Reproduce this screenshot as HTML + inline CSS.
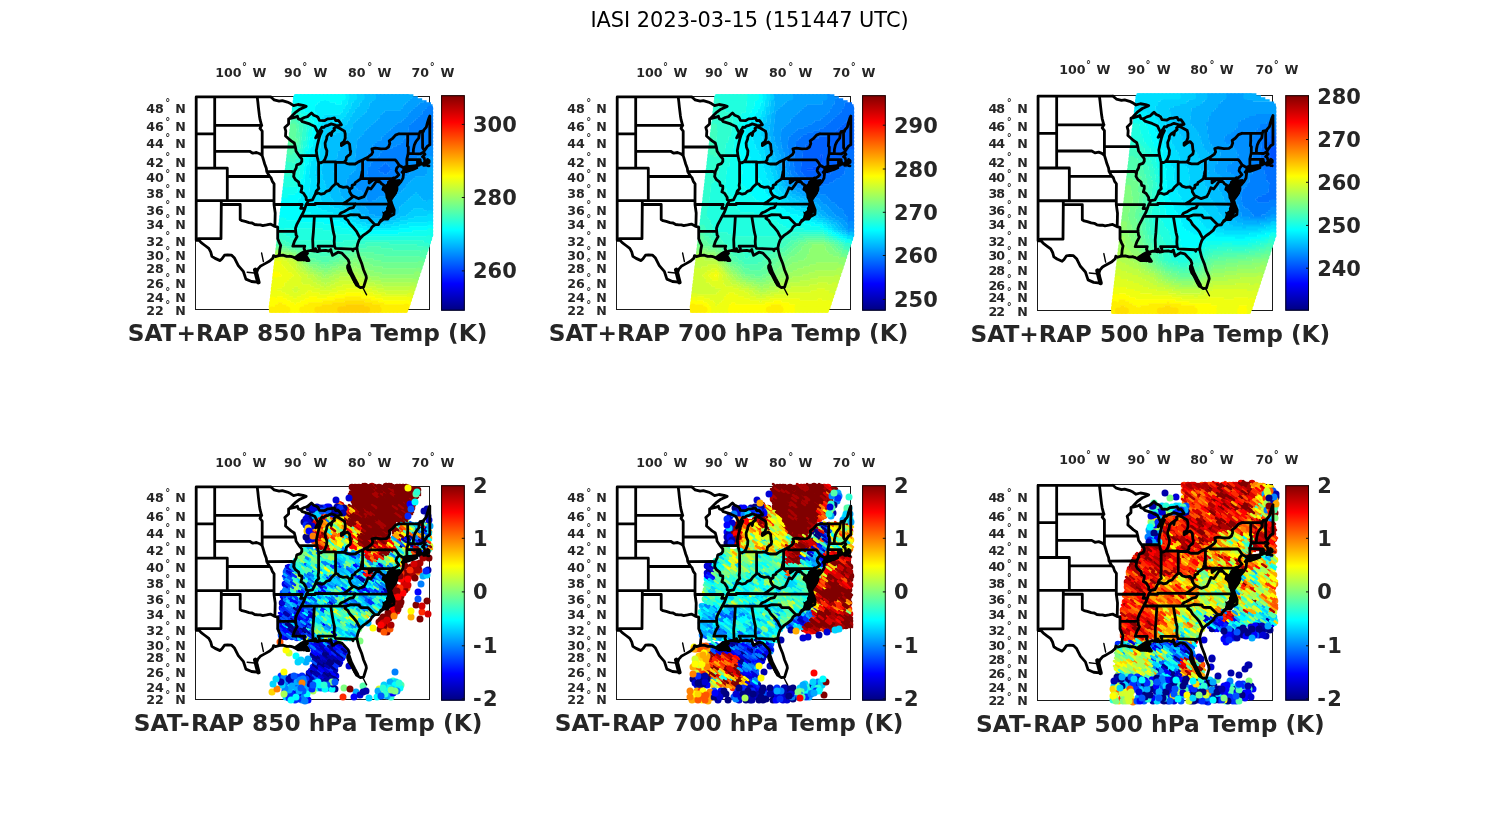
<!DOCTYPE html>
<html lang="en"><head><meta charset="utf-8"><title>IASI 2023-03-15 (151447 UTC)</title>
<style>html,body{margin:0;padding:0;background:#fff}svg{display:block}text{font-family:'DejaVu Sans','Liberation Sans',sans-serif;fill:#262626}.b{font-weight:bold}.t{font-size:12.6px;font-weight:bold}.c{font-size:20.95px;font-weight:bold}.x{font-size:23.27px;font-weight:bold}.d{font-size:10px;font-weight:bold}</style></head><body>
<svg width="1500" height="825" viewBox="0 0 1500 825">
<defs><linearGradient id="jet" x1="0" y1="1" x2="0" y2="0">
<stop offset="0" stop-color="#000080"/>
<stop offset="0.125" stop-color="#0000ff"/>
<stop offset="0.375" stop-color="#00ffff"/>
<stop offset="0.625" stop-color="#ffff00"/>
<stop offset="0.875" stop-color="#ff0000"/>
<stop offset="1" stop-color="#800000"/>
</linearGradient>
<g id="bd" fill="none" stroke="#000" stroke-linejoin="round" stroke-linecap="round"><path d="M196.2 96.9L270.7 96.9M196.2 96.9L196.2 240.3M196.2 133.8L214.7 133.8M214.7 96.9L214.7 168.2M214.7 125.4L261.8 125.4M214.7 151.3L249.6 151.3L252.8 153.2L256.5 152.5L259.7 153.7L262.2 155.6M196.2 168.2L227.3 168.2L227.3 200.6M227.3 176.5L269.7 176.5M196.2 200.6L274.0 200.6M221.3 200.6L221.3 204.5L221.0 238.7L198.7 238.7L199.0 240.3L196.2 240.3M221.3 204.5L240.2 204.5L240.2 219.5L242.1 220.7L245.2 221.4L249.0 222.6L252.1 223.0L254.7 224.5L257.8 224.9L260.3 224.9L262.8 225.6L266.6 224.9L270.4 224.1L274.9 226.4M274.9 226.4L277.7 227.1L277.7 238.7L279.2 242.4L280.7 245.4L279.8 249.7L279.5 253.4L278.9 255.6M274.0 200.6L274.0 204.5L275.2 213.0L274.9 226.4M274.0 200.6L274.1 183.8L272.3 181.4L271.0 177.7L269.7 176.5L266.8 171.7L266.3 168.2L264.7 164.0L263.5 159.8L262.2 155.6L262.2 151.3L262.2 147.0L262.2 131.1L260.0 128.4L261.6 125.4L260.0 119.4L259.4 115.7L258.4 107.3L257.8 101.7L257.2 96.9M262.2 147.0L295.4 147.0M266.8 171.7L292.2 171.5L294.1 173.3M274.0 204.5L302.1 204.5L300.7 208.4L304.9 208.4M277.7 231.1L295.7 231.3M199.0 240.3L201.2 242.6L205.0 245.5L208.8 248.4L210.7 251.9L211.9 256.3L215.1 258.4L220.1 260.6L222.0 258.8L224.5 255.2L227.6 254.8L231.4 255.1L234.5 258.1L238.3 265.6L243.3 271.3L245.9 279.1L251.5 281.5L258.1 282.2M258.1 282.2L257.2 277.7L256.5 272.7L257.8 269.2L260.3 266.3L262.8 264.9L266.0 263.1L269.7 261.0L272.9 258.1L273.5 255.6L275.4 256.6L278.9 255.6M278.9 255.6L282.9 255.2L286.7 256.3L290.5 256.3L293.0 257.0L295.5 258.4L298.0 259.9L301.8 259.9L303.7 258.4L306.8 260.6L309.0 260.6L306.8 257.0L305.6 254.8L307.5 253.4L304.3 252.3L305.6 251.9M305.6 251.9L307.5 251.2L310.6 250.5L313.1 250.8L315.0 251.2L315.6 248.7L316.3 250.5L317.2 251.6L318.8 251.3M318.8 251.2L321.9 250.6L325.7 250.3L328.8 251.2L330.8 249.5L331.5 252.5L332.6 255.4L335.0 254.0L338.0 252.2L342.0 253.2L348.0 259.6L349.2 262.8L347.6 268.0L349.2 272.4L352.4 276.0L354.8 282.0L358.0 286.0L360.4 287.6L363.6 287.2L365.2 282.0L366.4 278.0L366.0 275.6L363.6 270.0L361.6 263.2L358.8 256.4L357.2 250.0L357.1 248.3M356.8 248.3L357.7 243.9L359.0 240.2L360.3 238.3L362.8 235.7L366.5 233.1L370.3 230.1L372.2 226.8L375.0 224.7M375.0 224.7L378.5 224.5L379.7 222.2L383.5 219.2L387.6 219.2L389.2 216.9L393.9 214.2L394.2 209.9L391.9 204.1M389.2 216.9L386.7 216.1L387.9 213.0L391.7 211.5L391.1 208.8L387.3 208.4L391.7 206.8L391.9 204.1M391.9 204.1L391.1 201.3L389.2 200.6L389.2 196.6L389.2 193.0L388.5 190.2L387.9 185.4L388.5 182.2L391.1 180.1L389.8 184.6L389.2 188.6L391.1 191.0L392.0 193.0L391.4 196.6L391.1 199.4L393.6 195.8L395.5 192.6L396.7 190.2L397.0 189.0L396.7 186.2L394.8 183.8L393.9 180.5L394.8 178.1M393.9 180.5L396.1 182.6L398.0 185.0L401.1 181.4L403.0 178.1L403.6 173.2L402.1 172.3L403.6 170.7L404.3 168.2M403.6 171.5L406.8 171.5L413.1 169.4L416.8 167.8L413.7 167.4L409.9 168.6L405.5 169.4L403.6 170.7M405.8 168.2L409.9 166.5L414.3 165.9L417.1 165.5L419.3 165.1L420.0 162.3L421.2 164.0L422.5 164.0L424.7 162.1L425.0 163.8L428.8 162.6L429.1 162.5L429.1 160.6L427.5 159.4L428.5 160.6L428.8 161.7L425.6 161.7L424.7 160.2L424.1 157.7L422.5 156.8L423.1 156.2L425.0 154.3L423.7 152.6L424.4 150.6L427.5 146.1L429.8 144.8M429.8 144.8L429.8 116.2M423.7 165.3L425.9 165.0M427.5 165.7L429.0 165.9M424.1 150.4L422.6 147.8L422.5 131.1M419.3 133.8L420.0 131.6L422.5 131.1L423.4 131.6L423.7 130.2L426.3 127.1L427.2 123.5L428.8 118.4L429.8 116.2M398.9 133.8L419.3 133.8M413.3 153.6L413.4 149.5L414.3 145.2L415.9 141.7L418.7 138.2L419.3 133.8M408.2 153.4L420.6 153.8L423.4 152.3M406.8 159.4L417.5 159.6L420.1 159.6L420.1 160.6L421.2 164.0M417.5 159.6L417.5 165.4M407.7 133.8L407.7 140.9L407.4 146.1L408.3 147.0L408.2 153.4L406.8 159.4L406.9 166.5L405.8 168.2M399.2 165.3L404.3 168.2M367.4 157.5L367.4 159.8L395.1 159.8L396.7 161.5L399.2 165.3M399.2 165.3L396.7 168.2L396.1 170.7L396.7 171.9L398.9 174.8L396.7 176.9L394.8 178.1M398.9 133.8L395.5 135.1L392.3 138.7L389.2 140.9L389.8 143.5L388.5 147.0L386.0 148.7L381.0 148.9L375.3 148.1L371.9 148.9L372.8 152.1L371.6 154.3L367.4 157.5L365.3 158.5L362.6 160.0L358.4 161.9L355.2 164.0L353.3 164.0L348.9 164.0L347.1 163.6L344.2 162.1M362.6 160.0L362.6 178.7M362.6 178.7L392.4 178.7L393.6 177.8L394.8 178.1M392.4 178.7L392.9 189.0L397.0 189.0M369.2 178.7L369.2 183.0L373.5 179.7L377.2 179.3L380.2 182.0M380.2 182.0L381.6 183.8L384.1 185.4L382.9 189.4L385.4 190.6L389.2 193.0M380.2 182.0L376.3 181.4L373.0 186.2L370.9 189.0L368.1 187.8L365.9 193.0L364.0 196.6L358.4 198.6L353.5 196.3M349.6 189.3L349.6 191.8L351.5 195.0L353.5 196.3M353.5 196.3L348.9 199.8L346.4 201.7L342.8 203.7M362.6 171.2L362.1 171.5L361.5 175.2L360.6 178.9L357.1 181.4L355.2 182.6L354.9 184.2L352.1 185.4L352.1 187.8L349.6 189.3L347.1 186.8L343.3 187.4L339.5 186.2L337.6 183.8L335.6 183.8L332.0 187.0L329.5 190.4L326.3 191.4L324.4 193.4L321.3 194.2L318.1 193.0L315.3 194.2L312.5 199.8L308.4 200.6M335.6 183.8L335.6 162.3M323.2 161.8L335.6 161.8L335.6 162.3L344.2 162.1M318.6 162.3L318.6 182.2L318.1 185.4L318.8 188.6L316.3 191.0L315.3 194.2M299.0 155.5L316.9 155.6M306.2 204.5L315.3 204.5L315.3 203.3L342.8 203.7L355.4 203.8L391.9 204.1M355.4 203.8L353.3 207.6L349.6 208.4L347.1 209.9L343.9 211.7L340.8 213.0L338.9 216.1M301.2 216.1L346.4 216.1M314.4 216.1L313.4 232.0L312.7 239.5L313.1 250.8M330.7 216.1L333.4 232.2L334.5 236.5L334.2 241.7L334.5 246.1M318.8 251.2L319.4 248.7L318.1 246.1L334.5 246.1L335.4 248.3L352.1 249.2L353.0 250.7L353.3 249.0L356.8 248.3M292.8 246.1L304.8 246.1L304.0 248.7L305.6 251.9M346.4 216.1L344.9 218.4L347.7 220.3L349.9 224.1L354.0 228.3L356.5 231.3L358.4 235.0L360.3 238.3M346.4 216.1L350.8 214.6L359.3 214.9L359.3 215.7L360.9 217.5L367.8 217.6L375.0 224.7M290.5 118.4L288.6 118.8L288.6 123.9L284.8 127.5L285.8 131.1L285.5 136.0L288.6 138.7L291.1 140.9L294.3 143.0L295.4 147.0L296.1 151.3L299.0 155.5L301.8 158.9L301.8 161.5L300.5 163.6L296.8 164.8L296.1 168.2L294.3 171.5L294.1 173.3L293.6 176.5L295.5 179.7L298.7 182.2L299.3 185.4L301.8 186.2L301.8 188.6L300.9 191.8L303.7 193.4L306.2 197.4L306.2 199.8L308.4 200.6L306.8 203.7L306.2 204.5L304.9 208.4L303.4 212.2L301.2 216.1L299.3 219.9L296.8 224.5L295.5 228.3L295.7 231.3L296.1 235.0L297.1 236.5L294.3 241.7L292.8 246.1M270.7 96.9L272.9 98.8L274.1 99.8L279.2 101.2L282.3 100.7L287.3 102.1L290.5 103.6L293.6 105.7L298.0 104.5L303.1 105.4L306.2 106.4L299.9 109.2L294.9 112.9L289.9 118.0M290.5 118.4L295.5 117.1L297.4 116.2L298.3 118.9L300.5 119.6M300.5 119.6L304.3 117.5L307.5 116.6L310.0 114.3L311.5 112.9L313.7 115.2L316.3 116.2L318.1 117.5L319.4 120.3L324.4 120.7L327.6 118.9L331.3 118.6L334.5 118.0L335.7 120.6L338.3 120.3L340.1 122.6L341.4 124.8L338.9 125.3L336.4 125.7L334.5 124.8L331.3 123.9L328.2 125.3L325.1 126.2L323.8 127.5L321.9 127.1L321.3 128.4L318.1 132.9M318.1 132.9L316.9 130.7L315.0 126.6L310.6 124.6L308.7 123.6L302.4 121.7L300.5 119.6M318.1 132.9L317.5 134.2L315.6 137.8L317.2 136.9L321.9 131.1L320.0 135.1L318.8 139.1L317.5 144.3L316.3 150.4L316.9 155.6L318.1 160.6L318.6 162.3L320.7 162.9L323.2 161.8M323.2 161.8L325.1 158.9L326.6 154.7L326.9 150.8L325.4 147.0L325.1 143.0L326.6 139.1L326.9 136.5L328.2 134.7L330.7 132.9L331.3 135.6L332.0 132.0L334.5 130.2L333.9 128.4L336.1 126.8L339.5 128.2L344.5 131.1L345.2 133.8L345.2 138.2L343.9 141.7L341.4 143.5L341.4 145.7L344.5 143.5L347.4 142.0L349.6 144.3L350.2 150.4L350.7 151.3L350.2 154.3L348.3 155.6L346.4 157.3L346.1 159.8L344.2 162.1" stroke-width="2.8"/><path d="M261.6 253L263.4 261.5M247.2 272.2L254.4 273M363 288L366.6 294.8" stroke-width="1.4"/><path d="M348.5 266.0L350.5 272.0L354.0 279.0L357.0 284.5M255.2 269.8L256.8 276.2L258.4 282.2" stroke-width="4.4"/><path d="M385.5 197.6L386.7 199.7L386.7 199.8L386.8 199.9L387.6 202.7L387.6 202.8L387.6 202.9L387.6 203.0L387.6 203.1L387.6 203.2L386.8 206.4L386.0 210.0L385.9 210.1L385.9 210.2L385.9 210.3L385.8 210.4L385.7 210.5L385.7 210.5L385.6 210.6L384.0 211.8L383.9 211.9L383.8 211.9L383.7 211.9L383.6 212.0L383.5 212.0L383.4 212.0L383.4 212.0L383.3 212.0L383.2 212.0L383.1 211.9L383.0 211.9L382.9 211.9L382.8 211.8L382.0 211.2L382.8 213.9L382.8 214.0L382.8 214.1L382.8 214.2L382.8 214.3L382.8 214.4L382.0 217.6L381.9 217.7L381.9 217.8L381.9 217.9L381.8 218.0L381.8 218.0L381.7 218.1L381.6 218.2L381.6 218.2L379.5 219.6L379.2 222.7L379.2 222.8L379.2 222.9L379.1 223.0L379.1 223.1L379.0 223.2L379.0 223.2L378.9 223.3L378.8 223.4L378.8 223.4L378.7 223.5L378.6 223.5L378.5 223.6L378.4 223.6L378.3 223.6L377.8 223.7L378.5 224.1L380.2 222.4L381.8 220.0L381.8 220.0L381.9 219.9L382.0 219.8L382.1 219.8L382.2 219.7L385.4 218.1L385.4 218.1L385.5 218.0L385.6 218.0L385.7 218.0L385.8 218.0L385.9 218.0L388.6 218.3L389.8 216.8L392.1 212.9L392.2 212.8L392.3 212.7L392.3 212.7L392.4 212.6L392.5 212.5L392.6 212.5L392.7 212.5L392.8 212.4L392.9 212.4L393.0 212.4L393.1 212.4L393.2 212.4L393.3 212.4L393.4 212.5L395.2 213.2L394.5 211.4L394.4 211.3L392.9 205.7L391.3 201.8L391.2 201.7L391.2 201.6L391.2 201.5L391.2 201.4L391.2 201.3L391.2 201.2L391.3 201.1L392.1 198.7L392.1 198.6L392.1 198.5L392.2 198.4L392.2 198.4L392.3 198.3L392.4 198.2L394.8 196.3L396.9 193.6L398.4 185.8L398.4 185.7L398.5 185.6L398.5 185.5L398.6 185.4L398.6 185.4L398.7 185.3L402.1 181.9L399.8 179.1L390.0 180.1L390.0 180.4L390.0 180.5L390.0 180.6L390.0 180.7L389.9 180.8L389.9 180.9L389.8 181.0L389.8 181.0L389.7 181.1L389.6 181.2L383.0 186.6L382.1 189.1L385.0 193.4L385.1 193.5L385.1 193.6L385.2 193.7L385.2 193.8L385.2 193.9L385.6 197.1L385.6 197.2L385.6 197.3L385.6 197.4L385.6 197.5L385.5 197.6ZM402.1 174.3L403.1 172.4L403.2 172.3L403.2 172.2L403.3 172.1L403.4 172.0L403.4 172.0L403.5 171.9L403.6 171.9L407.6 170.3L407.8 170.2L415.6 168.3L419.4 165.6L419.5 165.5L419.6 165.5L419.7 165.4L419.8 165.4L426.8 163.9L428.9 162.7L428.7 159.8L425.9 159.8L424.9 162.4L424.9 162.4L424.9 162.5L424.8 162.6L424.7 162.7L424.7 162.7L424.6 162.8L424.5 162.8L424.4 162.9L420.4 164.9L420.4 164.9L420.3 165.0L420.2 165.0L420.1 165.0L420.0 165.0L406.5 165.0L403.3 166.0L402.5 170.1ZM300.1 252.3L294.6 256.2L294.5 256.3L294.4 256.3L294.3 256.4L294.2 256.4L294.1 256.4L294.0 256.4L293.9 256.4L293.8 256.4L293.7 256.4L293.6 256.3L289.4 254.5L289.4 254.8L294.4 257.7L300.0 260.1L303.7 261.6L307.4 260.8L307.5 260.8L307.6 260.8L307.7 260.8L307.8 260.8L307.9 260.8L307.9 260.9L308.0 260.9L308.1 260.9L309.6 261.8L309.1 260.7L306.8 257.6L306.7 257.5L306.7 257.4L306.7 257.3L306.6 257.3L306.6 257.2L306.6 257.1L306.6 257.0L306.6 256.9L307.3 251.2L304.4 250.1Z" fill="#000" stroke="none"/></g>
</defs>
<rect width="1500" height="825" fill="#fff"/>
<text x="749.5" y="26.8" text-anchor="middle" style="font-size:20.86px;fill:#000">IASI 2023-03-15 (151447 UTC)</text>
<g>
<rect x="195.5" y="96.5" width="234.0" height="213.0" fill="#fff" stroke="#1a1a1a" stroke-width="1" shape-rendering="crispEdges"/>
<path d="M429.1 123.4H432.6M426.8 125.4H432.6M428.6 127.4H432.6M384.4 163.4H386.7M382.2 165.4H388.5M380.0 167.4H390.3M377.7 169.4H392.0M379.5 171.4H389.8M383.3 173.4H387.6" stroke="#0070ff" stroke-width="2.50" fill="none"/><path d="M426.9 107.4H432.6M424.7 109.4H432.6M422.5 111.4H432.6M422.2 113.4H432.6M420.0 115.4H432.6M417.8 117.4H432.6M415.5 119.4H432.6M413.3 121.4H432.6M411.1 123.4H429.4M408.8 125.4H427.1M408.6 127.4H428.9M408.4 129.4H432.6M408.1 131.4H432.6M405.9 133.4H432.6M405.7 135.4H432.6M405.4 137.4H432.6M403.2 139.4H432.6M403.0 141.4H432.6M400.7 143.4H432.6M396.5 145.4H432.6M392.3 147.4H426.6M384.0 149.4H424.3M381.8 151.4H422.1M379.6 153.4H421.9M379.4 155.4H419.7M377.1 157.4H417.4M374.9 159.4H413.2M372.7 161.4H409.0M370.4 163.4H384.7M386.4 163.4H406.7M370.2 165.4H382.5M388.2 165.4H406.5M368.0 167.4H380.3M390.0 167.4H404.3M367.7 169.4H378.0M391.7 169.4H404.0M367.5 171.4H379.8M389.5 171.4H403.8M367.3 173.4H383.6M387.3 173.4H401.6M367.0 175.4H397.3M368.8 177.4H395.1M368.6 179.4H390.9M370.3 181.4H388.6M380.1 183.4H386.4" stroke="#0080ff" stroke-width="2.50" fill="none"/><path d="M423.6 101.4H426.6M419.4 103.4H431.0M417.2 105.4H432.6M414.9 107.4H427.2M412.7 109.4H425.0M410.5 111.4H422.8M408.2 113.4H422.5M408.0 115.4H420.3M405.8 117.4H418.1M403.5 119.4H415.8M401.3 121.4H413.6M397.1 123.4H411.4M394.8 125.4H409.1M392.6 127.4H408.9M390.4 129.4H408.7M388.1 131.4H408.4M385.9 133.4H406.2M383.7 135.4H406.0M381.4 137.4H405.7M381.2 139.4H403.5M377.0 141.4H403.3M374.7 143.4H401.0M372.5 145.4H396.8M372.3 147.4H392.6M426.3 147.4H432.6M370.0 149.4H384.3M424.0 149.4H432.6M369.8 151.4H382.1M421.8 151.4H432.6M367.6 153.4H379.9M421.6 153.4H432.6M367.4 155.4H379.7M419.4 155.4H432.6M365.1 157.4H377.4M417.1 157.4H432.6M364.9 159.4H375.2M412.9 159.4H427.2M364.7 161.4H373.0M408.7 161.4H425.0M362.4 163.4H370.7M406.4 163.4H422.7M362.2 165.4H370.5M406.2 165.4H418.5M362.0 167.4H368.3M404.0 167.4H414.3M361.7 169.4H368.0M403.7 169.4H412.0M361.5 171.4H367.8M403.5 171.4H411.8M361.3 173.4H367.6M401.3 173.4H409.6M359.0 175.4H367.3M397.0 175.4H407.3M358.8 177.4H369.1M394.8 177.4H405.1M358.6 179.4H368.9M390.6 179.4H402.9M356.3 181.4H370.6M388.3 181.4H400.6M354.1 183.4H380.4M386.1 183.4H398.4M353.9 185.4H394.2M355.6 187.4H393.9M357.4 189.4H391.7M361.2 191.4H389.5M362.9 193.4H387.2M364.7 195.4H385.0M366.5 197.4H378.8M366.2 199.4H376.5M368.0 201.4H372.3" stroke="#008fff" stroke-width="2.50" fill="none"/><path d="M412.1 97.4H417.8M409.9 99.4H422.2M407.6 101.4H423.9M405.4 103.4H419.7M403.2 105.4H417.5M402.9 107.4H415.2M400.7 109.4H413.0M384.5 111.4H410.8M382.2 113.4H408.5M380.0 115.4H408.3M379.8 117.4H406.1M377.5 119.4H403.8M375.3 121.4H401.6M373.1 123.4H397.4M370.8 125.4H395.1M368.6 127.4H392.9M366.4 129.4H390.7M364.1 131.4H388.4M363.9 133.4H386.2M361.7 135.4H384.0M359.4 137.4H381.7M357.2 139.4H381.5M357.0 141.4H377.3M356.7 143.4H375.0M356.5 145.4H372.8M356.3 147.4H372.6M356.0 149.4H370.3M355.8 151.4H370.1M355.6 153.4H367.9M355.4 155.4H367.7M355.1 157.4H365.4M354.9 159.4H365.2M426.9 159.4H432.6M354.7 161.4H365.0M424.7 161.4H432.6M356.4 163.4H362.7M422.4 163.4H432.6M356.2 165.4H362.5M418.2 165.4H432.6M356.0 167.4H362.3M414.0 167.4H432.6M355.7 169.4H362.0M411.7 169.4H430.0M353.5 171.4H361.8M411.5 171.4H427.8M351.3 173.4H361.6M409.3 173.4H427.6M349.0 175.4H359.3M407.0 175.4H425.3M348.8 177.4H359.1M404.8 177.4H415.1M346.6 179.4H358.9M402.6 179.4H412.9M346.3 181.4H356.6M400.3 181.4H410.6M346.1 183.4H354.4M398.1 183.4H408.4M345.9 185.4H354.2M393.9 185.4H406.2M345.6 187.4H355.9M393.6 187.4H405.9M347.4 189.4H357.7M391.4 189.4H403.7M349.2 191.4H361.5M389.2 191.4H401.5M350.9 193.4H363.2M386.9 193.4H399.2M350.7 195.4H365.0M384.7 195.4H397.0M352.5 197.4H366.8M378.5 197.4H394.8M354.2 199.4H366.5M376.2 199.4H392.5M358.0 201.4H368.3M372.0 201.4H392.3M359.8 203.4H392.1M361.5 205.4H391.8M365.3 207.4H391.6M367.1 209.4H391.4M368.8 211.4H391.1M368.6 213.4H390.9M374.4 215.4H388.7" stroke="#009fff" stroke-width="2.50" fill="none"/><path d="M378.3 95.4H413.4M376.1 97.4H412.4M373.9 99.4H410.2M371.6 101.4H407.9M369.4 103.4H405.7M369.2 105.4H403.5M368.9 107.4H403.2M366.7 109.4H401.0M366.5 111.4H384.8M364.2 113.4H382.5M362.0 115.4H380.3M359.8 117.4H380.1M357.5 119.4H377.8M355.3 121.4H375.6M353.1 123.4H373.4M352.8 125.4H371.1M352.6 127.4H368.9M350.4 129.4H366.7M350.1 131.4H364.4M347.9 133.4H364.2M347.7 135.4H362.0M345.4 137.4H359.7M345.2 139.4H357.5M343.0 141.4H357.3M342.7 143.4H357.0M342.5 145.4H356.8M340.3 147.4H356.6M340.0 149.4H356.3M337.8 151.4H356.1M337.6 153.4H355.9M337.4 155.4H355.7M337.1 157.4H355.4M334.9 159.4H355.2M334.7 161.4H355.0M334.4 163.4H356.7M334.2 165.4H356.5M334.0 167.4H356.3M333.7 169.4H356.0M429.7 169.4H432.6M333.5 171.4H353.8M427.5 171.4H432.6M335.3 173.4H351.6M427.3 173.4H432.6M335.0 175.4H349.3M425.0 175.4H432.6M334.8 177.4H349.1M414.8 177.4H432.6M336.6 179.4H346.9M412.6 179.4H432.6M336.3 181.4H346.6M410.3 181.4H432.6M336.1 183.4H346.4M408.1 183.4H432.6M335.9 185.4H346.2M405.9 185.4H432.6M337.6 187.4H345.9M405.6 187.4H432.6M339.4 189.4H347.7M403.4 189.4H432.6M339.2 191.4H349.5M401.2 191.4H432.6M340.9 193.4H351.2M398.9 193.4H415.2M416.9 193.4H432.6M340.7 195.4H351.0M396.7 195.4H413.0M418.7 195.4H432.6M342.5 197.4H352.8M394.5 197.4H410.8M420.5 197.4H432.6M344.2 199.4H354.5M392.2 199.4H408.5M422.2 199.4H432.6M346.0 201.4H358.3M392.0 201.4H406.3M426.0 201.4H432.6M349.8 203.4H360.1M391.8 203.4H404.1M353.5 205.4H361.8M391.5 205.4H401.8M355.3 207.4H365.6M391.3 207.4H399.6M357.1 209.4H367.4M391.1 209.4H399.4M358.8 211.4H369.1M390.8 211.4H399.1M360.6 213.4H368.9M390.6 213.4H398.9M364.4 215.4H374.7M388.4 215.4H396.7M368.1 217.4H392.4M381.9 219.4H386.2" stroke="#00afff" stroke-width="2.50" fill="none"/><path d="M364.3 95.4H378.6M364.1 97.4H376.4M361.9 99.4H374.2M361.6 101.4H371.9M359.4 103.4H369.7M359.2 105.4H369.5M356.9 107.4H369.2M354.7 109.4H367.0M354.5 111.4H366.8M352.2 113.4H364.5M352.0 115.4H362.3M349.8 117.4H360.1M349.5 119.4H357.8M347.3 121.4H355.6M347.1 123.4H353.4M344.8 125.4H353.1M342.6 127.4H352.9M342.4 129.4H350.7M340.1 131.4H350.4M335.9 133.4H348.2M331.7 135.4H348.0M327.4 137.4H345.7M325.2 139.4H345.5M325.0 141.4H343.3M324.7 143.4H343.0M324.5 145.4H342.8M324.3 147.4H340.6M324.0 149.4H340.3M325.8 151.4H338.1M325.6 153.4H337.9M325.4 155.4H337.7M325.1 157.4H337.4M322.9 159.4H335.2M322.7 161.4H335.0M322.4 163.4H334.7M322.2 165.4H334.5M322.0 167.4H334.3M321.7 169.4H334.0M321.5 171.4H333.8M321.3 173.4H335.6M323.0 175.4H335.3M322.8 177.4H335.1M322.6 179.4H336.9M324.3 181.4H336.6M324.1 183.4H336.4M325.9 185.4H336.2M325.6 187.4H337.9M327.4 189.4H339.7M327.2 191.4H339.5M328.9 193.4H341.2M414.9 193.4H417.2M330.7 195.4H341.0M412.7 195.4H419.0M330.5 197.4H342.8M410.5 197.4H420.8M332.2 199.4H344.5M408.2 199.4H422.5M334.0 201.4H346.3M406.0 201.4H426.3M339.8 203.4H350.1M403.8 203.4H432.6M343.5 205.4H353.8M401.5 205.4H432.6M345.3 207.4H355.6M399.3 207.4H432.6M349.1 209.4H357.4M399.1 209.4H413.4M423.1 209.4H432.6M350.8 211.4H359.1M398.8 211.4H411.1M352.6 213.4H360.9M398.6 213.4H408.9M356.4 215.4H364.7M396.4 215.4H406.7M360.1 217.4H368.4M392.1 217.4H400.4M363.9 219.4H382.2M385.9 219.4H396.2M369.7 221.4H390.0" stroke="#00bfff" stroke-width="2.50" fill="none"/><path d="M356.3 95.4H364.6M356.1 97.4H364.4M353.9 99.4H362.2M353.6 101.4H361.9M351.4 103.4H359.7M351.2 105.4H359.5M350.9 107.4H357.2M348.7 109.4H355.0M348.5 111.4H354.8M346.2 113.4H352.5M346.0 115.4H352.3M343.8 117.4H350.1M341.5 119.4H349.8M341.3 121.4H347.6M325.1 123.4H347.4M322.8 125.4H345.1M322.6 127.4H342.9M322.4 129.4H342.7M322.1 131.4H340.4M321.9 133.4H336.2M321.7 135.4H332.0M321.4 137.4H327.7M321.2 139.4H325.5M321.0 141.4H325.3M320.7 143.4H325.0M320.5 145.4H324.8M320.3 147.4H324.6M320.0 149.4H324.3M319.8 151.4H326.1M319.6 153.4H325.9M319.4 155.4H325.7M319.1 157.4H325.4M318.9 159.4H323.2M316.7 161.4H323.0M316.4 163.4H322.7M316.2 165.4H322.5M316.0 167.4H322.3M315.7 169.4H322.0M315.5 171.4H321.8M315.3 173.4H321.6M315.0 175.4H323.3M316.8 177.4H323.1M316.6 179.4H322.9M316.3 181.4H324.6M316.1 183.4H324.4M317.9 185.4H326.2M317.6 187.4H325.9M317.4 189.4H327.7M319.2 191.4H327.5M318.9 193.4H329.2M318.7 195.4H331.0M320.5 197.4H330.8M320.2 199.4H332.5M322.0 201.4H334.3M325.8 203.4H340.1M329.5 205.4H343.8M333.3 207.4H345.6M339.1 209.4H349.4M413.1 209.4H423.4M342.8 211.4H351.1M410.8 211.4H432.6M344.6 213.4H352.9M408.6 213.4H432.6M348.4 215.4H356.7M406.4 215.4H432.6M352.1 217.4H360.4M400.1 217.4H414.4M355.9 219.4H364.2M395.9 219.4H408.2M359.7 221.4H370.0M389.7 221.4H400.0M365.4 223.4H393.7M383.2 225.4H385.5" stroke="#00cfff" stroke-width="2.50" fill="none"/><path d="M350.3 95.4H356.6M350.1 97.4H356.4M347.9 99.4H354.2M347.6 101.4H353.9M347.4 103.4H351.7M345.2 105.4H351.5M344.9 107.4H351.2M342.7 109.4H349.0M342.5 111.4H348.8M340.2 113.4H346.5M324.0 115.4H346.3M321.8 117.4H344.1M321.5 119.4H341.8M321.3 121.4H341.6M321.1 123.4H325.4M320.8 125.4H323.1M320.6 127.4H322.9M320.4 129.4H322.7M318.1 131.4H322.4M317.9 133.4H322.2M317.7 135.4H322.0M317.4 137.4H321.7M317.2 139.4H321.5M317.0 141.4H321.3M316.7 143.4H321.0M316.5 145.4H320.8M316.3 147.4H320.6M314.0 149.4H320.3M313.8 151.4H320.1M313.6 153.4H319.9M313.4 155.4H319.7M313.1 157.4H319.4M312.9 159.4H319.2M310.7 161.4H317.0M310.4 163.4H316.7M310.2 165.4H316.5M310.0 167.4H316.3M309.7 169.4H316.0M309.5 171.4H315.8M309.3 173.4H315.6M309.0 175.4H315.3M308.8 177.4H317.1M310.6 179.4H316.9M310.3 181.4H316.6M310.1 183.4H316.4M309.9 185.4H318.2M309.6 187.4H317.9M309.4 189.4H317.7M309.2 191.4H319.5M308.9 193.4H319.2M308.7 195.4H319.0M308.5 197.4H320.8M308.2 199.4H320.5M310.0 201.4H322.3M311.8 203.4H326.1M315.5 205.4H329.8M317.3 207.4H333.6M321.1 209.4H339.4M326.8 211.4H343.1M332.6 213.4H344.9M338.4 215.4H348.7M342.1 217.4H352.4M414.1 217.4H432.6M345.9 219.4H356.2M407.9 219.4H432.6M351.7 221.4H360.0M399.7 221.4H432.6M355.4 223.4H365.7M393.4 223.4H407.7M361.2 225.4H383.5M385.2 225.4H399.5M367.0 227.4H391.3" stroke="#00dfff" stroke-width="2.50" fill="none"/><path d="M344.3 95.4H350.6M344.1 97.4H350.4M323.9 99.4H326.2M341.9 99.4H348.2M319.6 101.4H329.9M341.6 101.4H347.9M317.4 103.4H335.7M341.4 103.4H347.7M315.2 105.4H345.5M314.9 107.4H345.2M314.7 109.4H343.0M314.5 111.4H342.8M316.2 113.4H340.5M316.0 115.4H324.3M315.8 117.4H322.1M317.5 119.4H321.8M317.3 121.4H321.6M317.1 123.4H321.4M316.8 125.4H321.1M316.6 127.4H320.9M316.4 129.4H320.7M316.1 131.4H318.4M315.9 133.4H318.2M313.7 135.4H318.0M313.4 137.4H317.7M313.2 139.4H317.5M313.0 141.4H317.3M312.7 143.4H317.0M312.5 145.4H316.8M310.3 147.4H316.6M310.0 149.4H314.3M309.8 151.4H314.1M309.6 153.4H313.9M309.4 155.4H313.7M309.1 157.4H313.4M308.9 159.4H313.2M308.7 161.4H311.0M308.4 163.4H310.7M306.2 165.4H310.5M306.0 167.4H310.3M305.7 169.4H310.0M305.5 171.4H309.8M305.3 173.4H309.6M305.0 175.4H309.3M304.8 177.4H309.1M304.6 179.4H310.9M304.3 181.4H310.6M304.1 183.4H310.4M303.9 185.4H310.2M303.6 187.4H309.9M303.4 189.4H309.7M303.2 191.4H309.5M302.9 193.4H309.2M300.7 195.4H309.0M300.5 197.4H308.8M298.2 199.4H308.5M298.0 201.4H310.3M297.8 203.4H312.1M297.5 205.4H315.8M299.3 207.4H317.6M301.1 209.4H321.4M302.8 211.4H327.1M310.6 213.4H332.9M316.4 215.4H338.7M324.1 217.4H342.4M331.9 219.4H346.2M339.7 221.4H352.0M343.4 223.4H355.7M407.4 223.4H432.6M349.2 225.4H361.5M399.2 225.4H432.6M357.0 227.4H367.3M391.0 227.4H409.3M362.7 229.4H399.0" stroke="#00efff" stroke-width="2.50" fill="none"/><path d="M294.3 95.4H344.6M294.1 97.4H344.4M293.9 99.4H324.2M325.9 99.4H342.2M293.6 101.4H319.9M329.6 101.4H341.9M299.4 103.4H317.7M335.4 103.4H341.7M301.2 105.4H315.5M302.9 107.4H315.2M302.7 109.4H315.0M304.5 111.4H314.8M308.2 113.4H316.5M310.0 115.4H316.3M309.8 117.4H316.1M311.5 119.4H317.8M313.3 121.4H317.6M313.1 123.4H317.4M312.8 125.4H317.1M312.6 127.4H316.9M312.4 129.4H316.7M312.1 131.4H316.4M311.9 133.4H316.2M311.7 135.4H314.0M309.4 137.4H313.7M309.2 139.4H313.5M309.0 141.4H313.3M308.7 143.4H313.0M308.5 145.4H312.8M308.3 147.4H310.6M308.0 149.4H310.3M305.8 151.4H310.1M305.6 153.4H309.9M305.4 155.4H309.7M305.1 157.4H309.4M304.9 159.4H309.2M304.7 161.4H309.0M304.4 163.4H308.7M304.2 165.4H306.5M304.0 167.4H306.3M303.7 169.4H306.0M303.5 171.4H305.8M303.3 173.4H305.6M303.0 175.4H305.3M302.8 177.4H305.1M300.6 179.4H304.9M300.3 181.4H304.6M300.1 183.4H304.4M299.9 185.4H304.2M299.6 187.4H303.9M297.4 189.4H303.7M297.2 191.4H303.5M294.9 193.4H303.2M286.7 195.4H301.0M282.5 197.4H300.8M282.2 199.4H298.5M282.0 201.4H298.3M281.8 203.4H298.1M281.5 205.4H297.8M281.3 207.4H299.6M281.1 209.4H301.4M280.8 211.4H303.1M280.6 213.4H310.9M280.4 215.4H316.7M280.1 217.4H324.4M285.9 219.4H332.2M295.7 221.4H340.0M323.4 223.4H343.7M333.2 225.4H349.5M341.0 227.4H357.3M409.0 227.4H432.6M348.7 229.4H363.0M398.7 229.4H432.6M356.5 231.4H412.8M364.3 233.4H398.6" stroke="#0ff" stroke-width="2.50" fill="none"/><path d="M293.4 103.4H299.7M293.2 105.4H301.5M292.9 107.4H303.2M294.7 109.4H303.0M298.5 111.4H304.8M300.2 113.4H308.5M304.0 115.4H310.3M305.8 117.4H310.1M307.5 119.4H311.8M309.3 121.4H313.6M309.1 123.4H313.4M310.8 125.4H313.1M310.6 127.4H312.9M308.4 129.4H312.7M308.1 131.4H312.4M307.9 133.4H312.2M307.7 135.4H312.0M307.4 137.4H309.7M307.2 139.4H309.5M307.0 141.4H309.3M306.7 143.4H309.0M306.5 145.4H308.8M304.3 147.4H308.6M304.0 149.4H308.3M303.8 151.4H306.1M303.6 153.4H305.9M303.4 155.4H305.7M303.1 157.4H305.4M302.9 159.4H305.2M300.7 161.4H305.0M300.4 163.4H304.7M300.2 165.4H304.5M300.0 167.4H304.3M299.7 169.4H304.0M299.5 171.4H303.8M299.3 173.4H303.6M299.0 175.4H303.3M298.8 177.4H303.1M296.6 179.4H300.9M296.3 181.4H300.6M296.1 183.4H300.4M295.9 185.4H300.2M283.6 187.4H299.9M283.4 189.4H297.7M283.2 191.4H297.5M282.9 193.4H295.2M282.7 195.4H287.0M279.9 219.4H286.2M279.7 221.4H296.0M279.4 223.4H323.7M279.2 225.4H333.5M279.0 227.4H341.3M322.7 229.4H349.0M330.5 231.4H356.8M412.5 231.4H432.6M336.3 233.4H364.6M398.3 233.4H432.6M352.0 235.4H432.5" stroke="#10ffef" stroke-width="2.50" fill="none"/><path d="M292.7 109.4H295.0M292.5 111.4H298.8M292.2 113.4H300.5M298.0 115.4H304.3M299.8 117.4H306.1M301.5 119.4H307.8M303.3 121.4H309.6M305.1 123.4H309.4M306.8 125.4H311.1M306.6 127.4H310.9M306.4 129.4H308.7M306.1 131.4H308.4M305.9 133.4H308.2M305.7 135.4H308.0M305.4 137.4H307.7M305.2 139.4H307.5M303.0 141.4H307.3M302.7 143.4H307.0M302.5 145.4H306.8M302.3 147.4H304.6M302.0 149.4H304.3M301.8 151.4H304.1M299.6 153.4H303.9M299.4 155.4H303.7M299.1 157.4H303.4M298.9 159.4H303.2M298.7 161.4H301.0M298.4 163.4H300.7M298.2 165.4H300.5M298.0 167.4H300.3M295.7 169.4H300.0M295.5 171.4H299.8M295.3 173.4H299.6M285.0 175.4H299.3M284.8 177.4H299.1M284.6 179.4H296.9M284.3 181.4H296.6M284.1 183.4H296.4M283.9 185.4H296.2M278.7 229.4H323.0M278.5 231.4H330.8M278.3 233.4H336.6M286.0 235.4H352.3M289.8 237.4H431.8M293.6 239.4H431.2M331.3 241.4H343.6M423.3 241.4H430.5" stroke="#20ffdf" stroke-width="2.50" fill="none"/><path d="M292.0 115.4H298.3M291.8 117.4H300.1M297.5 119.4H301.8M299.3 121.4H303.6M301.1 123.4H305.4M302.8 125.4H307.1M302.6 127.4H306.9M302.4 129.4H306.7M302.1 131.4H306.4M301.9 133.4H306.2M301.7 135.4H306.0M301.4 137.4H305.7M301.2 139.4H305.5M301.0 141.4H303.3M300.7 143.4H303.0M300.5 145.4H302.8M300.3 147.4H302.6M298.0 149.4H302.3M297.8 151.4H302.1M297.6 153.4H299.9M297.4 155.4H299.7M297.1 157.4H299.4M294.9 159.4H299.2M294.7 161.4H299.0M286.4 163.4H298.7M286.2 165.4H298.5M286.0 167.4H298.3M285.7 169.4H296.0M285.5 171.4H295.8M285.3 173.4H295.6M278.0 235.4H286.3M277.8 237.4H290.1M281.6 239.4H293.9M285.3 241.4H331.6M343.3 241.4H423.6M289.1 243.4H365.4M389.1 243.4H429.8M292.9 245.4H353.2M416.9 245.4H429.2M308.6 247.4H342.9M426.6 247.4H428.5M322.4 249.4H326.7" stroke="#30ffcf" stroke-width="2.50" fill="none"/><path d="M291.5 119.4H297.8M295.3 121.4H299.6M297.1 123.4H301.4M298.8 125.4H303.1M298.6 127.4H302.9M298.4 129.4H302.7M298.1 131.4H302.4M299.9 133.4H302.2M299.7 135.4H302.0M299.4 137.4H301.7M299.2 139.4H301.5M299.0 141.4H301.3M298.7 143.4H301.0M296.5 145.4H300.8M296.3 147.4H300.6M296.0 149.4H298.3M295.8 151.4H298.1M287.6 153.4H297.9M287.4 155.4H297.7M287.1 157.4H297.4M286.9 159.4H295.2M286.7 161.4H295.0M277.6 239.4H281.9M277.3 241.4H285.6M277.1 243.4H289.4M365.1 243.4H389.4M284.9 245.4H293.2M352.9 245.4H417.2M292.6 247.4H308.9M342.6 247.4H366.9M380.6 247.4H426.9M304.4 249.4H322.7M326.4 249.4H350.7M392.4 249.4H427.9M308.2 251.4H344.5M420.2 251.4H427.2M313.9 253.4H336.2M319.7 255.4H330.0" stroke="#40ffbf" stroke-width="2.50" fill="none"/><path d="M291.3 121.4H295.6M291.1 123.4H297.4M290.8 125.4H299.1M294.6 127.4H298.9M296.4 129.4H298.7M296.1 131.4H298.4M295.9 133.4H300.2M295.7 135.4H300.0M295.4 137.4H299.7M297.2 139.4H299.5M297.0 141.4H299.3M294.7 143.4H299.0M288.5 145.4H296.8M288.3 147.4H296.6M288.0 149.4H296.3M287.8 151.4H296.1M276.9 245.4H285.2M286.6 247.4H292.9M366.6 247.4H380.9M294.4 249.4H304.7M350.4 249.4H392.7M302.2 251.4H308.5M344.2 251.4H420.5M305.9 253.4H314.2M335.9 253.4H350.2M373.9 253.4H426.5M307.7 255.4H320.0M329.7 255.4H344.0M383.7 255.4H425.9M309.5 257.4H339.8M315.2 259.4H335.5M321.0 261.4H329.3" stroke="#50ffaf" stroke-width="2.50" fill="none"/><path d="M290.6 127.4H294.9M290.4 129.4H296.7M290.1 131.4H296.4M289.9 133.4H296.2M289.7 135.4H296.0M289.4 137.4H295.7M289.2 139.4H297.5M289.0 141.4H297.3M288.7 143.4H295.0M276.6 247.4H286.9M288.4 249.4H294.7M296.2 251.4H302.5M301.9 253.4H306.2M349.9 253.4H374.2M305.7 255.4H308.0M343.7 255.4H354.0M357.7 255.4H384.0M307.5 257.4H309.8M339.5 257.4H349.8M365.5 257.4H425.2M309.2 259.4H315.5M335.2 259.4H345.5M373.2 259.4H424.6M311.0 261.4H321.3M329.0 261.4H339.3M381.0 261.4H423.9M318.8 263.4H333.1M324.5 265.4H326.8" stroke="#60ff9f" stroke-width="2.50" fill="none"/><path d="M280.4 249.4H288.7M290.2 251.4H296.5M295.9 253.4H302.2M301.7 255.4H306.0M353.7 255.4H358.0M303.5 257.4H307.8M349.5 257.4H365.8M305.2 259.4H309.5M345.2 259.4H353.5M359.2 259.4H373.5M307.0 261.4H311.3M339.0 261.4H349.3M363.0 261.4H381.3M308.8 263.4H319.1M332.8 263.4H343.1M368.8 263.4H423.2M316.5 265.4H324.8M326.5 265.4H336.8M372.5 265.4H422.6M320.3 267.4H330.6M382.3 267.4H421.9" stroke="#70ff8f" stroke-width="2.50" fill="none"/><path d="M276.4 249.4H280.7M282.2 251.4H290.5M291.9 253.4H296.2M297.7 255.4H302.0M301.5 257.4H303.8M303.2 259.4H305.5M353.2 259.4H359.5M305.0 261.4H307.3M349.0 261.4H363.3M306.8 263.4H309.1M342.8 263.4H353.1M356.8 263.4H369.1M308.5 265.4H316.8M336.5 265.4H346.8M360.5 265.4H372.8M312.3 267.4H320.6M330.3 267.4H338.6M364.3 267.4H382.6M318.1 269.4H332.4M368.1 269.4H421.3M323.8 271.4H328.1M373.8 271.4H420.6M381.6 273.4H419.9" stroke="#80ff80" stroke-width="2.50" fill="none"/><path d="M276.2 251.4H282.5M283.9 253.4H292.2M291.7 255.4H298.0M297.5 257.4H301.8M301.2 259.4H303.5M303.0 261.4H305.3M302.8 263.4H307.1M352.8 263.4H357.1M306.5 265.4H308.8M346.5 265.4H360.8M308.3 267.4H312.6M338.3 267.4H354.6M356.3 267.4H364.6M312.1 269.4H318.4M332.1 269.4H344.4M360.1 269.4H368.4M315.8 271.4H324.1M327.8 271.4H336.1M363.8 271.4H374.1M321.6 273.4H331.9M365.6 273.4H381.9M323.4 275.4H325.7M369.4 275.4H419.3M379.1 277.4H418.6" stroke="#8fff70" stroke-width="2.50" fill="none"/><path d="M275.9 253.4H284.2M285.7 255.4H292.0M293.5 257.4H297.8M297.2 259.4H301.5M299.0 261.4H303.3M300.8 263.4H303.1M302.5 265.4H306.8M304.3 267.4H308.6M354.3 267.4H356.6M306.1 269.4H312.4M344.1 269.4H360.4M309.8 271.4H316.1M335.8 271.4H364.1M313.6 273.4H321.9M331.6 273.4H339.9M357.6 273.4H365.9M317.4 275.4H323.7M325.4 275.4H333.7M361.4 275.4H369.7M321.1 277.4H329.4M365.1 277.4H379.4M370.9 279.4H418.0M380.7 281.4H417.3" stroke="#9fff60" stroke-width="2.50" fill="none"/><path d="M275.7 255.4H286.0M287.5 257.4H293.8M295.2 259.4H297.5M297.0 261.4H299.3M296.8 263.4H301.1M298.5 265.4H302.8M300.3 267.4H304.6M302.1 269.4H306.4M305.8 271.4H310.1M307.6 273.4H313.9M339.6 273.4H357.9M313.4 275.4H317.7M333.4 275.4H361.7M315.1 277.4H321.4M329.1 277.4H339.4M357.1 277.4H365.4M316.9 279.4H335.2M362.9 279.4H371.2M320.7 281.4H331.0M366.7 281.4H381.0M324.4 283.4H326.7M374.4 283.4H416.7M382.2 285.4H416.0" stroke="#afff50" stroke-width="2.50" fill="none"/><path d="M281.5 257.4H287.8M289.2 259.4H295.5M293.0 261.4H297.3M294.8 263.4H297.1M296.5 265.4H298.8M296.3 267.4H300.6M298.1 269.4H302.4M299.8 271.4H306.1M303.6 273.4H307.9M307.4 275.4H313.7M307.1 277.4H315.4M339.1 277.4H357.4M310.9 279.4H317.2M334.9 279.4H363.2M312.7 281.4H321.0M330.7 281.4H339.0M358.7 281.4H367.0M316.4 283.4H324.7M326.4 283.4H334.7M362.4 283.4H374.7M320.2 285.4H330.5M368.2 285.4H382.5M324.0 287.4H326.3M376.0 287.4H415.3M383.7 289.4H414.7" stroke="#bfff40" stroke-width="2.50" fill="none"/><path d="M275.5 257.4H281.8M283.2 259.4H289.5M287.0 261.4H293.3M288.8 263.4H295.1M290.5 265.4H296.8M292.3 267.4H296.6M294.1 269.4H298.4M295.8 271.4H300.1M297.6 273.4H303.9M299.4 275.4H307.7M301.1 277.4H307.4M300.9 279.4H311.2M300.7 281.4H313.0M338.7 281.4H359.0M302.4 283.4H316.7M334.4 283.4H362.7M310.2 285.4H320.5M330.2 285.4H342.5M358.2 285.4H368.5M294.0 287.4H298.3M314.0 287.4H324.3M326.0 287.4H336.3M364.0 287.4H376.3M291.7 289.4H300.0M319.7 289.4H332.0M371.7 289.4H384.0M293.5 291.4H297.8M377.5 291.4H414.0M385.3 293.4H413.4" stroke="#cfff30" stroke-width="2.50" fill="none"/><path d="M275.2 259.4H283.5M281.0 261.4H287.3M280.8 263.4H289.1M282.5 265.4H290.8M284.3 267.4H292.6M286.1 269.4H294.4M287.8 271.4H296.1M291.6 273.4H297.9M293.4 275.4H299.7M291.1 277.4H301.4M288.9 279.4H301.2M286.7 281.4H301.0M284.4 283.4H302.7M284.2 285.4H310.5M342.2 285.4H358.5M282.0 287.4H294.3M298.0 287.4H314.3M336.0 287.4H364.3M271.7 289.4H292.0M299.7 289.4H320.0M331.7 289.4H346.0M359.7 289.4H372.0M281.5 291.4H293.8M297.5 291.4H307.8M311.5 291.4H337.8M365.5 291.4H377.8M285.3 293.4H305.6M319.3 293.4H329.6M373.3 293.4H385.6M289.0 295.4H301.3M381.0 295.4H412.7M292.8 297.4H297.1M408.8 297.4H412.0" stroke="#dfff20" stroke-width="2.50" fill="none"/><path d="M275.0 261.4H281.3M274.8 263.4H281.1M274.5 265.4H282.8M274.3 267.4H284.6M274.1 269.4H286.4M273.8 271.4H288.1M279.6 273.4H291.9M281.4 275.4H293.7M273.1 277.4H291.4M272.9 279.4H289.2M272.7 281.4H287.0M272.4 283.4H284.7M272.2 285.4H284.5M272.0 287.4H282.3M345.7 289.4H360.0M271.5 291.4H281.8M307.5 291.4H311.8M337.5 291.4H365.8M271.3 293.4H285.6M305.3 293.4H319.6M329.3 293.4H345.6M361.3 293.4H373.6M271.0 295.4H289.3M301.0 295.4H335.3M369.0 295.4H381.3M270.8 297.4H277.1M282.8 297.4H293.1M296.8 297.4H309.1M316.8 297.4H327.1M374.8 297.4H409.1M286.6 299.4H304.9M382.6 299.4H411.4M290.4 301.4H300.7M294.1 303.4H296.4" stroke="#efff10" stroke-width="2.50" fill="none"/><path d="M273.6 273.4H279.9M273.4 275.4H281.7M345.3 293.4H361.6M335.0 295.4H369.3M276.8 297.4H283.1M308.8 297.4H317.1M326.8 297.4H345.1M360.8 297.4H375.1M270.6 299.4H286.9M304.6 299.4H334.9M370.6 299.4H382.9M270.4 301.4H290.7M300.4 301.4H322.7M378.4 301.4H410.7M270.1 303.4H278.4M282.1 303.4H294.4M296.1 303.4H308.4M384.1 303.4H410.1M269.9 305.4H274.2M285.9 305.4H304.2M269.7 307.4H274.0M287.7 307.4H304.0M269.4 309.4H271.7M289.4 309.4H301.7M291.2 311.4H299.5" stroke="#ff0" stroke-width="2.50" fill="none"/><path d="M344.8 297.4H361.1M334.6 299.4H370.9M322.4 301.4H344.7M364.4 301.4H378.7M278.1 303.4H282.4M308.1 303.4H332.4M372.1 303.4H384.4M273.9 305.4H286.2M303.9 305.4H322.2M379.9 305.4H409.4M273.7 307.4H288.0M303.7 307.4H320.0M379.7 307.4H408.7M271.4 309.4H289.7M301.4 309.4H315.7M381.4 309.4H408.1M269.2 311.4H291.5M299.2 311.4H313.5M383.2 311.4H407.4" stroke="#ffef00" stroke-width="2.50" fill="none"/><path d="M344.4 301.4H364.7M332.1 303.4H372.4M321.9 305.4H346.2M363.9 305.4H380.2M319.7 307.4H342.0M367.7 307.4H380.0M315.4 309.4H339.7M369.4 309.4H381.7M313.2 311.4H337.5M371.2 311.4H383.5" stroke="#ffdf00" stroke-width="2.50" fill="none"/><path d="M345.9 305.4H364.2M341.7 307.4H368.0M339.4 309.4H369.7M337.2 311.4H371.5" stroke="#ffcf00" stroke-width="2.50" fill="none"/><path d="M430.1 123.2h0M430.1 126.8h0" stroke="#0070ff" stroke-width="6.4" stroke-linecap="round" fill="none"/><path d="M430.1 108.8h0M430.1 112.4h0M430.1 116.0h0M430.1 119.6h0M430.1 130.4h0M430.1 134.0h0M430.1 137.6h0M430.1 141.2h0M430.1 144.8h0" stroke="#0080ff" stroke-width="6.4" stroke-linecap="round" fill="none"/><path d="M430.1 148.4h0M430.1 152.0h0M430.1 155.6h0" stroke="#008fff" stroke-width="6.4" stroke-linecap="round" fill="none"/><path d="M430.1 159.2h0M430.1 162.8h0M430.1 166.4h0" stroke="#009fff" stroke-width="6.4" stroke-linecap="round" fill="none"/><path d="M430.1 170.0h0M430.1 173.6h0M430.1 177.2h0M430.1 180.8h0M430.1 184.4h0M430.1 188.0h0M430.1 191.6h0M430.1 195.2h0M430.1 198.8h0M376.8 97.2h0M380.6 97.2h0M384.4 97.2h0M388.2 97.2h0M392.0 97.2h0M395.8 97.2h0M399.6 97.2h0M403.4 97.2h0M407.2 97.2h0" stroke="#00afff" stroke-width="6.4" stroke-linecap="round" fill="none"/><path d="M430.1 202.4h0M430.1 206.0h0M430.1 209.6h0M365.4 97.2h0M369.2 97.2h0M373.0 97.2h0" stroke="#00bfff" stroke-width="6.4" stroke-linecap="round" fill="none"/><path d="M430.1 213.2h0M357.8 97.2h0M361.6 97.2h0" stroke="#00cfff" stroke-width="6.4" stroke-linecap="round" fill="none"/><path d="M430.1 216.8h0M430.1 220.4h0M350.2 97.2h0M354.0 97.2h0" stroke="#00dfff" stroke-width="6.4" stroke-linecap="round" fill="none"/><path d="M430.1 224.0h0M346.4 97.2h0" stroke="#00efff" stroke-width="6.4" stroke-linecap="round" fill="none"/><path d="M296.2 98.0h0M295.8 101.6h0M284.5 198.8h0M284.1 202.4h0M283.7 206.0h0M283.2 209.6h0M282.8 213.2h0M282.4 216.8h0M430.1 227.6h0M297.0 97.2h0M300.8 97.2h0M304.6 97.2h0M308.4 97.2h0M312.2 97.2h0M316.0 97.2h0M319.8 97.2h0M323.6 97.2h0M327.4 97.2h0M331.2 97.2h0M335.0 97.2h0M338.8 97.2h0M342.6 97.2h0" stroke="#0ff" stroke-width="6.4" stroke-linecap="round" fill="none"/><path d="M295.4 105.2h0M295.0 108.8h0M285.8 188.0h0M285.3 191.6h0M284.9 195.2h0M282.0 220.4h0M281.6 224.0h0M281.1 227.6h0M430.1 231.2h0M430.1 234.8h0" stroke="#10ffef" stroke-width="6.4" stroke-linecap="round" fill="none"/><path d="M294.6 112.4h0M287.0 177.2h0M286.6 180.8h0M286.2 184.4h0M280.7 231.2h0M429.0 238.4h0M427.8 242.0h0" stroke="#20ffdf" stroke-width="6.4" stroke-linecap="round" fill="none"/><path d="M294.1 116.0h0M288.7 162.8h0M288.3 166.4h0M287.9 170.0h0M287.4 173.6h0M280.3 234.8h0M279.9 238.4h0M426.6 245.6h0" stroke="#30ffcf" stroke-width="6.4" stroke-linecap="round" fill="none"/><path d="M293.7 119.6h0M289.5 155.6h0M289.1 159.2h0M279.5 242.0h0M425.4 249.2h0" stroke="#40ffbf" stroke-width="6.4" stroke-linecap="round" fill="none"/><path d="M293.3 123.2h0M290.8 144.8h0M290.4 148.4h0M289.9 152.0h0M279.0 245.6h0M424.2 252.8h0M423.0 256.4h0" stroke="#50ffaf" stroke-width="6.4" stroke-linecap="round" fill="none"/><path d="M292.9 126.8h0M292.5 130.4h0M292.0 134.0h0M291.6 137.6h0M291.2 141.2h0M421.9 260.0h0" stroke="#60ff9f" stroke-width="6.4" stroke-linecap="round" fill="none"/><path d="M278.6 249.2h0M420.7 263.6h0M419.5 267.2h0" stroke="#70ff8f" stroke-width="6.4" stroke-linecap="round" fill="none"/><path d="M418.3 270.8h0" stroke="#80ff80" stroke-width="6.4" stroke-linecap="round" fill="none"/><path d="M417.1 274.4h0M415.9 278.0h0" stroke="#8fff70" stroke-width="6.4" stroke-linecap="round" fill="none"/><path d="M278.2 252.8h0M414.7 281.6h0" stroke="#9fff60" stroke-width="6.4" stroke-linecap="round" fill="none"/><path d="M413.6 285.2h0" stroke="#afff50" stroke-width="6.4" stroke-linecap="round" fill="none"/><path d="M277.8 256.4h0M412.4 288.8h0" stroke="#bfff40" stroke-width="6.4" stroke-linecap="round" fill="none"/><path d="M411.2 292.4h0" stroke="#cfff30" stroke-width="6.4" stroke-linecap="round" fill="none"/><path d="M277.4 260.0h0M410.0 296.0h0" stroke="#dfff20" stroke-width="6.4" stroke-linecap="round" fill="none"/><path d="M277.0 263.6h0M276.5 267.2h0M276.1 270.8h0M275.3 278.0h0M274.9 281.6h0M274.4 285.2h0M274.0 288.8h0M273.6 292.4h0M273.2 296.0h0M408.8 299.6h0" stroke="#efff10" stroke-width="6.4" stroke-linecap="round" fill="none"/><path d="M275.7 274.4h0M272.8 299.6h0M272.3 303.2h0M407.6 303.2h0M271.9 306.8h0M291.0 309.6h0M294.8 309.6h0M298.6 309.6h0" stroke="#ff0" stroke-width="6.4" stroke-linecap="round" fill="none"/><path d="M406.4 306.8h0M272.0 309.6h0M275.8 309.6h0M279.6 309.6h0M283.4 309.6h0M287.2 309.6h0M302.4 309.6h0M306.2 309.6h0M310.0 309.6h0M313.8 309.6h0M382.2 309.6h0M386.0 309.6h0M389.8 309.6h0M393.6 309.6h0M397.4 309.6h0M401.2 309.6h0M405.0 309.6h0" stroke="#ffef00" stroke-width="6.4" stroke-linecap="round" fill="none"/><path d="M317.6 309.6h0M321.4 309.6h0M325.2 309.6h0M329.0 309.6h0M332.8 309.6h0M336.6 309.6h0M370.8 309.6h0M374.6 309.6h0M378.4 309.6h0" stroke="#ffdf00" stroke-width="6.4" stroke-linecap="round" fill="none"/><path d="M340.4 309.6h0M344.2 309.6h0M348.0 309.6h0M351.8 309.6h0M355.6 309.6h0M359.4 309.6h0M363.2 309.6h0M367.0 309.6h0" stroke="#ffcf00" stroke-width="6.4" stroke-linecap="round" fill="none"/>
<use href="#bd" transform="translate(0.0,0.0)"/>
<text class="t" x="146.2" y="112.7">48<tspan class="d" x="165.3" y="105.5" letter-spacing="0">° </tspan><tspan x="175.3" y="112.7">N</tspan></text>
<text class="t" x="146.2" y="130.7">46<tspan class="d" x="165.3" y="124.6" letter-spacing="0">° </tspan><tspan x="175.3" y="130.7">N</tspan></text>
<text class="t" x="146.2" y="147.9">44<tspan class="d" x="165.3" y="141.3" letter-spacing="0">° </tspan><tspan x="175.3" y="147.9">N</tspan></text>
<text class="t" x="146.2" y="166.7">42<tspan class="d" x="165.3" y="159.5" letter-spacing="0">° </tspan><tspan x="175.3" y="166.7">N</tspan></text>
<text class="t" x="146.2" y="182.3">40<tspan class="d" x="165.3" y="176.6" letter-spacing="0">° </tspan><tspan x="175.3" y="182.3">N</tspan></text>
<text class="t" x="146.2" y="197.7">38<tspan class="d" x="165.3" y="191.6" letter-spacing="0">° </tspan><tspan x="175.3" y="197.7">N</tspan></text>
<text class="t" x="146.2" y="214.6">36<tspan class="d" x="165.3" y="207.5" letter-spacing="0">° </tspan><tspan x="175.3" y="214.6">N</tspan></text>
<text class="t" x="146.2" y="228.7">34<tspan class="d" x="165.3" y="222.4" letter-spacing="0">° </tspan><tspan x="175.3" y="228.7">N</tspan></text>
<text class="t" x="146.2" y="245.7">32<tspan class="d" x="165.3" y="239.1" letter-spacing="0">° </tspan><tspan x="175.3" y="245.7">N</tspan></text>
<text class="t" x="146.2" y="259.7">30<tspan class="d" x="165.3" y="253.5" letter-spacing="0">° </tspan><tspan x="175.3" y="259.7">N</tspan></text>
<text class="t" x="146.2" y="272.7">28<tspan class="d" x="165.3" y="266.1" letter-spacing="0">° </tspan><tspan x="175.3" y="272.7">N</tspan></text>
<text class="t" x="146.2" y="287.7">26<tspan class="d" x="165.3" y="280.5" letter-spacing="0">° </tspan><tspan x="175.3" y="287.7">N</tspan></text>
<text class="t" x="146.2" y="301.7">24<tspan class="d" x="165.3" y="295.3" letter-spacing="0">° </tspan><tspan x="175.3" y="301.7">N</tspan></text>
<text class="t" x="146.2" y="314.7">22<tspan class="d" x="165.3" y="307.5" letter-spacing="0">° </tspan><tspan x="175.3" y="314.7">N</tspan></text>
<text class="t" x="215.3" y="77.0">100<tspan class="d" x="242.1" y="69.6">° </tspan><tspan x="252.4" y="77.0">W</tspan></text>
<text class="t" x="284.1" y="77.0">90<tspan class="d" x="302.3" y="69.6">° </tspan><tspan x="313.5" y="77.0">W</tspan></text>
<text class="t" x="348.0" y="77.0">80<tspan class="d" x="367.2" y="69.6">° </tspan><tspan x="377.5" y="77.0">W</tspan></text>
<text class="t" x="411.5" y="77.0">70<tspan class="d" x="429.7" y="69.6">° </tspan><tspan x="440.5" y="77.0">W</tspan></text>
<rect x="441.1" y="95.2" width="23.7" height="215.5" fill="url(#jet)"/>
<rect x="441.6" y="95.7" width="22.7" height="214.5" fill="none" stroke="#000" stroke-opacity="0.85" stroke-width="1"/>
<text class="c" x="473.0" y="131.9">300</text>
<path d="M464.8 124.4h-3" stroke="#111" stroke-width="1"/>
<text class="c" x="473.0" y="205.0">280</text>
<path d="M464.8 197.5h-3" stroke="#111" stroke-width="1"/>
<text class="c" x="473.0" y="278.4">260</text>
<path d="M464.8 270.9h-3" stroke="#111" stroke-width="1"/>
<text class="x" x="307.5" y="340.9" text-anchor="middle">SAT+RAP 850 hPa Temp (K)</text>
</g>
<g>
<rect x="616.5" y="96.5" width="234.0" height="213.0" fill="#fff" stroke="#1a1a1a" stroke-width="1" shape-rendering="crispEdges"/>
<path d="M820.4 155.4H822.7M820.1 157.4H822.4M819.9 159.4H822.2M817.7 161.4H822.0M817.4 163.4H821.7M817.2 165.4H821.5M813.0 167.4H821.3M806.7 169.4H821.0" stroke="#0050ff" stroke-width="2.50" fill="none"/><path d="M851.0 115.4H853.6M848.8 117.4H853.6M848.5 119.4H853.6M846.3 121.4H853.6M844.1 123.4H853.6M841.8 125.4H853.6M839.6 127.4H853.6M837.4 129.4H853.6M835.1 131.4H853.6M832.9 133.4H853.6M826.7 135.4H853.6M818.4 137.4H853.6M812.2 139.4H853.6M810.0 141.4H853.6M807.7 143.4H853.6M805.5 145.4H853.6M805.3 147.4H853.6M805.0 149.4H853.6M802.8 151.4H849.1M802.6 153.4H846.9M802.4 155.4H820.7M822.4 155.4H844.7M802.1 157.4H820.4M822.1 157.4H842.4M801.9 159.4H820.2M821.9 159.4H840.2M801.7 161.4H818.0M821.7 161.4H838.0M801.4 163.4H817.7M821.4 163.4H837.7M801.2 165.4H817.5M821.2 165.4H835.5M801.0 167.4H813.3M821.0 167.4H835.3M800.7 169.4H807.0M820.7 169.4H833.0M800.5 171.4H832.8M802.3 173.4H830.6M804.0 175.4H826.3M805.8 177.4H822.1" stroke="#0060ff" stroke-width="2.50" fill="none"/><path d="M846.6 101.4H847.6M844.4 103.4H852.0M844.2 105.4H853.6M843.9 107.4H853.6M841.7 109.4H853.6M841.5 111.4H853.6M839.2 113.4H853.6M837.0 115.4H851.3M834.8 117.4H849.1M832.5 119.4H848.8M830.3 121.4H846.6M828.1 123.4H844.4M825.8 125.4H842.1M823.6 127.4H839.9M819.4 129.4H837.7M813.1 131.4H835.4M806.9 133.4H833.2M802.7 135.4H827.0M800.4 137.4H818.7M798.2 139.4H812.5M796.0 141.4H810.3M795.7 143.4H808.0M795.5 145.4H805.8M795.3 147.4H805.6M795.0 149.4H805.3M794.8 151.4H803.1M848.8 151.4H853.6M794.6 153.4H802.9M846.6 153.4H853.6M794.4 155.4H802.7M844.4 155.4H853.6M794.1 157.4H802.4M842.1 157.4H853.6M793.9 159.4H802.2M839.9 159.4H853.6M793.7 161.4H802.0M837.7 161.4H853.6M793.4 163.4H801.7M837.4 163.4H853.6M793.2 165.4H801.5M835.2 165.4H849.5M795.0 167.4H801.3M835.0 167.4H847.3M794.7 169.4H801.0M832.7 169.4H845.0M794.5 171.4H800.8M832.5 171.4H844.8M796.3 173.4H802.6M830.3 173.4H844.6M798.0 175.4H804.3M826.0 175.4H842.3M799.8 177.4H806.1M821.8 177.4H840.1M801.6 179.4H835.9M803.3 181.4H833.6M803.1 183.4H829.4M804.9 185.4H823.2" stroke="#0070ff" stroke-width="2.50" fill="none"/><path d="M837.1 97.4H838.8M834.9 99.4H843.2M834.6 101.4H846.9M834.4 103.4H844.7M832.2 105.4H844.5M831.9 107.4H844.2M829.7 109.4H842.0M829.5 111.4H841.8M827.2 113.4H839.5M825.0 115.4H837.3M822.8 117.4H835.1M820.5 119.4H832.8M814.3 121.4H830.6M812.1 123.4H828.4M807.8 125.4H826.1M803.6 127.4H823.9M797.4 129.4H819.7M795.1 131.4H813.4M792.9 133.4H807.2M790.7 135.4H803.0M788.4 137.4H800.7M788.2 139.4H798.5M788.0 141.4H796.3M787.7 143.4H796.0M787.5 145.4H795.8M787.3 147.4H795.6M789.0 149.4H795.3M788.8 151.4H795.1M788.6 153.4H794.9M788.4 155.4H794.7M788.1 157.4H794.4M789.9 159.4H794.2M789.7 161.4H794.0M789.4 163.4H793.7M789.2 165.4H793.5M849.2 165.4H853.6M789.0 167.4H795.3M847.0 167.4H853.6M788.7 169.4H795.0M844.7 169.4H853.6M790.5 171.4H794.8M844.5 171.4H853.6M790.3 173.4H796.6M844.3 173.4H853.6M792.0 175.4H798.3M842.0 175.4H853.6M793.8 177.4H800.1M839.8 177.4H853.6M795.6 179.4H801.9M835.6 179.4H853.6M797.3 181.4H803.6M833.3 181.4H853.6M799.1 183.4H803.4M829.1 183.4H853.6M800.9 185.4H805.2M822.9 185.4H853.6M802.6 187.4H853.6M806.4 189.4H853.6M814.2 191.4H853.6M819.9 193.4H853.6M825.7 195.4H853.6M827.5 197.4H853.6M829.2 199.4H853.6M831.0 201.4H853.6M834.8 203.4H853.6M836.5 205.4H853.6M838.3 207.4H853.6M842.1 209.4H853.6M843.8 211.4H853.6M843.6 213.4H853.6M845.4 215.4H853.6M849.1 217.4H853.6M850.9 219.4H853.6" stroke="#0080ff" stroke-width="2.50" fill="none"/><path d="M825.3 95.4H834.4M825.1 97.4H837.4M822.9 99.4H835.2M822.6 101.4H834.9M822.4 103.4H834.7M806.2 105.4H832.5M803.9 107.4H832.2M801.7 109.4H830.0M799.5 111.4H829.8M797.2 113.4H827.5M795.0 115.4H825.3M792.8 117.4H823.1M790.5 119.4H820.8M790.3 121.4H814.6M788.1 123.4H812.4M785.8 125.4H808.1M783.6 127.4H803.9M781.4 129.4H797.7M781.1 131.4H795.4M780.9 133.4H793.2M780.7 135.4H791.0M780.4 137.4H788.7M780.2 139.4H788.5M780.0 141.4H788.3M781.7 143.4H788.0M781.5 145.4H787.8M781.3 147.4H787.6M783.0 149.4H789.3M782.8 151.4H789.1M784.6 153.4H788.9M784.4 155.4H788.7M784.1 157.4H788.4M783.9 159.4H790.2M785.7 161.4H790.0M785.4 163.4H789.7M785.2 165.4H789.5M785.0 167.4H789.3M786.7 169.4H789.0M786.5 171.4H790.8M788.3 173.4H790.6M788.0 175.4H792.3M789.8 177.4H794.1M789.6 179.4H795.9M791.3 181.4H797.6M793.1 183.4H799.4M794.9 185.4H801.2M796.6 187.4H802.9M800.4 189.4H806.7M802.2 191.4H814.5M805.9 193.4H820.2M811.7 195.4H826.0M815.5 197.4H827.8M819.2 199.4H829.5M821.0 201.4H831.3M822.8 203.4H835.1M826.5 205.4H836.8M828.3 207.4H838.6M830.1 209.4H842.4M831.8 211.4H844.1M833.6 213.4H843.9M835.4 215.4H845.7M839.1 217.4H849.4M842.9 219.4H851.2M844.7 221.4H853.6M846.4 223.4H853.6M848.2 225.4H853.6M850.0 227.4H853.6M849.7 229.4H853.6" stroke="#008fff" stroke-width="2.50" fill="none"/><path d="M791.3 95.4H825.6M789.1 97.4H825.4M788.9 99.4H823.2M786.6 101.4H822.9M784.4 103.4H822.7M782.2 105.4H806.5M779.9 107.4H804.2M777.7 109.4H802.0M775.5 111.4H799.8M775.2 113.4H797.5M775.0 115.4H795.3M774.8 117.4H793.1M774.5 119.4H790.8M774.3 121.4H790.6M774.1 123.4H788.4M773.8 125.4H786.1M773.6 127.4H783.9M773.4 129.4H781.7M773.1 131.4H781.4M772.9 133.4H781.2M772.7 135.4H781.0M774.4 137.4H780.7M774.2 139.4H780.5M774.0 141.4H780.3M775.7 143.4H782.0M775.5 145.4H781.8M777.3 147.4H781.6M777.0 149.4H783.3M778.8 151.4H783.1M778.6 153.4H784.9M780.4 155.4H784.7M780.1 157.4H784.4M779.9 159.4H784.2M781.7 161.4H786.0M781.4 163.4H785.7M781.2 165.4H785.5M783.0 167.4H785.3M782.7 169.4H787.0M782.5 171.4H786.8M784.3 173.4H788.6M784.0 175.4H788.3M785.8 177.4H790.1M785.6 179.4H789.9M787.3 181.4H791.6M787.1 183.4H793.4M788.9 185.4H795.2M790.6 187.4H796.9M792.4 189.4H800.7M796.2 191.4H802.5M799.9 193.4H806.2M801.7 195.4H812.0M805.5 197.4H815.8M811.2 199.4H819.5M813.0 201.4H821.3M816.8 203.4H823.1M818.5 205.4H826.8M820.3 207.4H828.6M820.1 209.4H830.4M823.8 211.4H832.1M825.6 213.4H833.9M827.4 215.4H835.7M831.1 217.4H839.4M834.9 219.4H843.2M838.7 221.4H845.0M840.4 223.4H846.7M842.2 225.4H848.5M844.0 227.4H850.3M845.7 229.4H850.0M849.5 231.4H853.6" stroke="#009fff" stroke-width="2.50" fill="none"/><path d="M775.3 95.4H791.6M775.1 97.4H789.4M774.9 99.4H789.2M774.6 101.4H786.9M774.4 103.4H784.7M774.2 105.4H782.5M773.9 107.4H780.2M773.7 109.4H778.0M773.5 111.4H775.8M771.2 113.4H775.5M771.0 115.4H775.3M770.8 117.4H775.1M770.5 119.4H774.8M770.3 121.4H774.6M770.1 123.4H774.4M767.8 125.4H774.1M769.6 127.4H773.9M769.4 129.4H773.7M769.1 131.4H773.4M768.9 133.4H773.2M768.7 135.4H773.0M770.4 137.4H774.7M770.2 139.4H774.5M770.0 141.4H774.3M771.7 143.4H776.0M771.5 145.4H775.8M771.3 147.4H777.6M773.0 149.4H777.3M772.8 151.4H779.1M774.6 153.4H778.9M774.4 155.4H780.7M776.1 157.4H780.4M775.9 159.4H780.2M777.7 161.4H782.0M777.4 163.4H781.7M777.2 165.4H781.5M779.0 167.4H783.3M778.7 169.4H783.0M780.5 171.4H782.8M780.3 173.4H784.6M782.0 175.4H784.3M781.8 177.4H786.1M781.6 179.4H785.9M783.3 181.4H787.6M785.1 183.4H787.4M784.9 185.4H789.2M786.6 187.4H790.9M788.4 189.4H792.7M790.2 191.4H796.5M791.9 193.4H800.2M795.7 195.4H802.0M799.5 197.4H805.8M803.2 199.4H811.5M807.0 201.4H813.3M808.8 203.4H817.1M812.5 205.4H818.8M814.3 207.4H820.6M816.1 209.4H820.4M817.8 211.4H824.1M819.6 213.4H825.9M821.4 215.4H827.7M825.1 217.4H831.4M828.9 219.4H835.2M832.7 221.4H839.0M836.4 223.4H840.7M838.2 225.4H842.5M840.0 227.4H844.3M841.7 229.4H846.0M845.5 231.4H849.8M849.3 233.4H853.6" stroke="#00afff" stroke-width="2.50" fill="none"/><path d="M771.3 95.4H775.6M771.1 97.4H775.4M770.9 99.4H775.2M770.6 101.4H774.9M770.4 103.4H774.7M770.2 105.4H774.5M769.9 107.4H774.2M769.7 109.4H774.0M769.5 111.4H773.8M769.2 113.4H771.5M767.0 115.4H771.3M766.8 117.4H771.1M766.5 119.4H770.8M766.3 121.4H770.6M764.1 123.4H770.4M763.8 125.4H768.1M763.6 127.4H769.9M765.4 129.4H769.7M765.1 131.4H769.4M764.9 133.4H769.2M764.7 135.4H769.0M766.4 137.4H770.7M766.2 139.4H770.5M766.0 141.4H770.3M765.7 143.4H772.0M767.5 145.4H771.8M767.3 147.4H771.6M769.0 149.4H773.3M768.8 151.4H773.1M768.6 153.4H774.9M770.4 155.4H774.7M770.1 157.4H776.4M771.9 159.4H776.2M771.7 161.4H778.0M773.4 163.4H777.7M773.2 165.4H777.5M775.0 167.4H779.3M774.7 169.4H779.0M776.5 171.4H780.8M776.3 173.4H780.6M778.0 175.4H782.3M777.8 177.4H782.1M779.6 179.4H781.9M779.3 181.4H783.6M781.1 183.4H785.4M780.9 185.4H785.2M782.6 187.4H786.9M784.4 189.4H788.7M784.2 191.4H790.5M785.9 193.4H792.2M789.7 195.4H796.0M791.5 197.4H799.8M795.2 199.4H803.5M799.0 201.4H807.3M802.8 203.4H809.1M806.5 205.4H812.8M808.3 207.4H814.6M812.1 209.4H816.4M813.8 211.4H818.1M815.6 213.4H819.9M817.4 215.4H821.7M819.1 217.4H825.4M824.9 219.4H829.2M828.7 221.4H833.0M830.4 223.4H836.7M834.2 225.4H838.5M836.0 227.4H840.3M837.7 229.4H842.0M841.5 231.4H845.8M845.3 233.4H849.6M851.0 235.4H853.5" stroke="#00bfff" stroke-width="2.50" fill="none"/><path d="M769.3 95.4H771.6M769.1 97.4H771.4M768.9 99.4H771.2M768.6 101.4H770.9M768.4 103.4H770.7M768.2 105.4H770.5M765.9 107.4H770.2M765.7 109.4H770.0M765.5 111.4H769.8M765.2 113.4H769.5M765.0 115.4H767.3M762.8 117.4H767.1M762.5 119.4H766.8M762.3 121.4H766.6M760.1 123.4H764.4M759.8 125.4H764.1M759.6 127.4H763.9M759.4 129.4H765.7M761.1 131.4H765.4M760.9 133.4H765.2M760.7 135.4H765.0M762.4 137.4H766.7M762.2 139.4H766.5M762.0 141.4H766.3M761.7 143.4H766.0M763.5 145.4H767.8M763.3 147.4H767.6M763.0 149.4H769.3M764.8 151.4H769.1M764.6 153.4H768.9M764.4 155.4H770.7M766.1 157.4H770.4M765.9 159.4H772.2M767.7 161.4H772.0M767.4 163.4H773.7M769.2 165.4H773.5M769.0 167.4H775.3M770.7 169.4H775.0M770.5 171.4H776.8M772.3 173.4H776.6M772.0 175.4H778.3M773.8 177.4H778.1M773.6 179.4H779.9M775.3 181.4H779.6M777.1 183.4H781.4M776.9 185.4H781.2M778.6 187.4H782.9M778.4 189.4H784.7M780.2 191.4H784.5M781.9 193.4H786.2M783.7 195.4H790.0M785.5 197.4H791.8M787.2 199.4H795.5M789.0 201.4H799.3M792.8 203.4H803.1M796.5 205.4H806.8M800.3 207.4H808.6M806.1 209.4H812.4M807.8 211.4H814.1M811.6 213.4H815.9M813.4 215.4H817.7M815.1 217.4H819.4M818.9 219.4H825.2M822.7 221.4H829.0M826.4 223.4H830.7M830.2 225.4H834.5M832.0 227.4H836.3M833.7 229.4H838.0M837.5 231.4H841.8M841.3 233.4H845.6M847.0 235.4H851.3M850.8 237.4H852.8" stroke="#00cfff" stroke-width="2.50" fill="none"/><path d="M765.3 95.4H769.6M765.1 97.4H769.4M764.9 99.4H769.2M764.6 101.4H768.9M764.4 103.4H768.7M764.2 105.4H768.5M763.9 107.4H766.2M763.7 109.4H766.0M761.5 111.4H765.8M761.2 113.4H765.5M761.0 115.4H765.3M758.8 117.4H763.1M756.5 119.4H762.8M756.3 121.4H762.6M754.1 123.4H760.4M753.8 125.4H760.1M753.6 127.4H759.9M753.4 129.4H759.7M753.1 131.4H761.4M752.9 133.4H761.2M752.7 135.4H761.0M752.4 137.4H762.7M752.2 139.4H762.5M754.0 141.4H762.3M753.7 143.4H762.0M755.5 145.4H763.8M755.3 147.4H763.6M757.0 149.4H763.3M758.8 151.4H765.1M758.6 153.4H764.9M760.4 155.4H764.7M760.1 157.4H766.4M761.9 159.4H766.2M761.7 161.4H768.0M761.4 163.4H767.7M763.2 165.4H769.5M763.0 167.4H769.3M764.7 169.4H771.0M764.5 171.4H770.8M766.3 173.4H772.6M766.0 175.4H772.3M765.8 177.4H774.1M767.6 179.4H773.9M769.3 181.4H775.6M769.1 183.4H777.4M770.9 185.4H777.2M770.6 187.4H778.9M772.4 189.4H778.7M774.2 191.4H780.5M775.9 193.4H782.2M777.7 195.4H784.0M777.5 197.4H785.8M779.2 199.4H787.5M781.0 201.4H789.3M784.8 203.4H793.1M786.5 205.4H796.8M790.3 207.4H800.6M794.1 209.4H806.4M799.8 211.4H808.1M805.6 213.4H811.9M809.4 215.4H813.7M811.1 217.4H815.4M812.9 219.4H819.2M816.7 221.4H823.0M822.4 223.4H826.7M826.2 225.4H830.5M828.0 227.4H832.3M831.7 229.4H834.0M833.5 231.4H837.8M839.3 233.4H841.6M843.0 235.4H847.3M846.8 237.4H851.1M850.6 239.4H852.2" stroke="#00dfff" stroke-width="2.50" fill="none"/><path d="M763.3 95.4H765.6M763.1 97.4H765.4M762.9 99.4H765.2M762.6 101.4H764.9M760.4 103.4H764.7M760.2 105.4H764.5M759.9 107.4H764.2M757.7 109.4H764.0M757.5 111.4H761.8M755.2 113.4H761.5M755.0 115.4H761.3M752.8 117.4H759.1M750.5 119.4H756.8M750.3 121.4H756.6M748.1 123.4H754.4M747.8 125.4H754.1M745.6 127.4H753.9M745.4 129.4H753.7M745.1 131.4H753.4M744.9 133.4H753.2M744.7 135.4H753.0M744.4 137.4H752.7M744.2 139.4H752.5M744.0 141.4H754.3M743.7 143.4H754.0M745.5 145.4H755.8M745.3 147.4H755.6M745.0 149.4H757.3M746.8 151.4H759.1M746.6 153.4H758.9M748.4 155.4H760.7M750.1 157.4H760.4M749.9 159.4H762.2M751.7 161.4H762.0M751.4 163.4H761.7M753.2 165.4H763.5M755.0 167.4H763.3M754.7 169.4H765.0M756.5 171.4H764.8M756.3 173.4H766.6M758.0 175.4H766.3M757.8 177.4H766.1M759.6 179.4H767.9M761.3 181.4H769.6M761.1 183.4H769.4M762.9 185.4H771.2M762.6 187.4H770.9M764.4 189.4H772.7M764.2 191.4H774.5M765.9 193.4H776.2M767.7 195.4H778.0M769.5 197.4H777.8M769.2 199.4H779.5M773.0 201.4H781.3M774.8 203.4H785.1M778.5 205.4H786.8M780.3 207.4H790.6M784.1 209.4H794.4M785.8 211.4H800.1M789.6 213.4H805.9M797.4 215.4H809.7M805.1 217.4H811.4M806.9 219.4H813.2M810.7 221.4H817.0M814.4 223.4H822.7M822.2 225.4H826.5M824.0 227.4H828.3M827.7 229.4H832.0M831.5 231.4H833.8M835.3 233.4H839.6M839.0 235.4H843.3M842.8 237.4H847.1M846.6 239.4H850.9" stroke="#00efff" stroke-width="2.50" fill="none"/><path d="M759.3 95.4H763.6M757.1 97.4H763.4M756.9 99.4H763.2M754.6 101.4H762.9M754.4 103.4H760.7M754.2 105.4H760.5M753.9 107.4H760.2M751.7 109.4H758.0M751.5 111.4H757.8M749.2 113.4H755.5M749.0 115.4H755.3M746.8 117.4H753.1M744.5 119.4H750.8M744.3 121.4H750.6M742.1 123.4H748.4M741.8 125.4H748.1M741.6 127.4H745.9M741.4 129.4H745.7M741.1 131.4H745.4M740.9 133.4H745.2M740.7 135.4H745.0M740.4 137.4H744.7M740.2 139.4H744.5M740.0 141.4H744.3M739.7 143.4H744.0M739.5 145.4H745.8M739.3 147.4H745.6M739.0 149.4H745.3M738.8 151.4H747.1M738.6 153.4H746.9M740.4 155.4H748.7M740.1 157.4H750.4M739.9 159.4H750.2M739.7 161.4H752.0M739.4 163.4H751.7M741.2 165.4H753.5M741.0 167.4H755.3M740.7 169.4H755.0M742.5 171.4H756.8M742.3 173.4H756.6M742.0 175.4H758.3M741.8 177.4H758.1M741.6 179.4H759.9M741.3 181.4H761.6M741.1 183.4H761.4M742.9 185.4H763.2M744.6 187.4H762.9M746.4 189.4H764.7M748.2 191.4H764.5M749.9 193.4H766.2M751.7 195.4H768.0M753.5 197.4H769.8M755.2 199.4H769.5M759.0 201.4H773.3M762.8 203.4H775.1M764.5 205.4H778.8M768.3 207.4H780.6M772.1 209.4H784.4M775.8 211.4H786.1M779.6 213.4H789.9M781.4 215.4H797.7M785.1 217.4H805.4M786.9 219.4H807.2M790.7 221.4H811.0M804.4 223.4H814.7M810.2 225.4H822.5M820.0 227.4H824.3M823.7 229.4H828.0M827.5 231.4H831.8M831.3 233.4H835.6M835.0 235.4H839.3M838.8 237.4H843.1M844.6 239.4H846.9M848.3 241.4H851.5" stroke="#0ff" stroke-width="2.50" fill="none"/><path d="M747.3 95.4H759.6M747.1 97.4H757.4M746.9 99.4H757.2M746.6 101.4H754.9M746.4 103.4H754.7M746.2 105.4H754.5M745.9 107.4H754.2M745.7 109.4H752.0M745.5 111.4H751.8M741.2 113.4H749.5M741.0 115.4H749.3M738.8 117.4H747.1M738.5 119.4H744.8M738.3 121.4H744.6M738.1 123.4H742.4M737.8 125.4H742.1M737.6 127.4H741.9M737.4 129.4H741.7M737.1 131.4H741.4M734.9 133.4H741.2M734.7 135.4H741.0M734.4 137.4H740.7M734.2 139.4H740.5M734.0 141.4H740.3M733.7 143.4H740.0M733.5 145.4H739.8M733.3 147.4H739.6M733.0 149.4H739.3M732.8 151.4H739.1M732.6 153.4H738.9M732.4 155.4H740.7M730.1 157.4H740.4M729.9 159.4H740.2M729.7 161.4H740.0M729.4 163.4H739.7M729.2 165.4H741.5M727.0 167.4H741.3M726.7 169.4H741.0M726.5 171.4H742.8M726.3 173.4H742.6M726.0 175.4H742.3M725.8 177.4H742.1M725.6 179.4H741.9M725.3 181.4H741.6M725.1 183.4H741.4M724.9 185.4H743.2M724.6 187.4H744.9M726.4 189.4H746.7M726.2 191.4H748.5M727.9 193.4H750.2M729.7 195.4H752.0M731.5 197.4H753.8M733.2 199.4H755.5M733.0 201.4H759.3M734.8 203.4H763.1M734.5 205.4H764.8M736.3 207.4H768.6M738.1 209.4H772.4M739.8 211.4H776.1M753.6 213.4H779.9M763.4 215.4H781.7M767.1 217.4H785.4M770.9 219.4H787.2M776.7 221.4H791.0M778.4 223.4H804.7M782.2 225.4H810.5M786.0 227.4H820.3M803.7 229.4H824.0M823.5 231.4H827.8M827.3 233.4H831.6M831.0 235.4H835.3M836.8 237.4H839.1M840.6 239.4H844.9M844.3 241.4H848.6M848.1 243.4H850.8" stroke="#10ffef" stroke-width="2.50" fill="none"/><path d="M715.3 95.4H747.6M715.1 97.4H747.4M714.9 99.4H747.2M716.6 101.4H746.9M720.4 103.4H746.7M722.2 105.4H746.5M723.9 107.4H746.2M723.7 109.4H746.0M725.5 111.4H745.8M729.2 113.4H741.5M731.0 115.4H741.3M730.8 117.4H739.1M732.5 119.4H738.8M732.3 121.4H738.6M732.1 123.4H738.4M731.8 125.4H738.1M731.6 127.4H737.9M731.4 129.4H737.7M731.1 131.4H737.4M730.9 133.4H735.2M730.7 135.4H735.0M728.4 137.4H734.7M728.2 139.4H734.5M728.0 141.4H734.3M725.7 143.4H734.0M725.5 145.4H733.8M725.3 147.4H733.6M725.0 149.4H733.3M724.8 151.4H733.1M724.6 153.4H732.9M724.4 155.4H732.7M724.1 157.4H730.4M721.9 159.4H730.2M721.7 161.4H730.0M721.4 163.4H729.7M721.2 165.4H729.5M719.0 167.4H727.3M718.7 169.4H727.0M718.5 171.4H726.8M718.3 173.4H726.6M718.0 175.4H726.3M715.8 177.4H726.1M715.6 179.4H725.9M713.3 181.4H725.6M711.1 183.4H725.4M710.9 185.4H725.2M710.6 187.4H724.9M710.4 189.4H726.7M710.2 191.4H726.5M709.9 193.4H728.2M709.7 195.4H730.0M709.5 197.4H731.8M709.2 199.4H733.5M709.0 201.4H733.3M708.8 203.4H735.1M708.5 205.4H734.8M706.3 207.4H736.6M706.1 209.4H738.4M705.8 211.4H740.1M705.6 213.4H753.9M705.4 215.4H763.7M707.1 217.4H767.4M708.9 219.4H771.2M710.7 221.4H777.0M710.4 223.4H778.7M712.2 225.4H782.5M712.0 227.4H786.3M713.7 229.4H804.0M715.5 231.4H823.8M727.3 233.4H791.6M823.3 233.4H827.6M731.0 235.4H777.3M827.0 235.4H831.3M832.8 237.4H837.1M836.6 239.4H840.9M840.3 241.4H844.6M844.1 243.4H848.4M847.9 245.4H850.2" stroke="#20ffdf" stroke-width="2.50" fill="none"/><path d="M714.6 101.4H716.9M714.4 103.4H720.7M714.2 105.4H722.5M713.9 107.4H724.2M713.7 109.4H724.0M713.5 111.4H725.8M713.2 113.4H729.5M713.0 115.4H731.3M712.8 117.4H731.1M712.5 119.4H732.8M712.3 121.4H732.6M712.1 123.4H732.4M715.8 125.4H732.1M715.6 127.4H731.9M715.4 129.4H731.7M717.1 131.4H731.4M716.9 133.4H731.2M716.7 135.4H731.0M716.4 137.4H728.7M716.2 139.4H728.5M716.0 141.4H728.3M715.7 143.4H726.0M715.5 145.4H725.8M715.3 147.4H725.6M717.0 149.4H725.3M716.8 151.4H725.1M716.6 153.4H724.9M716.4 155.4H724.7M708.1 157.4H724.4M707.9 159.4H722.2M707.7 161.4H722.0M707.4 163.4H721.7M707.2 165.4H721.5M707.0 167.4H719.3M706.7 169.4H719.0M706.5 171.4H718.8M706.3 173.4H718.6M706.0 175.4H718.3M705.8 177.4H716.1M705.6 179.4H715.9M705.3 181.4H713.6M705.1 183.4H711.4M704.9 185.4H711.2M704.6 187.4H710.9M704.4 189.4H710.7M704.2 191.4H710.5M703.9 193.4H710.2M703.7 195.4H710.0M703.5 197.4H709.8M703.2 199.4H709.5M703.0 201.4H709.3M702.8 203.4H709.1M702.5 205.4H708.8M702.3 207.4H706.6M702.1 209.4H706.4M701.8 211.4H706.1M701.6 213.4H705.9M701.4 215.4H705.7M701.1 217.4H707.4M700.9 219.4H709.2M700.7 221.4H711.0M702.4 223.4H710.7M704.2 225.4H712.5M704.0 227.4H712.3M705.7 229.4H714.0M707.5 231.4H715.8M711.3 233.4H727.6M791.3 233.4H823.6M713.0 235.4H731.3M777.0 235.4H799.3M825.0 235.4H827.3M716.8 237.4H791.1M828.8 237.4H833.1M720.6 239.4H784.9M832.6 239.4H836.9M722.3 241.4H782.6M838.3 241.4H840.6M724.1 243.4H780.4M842.1 243.4H844.4M727.9 245.4H780.2M845.9 245.4H848.2M729.6 247.4H777.9M847.6 247.4H849.5M735.4 249.4H767.7M739.2 251.4H763.5M742.9 253.4H757.2M744.7 255.4H753.0M744.5 257.4H748.8" stroke="#30ffcf" stroke-width="2.50" fill="none"/><path d="M711.8 125.4H716.1M711.6 127.4H715.9M711.4 129.4H715.7M711.1 131.4H717.4M710.9 133.4H717.2M710.7 135.4H717.0M710.4 137.4H716.7M710.2 139.4H716.5M710.0 141.4H716.3M709.7 143.4H716.0M709.5 145.4H715.8M709.3 147.4H715.6M709.0 149.4H717.3M708.8 151.4H717.1M708.6 153.4H716.9M708.4 155.4H716.7M700.4 223.4H702.7M700.2 225.4H704.5M700.0 227.4H704.3M699.7 229.4H706.0M699.5 231.4H707.8M703.3 233.4H711.6M705.0 235.4H713.3M799.0 235.4H825.3M708.8 237.4H717.1M790.8 237.4H803.1M824.8 237.4H829.1M710.6 239.4H720.9M784.6 239.4H796.9M828.6 239.4H832.9M714.3 241.4H722.6M782.3 241.4H790.6M834.3 241.4H838.6M716.1 243.4H724.4M780.1 243.4H788.4M838.1 243.4H842.4M719.9 245.4H728.2M779.9 245.4H786.2M841.9 245.4H846.2M723.6 247.4H729.9M777.6 247.4H783.9M843.6 247.4H847.9M727.4 249.4H735.7M767.4 249.4H779.7M847.4 249.4H848.9M729.2 251.4H739.5M763.2 251.4H777.5M730.9 253.4H743.2M756.9 253.4H773.2M732.7 255.4H745.0M752.7 255.4H769.0M736.5 257.4H744.8M748.5 257.4H766.8M738.2 259.4H764.5M742.0 261.4H762.3M743.8 263.4H758.1" stroke="#40ffbf" stroke-width="2.50" fill="none"/><path d="M699.3 233.4H703.6M699.0 235.4H705.3M698.8 237.4H709.1M802.8 237.4H825.1M702.6 239.4H710.9M796.6 239.4H804.9M824.6 239.4H828.9M706.3 241.4H714.6M790.3 241.4H798.6M828.3 241.4H834.6M708.1 243.4H716.4M788.1 243.4H794.4M834.1 243.4H838.4M711.9 245.4H720.2M785.9 245.4H792.2M837.9 245.4H842.2M717.6 247.4H723.9M783.6 247.4H789.9M839.6 247.4H843.9M721.4 249.4H727.7M779.4 249.4H787.7M843.4 249.4H847.7M725.2 251.4H729.5M777.2 251.4H785.5M845.2 251.4H848.2M726.9 253.4H731.2M772.9 253.4H781.2M728.7 255.4H733.0M768.7 255.4H779.0M730.5 257.4H736.8M766.5 257.4H776.8M730.2 259.4H738.5M764.2 259.4H772.5M734.0 261.4H742.3M762.0 261.4H770.3M737.8 263.4H744.1M757.8 263.4H768.1M741.5 265.4H765.8M743.3 267.4H763.6M749.1 269.4H761.4" stroke="#50ffaf" stroke-width="2.50" fill="none"/><path d="M698.6 239.4H702.9M804.6 239.4H824.9M698.3 241.4H706.6M798.3 241.4H806.6M824.3 241.4H828.6M698.1 243.4H708.4M794.1 243.4H800.4M830.1 243.4H834.4M703.9 245.4H712.2M791.9 245.4H798.2M833.9 245.4H838.2M709.6 247.4H717.9M789.6 247.4H795.9M835.6 247.4H839.9M717.4 249.4H721.7M787.4 249.4H793.7M837.4 249.4H843.7M721.2 251.4H725.5M785.2 251.4H791.5M841.2 251.4H845.5M722.9 253.4H727.2M780.9 253.4H789.2M842.9 253.4H847.5M724.7 255.4H729.0M778.7 255.4H787.0M726.5 257.4H730.8M776.5 257.4H782.8M728.2 259.4H730.5M772.2 259.4H780.5M730.0 261.4H734.3M770.0 261.4H778.3M731.8 263.4H738.1M767.8 263.4H776.1M735.5 265.4H741.8M765.5 265.4H773.8M739.3 267.4H743.6M763.3 267.4H771.6M741.1 269.4H749.4M761.1 269.4H769.4M742.8 271.4H769.1M744.6 273.4H766.9M754.4 275.4H762.7" stroke="#60ff9f" stroke-width="2.50" fill="none"/><path d="M806.3 241.4H824.6M800.1 243.4H808.4M826.1 243.4H830.4M697.9 245.4H704.2M797.9 245.4H804.2M829.9 245.4H834.2M701.6 247.4H709.9M795.6 247.4H801.9M831.6 247.4H835.9M707.4 249.4H717.7M793.4 249.4H801.7M833.4 249.4H837.7M715.2 251.4H721.5M791.2 251.4H799.5M835.2 251.4H841.5M718.9 253.4H723.2M788.9 253.4H797.2M838.9 253.4H843.2M720.7 255.4H725.0M786.7 255.4H795.0M840.7 255.4H846.9M724.5 257.4H726.8M782.5 257.4H790.8M724.2 259.4H728.5M780.2 259.4H788.5M726.0 261.4H730.3M778.0 261.4H786.3M727.8 263.4H732.1M775.8 263.4H784.1M729.5 265.4H735.8M773.5 265.4H781.8M733.3 267.4H739.6M771.3 267.4H779.6M737.1 269.4H741.4M769.1 269.4H777.4M738.8 271.4H743.1M768.8 271.4H775.1M740.6 273.4H744.9M766.6 273.4H774.9M744.4 275.4H754.7M762.4 275.4H770.7M750.1 277.4H766.4M759.9 279.4H762.2" stroke="#70ff8f" stroke-width="2.50" fill="none"/><path d="M808.1 243.4H826.4M803.9 245.4H812.2M823.9 245.4H830.2M697.6 247.4H701.9M801.6 247.4H811.9M825.6 247.4H831.9M697.4 249.4H707.7M801.4 249.4H809.7M825.4 249.4H833.7M705.2 251.4H715.5M799.2 251.4H809.5M827.2 251.4H835.5M714.9 253.4H719.2M796.9 253.4H809.2M828.9 253.4H839.2M718.7 255.4H721.0M794.7 255.4H807.0M832.7 255.4H841.0M720.5 257.4H724.8M790.5 257.4H806.8M838.5 257.4H846.2M722.2 259.4H724.5M788.2 259.4H804.5M842.2 259.4H845.6M724.0 261.4H726.3M786.0 261.4H798.3M725.8 263.4H728.1M783.8 263.4H792.1M727.5 265.4H729.8M781.5 265.4H789.8M729.3 267.4H733.6M779.3 267.4H787.6M731.1 269.4H737.4M777.1 269.4H785.4M734.8 271.4H739.1M774.8 271.4H783.1M736.6 273.4H740.9M774.6 273.4H780.9M740.4 275.4H744.7M770.4 275.4H778.7M742.1 277.4H750.4M766.1 277.4H774.4M747.9 279.4H760.2M761.9 279.4H770.2M755.7 281.4H766.0" stroke="#80ff80" stroke-width="2.50" fill="none"/><path d="M811.9 245.4H824.2M811.6 247.4H825.9M809.4 249.4H825.7M697.2 251.4H705.5M809.2 251.4H827.5M702.9 253.4H715.2M808.9 253.4H829.2M712.7 255.4H719.0M806.7 255.4H833.0M718.5 257.4H720.8M806.5 257.4H838.8M720.2 259.4H722.5M804.2 259.4H842.5M722.0 261.4H724.3M798.0 261.4H844.9M723.8 263.4H726.1M791.8 263.4H816.1M839.8 263.4H844.2M725.5 265.4H727.8M789.5 265.4H809.8M727.3 267.4H729.6M787.3 267.4H803.6M729.1 269.4H731.4M785.1 269.4H797.4M730.8 271.4H735.1M782.8 271.4H793.1M732.6 273.4H736.9M780.6 273.4H788.9M736.4 275.4H740.7M778.4 275.4H786.7M738.1 277.4H742.4M774.1 277.4H784.4M741.9 279.4H748.2M769.9 279.4H780.2M745.7 281.4H756.0M765.7 281.4H776.0M753.4 283.4H769.7M759.2 285.4H763.5" stroke="#8fff70" stroke-width="2.50" fill="none"/><path d="M696.9 253.4H703.2M696.7 255.4H713.0M708.5 257.4H718.8M716.2 259.4H720.5M718.0 261.4H722.3M719.8 263.4H724.1M815.8 263.4H840.1M721.5 265.4H725.8M809.5 265.4H843.6M723.3 267.4H727.6M803.3 267.4H842.9M725.1 269.4H729.4M797.1 269.4H842.3M726.8 271.4H731.1M792.8 271.4H815.1M728.6 273.4H732.9M788.6 273.4H808.9M732.4 275.4H736.7M786.4 275.4H802.7M734.1 277.4H738.4M784.1 277.4H792.4M735.9 279.4H742.2M779.9 279.4H788.2M739.7 281.4H746.0M775.7 281.4H784.0M745.4 283.4H753.7M769.4 283.4H779.7M751.2 285.4H759.5M763.2 285.4H775.5M757.0 287.4H769.3M760.7 289.4H763.0" stroke="#9fff60" stroke-width="2.50" fill="none"/><path d="M696.5 257.4H708.8M704.2 259.4H716.5M716.0 261.4H718.3M717.8 263.4H720.1M719.5 265.4H721.8M721.3 267.4H723.6M723.1 269.4H725.4M724.8 271.4H727.1M814.8 271.4H841.6M726.6 273.4H728.9M808.6 273.4H840.9M728.4 275.4H732.7M802.4 275.4H840.3M730.1 277.4H734.4M792.1 277.4H818.4M731.9 279.4H736.2M787.9 279.4H810.2M735.7 281.4H740.0M783.7 281.4H800.0M739.4 283.4H745.7M779.4 283.4H789.7M743.2 285.4H751.5M775.2 285.4H785.5M749.0 287.4H757.3M769.0 287.4H779.3M754.7 289.4H761.0M762.7 289.4H775.0M758.5 291.4H766.8" stroke="#afff50" stroke-width="2.50" fill="none"/><path d="M696.2 259.4H704.5M696.0 261.4H716.3M695.8 263.4H718.1M695.5 265.4H707.8M717.5 265.4H719.8M695.3 267.4H701.6M719.3 267.4H721.6M721.1 269.4H723.4M722.8 271.4H725.1M724.6 273.4H726.9M726.4 275.4H728.7M726.1 277.4H730.4M818.1 277.4H839.6M727.9 279.4H732.2M809.9 279.4H839.0M729.7 281.4H736.0M799.7 281.4H838.3M731.4 283.4H739.7M789.4 283.4H817.7M827.4 283.4H837.7M737.2 285.4H743.5M785.2 285.4H809.5M741.0 287.4H749.3M779.0 287.4H791.3M748.7 289.4H755.0M774.7 289.4H785.0M752.5 291.4H758.8M766.5 291.4H778.8M754.3 293.4H770.6M760.0 295.4H762.3" stroke="#bfff40" stroke-width="2.50" fill="none"/><path d="M707.5 265.4H717.8M701.3 267.4H719.6M695.1 269.4H711.4M717.1 269.4H721.4M694.8 271.4H707.1M718.8 271.4H723.1M694.6 273.4H704.9M720.6 273.4H724.9M694.4 275.4H702.7M722.4 275.4H726.7M694.1 277.4H704.4M722.1 277.4H726.4M693.9 279.4H706.2M721.9 279.4H728.2M693.7 281.4H706.0M723.7 281.4H730.0M693.4 283.4H709.7M723.4 283.4H731.7M817.4 283.4H827.7M693.2 285.4H711.5M725.2 285.4H737.5M809.2 285.4H837.0M693.0 287.4H715.3M733.0 287.4H741.3M791.0 287.4H836.3M692.7 289.4H721.0M738.7 289.4H749.0M784.7 289.4H817.0M824.7 289.4H835.7M692.5 291.4H718.8M744.5 291.4H752.8M778.5 291.4H810.8M830.5 291.4H835.0M692.3 293.4H716.6M748.3 293.4H754.6M770.3 293.4H786.6M750.0 295.4H760.3M762.0 295.4H774.3M755.8 297.4H766.1" stroke="#cfff30" stroke-width="2.50" fill="none"/><path d="M711.1 269.4H717.4M706.8 271.4H715.1M716.8 271.4H719.1M704.6 273.4H710.9M718.6 273.4H720.9M702.4 275.4H708.7M718.4 275.4H722.7M704.1 277.4H710.4M718.1 277.4H722.4M705.9 279.4H712.2M717.9 279.4H722.2M705.7 281.4H724.0M709.4 283.4H723.7M711.2 285.4H725.5M715.0 287.4H733.3M720.7 289.4H739.0M816.7 289.4H825.0M718.5 291.4H744.8M810.5 291.4H830.8M716.3 293.4H728.6M734.3 293.4H748.6M786.3 293.4H834.4M692.0 295.4H726.3M738.0 295.4H750.3M774.0 295.4H833.7M703.8 297.4H724.1M743.8 297.4H756.1M765.8 297.4H833.0M709.6 299.4H723.9M749.6 299.4H769.9M799.6 299.4H817.9M821.6 299.4H832.4M713.4 301.4H721.7M759.4 301.4H761.7M827.4 301.4H831.7M715.1 303.4H719.4M714.9 305.4H717.2" stroke="#dfff20" stroke-width="2.50" fill="none"/><path d="M714.8 271.4H717.1M710.6 273.4H718.9M708.4 275.4H714.7M716.4 275.4H718.7M710.1 277.4H718.4M711.9 279.4H718.2M728.3 293.4H734.6M726.0 295.4H738.3M691.8 297.4H704.1M723.8 297.4H744.1M691.6 299.4H709.9M723.6 299.4H749.9M769.6 299.4H799.9M817.6 299.4H821.9M703.4 301.4H713.7M721.4 301.4H759.7M761.4 301.4H773.7M781.4 301.4H827.7M707.1 303.4H715.4M719.1 303.4H731.4M735.1 303.4H765.4M789.1 303.4H831.1M708.9 305.4H715.2M716.9 305.4H729.2M794.9 305.4H830.4M710.7 307.4H729.0M794.7 307.4H829.7M710.4 309.4H728.7M794.4 309.4H829.1M712.2 311.4H728.5M796.2 311.4H828.4" stroke="#efff10" stroke-width="2.50" fill="none"/><path d="M714.4 275.4H716.7M691.4 301.4H703.7M773.4 301.4H781.7M691.1 303.4H707.4M731.1 303.4H735.4M765.1 303.4H789.4M702.9 305.4H709.2M728.9 305.4H771.2M780.9 305.4H795.2M704.7 307.4H711.0M728.7 307.4H769.0M782.7 307.4H795.0M704.4 309.4H710.7M728.4 309.4H768.7M782.4 309.4H794.7M706.2 311.4H712.5M728.2 311.4H768.5M784.2 311.4H796.5" stroke="#ff0" stroke-width="2.50" fill="none"/><path d="M690.9 305.4H703.2M770.9 305.4H781.2M690.7 307.4H705.0M768.7 307.4H783.0M690.4 309.4H704.7M768.4 309.4H782.7M690.2 311.4H706.5M768.2 311.4H784.5" stroke="#ffef00" stroke-width="2.50" fill="none"/><path d="M851.1 116.0h0M851.1 119.6h0M851.1 123.2h0M851.1 126.8h0M851.1 130.4h0M851.1 134.0h0M851.1 137.6h0M851.1 141.2h0M851.1 144.8h0M851.1 148.4h0" stroke="#0060ff" stroke-width="6.4" stroke-linecap="round" fill="none"/><path d="M851.1 108.8h0M851.1 112.4h0M851.1 152.0h0M851.1 155.6h0M851.1 159.2h0M851.1 162.8h0" stroke="#0070ff" stroke-width="6.4" stroke-linecap="round" fill="none"/><path d="M851.1 166.4h0M851.1 170.0h0M851.1 173.6h0M851.1 177.2h0M851.1 180.8h0M851.1 184.4h0M851.1 188.0h0M851.1 191.6h0M851.1 195.2h0M851.1 198.8h0M851.1 202.4h0M851.1 206.0h0M851.1 209.6h0M851.1 213.2h0M851.1 216.8h0M851.1 220.4h0" stroke="#0080ff" stroke-width="6.4" stroke-linecap="round" fill="none"/><path d="M851.1 224.0h0M851.1 227.6h0M828.2 97.2h0" stroke="#008fff" stroke-width="6.4" stroke-linecap="round" fill="none"/><path d="M851.1 231.2h0M794.0 97.2h0M797.8 97.2h0M801.6 97.2h0M805.4 97.2h0M809.2 97.2h0M813.0 97.2h0M816.8 97.2h0M820.6 97.2h0M824.4 97.2h0" stroke="#009fff" stroke-width="6.4" stroke-linecap="round" fill="none"/><path d="M775.0 97.2h0M778.8 97.2h0M782.6 97.2h0M786.4 97.2h0M790.2 97.2h0" stroke="#00afff" stroke-width="6.4" stroke-linecap="round" fill="none"/><path d="M851.1 234.8h0" stroke="#00bfff" stroke-width="6.4" stroke-linecap="round" fill="none"/><path d="M771.2 97.2h0" stroke="#00cfff" stroke-width="6.4" stroke-linecap="round" fill="none"/><path d="M850.0 238.4h0M767.4 97.2h0" stroke="#00dfff" stroke-width="6.4" stroke-linecap="round" fill="none"/><path d="M763.6 97.2h0" stroke="#00efff" stroke-width="6.4" stroke-linecap="round" fill="none"/><path d="M759.8 97.2h0" stroke="#0ff" stroke-width="6.4" stroke-linecap="round" fill="none"/><path d="M848.8 242.0h0M748.4 97.2h0M752.2 97.2h0M756.0 97.2h0" stroke="#10ffef" stroke-width="6.4" stroke-linecap="round" fill="none"/><path d="M717.2 98.0h0M718.0 97.2h0M721.8 97.2h0M725.6 97.2h0M729.4 97.2h0M733.2 97.2h0M737.0 97.2h0M740.8 97.2h0M744.6 97.2h0" stroke="#20ffdf" stroke-width="6.4" stroke-linecap="round" fill="none"/><path d="M716.8 101.6h0M716.4 105.2h0M716.0 108.8h0M715.6 112.4h0M715.1 116.0h0M714.7 119.6h0M714.3 123.2h0M710.5 155.6h0M710.1 159.2h0M709.7 162.8h0M709.3 166.4h0M708.9 170.0h0M708.4 173.6h0M708.0 177.2h0M707.6 180.8h0M707.2 184.4h0M706.8 188.0h0M706.3 191.6h0M705.9 195.2h0M705.5 198.8h0M705.1 202.4h0M704.7 206.0h0M704.2 209.6h0M703.8 213.2h0M703.4 216.8h0M703.0 220.4h0M702.6 224.0h0M847.6 245.6h0" stroke="#30ffcf" stroke-width="6.4" stroke-linecap="round" fill="none"/><path d="M713.9 126.8h0M713.5 130.4h0M713.0 134.0h0M712.6 137.6h0M712.2 141.2h0M711.8 144.8h0M711.4 148.4h0M710.9 152.0h0M702.1 227.6h0M701.7 231.2h0M846.4 249.2h0" stroke="#40ffbf" stroke-width="6.4" stroke-linecap="round" fill="none"/><path d="M701.3 234.8h0" stroke="#50ffaf" stroke-width="6.4" stroke-linecap="round" fill="none"/><path d="M700.9 238.4h0M700.5 242.0h0M845.2 252.8h0" stroke="#60ff9f" stroke-width="6.4" stroke-linecap="round" fill="none"/><path d="M700.0 245.6h0M844.0 256.4h0" stroke="#70ff8f" stroke-width="6.4" stroke-linecap="round" fill="none"/><path d="M699.6 249.2h0" stroke="#80ff80" stroke-width="6.4" stroke-linecap="round" fill="none"/><path d="M699.2 252.8h0M842.9 260.0h0M841.7 263.6h0" stroke="#8fff70" stroke-width="6.4" stroke-linecap="round" fill="none"/><path d="M840.5 267.2h0" stroke="#9fff60" stroke-width="6.4" stroke-linecap="round" fill="none"/><path d="M698.8 256.4h0M839.3 270.8h0M838.1 274.4h0" stroke="#afff50" stroke-width="6.4" stroke-linecap="round" fill="none"/><path d="M698.4 260.0h0M698.0 263.6h0M697.5 267.2h0M836.9 278.0h0M835.7 281.6h0" stroke="#bfff40" stroke-width="6.4" stroke-linecap="round" fill="none"/><path d="M697.1 270.8h0M696.7 274.4h0M696.3 278.0h0M695.9 281.6h0M695.4 285.2h0M834.6 285.2h0M695.0 288.8h0M833.4 288.8h0M694.6 292.4h0M832.2 292.4h0" stroke="#cfff30" stroke-width="6.4" stroke-linecap="round" fill="none"/><path d="M694.2 296.0h0M831.0 296.0h0M829.8 299.6h0" stroke="#dfff20" stroke-width="6.4" stroke-linecap="round" fill="none"/><path d="M693.8 299.6h0M828.6 303.2h0M827.4 306.8h0M712.0 309.6h0M715.8 309.6h0M719.6 309.6h0M723.4 309.6h0M727.2 309.6h0M795.6 309.6h0M799.4 309.6h0M803.2 309.6h0M807.0 309.6h0M810.8 309.6h0M814.6 309.6h0M818.4 309.6h0M822.2 309.6h0M826.0 309.6h0" stroke="#efff10" stroke-width="6.4" stroke-linecap="round" fill="none"/><path d="M693.3 303.2h0M708.2 309.6h0M731.0 309.6h0M734.8 309.6h0M738.6 309.6h0M742.4 309.6h0M746.2 309.6h0M750.0 309.6h0M753.8 309.6h0M757.6 309.6h0M761.4 309.6h0M765.2 309.6h0M784.2 309.6h0M788.0 309.6h0M791.8 309.6h0" stroke="#ff0" stroke-width="6.4" stroke-linecap="round" fill="none"/><path d="M692.9 306.8h0M693.0 309.6h0M696.8 309.6h0M700.6 309.6h0M704.4 309.6h0M769.0 309.6h0M772.8 309.6h0M776.6 309.6h0M780.4 309.6h0" stroke="#ffef00" stroke-width="6.4" stroke-linecap="round" fill="none"/>
<use href="#bd" transform="translate(421.00,0.00) scale(1.0000,1.0000)"/>
<text class="t" x="567.2" y="112.7">48<tspan class="d" x="586.3" y="105.5" letter-spacing="0">° </tspan><tspan x="596.3" y="112.7">N</tspan></text>
<text class="t" x="567.2" y="130.7">46<tspan class="d" x="586.3" y="124.6" letter-spacing="0">° </tspan><tspan x="596.3" y="130.7">N</tspan></text>
<text class="t" x="567.2" y="147.9">44<tspan class="d" x="586.3" y="141.3" letter-spacing="0">° </tspan><tspan x="596.3" y="147.9">N</tspan></text>
<text class="t" x="567.2" y="166.7">42<tspan class="d" x="586.3" y="159.5" letter-spacing="0">° </tspan><tspan x="596.3" y="166.7">N</tspan></text>
<text class="t" x="567.2" y="182.3">40<tspan class="d" x="586.3" y="176.6" letter-spacing="0">° </tspan><tspan x="596.3" y="182.3">N</tspan></text>
<text class="t" x="567.2" y="197.7">38<tspan class="d" x="586.3" y="191.6" letter-spacing="0">° </tspan><tspan x="596.3" y="197.7">N</tspan></text>
<text class="t" x="567.2" y="214.6">36<tspan class="d" x="586.3" y="207.5" letter-spacing="0">° </tspan><tspan x="596.3" y="214.6">N</tspan></text>
<text class="t" x="567.2" y="228.7">34<tspan class="d" x="586.3" y="222.4" letter-spacing="0">° </tspan><tspan x="596.3" y="228.7">N</tspan></text>
<text class="t" x="567.2" y="245.7">32<tspan class="d" x="586.3" y="239.1" letter-spacing="0">° </tspan><tspan x="596.3" y="245.7">N</tspan></text>
<text class="t" x="567.2" y="259.7">30<tspan class="d" x="586.3" y="253.5" letter-spacing="0">° </tspan><tspan x="596.3" y="259.7">N</tspan></text>
<text class="t" x="567.2" y="272.7">28<tspan class="d" x="586.3" y="266.1" letter-spacing="0">° </tspan><tspan x="596.3" y="272.7">N</tspan></text>
<text class="t" x="567.2" y="287.7">26<tspan class="d" x="586.3" y="280.5" letter-spacing="0">° </tspan><tspan x="596.3" y="287.7">N</tspan></text>
<text class="t" x="567.2" y="301.7">24<tspan class="d" x="586.3" y="295.3" letter-spacing="0">° </tspan><tspan x="596.3" y="301.7">N</tspan></text>
<text class="t" x="567.2" y="314.7">22<tspan class="d" x="586.3" y="307.5" letter-spacing="0">° </tspan><tspan x="596.3" y="314.7">N</tspan></text>
<text class="t" x="636.3" y="77.0">100<tspan class="d" x="663.1" y="69.6">° </tspan><tspan x="673.4" y="77.0">W</tspan></text>
<text class="t" x="705.1" y="77.0">90<tspan class="d" x="723.3" y="69.6">° </tspan><tspan x="734.5" y="77.0">W</tspan></text>
<text class="t" x="769.0" y="77.0">80<tspan class="d" x="788.2" y="69.6">° </tspan><tspan x="798.5" y="77.0">W</tspan></text>
<text class="t" x="832.5" y="77.0">70<tspan class="d" x="850.7" y="69.6">° </tspan><tspan x="861.5" y="77.0">W</tspan></text>
<rect x="862.1" y="95.2" width="23.7" height="215.5" fill="url(#jet)"/>
<rect x="862.6" y="95.7" width="22.7" height="214.5" fill="none" stroke="#000" stroke-opacity="0.85" stroke-width="1"/>
<text class="c" x="894.0" y="132.7">290</text>
<path d="M885.8 125.2h-3" stroke="#111" stroke-width="1"/>
<text class="c" x="894.0" y="176.5">280</text>
<path d="M885.8 169.0h-3" stroke="#111" stroke-width="1"/>
<text class="c" x="894.0" y="219.8">270</text>
<path d="M885.8 212.3h-3" stroke="#111" stroke-width="1"/>
<text class="c" x="894.0" y="263.0">260</text>
<path d="M885.8 255.5h-3" stroke="#111" stroke-width="1"/>
<text class="c" x="894.0" y="306.9">250</text>
<path d="M885.8 299.4h-3" stroke="#111" stroke-width="1"/>
<text class="x" x="728.5" y="340.9" text-anchor="middle">SAT+RAP 700 hPa Temp (K)</text>
</g>
<g>
<rect x="1037.5" y="95.5" width="235.0" height="215.0" fill="#fff" stroke="#1a1a1a" stroke-width="1" shape-rendering="crispEdges"/>
<path d="M1273.4 147.1H1275.8M1271.2 149.1H1275.8M1271.0 151.1H1275.8M1270.7 153.1H1275.8M1270.5 155.1H1275.8M1270.3 157.1H1275.8M1272.0 159.2H1275.8" stroke="#0050ff" stroke-width="2.52" fill="none"/><path d="M1272.6 137.0H1275.8M1270.4 139.0H1275.8M1270.1 141.0H1275.8M1267.9 143.0H1275.8M1267.6 145.0H1275.8M1267.4 147.1H1273.7M1267.2 149.1H1271.5M1264.9 151.1H1271.3M1264.7 153.1H1271.0M1264.5 155.1H1270.8M1266.2 157.1H1270.6M1266.0 159.2H1272.3M1267.8 161.2H1275.8M1269.6 163.2H1275.8M1269.3 165.2H1275.8M1271.1 167.2H1275.8" stroke="#0060ff" stroke-width="2.52" fill="none"/><path d="M1271.5 128.9H1275.8M1269.3 130.9H1275.8M1267.0 132.9H1275.8M1264.8 134.9H1275.8M1262.5 137.0H1272.9M1262.3 139.0H1270.7M1262.1 141.0H1270.4M1261.8 143.0H1268.2M1261.6 145.0H1267.9M1261.4 147.1H1267.7M1261.1 149.1H1267.5M1260.9 151.1H1265.2M1260.7 153.1H1265.0M1260.4 155.1H1264.8M1260.2 157.1H1266.5M1260.0 159.2H1266.3M1261.7 161.2H1268.1M1261.5 163.2H1269.9M1261.3 165.2H1269.6M1263.0 167.2H1271.4M1262.8 169.2H1275.8M1264.6 171.3H1275.8M1264.4 173.3H1275.8M1266.1 175.3H1275.8M1265.9 177.3H1275.8M1265.7 179.3H1275.8M1267.4 181.4H1275.8M1269.2 183.4H1275.8M1269.0 185.4H1275.8M1268.8 187.4H1275.8M1268.5 189.4H1275.8M1268.3 191.4H1275.8M1266.0 193.5H1275.8M1261.8 195.5H1275.8M1257.5 197.5H1275.8M1255.3 199.5H1275.8M1257.1 201.5H1269.4" stroke="#0070ff" stroke-width="2.52" fill="none"/><path d="M1272.5 120.8H1275.8M1266.2 122.8H1275.8M1259.9 124.9H1275.8M1259.7 126.9H1275.8M1257.4 128.9H1271.8M1255.2 130.9H1269.6M1255.0 132.9H1267.3M1254.7 134.9H1265.1M1252.5 137.0H1262.8M1252.3 139.0H1262.6M1252.0 141.0H1262.4M1251.8 143.0H1262.1M1251.5 145.0H1261.9M1251.3 147.1H1261.7M1253.1 149.1H1261.4M1252.9 151.1H1261.2M1252.6 153.1H1261.0M1252.4 155.1H1260.7M1252.2 157.1H1260.5M1251.9 159.2H1260.3M1251.7 161.2H1262.0M1251.5 163.2H1261.8M1251.2 165.2H1261.6M1253.0 167.2H1263.3M1252.8 169.2H1263.1M1252.5 171.3H1264.9M1252.3 173.3H1264.7M1250.0 175.3H1266.4M1249.8 177.3H1266.2M1249.6 179.3H1266.0M1249.3 181.4H1267.7M1247.1 183.4H1269.5M1246.9 185.4H1269.3M1244.6 187.4H1269.1M1242.4 189.4H1268.8M1242.1 191.4H1268.6M1241.9 193.5H1266.3M1241.7 195.5H1262.1M1241.4 197.5H1257.8M1241.2 199.5H1255.6M1241.0 201.5H1257.4M1269.1 201.5H1275.8M1242.7 203.6H1275.8M1242.5 205.6H1275.8M1244.3 207.6H1275.8M1248.1 209.6H1272.5M1249.9 211.6H1268.3M1251.6 213.6H1266.0M1253.4 215.7H1261.8" stroke="#0080ff" stroke-width="2.52" fill="none"/><path d="M1271.4 112.7H1275.8M1255.1 114.8H1275.8M1248.8 116.8H1275.8M1244.5 118.8H1275.8M1240.3 120.8H1272.8M1238.0 122.8H1266.5M1237.8 124.9H1260.2M1237.6 126.9H1260.0M1235.3 128.9H1257.7M1233.1 130.9H1255.5M1230.8 132.9H1255.3M1226.6 134.9H1255.0M1224.3 137.0H1252.8M1224.1 139.0H1252.6M1223.9 141.0H1252.3M1225.6 143.0H1252.1M1229.4 145.0H1251.8M1233.2 147.1H1251.6M1235.0 149.1H1253.4M1236.8 151.1H1253.2M1236.5 153.1H1252.9M1238.3 155.1H1252.7M1236.1 157.1H1252.5M1235.8 159.2H1252.2M1233.6 161.2H1252.0M1231.3 163.2H1251.8M1227.1 165.2H1251.5M1226.8 167.2H1253.3M1226.6 169.2H1253.1M1226.4 171.3H1252.8M1230.2 173.3H1252.6M1234.0 175.3H1250.3M1233.7 177.3H1250.1M1235.5 179.3H1249.9M1235.3 181.4H1249.6M1235.0 183.4H1247.4M1236.8 185.4H1247.2M1236.6 187.4H1244.9M1236.3 189.4H1242.7M1236.1 191.4H1242.4M1235.9 193.5H1242.2M1235.6 195.5H1242.0M1235.4 197.5H1241.7M1235.2 199.5H1241.5M1236.9 201.5H1241.3M1236.7 203.6H1243.0M1238.5 205.6H1242.8M1238.3 207.6H1244.6M1240.0 209.6H1248.4M1272.2 209.6H1275.8M1239.8 211.6H1250.2M1268.0 211.6H1275.8M1241.6 213.6H1251.9M1265.7 213.6H1275.8M1241.3 215.7H1253.7M1261.5 215.7H1275.8M1249.2 217.7H1265.5" stroke="#008fff" stroke-width="2.52" fill="none"/><path d="M1227.0 96.6H1245.4M1224.8 98.6H1247.2M1222.5 100.6H1253.0M1220.3 102.7H1274.1M1218.0 104.7H1275.8M1217.8 106.7H1275.8M1215.5 108.7H1275.8M1213.3 110.7H1275.8M1211.0 112.7H1271.7M1210.8 114.8H1255.4M1208.6 116.8H1249.1M1208.3 118.8H1244.8M1208.1 120.8H1240.6M1205.9 122.8H1238.3M1205.6 124.9H1238.1M1207.4 126.9H1237.9M1207.2 128.9H1235.6M1206.9 130.9H1233.4M1206.7 132.9H1231.1M1208.5 134.9H1226.9M1208.2 137.0H1224.6M1208.0 139.0H1224.4M1209.8 141.0H1224.2M1209.5 143.0H1225.9M1211.3 145.0H1229.7M1213.1 147.1H1233.5M1216.9 149.1H1235.3M1218.7 151.1H1237.1M1220.4 153.1H1236.8M1220.2 155.1H1238.6M1220.0 157.1H1236.4M1219.7 159.2H1236.1M1217.5 161.2H1233.9M1217.3 163.2H1231.6M1215.0 165.2H1227.4M1214.8 167.2H1227.1M1214.5 169.2H1226.9M1214.3 171.3H1226.7M1216.1 173.3H1230.5M1219.9 175.3H1234.3M1221.7 177.3H1234.0M1223.4 179.3H1235.8M1225.2 181.4H1235.6M1227.0 183.4H1235.3M1228.8 185.4H1237.1M1228.5 187.4H1236.9M1230.3 189.4H1236.6M1230.1 191.4H1236.4M1229.8 193.5H1236.2M1229.6 195.5H1235.9M1231.4 197.5H1235.7M1231.1 199.5H1235.5M1230.9 201.5H1237.2M1232.7 203.6H1237.0M1232.5 205.6H1238.8M1232.2 207.6H1238.6M1234.0 209.6H1240.3M1233.8 211.6H1240.1M1235.5 213.6H1241.9M1235.3 215.7H1241.6M1239.1 217.7H1249.5M1265.2 217.7H1275.8M1242.9 219.7H1267.3M1256.7 221.7H1259.0" stroke="#009fff" stroke-width="2.52" fill="none"/><path d="M1209.1 94.6H1256.4M1206.9 96.6H1227.3M1245.1 96.6H1260.9M1206.7 98.6H1225.1M1246.9 98.6H1265.3M1204.4 100.6H1222.8M1252.7 100.6H1269.7M1202.2 102.7H1220.6M1199.9 104.7H1218.3M1195.7 106.7H1218.1M1191.4 108.7H1215.8M1191.2 110.7H1213.6M1190.9 112.7H1211.3M1190.7 114.8H1211.1M1190.5 116.8H1208.9M1190.2 118.8H1208.6M1190.0 120.8H1208.4M1189.8 122.8H1206.2M1191.5 124.9H1205.9M1193.3 126.9H1207.7M1195.1 128.9H1207.5M1196.9 130.9H1207.2M1198.7 132.9H1207.0M1198.4 134.9H1208.8M1200.2 137.0H1208.5M1200.0 139.0H1208.3M1201.7 141.0H1210.1M1201.5 143.0H1209.8M1203.3 145.0H1211.6M1203.0 147.1H1213.4M1204.8 149.1H1217.2M1206.6 151.1H1219.0M1208.4 153.1H1220.7M1210.2 155.1H1220.5M1207.9 157.1H1220.3M1207.7 159.2H1220.0M1207.4 161.2H1217.8M1207.2 163.2H1217.6M1207.0 165.2H1215.3M1206.7 167.2H1215.1M1206.5 169.2H1214.8M1208.3 171.3H1214.6M1208.0 173.3H1216.4M1209.8 175.3H1220.2M1209.6 177.3H1222.0M1211.4 179.3H1223.7M1213.1 181.4H1225.5M1214.9 183.4H1227.3M1216.7 185.4H1229.1M1218.5 187.4H1228.8M1218.2 189.4H1230.6M1220.0 191.4H1230.4M1221.8 193.5H1230.1M1221.6 195.5H1229.9M1223.3 197.5H1231.7M1223.1 199.5H1231.4M1224.9 201.5H1231.2M1226.7 203.6H1233.0M1226.4 205.6H1232.8M1228.2 207.6H1232.5M1228.0 209.6H1234.3M1229.7 211.6H1234.1M1229.5 213.6H1235.8M1229.3 215.7H1235.6M1231.1 217.7H1239.4M1234.8 219.7H1243.2M1267.0 219.7H1275.8M1236.6 221.7H1257.0M1258.7 221.7H1271.1M1242.4 223.7H1260.8" stroke="#00afff" stroke-width="2.52" fill="none"/><path d="M1197.1 94.6H1209.4M1194.8 96.6H1207.2M1192.6 98.6H1207.0M1188.3 100.6H1204.7M1186.1 102.7H1202.5M1179.8 104.7H1200.2M1173.5 106.7H1196.0M1169.3 108.7H1191.7M1169.0 110.7H1191.5M1170.8 112.7H1191.2M1170.6 114.8H1191.0M1172.4 116.8H1190.8M1172.1 118.8H1190.5M1173.9 120.8H1190.3M1173.7 122.8H1190.1M1175.5 124.9H1191.8M1175.2 126.9H1193.6M1177.0 128.9H1195.4M1178.8 130.9H1197.2M1178.5 132.9H1199.0M1180.3 134.9H1198.7M1182.1 137.0H1200.5M1181.9 139.0H1200.3M1183.6 141.0H1202.0M1185.4 143.0H1201.8M1187.2 145.0H1203.6M1189.0 147.1H1203.3M1190.7 149.1H1205.1M1194.5 151.1H1206.9M1196.3 153.1H1208.7M1198.1 155.1H1210.5M1197.9 157.1H1208.2M1199.6 159.2H1208.0M1199.4 161.2H1207.7M1201.2 163.2H1207.5M1200.9 165.2H1207.3M1200.7 167.2H1207.0M1200.5 169.2H1206.8M1202.2 171.3H1208.6M1202.0 173.3H1208.3M1201.8 175.3H1210.1M1203.6 177.3H1209.9M1203.3 179.3H1211.7M1203.1 181.4H1213.4M1204.9 183.4H1215.2M1204.6 185.4H1217.0M1206.4 187.4H1218.8M1206.2 189.4H1218.5M1207.9 191.4H1220.3M1207.7 193.5H1222.1M1209.5 195.5H1221.9M1209.3 197.5H1223.6M1211.0 199.5H1223.4M1212.8 201.5H1225.2M1214.6 203.6H1227.0M1214.4 205.6H1226.7M1216.1 207.6H1228.5M1217.9 209.6H1228.3M1217.7 211.6H1230.0M1219.5 213.6H1229.8M1221.2 215.7H1229.6M1223.0 217.7H1231.4M1224.8 219.7H1235.1M1226.6 221.7H1236.9M1270.8 221.7H1275.8M1228.3 223.7H1242.7M1260.5 223.7H1272.9M1232.1 225.7H1264.6M1241.9 227.8H1246.3" stroke="#00bfff" stroke-width="2.52" fill="none"/><path d="M1185.0 94.6H1197.4M1174.7 96.6H1195.1M1162.4 98.6H1192.9M1160.2 100.6H1188.6M1157.9 102.7H1186.4M1157.7 104.7H1180.1M1155.4 106.7H1173.8M1155.2 108.7H1169.6M1157.0 110.7H1169.3M1158.8 112.7H1171.1M1160.5 114.8H1170.9M1162.3 116.8H1172.7M1162.1 118.8H1172.4M1163.9 120.8H1174.2M1165.6 122.8H1174.0M1165.4 124.9H1175.8M1165.2 126.9H1175.5M1166.9 128.9H1177.3M1166.7 130.9H1179.1M1166.5 132.9H1178.8M1168.3 134.9H1180.6M1170.0 137.0H1182.4M1169.8 139.0H1182.2M1171.6 141.0H1183.9M1171.3 143.0H1185.7M1173.1 145.0H1187.5M1174.9 147.1H1189.3M1174.7 149.1H1191.0M1176.4 151.1H1194.8M1178.2 153.1H1196.6M1178.0 155.1H1198.4M1179.8 157.1H1198.2M1179.5 159.2H1199.9M1181.3 161.2H1199.7M1183.1 163.2H1201.5M1184.8 165.2H1201.2M1186.6 167.2H1201.0M1188.4 169.2H1200.8M1188.2 171.3H1202.5M1187.9 173.3H1202.3M1189.7 175.3H1202.1M1189.5 177.3H1203.9M1189.2 179.3H1203.6M1189.0 181.4H1203.4M1188.8 183.4H1205.2M1188.5 185.4H1204.9M1190.3 187.4H1206.7M1190.1 189.4H1206.5M1191.9 191.4H1208.2M1191.6 193.5H1208.0M1193.4 195.5H1209.8M1193.2 197.5H1209.6M1192.9 199.5H1211.3M1194.7 201.5H1213.1M1196.5 203.6H1214.9M1198.3 205.6H1214.7M1202.1 207.6H1216.4M1203.8 209.6H1218.2M1205.6 211.6H1218.0M1207.4 213.6H1219.8M1209.2 215.7H1221.5M1210.9 217.7H1223.3M1212.7 219.7H1225.1M1214.5 221.7H1226.9M1216.3 223.7H1228.6M1272.6 223.7H1275.8M1218.0 225.7H1232.4M1264.3 225.7H1275.8M1219.8 227.8H1242.2M1246.0 227.8H1266.4M1223.6 229.8H1258.1" stroke="#00cfff" stroke-width="2.52" fill="none"/><path d="M1136.7 94.6H1185.3M1136.5 96.6H1175.0M1136.3 98.6H1162.7M1136.0 100.6H1160.5M1135.8 102.7H1158.2M1135.6 104.7H1158.0M1135.3 106.7H1155.7M1135.1 108.7H1155.5M1140.9 110.7H1157.3M1146.7 112.7H1159.1M1152.5 114.8H1160.8M1154.3 116.8H1162.6M1156.0 118.8H1162.4M1157.8 120.8H1164.2M1157.6 122.8H1165.9M1159.4 124.9H1165.7M1159.1 126.9H1165.5M1160.9 128.9H1167.2M1160.7 130.9H1167.0M1162.5 132.9H1166.8M1162.2 134.9H1168.6M1162.0 137.0H1170.3M1163.8 139.0H1170.1M1163.5 141.0H1171.9M1163.3 143.0H1171.6M1165.1 145.0H1173.4M1164.8 147.1H1175.2M1166.6 149.1H1175.0M1166.4 151.1H1176.7M1166.1 153.1H1178.5M1167.9 155.1H1178.3M1167.7 157.1H1180.1M1169.5 159.2H1179.8M1169.2 161.2H1181.6M1171.0 163.2H1183.4M1170.8 165.2H1185.1M1172.5 167.2H1186.9M1174.3 169.2H1188.7M1174.1 171.3H1188.5M1173.9 173.3H1188.2M1173.6 175.3H1190.0M1173.4 177.3H1189.8M1173.2 179.3H1189.5M1174.9 181.4H1189.3M1174.7 183.4H1189.1M1174.5 185.4H1188.8M1174.2 187.4H1190.6M1176.0 189.4H1190.4M1177.8 191.4H1192.2M1177.5 193.5H1191.9M1179.3 195.5H1193.7M1181.1 197.5H1193.5M1180.9 199.5H1193.2M1182.6 201.5H1195.0M1182.4 203.6H1196.8M1184.2 205.6H1198.6M1186.0 207.6H1202.4M1187.7 209.6H1204.1M1189.5 211.6H1205.9M1193.3 213.6H1207.7M1195.1 215.7H1209.5M1196.9 217.7H1211.2M1198.6 219.7H1213.0M1200.4 221.7H1214.8M1202.2 223.7H1216.6M1204.0 225.7H1218.3M1205.7 227.8H1220.1M1266.1 227.8H1275.8M1209.5 229.8H1223.9M1257.8 229.8H1270.2M1215.3 231.8H1261.9M1223.1 233.8H1249.6" stroke="#00dfff" stroke-width="2.52" fill="none"/><path d="M1134.9 110.7H1141.2M1134.6 112.7H1147.0M1138.4 114.8H1152.8M1142.2 116.8H1154.6M1146.0 118.8H1156.3M1149.8 120.8H1158.1M1151.6 122.8H1157.9M1153.3 124.9H1159.7M1155.1 126.9H1159.4M1154.9 128.9H1161.2M1154.6 130.9H1161.0M1156.4 132.9H1162.8M1156.2 134.9H1162.5M1155.9 137.0H1162.3M1157.7 139.0H1164.1M1157.5 141.0H1163.8M1159.3 143.0H1163.6M1159.0 145.0H1165.4M1160.8 147.1H1165.1M1160.6 149.1H1166.9M1162.4 151.1H1166.7M1162.1 153.1H1166.4M1161.9 155.1H1168.2M1163.7 157.1H1168.0M1163.4 159.2H1169.8M1163.2 161.2H1169.5M1165.0 163.2H1171.3M1164.7 165.2H1171.1M1164.5 167.2H1172.8M1166.3 169.2H1174.6M1166.0 171.3H1174.4M1165.8 173.3H1174.2M1165.6 175.3H1173.9M1165.3 177.3H1173.7M1165.1 179.3H1173.5M1166.9 181.4H1175.2M1166.7 183.4H1175.0M1166.4 185.4H1174.8M1166.2 187.4H1174.5M1166.0 189.4H1176.3M1167.7 191.4H1178.1M1167.5 193.5H1177.8M1167.3 195.5H1179.6M1169.0 197.5H1181.4M1168.8 199.5H1181.2M1170.6 201.5H1182.9M1172.4 203.6H1182.7M1172.1 205.6H1184.5M1173.9 207.6H1186.3M1173.7 209.6H1188.0M1175.4 211.6H1189.8M1177.2 213.6H1193.6M1177.0 215.7H1195.4M1178.8 217.7H1197.2M1180.5 219.7H1198.9M1180.3 221.7H1200.7M1182.1 223.7H1202.5M1181.8 225.7H1204.3M1183.6 227.8H1206.0M1185.4 229.8H1209.8M1269.9 229.8H1275.8M1189.2 231.8H1215.6M1261.6 231.8H1274.0M1193.0 233.8H1223.4M1249.3 233.8H1265.7M1214.9 235.8H1257.4M1234.7 237.9H1245.1" stroke="#00efff" stroke-width="2.52" fill="none"/><path d="M1134.4 114.8H1138.7M1134.2 116.8H1142.5M1133.9 118.8H1146.3M1139.7 120.8H1150.1M1143.5 122.8H1151.9M1145.3 124.9H1153.6M1147.1 126.9H1155.4M1146.8 128.9H1155.2M1148.6 130.9H1154.9M1148.4 132.9H1156.7M1150.2 134.9H1156.5M1149.9 137.0H1156.2M1151.7 139.0H1158.0M1151.5 141.0H1157.8M1153.2 143.0H1159.6M1153.0 145.0H1159.3M1154.8 147.1H1161.1M1156.6 149.1H1160.9M1156.3 151.1H1162.7M1158.1 153.1H1162.4M1157.9 155.1H1162.2M1157.6 157.1H1164.0M1159.4 159.2H1163.7M1159.2 161.2H1163.5M1160.9 163.2H1165.3M1160.7 165.2H1165.0M1160.5 167.2H1164.8M1162.3 169.2H1166.6M1162.0 171.3H1166.3M1161.8 173.3H1166.1M1161.6 175.3H1165.9M1161.3 177.3H1165.6M1163.1 179.3H1165.4M1162.9 181.4H1167.2M1162.6 183.4H1167.0M1162.4 185.4H1166.7M1162.2 187.4H1166.5M1161.9 189.4H1166.3M1163.7 191.4H1168.0M1163.5 193.5H1167.8M1163.2 195.5H1167.6M1163.0 197.5H1169.3M1162.8 199.5H1169.1M1164.5 201.5H1170.9M1164.3 203.6H1172.7M1164.1 205.6H1172.4M1163.8 207.6H1174.2M1165.6 209.6H1174.0M1165.4 211.6H1175.7M1165.2 213.6H1177.5M1166.9 215.7H1177.3M1168.7 217.7H1179.1M1170.5 219.7H1180.8M1170.2 221.7H1180.6M1172.0 223.7H1182.4M1173.8 225.7H1182.1M1175.6 227.8H1183.9M1175.3 229.8H1185.7M1177.1 231.8H1189.5M1273.7 231.8H1275.8M1176.9 233.8H1193.3M1265.4 233.8H1275.8M1178.7 235.8H1215.2M1257.1 235.8H1269.5M1178.4 237.9H1235.0M1244.8 237.9H1261.2M1180.2 239.9H1250.9M1180.0 241.9H1206.4M1179.7 243.9H1202.2M1181.5 245.9H1199.9" stroke="#0ff" stroke-width="2.52" fill="none"/><path d="M1133.7 120.8H1140.0M1133.5 122.8H1143.8M1139.3 124.9H1145.6M1139.0 126.9H1147.4M1138.8 128.9H1147.1M1140.6 130.9H1148.9M1140.3 132.9H1148.7M1142.1 134.9H1150.5M1141.9 137.0H1150.2M1143.6 139.0H1152.0M1143.4 141.0H1151.8M1145.2 143.0H1153.5M1147.0 145.0H1153.3M1148.7 147.1H1155.1M1150.5 149.1H1156.9M1150.3 151.1H1156.6M1152.1 153.1H1158.4M1153.8 155.1H1158.2M1153.6 157.1H1157.9M1155.4 159.2H1159.7M1155.2 161.2H1159.5M1156.9 163.2H1161.2M1156.7 165.2H1161.0M1156.5 167.2H1160.8M1158.2 169.2H1162.6M1158.0 171.3H1162.3M1157.8 173.3H1162.1M1157.5 175.3H1161.9M1159.3 177.3H1161.6M1159.1 179.3H1163.4M1158.8 181.4H1163.2M1158.6 183.4H1162.9M1158.4 185.4H1162.7M1160.2 187.4H1162.5M1159.9 189.4H1162.2M1159.7 191.4H1164.0M1159.4 193.5H1163.8M1159.2 195.5H1163.5M1159.0 197.5H1163.3M1158.7 199.5H1163.1M1158.5 201.5H1164.8M1158.3 203.6H1164.6M1158.0 205.6H1164.4M1157.8 207.6H1164.1M1159.6 209.6H1165.9M1159.4 211.6H1165.7M1159.1 213.6H1165.5M1158.9 215.7H1167.2M1158.6 217.7H1169.0M1160.4 219.7H1170.8M1162.2 221.7H1170.5M1164.0 223.7H1172.3M1163.7 225.7H1174.1M1165.5 227.8H1175.9M1167.3 229.8H1175.6M1169.1 231.8H1177.4M1168.8 233.8H1177.2M1170.6 235.8H1179.0M1269.2 235.8H1275.6M1170.4 237.9H1178.7M1260.9 237.9H1273.3M1172.2 239.9H1180.5M1250.6 239.9H1265.0M1171.9 241.9H1180.3M1206.1 241.9H1256.7M1173.7 243.9H1180.0M1201.9 243.9H1222.3M1232.0 243.9H1248.4M1173.5 245.9H1181.8M1199.6 245.9H1210.0M1175.2 247.9H1205.7M1175.0 250.0H1201.5M1176.8 252.0H1199.2M1178.6 254.0H1192.9M1180.3 256.0H1188.7M1182.1 258.0H1184.4" stroke="#10ffef" stroke-width="2.52" fill="none"/><path d="M1133.2 124.9H1139.6M1133.0 126.9H1139.3M1132.8 128.9H1139.1M1132.5 130.9H1140.9M1132.3 132.9H1140.6M1132.1 134.9H1142.4M1131.8 137.0H1142.2M1131.6 139.0H1143.9M1131.3 141.0H1143.7M1139.2 143.0H1145.5M1140.9 145.0H1147.3M1142.7 147.1H1149.0M1144.5 149.1H1150.8M1144.3 151.1H1150.6M1146.0 153.1H1152.4M1147.8 155.1H1154.1M1147.6 157.1H1153.9M1149.4 159.2H1155.7M1151.1 161.2H1155.5M1150.9 163.2H1157.2M1152.7 165.2H1157.0M1152.4 167.2H1156.8M1154.2 169.2H1158.5M1154.0 171.3H1158.3M1153.7 173.3H1158.1M1155.5 175.3H1157.8M1155.3 177.3H1159.6M1155.1 179.3H1159.4M1154.8 181.4H1159.1M1156.6 183.4H1158.9M1156.4 185.4H1158.7M1156.1 187.4H1160.5M1155.9 189.4H1160.2M1155.7 191.4H1160.0M1155.4 193.5H1159.7M1155.2 195.5H1159.5M1155.0 197.5H1159.3M1154.7 199.5H1159.0M1154.5 201.5H1158.8M1154.3 203.6H1158.6M1154.0 205.6H1158.3M1153.8 207.6H1158.1M1151.5 209.6H1159.9M1151.3 211.6H1159.7M1151.1 213.6H1159.4M1150.8 215.7H1159.2M1152.6 217.7H1158.9M1152.4 219.7H1160.7M1152.1 221.7H1162.5M1153.9 223.7H1164.3M1153.7 225.7H1164.0M1155.5 227.8H1165.8M1157.2 229.8H1167.6M1159.0 231.8H1169.4M1158.8 233.8H1169.1M1160.6 235.8H1170.9M1162.3 237.9H1170.7M1273.0 237.9H1275.0M1162.1 239.9H1172.5M1264.7 239.9H1274.3M1163.9 241.9H1172.2M1256.4 241.9H1268.8M1165.7 243.9H1174.0M1222.0 243.9H1232.3M1248.1 243.9H1260.5M1165.4 245.9H1173.8M1209.7 245.9H1252.2M1167.2 247.9H1175.5M1205.4 247.9H1217.8M1167.0 250.0H1175.3M1201.2 250.0H1209.5M1166.7 252.0H1177.1M1198.9 252.0H1205.2M1168.5 254.0H1178.9M1192.6 254.0H1203.0M1170.3 256.0H1180.6M1188.4 256.0H1200.8M1170.1 258.0H1182.4M1184.1 258.0H1198.5M1171.8 260.1H1194.3M1177.6 262.1H1188.0" stroke="#20ffdf" stroke-width="2.52" fill="none"/><path d="M1131.1 143.0H1139.5M1130.9 145.0H1141.2M1130.6 147.1H1143.0M1130.4 149.1H1144.8M1138.2 151.1H1144.6M1140.0 153.1H1146.3M1141.8 155.1H1148.1M1141.5 157.1H1147.9M1143.3 159.2H1149.7M1145.1 161.2H1151.4M1144.9 163.2H1151.2M1146.6 165.2H1153.0M1148.4 167.2H1152.7M1148.2 169.2H1154.5M1150.0 171.3H1154.3M1149.7 173.3H1154.0M1149.5 175.3H1155.8M1151.3 177.3H1155.6M1151.0 179.3H1155.4M1152.8 181.4H1155.1M1152.6 183.4H1156.9M1152.3 185.4H1156.7M1152.1 187.4H1156.4M1151.9 189.4H1156.2M1151.6 191.4H1156.0M1151.4 193.5H1155.7M1151.2 195.5H1155.5M1150.9 197.5H1155.3M1150.7 199.5H1155.0M1150.5 201.5H1154.8M1150.2 203.6H1154.6M1150.0 205.6H1154.3M1149.8 207.6H1154.1M1147.5 209.6H1151.8M1147.3 211.6H1151.6M1147.1 213.6H1151.4M1146.8 215.7H1151.1M1148.6 217.7H1152.9M1148.4 219.7H1152.7M1148.1 221.7H1152.4M1149.9 223.7H1154.2M1149.7 225.7H1154.0M1149.4 227.8H1155.8M1149.2 229.8H1157.5M1151.0 231.8H1159.3M1150.7 233.8H1159.1M1152.5 235.8H1160.9M1152.3 237.9H1162.6M1154.1 239.9H1162.4M1155.8 241.9H1164.2M1268.5 241.9H1273.6M1157.6 243.9H1166.0M1260.2 243.9H1272.6M1157.4 245.9H1165.7M1251.9 245.9H1264.3M1159.2 247.9H1167.5M1217.5 247.9H1256.0M1160.9 250.0H1167.3M1209.2 250.0H1227.6M1231.3 250.0H1245.7M1160.7 252.0H1167.0M1204.9 252.0H1213.3M1162.5 254.0H1168.8M1202.7 254.0H1209.0M1162.2 256.0H1170.6M1200.5 256.0H1206.8M1164.0 258.0H1170.4M1198.2 258.0H1204.5M1163.8 260.1H1172.1M1194.0 260.1H1202.3M1167.6 262.1H1177.9M1187.7 262.1H1200.1M1173.4 264.1H1193.8M1179.2 266.1H1187.5" stroke="#30ffcf" stroke-width="2.52" fill="none"/><path d="M1130.2 151.1H1138.5M1129.9 153.1H1140.3M1129.7 155.1H1142.1M1129.5 157.1H1141.8M1137.3 159.2H1143.6M1139.1 161.2H1145.4M1138.8 163.2H1145.2M1140.6 165.2H1146.9M1142.4 167.2H1148.7M1142.1 169.2H1148.5M1143.9 171.3H1150.3M1143.7 173.3H1150.0M1145.5 175.3H1149.8M1145.2 177.3H1151.6M1147.0 179.3H1151.3M1146.8 181.4H1153.1M1146.5 183.4H1152.9M1148.3 185.4H1152.6M1148.1 187.4H1152.4M1147.8 189.4H1152.2M1147.6 191.4H1151.9M1147.4 193.5H1151.7M1147.1 195.5H1151.5M1146.9 197.5H1151.2M1146.7 199.5H1151.0M1146.4 201.5H1150.8M1146.2 203.6H1150.5M1146.0 205.6H1150.3M1145.7 207.6H1150.1M1145.5 209.6H1147.8M1143.3 211.6H1147.6M1143.0 213.6H1147.4M1142.8 215.7H1147.1M1144.6 217.7H1148.9M1144.3 219.7H1148.7M1144.1 221.7H1148.4M1145.9 223.7H1150.2M1145.6 225.7H1150.0M1145.4 227.8H1149.7M1145.2 229.8H1149.5M1147.0 231.8H1151.3M1146.7 233.8H1151.0M1148.5 235.8H1152.8M1148.3 237.9H1152.6M1150.0 239.9H1154.4M1149.8 241.9H1156.1M1151.6 243.9H1157.9M1272.3 243.9H1273.0M1151.3 245.9H1157.7M1264.0 245.9H1272.3M1153.1 247.9H1159.5M1255.7 247.9H1270.1M1154.9 250.0H1161.2M1227.3 250.0H1231.6M1245.4 250.0H1259.8M1154.7 252.0H1161.0M1213.0 252.0H1249.5M1156.4 254.0H1162.8M1208.7 254.0H1223.1M1158.2 256.0H1162.5M1206.5 256.0H1212.8M1158.0 258.0H1164.3M1204.2 258.0H1208.6M1159.8 260.1H1164.1M1202.0 260.1H1206.3M1161.5 262.1H1167.9M1199.8 262.1H1204.1M1165.3 264.1H1173.7M1193.5 264.1H1201.8M1169.1 266.1H1179.5M1187.2 266.1H1199.6M1176.9 268.1H1193.3M1182.7 270.1H1185.0" stroke="#40ffbf" stroke-width="2.52" fill="none"/><path d="M1129.2 159.2H1137.6M1129.0 161.2H1139.4M1128.8 163.2H1139.1M1128.5 165.2H1140.9M1128.3 167.2H1142.7M1128.1 169.2H1142.4M1137.9 171.3H1144.2M1139.7 173.3H1144.0M1139.4 175.3H1145.8M1141.2 177.3H1145.5M1141.0 179.3H1147.3M1142.8 181.4H1147.1M1142.5 183.4H1146.8M1142.3 185.4H1148.6M1142.1 187.4H1148.4M1143.8 189.4H1148.1M1143.6 191.4H1147.9M1143.4 193.5H1147.7M1143.1 195.5H1147.4M1142.9 197.5H1147.2M1142.7 199.5H1147.0M1142.4 201.5H1146.7M1142.2 203.6H1146.5M1142.0 205.6H1146.3M1141.7 207.6H1146.0M1141.5 209.6H1145.8M1141.3 211.6H1143.6M1139.0 213.6H1143.3M1138.8 215.7H1143.1M1140.5 217.7H1144.9M1140.3 219.7H1144.6M1140.1 221.7H1144.4M1141.9 223.7H1146.2M1141.6 225.7H1145.9M1141.4 227.8H1145.7M1141.2 229.8H1145.5M1142.9 231.8H1147.3M1142.7 233.8H1147.0M1144.5 235.8H1148.8M1144.2 237.9H1148.6M1146.0 239.9H1150.3M1145.8 241.9H1150.1M1147.6 243.9H1151.9M1147.3 245.9H1151.6M1149.1 247.9H1153.4M1269.8 247.9H1271.7M1148.9 250.0H1155.2M1259.5 250.0H1271.0M1150.6 252.0H1155.0M1249.2 252.0H1267.6M1152.4 254.0H1156.7M1222.8 254.0H1255.3M1152.2 256.0H1158.5M1212.5 256.0H1237.0M1154.0 258.0H1158.3M1208.3 258.0H1218.6M1155.7 260.1H1160.1M1206.0 260.1H1210.3M1157.5 262.1H1161.8M1203.8 262.1H1208.1M1161.3 264.1H1165.6M1201.5 264.1H1205.9M1163.1 266.1H1169.4M1199.3 266.1H1203.6M1166.9 268.1H1177.2M1193.0 268.1H1201.4M1172.7 270.1H1183.0M1184.7 270.1H1199.1M1178.5 272.2H1192.8" stroke="#50ffaf" stroke-width="2.52" fill="none"/><path d="M1127.8 171.3H1138.2M1127.6 173.3H1140.0M1127.4 175.3H1139.7M1127.1 177.3H1141.5M1132.9 179.3H1141.3M1136.7 181.4H1143.1M1138.5 183.4H1142.8M1138.3 185.4H1142.6M1138.0 187.4H1142.4M1137.8 189.4H1144.1M1137.6 191.4H1143.9M1139.3 193.5H1143.7M1139.1 195.5H1143.4M1138.9 197.5H1143.2M1138.6 199.5H1143.0M1138.4 201.5H1142.7M1138.2 203.6H1142.5M1137.9 205.6H1142.3M1137.7 207.6H1142.0M1135.5 209.6H1141.8M1135.2 211.6H1141.6M1135.0 213.6H1139.3M1134.8 215.7H1139.1M1134.5 217.7H1140.8M1136.3 219.7H1140.6M1136.1 221.7H1140.4M1137.8 223.7H1142.2M1137.6 225.7H1141.9M1137.4 227.8H1141.7M1139.1 229.8H1141.5M1138.9 231.8H1143.2M1138.7 233.8H1143.0M1140.5 235.8H1144.8M1140.2 237.9H1144.5M1142.0 239.9H1146.3M1141.8 241.9H1146.1M1143.5 243.9H1147.9M1143.3 245.9H1147.6M1145.1 247.9H1149.4M1144.8 250.0H1149.2M1146.6 252.0H1150.9M1267.3 252.0H1270.3M1148.4 254.0H1152.7M1255.0 254.0H1269.7M1148.2 256.0H1152.5M1236.7 256.0H1261.1M1149.9 258.0H1154.3M1218.3 258.0H1246.8M1149.7 260.1H1156.0M1210.0 260.1H1226.4M1153.5 262.1H1157.8M1207.8 262.1H1214.1M1155.3 264.1H1161.6M1205.6 264.1H1211.9M1159.1 266.1H1163.4M1203.3 266.1H1207.6M1162.9 268.1H1167.2M1201.1 268.1H1205.4M1164.6 270.1H1173.0M1198.8 270.1H1203.1M1170.4 272.2H1178.8M1192.5 272.2H1200.9M1176.2 274.2H1198.6M1180.0 276.2H1190.4" stroke="#60ff9f" stroke-width="2.52" fill="none"/><path d="M1126.9 179.3H1133.2M1126.7 181.4H1137.0M1126.4 183.4H1138.8M1128.2 185.4H1138.6M1130.0 187.4H1138.3M1129.7 189.4H1138.1M1131.5 191.4H1137.9M1131.3 193.5H1139.6M1131.1 195.5H1139.4M1132.8 197.5H1139.2M1132.6 199.5H1138.9M1132.4 201.5H1138.7M1132.1 203.6H1138.5M1129.9 205.6H1138.2M1129.7 207.6H1138.0M1129.4 209.6H1135.8M1129.2 211.6H1135.5M1126.9 213.6H1135.3M1126.7 215.7H1135.1M1128.5 217.7H1134.8M1128.2 219.7H1136.6M1130.0 221.7H1136.4M1129.8 223.7H1138.1M1131.6 225.7H1137.9M1131.3 227.8H1137.7M1133.1 229.8H1139.4M1132.9 231.8H1139.2M1134.7 233.8H1139.0M1134.4 235.8H1140.8M1136.2 237.9H1140.5M1138.0 239.9H1142.3M1137.7 241.9H1142.1M1139.5 243.9H1143.8M1139.3 245.9H1143.6M1141.1 247.9H1145.4M1140.8 250.0H1145.1M1142.6 252.0H1146.9M1144.4 254.0H1148.7M1144.1 256.0H1148.5M1260.8 256.0H1269.0M1145.9 258.0H1150.2M1246.5 258.0H1268.3M1145.7 260.1H1150.0M1226.1 260.1H1252.6M1149.5 262.1H1153.8M1213.8 262.1H1238.3M1151.3 264.1H1155.6M1211.6 264.1H1226.0M1155.0 266.1H1159.4M1207.3 266.1H1213.7M1156.8 268.1H1163.2M1205.1 268.1H1211.4M1160.6 270.1H1164.9M1202.8 270.1H1209.2M1164.4 272.2H1170.7M1200.6 272.2H1206.9M1168.2 274.2H1176.5M1198.3 274.2H1202.7M1172.0 276.2H1180.3M1190.1 276.2H1200.4M1177.8 278.2H1196.2" stroke="#70ff8f" stroke-width="2.52" fill="none"/><path d="M1126.2 185.4H1128.5M1126.0 187.4H1130.3M1125.7 189.4H1130.0M1125.5 191.4H1131.8M1125.3 193.5H1131.6M1125.0 195.5H1131.4M1126.8 197.5H1133.1M1126.6 199.5H1132.9M1126.3 201.5H1132.7M1126.1 203.6H1132.4M1123.9 205.6H1130.2M1123.6 207.6H1130.0M1123.4 209.6H1129.7M1123.2 211.6H1129.5M1122.9 213.6H1127.2M1122.7 215.7H1127.0M1122.4 217.7H1128.8M1122.2 219.7H1128.5M1122.0 221.7H1130.3M1123.8 223.7H1130.1M1125.5 225.7H1131.9M1125.3 227.8H1131.6M1127.1 229.8H1133.4M1126.8 231.8H1133.2M1128.6 233.8H1135.0M1128.4 235.8H1134.7M1130.2 237.9H1136.5M1129.9 239.9H1138.3M1131.7 241.9H1138.0M1133.5 243.9H1139.8M1133.2 245.9H1139.6M1135.0 247.9H1141.4M1136.8 250.0H1141.1M1138.6 252.0H1142.9M1140.4 254.0H1144.7M1140.1 256.0H1144.4M1141.9 258.0H1146.2M1143.7 260.1H1146.0M1252.3 260.1H1267.7M1143.4 262.1H1149.8M1238.0 262.1H1267.0M1147.2 264.1H1151.6M1225.7 264.1H1252.1M1149.0 266.1H1155.3M1213.4 266.1H1237.8M1152.8 268.1H1157.1M1211.1 268.1H1225.5M1156.6 270.1H1160.9M1208.9 270.1H1213.2M1160.4 272.2H1164.7M1206.6 272.2H1210.9M1162.1 274.2H1168.5M1202.4 274.2H1208.7M1165.9 276.2H1172.3M1200.1 276.2H1206.5M1169.7 278.2H1178.1M1195.9 278.2H1202.2M1175.5 280.2H1200.0" stroke="#80ff80" stroke-width="2.52" fill="none"/><path d="M1124.8 197.5H1127.1M1124.6 199.5H1126.9M1124.3 201.5H1126.6M1124.1 203.6H1126.4M1121.7 223.7H1124.1M1121.5 225.7H1125.8M1121.3 227.8H1125.6M1121.0 229.8H1127.4M1120.8 231.8H1127.1M1120.6 233.8H1128.9M1122.4 235.8H1128.7M1122.1 237.9H1130.5M1123.9 239.9H1130.2M1123.7 241.9H1132.0M1125.4 243.9H1133.8M1125.2 245.9H1133.5M1127.0 247.9H1135.3M1128.8 250.0H1137.1M1130.5 252.0H1138.9M1132.3 254.0H1140.7M1136.1 256.0H1140.4M1137.9 258.0H1142.2M1139.7 260.1H1144.0M1139.4 262.1H1143.7M1141.2 264.1H1147.5M1251.8 264.1H1266.4M1145.0 266.1H1149.3M1237.5 266.1H1265.7M1146.8 268.1H1153.1M1225.2 268.1H1255.7M1150.5 270.1H1156.9M1212.9 270.1H1237.3M1154.3 272.2H1160.7M1210.6 272.2H1225.0M1158.1 274.2H1162.4M1208.4 274.2H1212.7M1161.9 276.2H1166.2M1206.2 276.2H1210.5M1163.7 278.2H1170.0M1201.9 278.2H1208.2M1167.5 280.2H1175.8M1199.7 280.2H1204.0M1173.3 282.2H1201.7M1181.1 284.3H1193.5" stroke="#8fff70" stroke-width="2.52" fill="none"/><path d="M1120.3 235.8H1122.7M1120.1 237.9H1122.4M1119.9 239.9H1124.2M1119.6 241.9H1124.0M1119.4 243.9H1125.7M1119.2 245.9H1125.5M1118.9 247.9H1127.3M1118.7 250.0H1129.1M1118.5 252.0H1130.8M1124.3 254.0H1132.6M1126.0 256.0H1136.4M1127.8 258.0H1138.2M1129.6 260.1H1140.0M1133.4 262.1H1139.7M1137.2 264.1H1141.5M1139.0 266.1H1145.3M1140.7 268.1H1147.1M1255.4 268.1H1265.0M1144.5 270.1H1150.8M1237.0 270.1H1264.4M1148.3 272.2H1154.6M1224.7 272.2H1263.7M1154.1 274.2H1158.4M1212.4 274.2H1236.9M1155.9 276.2H1162.2M1210.2 276.2H1224.6M1157.7 278.2H1164.0M1207.9 278.2H1212.3M1161.4 280.2H1167.8M1203.7 280.2H1210.0M1165.2 282.2H1173.6M1201.4 282.2H1207.8M1171.0 284.3H1181.4M1193.2 284.3H1203.5M1178.8 286.3H1199.3" stroke="#9fff60" stroke-width="2.52" fill="none"/><path d="M1118.2 254.0H1124.6M1118.0 256.0H1126.3M1117.8 258.0H1128.1M1117.5 260.1H1129.9M1117.3 262.1H1133.7M1125.1 264.1H1137.5M1128.9 266.1H1139.3M1132.7 268.1H1141.0M1138.5 270.1H1144.8M1140.3 272.2H1148.6M1144.0 274.2H1154.4M1236.6 274.2H1263.0M1149.8 276.2H1156.2M1224.3 276.2H1262.4M1153.6 278.2H1158.0M1212.0 278.2H1240.4M1155.4 280.2H1161.7M1209.7 280.2H1228.1M1157.2 282.2H1165.5M1207.5 282.2H1211.8M1163.0 284.3H1171.3M1203.2 284.3H1209.5M1168.8 286.3H1179.1M1199.0 286.3H1205.3M1174.6 288.3H1201.0" stroke="#afff50" stroke-width="2.52" fill="none"/><path d="M1117.1 264.1H1125.4M1116.8 266.1H1129.2M1116.6 268.1H1133.0M1116.4 270.1H1138.8M1126.2 272.2H1140.6M1132.0 274.2H1144.3M1137.8 276.2H1150.1M1141.6 278.2H1153.9M1240.1 278.2H1261.7M1145.4 280.2H1155.7M1227.8 280.2H1261.1M1149.1 282.2H1157.5M1211.5 282.2H1260.4M1152.9 284.3H1163.3M1209.2 284.3H1235.7M1249.5 284.3H1259.7M1156.7 286.3H1169.1M1205.0 286.3H1213.3M1164.5 288.3H1174.9M1200.7 288.3H1209.1M1172.3 290.3H1204.8M1180.2 292.3H1200.6" stroke="#bfff40" stroke-width="2.52" fill="none"/><path d="M1116.1 272.2H1126.5M1115.9 274.2H1132.3M1115.7 276.2H1138.1M1115.4 278.2H1141.9M1127.3 280.2H1145.7M1133.1 282.2H1149.4M1138.9 284.3H1153.2M1235.4 284.3H1249.8M1142.6 286.3H1157.0M1213.0 286.3H1259.1M1148.4 288.3H1164.8M1208.8 288.3H1258.4M1156.3 290.3H1172.6M1204.5 290.3H1212.9M1246.8 290.3H1257.7M1168.1 292.3H1180.5M1200.3 292.3H1208.6M1252.6 292.3H1257.1M1175.9 294.4H1204.4M1193.8 296.4H1198.1" stroke="#cfff30" stroke-width="2.52" fill="none"/><path d="M1115.2 280.2H1127.6M1115.0 282.2H1133.4M1114.7 284.3H1139.2M1114.5 286.3H1142.9M1126.3 288.3H1148.7M1134.1 290.3H1156.6M1212.6 290.3H1247.1M1139.9 292.3H1168.4M1208.3 292.3H1252.9M1151.8 294.4H1176.2M1204.1 294.4H1256.4M1171.6 296.4H1194.1M1197.8 296.4H1255.8M1181.5 298.4H1207.9M1223.7 298.4H1234.1M1247.8 298.4H1255.1M1253.6 300.4H1254.4" stroke="#dfff20" stroke-width="2.52" fill="none"/><path d="M1114.3 288.3H1126.6M1114.0 290.3H1134.4M1113.8 292.3H1140.2M1113.6 294.4H1115.9M1125.6 294.4H1152.1M1129.4 296.4H1171.9M1135.2 298.4H1181.8M1207.6 298.4H1224.0M1233.8 298.4H1248.1M1175.2 300.4H1253.9M1189.0 302.4H1253.8M1210.9 304.4H1253.1M1216.7 306.5H1239.1M1246.9 306.5H1252.4M1216.5 308.5H1238.9M1246.7 308.5H1251.8M1216.3 310.5H1238.7M1246.4 310.5H1251.1M1218.0 312.5H1238.4M1248.2 312.5H1250.5" stroke="#efff10" stroke-width="2.52" fill="none"/><path d="M1115.6 294.4H1125.9M1113.3 296.4H1129.7M1113.1 298.4H1135.5M1112.8 300.4H1119.2M1124.9 300.4H1175.5M1112.6 302.4H1114.9M1128.7 302.4H1167.2M1168.9 302.4H1189.3M1132.5 304.4H1148.9M1180.8 304.4H1211.2M1136.3 306.5H1140.6M1194.6 306.5H1217.0M1238.8 306.5H1247.2M1194.4 308.5H1216.8M1238.6 308.5H1247.0M1194.1 310.5H1216.6M1238.4 310.5H1246.7M1195.9 312.5H1218.3M1238.1 312.5H1248.5" stroke="#ff0" stroke-width="2.52" fill="none"/><path d="M1118.9 300.4H1125.2M1114.6 302.4H1129.0M1166.9 302.4H1169.2M1112.4 304.4H1132.8M1148.6 304.4H1181.1M1112.1 306.5H1120.5M1124.2 306.5H1136.6M1140.3 306.5H1164.7M1170.5 306.5H1194.9M1111.9 308.5H1120.3M1126.0 308.5H1162.5M1174.3 308.5H1194.7M1111.7 310.5H1118.0M1127.8 310.5H1158.2M1176.0 310.5H1194.4M1111.4 312.5H1115.8M1127.5 312.5H1156.0M1179.8 312.5H1196.2" stroke="#ffef00" stroke-width="2.52" fill="none"/><path d="M1120.2 306.5H1124.5M1164.4 306.5H1170.8M1120.0 308.5H1126.3M1162.2 308.5H1174.6M1117.7 310.5H1128.1M1157.9 310.5H1176.3M1115.5 312.5H1127.8M1155.7 312.5H1180.1" stroke="#ffdf00" stroke-width="2.52" fill="none"/><path d="M1273.3 148.1h0M1273.3 151.7h0M1273.3 155.3h0M1273.3 159.0h0" stroke="#0050ff" stroke-width="6.4" stroke-linecap="round" fill="none"/><path d="M1273.3 137.2h0M1273.3 140.8h0M1273.3 144.4h0M1273.3 162.6h0M1273.3 166.2h0" stroke="#0060ff" stroke-width="6.4" stroke-linecap="round" fill="none"/><path d="M1273.3 129.9h0M1273.3 133.5h0M1273.3 169.9h0M1273.3 173.5h0M1273.3 177.1h0M1273.3 180.8h0M1273.3 184.4h0M1273.3 188.0h0M1273.3 191.6h0M1273.3 195.3h0M1273.3 198.9h0" stroke="#0070ff" stroke-width="6.4" stroke-linecap="round" fill="none"/><path d="M1273.3 122.6h0M1273.3 126.3h0M1273.3 202.5h0M1273.3 206.2h0" stroke="#0080ff" stroke-width="6.4" stroke-linecap="round" fill="none"/><path d="M1273.3 115.4h0M1273.3 119.0h0M1273.3 209.8h0M1273.3 213.4h0" stroke="#008fff" stroke-width="6.4" stroke-linecap="round" fill="none"/><path d="M1273.3 108.1h0M1273.3 111.7h0M1273.3 217.1h0M1227.3 96.4h0M1231.1 96.4h0M1234.9 96.4h0M1238.8 96.4h0M1242.6 96.4h0" stroke="#009fff" stroke-width="6.4" stroke-linecap="round" fill="none"/><path d="M1273.3 220.7h0M1208.2 96.4h0M1212.0 96.4h0M1215.8 96.4h0M1219.7 96.4h0M1223.5 96.4h0M1246.4 96.4h0M1250.2 96.4h0" stroke="#00afff" stroke-width="6.4" stroke-linecap="round" fill="none"/><path d="M1196.7 96.4h0M1200.6 96.4h0M1204.4 96.4h0" stroke="#00bfff" stroke-width="6.4" stroke-linecap="round" fill="none"/><path d="M1273.3 224.3h0M1181.4 96.4h0M1185.3 96.4h0M1189.1 96.4h0M1192.9 96.4h0" stroke="#00cfff" stroke-width="6.4" stroke-linecap="round" fill="none"/><path d="M1138.6 97.2h0M1138.2 100.8h0M1137.8 104.5h0M1137.4 108.1h0M1273.3 228.0h0M1139.4 96.4h0M1143.2 96.4h0M1147.1 96.4h0M1150.9 96.4h0M1154.7 96.4h0M1158.5 96.4h0M1162.3 96.4h0M1166.2 96.4h0M1170.0 96.4h0M1173.8 96.4h0M1177.6 96.4h0" stroke="#00dfff" stroke-width="6.4" stroke-linecap="round" fill="none"/><path d="M1137.0 111.7h0M1273.3 231.6h0" stroke="#00efff" stroke-width="6.4" stroke-linecap="round" fill="none"/><path d="M1136.5 115.4h0M1136.1 119.0h0" stroke="#0ff" stroke-width="6.4" stroke-linecap="round" fill="none"/><path d="M1135.7 122.6h0M1273.3 235.2h0" stroke="#10ffef" stroke-width="6.4" stroke-linecap="round" fill="none"/><path d="M1135.3 126.3h0M1134.8 129.9h0M1134.4 133.5h0M1134.0 137.2h0M1133.6 140.8h0M1272.1 238.9h0" stroke="#20ffdf" stroke-width="6.4" stroke-linecap="round" fill="none"/><path d="M1133.2 144.4h0M1132.7 148.1h0M1270.9 242.5h0" stroke="#30ffcf" stroke-width="6.4" stroke-linecap="round" fill="none"/><path d="M1132.3 151.7h0M1131.9 155.3h0M1269.7 246.1h0" stroke="#40ffbf" stroke-width="6.4" stroke-linecap="round" fill="none"/><path d="M1131.5 159.0h0M1131.1 162.6h0M1130.6 166.2h0M1130.2 169.9h0M1268.5 249.8h0" stroke="#50ffaf" stroke-width="6.4" stroke-linecap="round" fill="none"/><path d="M1129.8 173.5h0M1129.4 177.1h0M1267.4 253.4h0" stroke="#60ff9f" stroke-width="6.4" stroke-linecap="round" fill="none"/><path d="M1128.9 180.8h0M1128.5 184.4h0M1266.2 257.0h0" stroke="#70ff8f" stroke-width="6.4" stroke-linecap="round" fill="none"/><path d="M1128.1 188.0h0M1127.7 191.6h0M1127.3 195.3h0M1126.8 198.9h0M1126.4 202.5h0M1126.0 206.2h0M1125.6 209.8h0M1125.2 213.4h0M1124.7 217.1h0M1124.3 220.7h0M1265.0 260.7h0" stroke="#80ff80" stroke-width="6.4" stroke-linecap="round" fill="none"/><path d="M1123.9 224.3h0M1123.5 228.0h0M1123.0 231.6h0M1122.6 235.2h0M1263.8 264.3h0" stroke="#8fff70" stroke-width="6.4" stroke-linecap="round" fill="none"/><path d="M1122.2 238.9h0M1121.8 242.5h0M1121.4 246.1h0M1120.9 249.8h0M1262.6 267.9h0M1261.4 271.6h0" stroke="#9fff60" stroke-width="6.4" stroke-linecap="round" fill="none"/><path d="M1120.5 253.4h0M1120.1 257.0h0M1119.7 260.7h0M1260.2 275.2h0" stroke="#afff50" stroke-width="6.4" stroke-linecap="round" fill="none"/><path d="M1119.3 264.3h0M1118.8 267.9h0M1259.0 278.8h0M1257.8 282.5h0" stroke="#bfff40" stroke-width="6.4" stroke-linecap="round" fill="none"/><path d="M1118.4 271.6h0M1118.0 275.2h0M1256.6 286.1h0M1255.4 289.7h0" stroke="#cfff30" stroke-width="6.4" stroke-linecap="round" fill="none"/><path d="M1117.6 278.8h0M1117.1 282.5h0M1116.7 286.1h0M1254.2 293.3h0M1253.0 297.0h0" stroke="#dfff20" stroke-width="6.4" stroke-linecap="round" fill="none"/><path d="M1116.3 289.7h0M1115.9 293.3h0M1251.8 300.6h0M1250.7 304.2h0M1249.5 307.9h0M1217.4 310.7h0M1221.3 310.7h0M1225.1 310.7h0M1228.9 310.7h0M1232.7 310.7h0M1236.5 310.7h0M1248.0 310.7h0" stroke="#efff10" stroke-width="6.4" stroke-linecap="round" fill="none"/><path d="M1115.5 297.0h0M1115.0 300.6h0M1198.3 310.7h0M1202.2 310.7h0M1206.0 310.7h0M1209.8 310.7h0M1213.6 310.7h0M1240.4 310.7h0M1244.2 310.7h0" stroke="#ff0" stroke-width="6.4" stroke-linecap="round" fill="none"/><path d="M1114.6 304.2h0M1114.2 307.9h0M1114.3 310.7h0M1129.6 310.7h0M1133.4 310.7h0M1137.2 310.7h0M1141.0 310.7h0M1144.8 310.7h0M1148.7 310.7h0M1152.5 310.7h0M1156.3 310.7h0M1179.2 310.7h0M1183.1 310.7h0M1186.9 310.7h0M1190.7 310.7h0M1194.5 310.7h0" stroke="#ffef00" stroke-width="6.4" stroke-linecap="round" fill="none"/><path d="M1118.1 310.7h0M1121.9 310.7h0M1125.7 310.7h0M1160.1 310.7h0M1163.9 310.7h0M1167.8 310.7h0M1171.6 310.7h0M1175.4 310.7h0" stroke="#ffdf00" stroke-width="6.4" stroke-linecap="round" fill="none"/>
<use href="#bd" transform="translate(840.76,-1.67) scale(1.0056,1.0089)"/>
<text class="t" x="988.4" y="112.7" letter-spacing="-0.9">48<tspan class="d" x="1006.8" y="105.5" letter-spacing="0">° </tspan><tspan x="1017.3" y="112.7">N</tspan></text>
<text class="t" x="988.4" y="130.7" letter-spacing="-0.9">46<tspan class="d" x="1006.8" y="124.6" letter-spacing="0">° </tspan><tspan x="1017.3" y="130.7">N</tspan></text>
<text class="t" x="988.4" y="147.9" letter-spacing="-0.9">44<tspan class="d" x="1006.8" y="141.3" letter-spacing="0">° </tspan><tspan x="1017.3" y="147.9">N</tspan></text>
<text class="t" x="988.4" y="166.7" letter-spacing="-0.9">42<tspan class="d" x="1006.8" y="159.5" letter-spacing="0">° </tspan><tspan x="1017.3" y="166.7">N</tspan></text>
<text class="t" x="988.4" y="182.3" letter-spacing="-0.9">40<tspan class="d" x="1006.8" y="176.6" letter-spacing="0">° </tspan><tspan x="1017.3" y="182.3">N</tspan></text>
<text class="t" x="988.4" y="197.7" letter-spacing="-0.9">38<tspan class="d" x="1006.8" y="191.1" letter-spacing="0">° </tspan><tspan x="1017.3" y="197.7">N</tspan></text>
<text class="t" x="988.4" y="214.6" letter-spacing="-0.9">36<tspan class="d" x="1006.8" y="207.5" letter-spacing="0">° </tspan><tspan x="1017.3" y="214.6">N</tspan></text>
<text class="t" x="988.4" y="228.7" letter-spacing="-0.9">34<tspan class="d" x="1006.8" y="222.4" letter-spacing="0">° </tspan><tspan x="1017.3" y="228.7">N</tspan></text>
<text class="t" x="988.4" y="245.7" letter-spacing="-0.9">32<tspan class="d" x="1006.8" y="239.1" letter-spacing="0">° </tspan><tspan x="1017.3" y="245.7">N</tspan></text>
<text class="t" x="988.4" y="259.7" letter-spacing="-0.9">30<tspan class="d" x="1006.8" y="253.5" letter-spacing="0">° </tspan><tspan x="1017.3" y="259.7">N</tspan></text>
<text class="t" x="988.4" y="275.0" letter-spacing="-0.9">28<tspan class="d" x="1006.8" y="268.1" letter-spacing="0">° </tspan><tspan x="1017.3" y="275.0">N</tspan></text>
<text class="t" x="988.4" y="289.9" letter-spacing="-0.9">26<tspan class="d" x="1006.8" y="282.4" letter-spacing="0">° </tspan><tspan x="1017.3" y="289.9">N</tspan></text>
<text class="t" x="988.4" y="301.7" letter-spacing="-0.9">24<tspan class="d" x="1006.8" y="295.1" letter-spacing="0">° </tspan><tspan x="1017.3" y="301.7">N</tspan></text>
<text class="t" x="988.4" y="316.3" letter-spacing="-0.9">22<tspan class="d" x="1006.8" y="309.7" letter-spacing="0">° </tspan><tspan x="1017.3" y="316.3">N</tspan></text>
<text class="t" x="1059.3" y="74.4">100<tspan class="d" x="1086.1" y="67.8">° </tspan><tspan x="1096.4" y="74.4">W</tspan></text>
<text class="t" x="1127.4" y="74.4">90<tspan class="d" x="1145.6" y="67.8">° </tspan><tspan x="1156.8" y="74.4">W</tspan></text>
<text class="t" x="1190.2" y="74.4">80<tspan class="d" x="1209.4" y="67.8">° </tspan><tspan x="1219.7" y="74.4">W</tspan></text>
<text class="t" x="1255.5" y="74.4">70<tspan class="d" x="1273.7" y="67.8">° </tspan><tspan x="1284.5" y="74.4">W</tspan></text>
<rect x="1285.3" y="95.2" width="23.7" height="215.5" fill="url(#jet)"/>
<rect x="1285.8" y="95.7" width="22.7" height="214.5" fill="none" stroke="#000" stroke-opacity="0.85" stroke-width="1"/>
<text class="c" x="1317.2" y="103.9">280</text>
<text class="c" x="1317.2" y="147.0">270</text>
<path d="M1309.0 139.5h-3" stroke="#111" stroke-width="1"/>
<text class="c" x="1317.2" y="189.8">260</text>
<path d="M1309.0 182.3h-3" stroke="#111" stroke-width="1"/>
<text class="c" x="1317.2" y="232.9">250</text>
<path d="M1309.0 225.4h-3" stroke="#111" stroke-width="1"/>
<text class="c" x="1317.2" y="275.7">240</text>
<path d="M1309.0 268.2h-3" stroke="#111" stroke-width="1"/>
<text class="x" x="1150.4" y="341.5" text-anchor="middle">SAT+RAP 500 hPa Temp (K)</text>
</g>
<g>
<rect x="195.5" y="486.5" width="234.0" height="213.0" fill="#fff" stroke="#1a1a1a" stroke-width="1" shape-rendering="crispEdges"/>
<g fill="none" stroke-linecap="round"><path d="M324 526h0M413 552h0M377 552h0M325 523h0M320 538h0M322 547h0M339 504h0M396 539h0M389 546h0M390 540h0" stroke="#ff2a00" stroke-width="6.6"/><path d="M327 537h0M403 552h0M328 635h0M397 563h0M339 523h0M329 532h0M329 529h0M359 547h0" stroke="#ff0" stroke-width="6.6"/><path d="M323 632h0M355 635h0M426 543h0M350 614h0M345 611h0M328 540h0M313 567h0M303 555h0M352 612h0M347 619h0M315 569h0M330 554h0M357 608h0M320 626h0M321 629h0M327 637h0M327 573h0M398 567h0M429 526h0M323 572h0M395 549h0M406 540h0M355 611h0M358 614h0M345 564h0M318 570h0M423 546h0M359 599h0" stroke="#80ff80" stroke-width="6.6"/><path d="M301 624h0M367 578h0M289 626h0M294 635h0M293 614h0M354 556h0M282 620h0M304 612h0M357 555h0M323 590h0M287 604h0M292 637h0M303 626h0M345 652h0M315 599h0M324 649h0M292 632h0M303 608h0M324 646h0M284 611h0M376 593h0M321 670h0M298 617h0M294 617h0M286 602h0M310 620h0M312 624h0M284 634h0M316 643h0M308 622h0M326 644h0M426 538h0M297 638h0M286 609h0M297 603h0" stroke="#002aff" stroke-width="6.6"/><path d="M358 534h0M316 538h0M331 517h0M320 544h0M346 510h0M355 535h0M350 537h0" stroke="#ff8000" stroke-width="6.6"/><path d="M328 516h0M352 617h0M345 523h0M344 537h0M405 531h0M325 635h0M318 629h0M346 534h0M342 540h0M332 546h0M336 516h0M354 620h0M399 561h0" stroke="#d5ff2a" stroke-width="6.6"/><path d="M348 522h0M354 537h0M351 543h0M401 531h0M367 555h0M370 556h0M408 550h0M337 520h0M353 543h0M322 540h0M318 535h0M349 534h0M365 575h0" stroke="#f50" stroke-width="6.6"/><path d="M390 517h0M380 534h0M372 486h0M375 496h0M324 549h0M387 540h0M350 513h0M374 490h0M401 502h0M401 520h0M382 541h0M364 513h0M378 554h0M401 513h0M377 543h0M316 520h0M357 537h0M313 519h0M321 535h0M352 516h0M391 549h0M380 496h0" stroke="#a00" stroke-width="6.6"/><path d="M286 578h0M320 560h0M293 579h0M291 605h0M379 570h0M360 590h0M327 614h0M335 581h0M362 552h0M420 540h0M381 572h0M336 570h0M290 579h0M292 596h0M305 635h0M399 546h0M345 605h0M304 593h0M377 590h0M287 582h0M351 578h0M347 602h0M301 605h0M301 582h0M379 587h0M340 567h0M317 638h0M389 569h0M341 573h0M364 555h0M415 531h0M388 591h0M350 585h0M325 588h0" stroke="#0080ff" stroke-width="6.6"/><path d="M360 608h0M381 584h0M297 575h0M318 557h0M323 567h0M414 547h0M311 552h0M322 605h0M312 570h0M339 546h0M356 563h0M410 546h0M354 597h0M368 560h0M335 612h0M338 588h0M351 608h0M352 587h0M299 572h0M363 611h0M311 588h0M426 552h0M298 570h0M375 584h0M348 596h0M374 567h0M303 578h0M368 569h0M376 563h0M316 556h0M330 614h0M385 561h0M331 570h0M333 603h0M393 569h0M326 552h0M338 553h0M299 578h0M313 573h0M340 579h0M358 569h0M343 546h0M335 605h0M362 599h0M366 599h0M340 591h0M304 576h0M361 597h0M347 579h0M390 582h0M318 576h0M360 572h0M332 575h0M362 564h0M349 634h0M318 617h0M337 596h0M296 561h0M340 584h0M309 573h0M357 596h0M422 525h0M315 635h0M311 582h0M332 563h0M320 608h0M318 552h0M334 632h0M352 570h0" stroke="#0ff" stroke-width="6.6"/><path d="M377 560h0M289 597h0M309 602h0M282 625h0M385 584h0M299 637h0M307 632h0M285 622h0M307 626h0M341 560h0M296 620h0M309 608h0M300 619h0M318 599h0M280 629h0M339 563h0M297 635h0M320 590h0M303 637h0M309 632h0M308 600h0M298 623h0M289 602h0M311 646h0M333 579h0M319 646h0M300 584h0M289 585h0M383 575h0M287 570h0M281 635h0M352 575h0M289 590h0M315 646h0M303 632h0M379 575h0" stroke="#05f" stroke-width="6.6"/><path d="M386 511h0M367 537h0M370 519h0M383 529h0M383 534h0M388 495h0M358 508h0M408 490h0M362 487h0M323 532h0M396 528h0M406 504h0M371 513h0M383 511h0M367 520h0M362 529h0M362 534h0M387 522h0M375 525h0M371 501h0M383 523h0M389 486h0M379 511h0M359 487h0M357 490h0M416 551h0M362 517h0M378 507h0M389 499h0M380 529h0M383 498h0M367 513h0M387 505h0M392 487h0M380 552h0M365 499h0M359 540h0M372 534h0M411 489h0M359 505h0M365 534h0M371 507h0M367 548h0M365 486h0M399 507h0M398 519h0M415 496h0M419 549h0M406 498h0M378 513h0M407 493h0M370 499h0M404 508h0M368 542h0M384 543h0M372 529h0M384 555h0M367 508h0M364 520h0M359 510h0M381 543h0M366 522h0M356 499h0M396 511h0M397 532h0M367 531h0M399 534h0M401 538h0M403 499h0M386 529h0M359 499h0M399 504h0M366 505h0M370 522h0M353 522h0M380 555h0M373 516h0M396 517h0M388 519h0M354 490h0M363 523h0M386 534h0M366 492h0M398 514h0M364 501h0M377 490h0M381 550h0M386 486h0M393 498h0M408 507h0M404 496h0M370 489h0M413 493h0M376 517h0M352 493h0M399 490h0M383 505h0M361 496h0M394 490h0M373 546h0M391 502h0M365 517h0M387 517h0M375 502h0M369 492h0M389 523h0M403 522h0M393 510h0M403 510h0M372 510h0M377 502h0M364 525h0M407 517h0M379 505h0M368 495h0M378 525h0M376 505h0M385 508h0M388 525h0M378 537h0M393 517h0M360 537h0M391 520h0M393 505h0M394 519h0M372 492h0M370 487h0M395 496h0M373 540h0M405 513h0M395 513h0M351 496h0M369 546h0M404 537h0M361 502h0M371 525h0M391 507h0M363 505h0M354 525h0M355 487h0M355 505h0M408 496h0M374 519h0M366 547h0M390 510h0M352 487h0M369 540h0M362 540h0M384 513h0M400 511h0M369 511h0" stroke="#800000" stroke-width="6.6"/><path d="M347 573h0M420 534h0M348 581h0M370 614h0M307 549h0M363 558h0M328 581h0M382 570h0M337 555h0M332 605h0M360 554h0M348 585h0M326 566h0M373 582h0M387 570h0M319 621h0M298 582h0M340 625h0M387 594h0M345 552h0M306 573h0M323 608h0M330 596h0M415 538h0M301 563h0M321 611h0M375 590h0M330 567h0M384 596h0M325 624h0M320 555h0M405 543h0M314 581h0M344 585h0M352 599h0M307 564h0M343 637h0M347 591h0M344 596h0M367 585h0M334 588h0M389 576h0M344 561h0M403 545h0M408 537h0M305 563h0M332 523h0M364 602h0M335 594h0M363 570h0M346 587h0M367 614h0M338 558h0M346 576h0M329 563h0M321 623h0M295 593h0M352 582h0M369 564h0M353 605h0M344 579h0M340 603h0M364 567h0M372 605h0M335 576h0M368 596h0M342 587h0M328 594h0M342 629h0M348 599h0M377 603h0" stroke="#00d4ff" stroke-width="6.6"/><path d="M335 658h0M295 611h0M315 665h0M335 670h0M325 670h0M327 679h0M321 588h0M342 652h0M297 629h0M324 659h0M285 615h0M334 656h0M287 634h0M291 629h0" stroke="#00a" stroke-width="6.6"/><path d="M334 644h0M423 534h0M337 655h0M323 679h0M333 661h0M340 655h0M302 629h0M420 528h0M325 665h0M284 617h0M329 661h0M332 665h0M329 664h0M330 667h0M318 658h0M296 632h0" stroke="#000080" stroke-width="6.6"/><path d="M330 549h0M355 551h0M339 540h0M358 529h0M341 519h0M333 549h0M327 532h0" stroke="#ffd500" stroke-width="6.6"/><path d="M337 549h0M355 540h0M348 541h0M403 528h0M393 541h0M427 546h0M326 543h0M335 528h0M333 538h0M402 561h0" stroke="#fa0" stroke-width="6.6"/><path d="M322 523h0M391 543h0M337 532h0M339 534h0M374 549h0M320 532h0M319 516h0M364 573h0M388 543h0M340 531h0M379 558h0M369 575h0M373 557h0M322 517h0" stroke="#f00" stroke-width="6.6"/><path d="M307 567h0M340 549h0M332 635h0M354 602h0M394 572h0M388 561h0M334 621h0M324 621h0M308 587h0M338 617h0M296 573h0M333 573h0M342 599h0M311 641h0M395 555h0M349 611h0M319 614h0M367 567h0M342 516h0M353 608h0M342 606h0M377 566h0M295 587h0M332 623h0M344 615h0M353 638h0M309 551h0M398 554h0M317 566h0M359 622h0M345 581h0M294 576h0M329 575h0M318 612h0M376 606h0M320 573h0M385 564h0M340 638h0M380 605h0M342 581h0M342 594h0M416 546h0" stroke="#5fa" stroke-width="6.6"/><path d="M306 591h0M328 552h0M379 564h0M367 591h0M310 596h0M328 600h0M382 587h0M345 635h0M377 572h0M319 563h0M371 567h0M342 552h0M364 609h0M350 555h0M339 628h0M288 575h0M347 555h0M314 596h0M321 600h0M368 602h0M344 555h0M320 578h0M328 605h0M347 631h0M356 558h0M354 584h0M321 593h0M355 570h0M359 558h0M314 606h0M349 576h0M300 596h0M315 576h0M357 573h0M374 596h0M319 581h0M366 611h0M341 564h0M342 575h0M369 611h0M323 615h0M318 605h0M369 593h0M307 581h0M344 631h0M351 572h0M317 594h0M371 585h0M329 591h0" stroke="#0af" stroke-width="6.6"/><path d="M365 552h0M325 529h0M386 545h0M341 505h0M315 528h0M325 517h0M323 520h0M375 555h0M359 522h0" stroke="#d50000" stroke-width="6.6"/><path d="M326 632h0M354 550h0M346 528h0M415 549h0M342 523h0M332 557h0M387 555h0M396 546h0M402 549h0M401 555h0M351 560h0" stroke="#af5" stroke-width="6.6"/><path d="M325 641h0M282 608h0M313 679h0M312 611h0M294 599h0M312 635h0M358 552h0M358 578h0M336 676h0M348 606h0M290 573h0M314 643h0M291 594h0M330 656h0M343 649h0M301 617h0M285 584h0M287 624h0M332 646h0M305 629h0M292 625h0M300 635h0M307 603h0M282 637h0M343 656h0M360 579h0M283 596h0M311 604h0M314 676h0" stroke="#00f" stroke-width="6.6"/><path d="M348 587h0M354 561h0M315 564h0M316 561h0M393 552h0M329 558h0M397 558h0M323 602h0M330 579h0M336 626h0M327 579h0M330 525h0M301 570h0M321 570h0M392 561h0M340 614h0M337 637h0M348 561h0M327 620h0M308 641h0M382 582h0M342 635h0M359 564h0M373 612h0M342 623h0M346 566h0M344 566h0M318 635h0M342 611h0M331 610h0M357 631h0M316 615h0M393 558h0M310 567h0M337 573h0M302 560h0M358 602h0M293 591h0M308 570h0M376 582h0M356 605h0M397 549h0M352 634h0M350 590h0M409 543h0M328 624h0M338 622h0M326 561h0M345 558h0M325 570h0M322 564h0M336 602h0" stroke="#2bffd4" stroke-width="6.6"/><path d="M286 626h0M339 646h0M362 587h0M289 631h0M303 620h0M313 655h0M289 620h0M318 665h0M327 656h0M323 584h0M418 537h0M326 674h0M313 609h0M295 628h0M310 626h0M330 644h0M337 650h0M286 637h0M419 525h0M330 650h0M309 617h0M340 650h0M318 671h0M306 621h0M338 659h0M334 680h0M302 614h0M328 652h0M334 674h0M332 640h0M311 671h0M325 653h0M330 680h0M320 655h0" stroke="#0000d5" stroke-width="6.6"/><path d="M362 623h0M342 617h0M317 572h0M309 638h0M339 605h0M395 566h0M378 609h0M313 555h0M340 608h0M390 558h0M296 585h0M356 594h0M340 596h0M323 638h0M305 558h0M381 602h0M352 622h0M352 558h0M313 591h0M331 573h0M337 620h0M349 569h0M393 575h0M312 593h0M310 555h0M365 617h0M302 567h0M322 551h0M429 549h0M323 555h0M330 626h0M359 605h0M314 617h0M338 634h0M315 587h0M361 625h0M337 591h0M353 564h0M325 617h0M328 523h0M363 560h0M313 585h0M332 552h0M325 611h0M359 593h0M316 620h0M344 544h0M323 560h0M336 600h0M315 552h0M325 605h0M345 593h0M380 600h0M389 564h0M294 564h0" stroke="#2bffd4" stroke-width="6.6"/><path d="M376 558h0M314 534h0M336 534h0M324 537h0M327 519h0M352 540h0M340 538h0M317 532h0M368 573h0M399 537h0M318 546h0" stroke="#ff2a00" stroke-width="6.6"/><path d="M311 682h0M320 649h0M320 584h0M327 649h0M322 647h0M364 579h0M323 644h0M291 624h0M321 682h0M313 626h0M300 614h0M320 644h0M293 573h0M304 606h0M286 620h0M411 537h0M319 676h0M287 628h0M330 673h0M308 612h0M289 567h0M358 588h0M307 614h0M328 641h0M301 611h0M314 650h0M314 653h0M342 658h0M424 528h0M315 671h0M283 614h0M340 662h0" stroke="#00f" stroke-width="6.6"/><path d="M298 558h0M359 629h0M325 594h0M397 570h0M323 578h0M361 620h0M347 614h0M331 631h0M317 632h0M301 558h0M362 617h0M399 528h0M305 570h0M330 637h0M335 558h0M333 554h0M296 578h0M332 540h0M321 576h0M313 561h0M337 608h0M326 558h0M344 620h0M343 608h0M400 552h0" stroke="#80ff80" stroke-width="6.6"/><path d="M357 543h0M429 532h0M332 534h0M407 545h0M429 538h0M395 542h0M347 531h0M410 529h0M347 508h0" stroke="#fa0" stroke-width="6.6"/><path d="M393 522h0M379 487h0M396 534h0M374 513h0M408 502h0M381 519h0M390 528h0M360 520h0M388 514h0M385 537h0M377 519h0M371 543h0M354 496h0M403 487h0M363 490h0M399 498h0M357 501h0M354 508h0M402 490h0M350 520h0M356 493h0M388 531h0M355 511h0M405 519h0M388 502h0M408 513h0M354 501h0M376 511h0M372 504h0M377 532h0M406 487h0M387 493h0M384 526h0M383 493h0M358 496h0M398 501h0M358 516h0M394 508h0M386 498h0M353 499h0M413 498h0M385 490h0M405 502h0M402 495h0M385 496h0M364 508h0M369 535h0M385 502h0M380 492h0M400 493h0M412 495h0M387 553h0M376 523h0M382 551h0M359 492h0M376 499h0M371 548h0M379 498h0M371 496h0M360 514h0M347 513h0M400 487h0M369 528h0M368 525h0M410 505h0M395 532h0M396 499h0M418 490h0M369 517h0M413 504h0M396 504h0M362 499h0M366 540h0M382 488h0M366 510h0M358 525h0M377 534h0M379 517h0M390 505h0M357 519h0M376 528h0M365 537h0M357 514h0M361 543h0M383 516h0M375 531h0M371 537h0M397 493h0M372 499h0M407 528h0M397 496h0M409 511h0M374 543h0M354 519h0M411 502h0M391 489h0M410 493h0M362 510h0M381 507h0M363 496h0M381 531h0M392 525h0M381 490h0M401 508h0M369 505h0M387 490h0M415 490h0M368 502h0M361 508h0M362 492h0M395 501h0M391 513h0M376 488h0M410 498h0M406 510h0M389 493h0M360 490h0M385 519h0M381 501h0M403 493h0M397 487h0M371 532h0M404 505h0M364 543h0M417 492h0M355 516h0M405 490h0M387 549h0M361 525h0M388 508h0M381 513h0M368 489h0M372 522h0M354 514h0" stroke="#800000" stroke-width="6.6"/><path d="M357 590h0M373 576h0M313 667h0M298 605h0M294 605h0M312 631h0M296 597h0M296 626h0M300 602h0M381 590h0M320 673h0M298 612h0M313 620h0M295 614h0M317 680h0M305 618h0M362 581h0M307 606h0M425 555h0M362 593h0M291 612h0M299 625h0M365 588h0M281 623h0M419 543h0M365 585h0M290 599h0" stroke="#002aff" stroke-width="6.6"/><path d="M352 534h0M317 543h0M342 534h0M404 535h0" stroke="#ff8000" stroke-width="6.6"/><path d="M339 529h0M403 558h0M428 543h0M329 535h0M330 537h0M356 546h0" stroke="#ffd500" stroke-width="6.6"/><path d="M311 617h0M328 647h0M309 673h0M320 679h0M323 673h0M310 614h0M286 632h0M336 644h0M320 668h0M329 676h0M332 653h0M287 617h0M309 679h0M322 641h0M337 661h0M300 608h0M410 540h0M322 676h0M296 609h0M318 653h0M297 600h0M313 614h0M316 655h0M316 667h0M321 659h0M312 676h0M317 673h0M333 649h0M332 670h0M427 534h0M413 540h0M331 676h0M336 647h0" stroke="#0000d5" stroke-width="6.6"/><path d="M424 552h0M355 582h0M379 594h0M332 599h0M291 587h0M425 525h0M318 588h0M366 594h0M370 609h0M312 600h0M333 584h0M328 588h0M373 593h0M292 608h0M313 603h0M287 593h0M356 576h0M377 585h0M388 572h0M291 617h0M350 626h0M415 526h0M380 567h0M291 582h0M316 585h0M384 573h0M331 593h0M315 640h0M354 590h0M386 588h0M353 578h0M294 623h0M383 594h0M293 584h0M335 563h0M340 555h0M364 597h0M317 602h0" stroke="#0080ff" stroke-width="6.6"/><path d="M375 573h0M340 632h0M330 542h0M342 558h0M334 596h0M336 585h0M317 579h0M325 581h0M357 567h0M352 593h0M333 567h0M357 585h0M381 597h0M348 629h0M307 608h0M388 584h0M391 567h0M411 548h0M330 584h0M316 597h0M354 626h0M310 549h0M301 599h0M371 596h0M386 582h0M321 617h0M369 581h0M313 638h0M337 632h0M306 596h0M373 564h0M359 575h0M332 582h0M343 626h0M300 587h0M375 576h0M304 599h0M350 597h0M427 528h0M308 634h0M369 605h0M288 600h0M362 575h0M303 585h0M332 588h0M370 578h0M366 605h0M416 534h0M308 593h0M303 602h0" stroke="#0af" stroke-width="6.6"/><path d="M380 546h0M420 546h0M315 522h0M325 535h0M371 561h0M408 531h0M322 529h0M375 546h0M400 541h0M372 570h0M378 549h0M316 525h0M319 549h0M318 523h0" stroke="#d50000" stroke-width="6.6"/><path d="M318 623h0M345 629h0M329 616h0M412 525h0M354 572h0M310 585h0M326 599h0M401 525h0M308 575h0M370 600h0M381 579h0M375 599h0M387 558h0M306 585h0M297 591h0M385 567h0M342 570h0M333 608h0M326 608h0M372 599h0M365 563h0M307 557h0M384 578h0M316 591h0M335 629h0M329 611h0M320 603h0M338 576h0M339 570h0M330 608h0M375 602h0M310 591h0M312 575h0M425 532h0M353 567h0M347 638h0M330 602h0M362 605h0M369 588h0M417 540h0M348 558h0M365 558h0M313 578h0M327 625h0M321 581h0M336 560h0M351 602h0M315 594h0M361 561h0M300 560h0M306 560h0M344 603h0M290 609h0M338 581h0M377 578h0M357 560h0M320 637h0M378 596h0M293 566h0M375 579h0M426 541h0M304 581h0" stroke="#00d4ff" stroke-width="6.6"/><path d="M339 516h0M405 555h0M336 523h0M344 531h0M334 560h0M345 517h0M354 531h0M342 528h0M343 520h0M344 525h0M406 552h0M357 620h0M430 546h0M405 525h0M335 540h0M353 615h0M359 617h0M333 520h0M399 558h0M358 531h0M346 525h0M306 638h0M391 579h0" stroke="#d5ff2a" stroke-width="6.6"/><path d="M381 526h0M374 538h0M403 516h0M364 532h0M383 546h0M366 529h0M356 523h0M360 531h0M374 508h0M400 517h0M385 531h0M392 496h0M380 522h0M313 531h0M393 546h0M393 492h0M376 492h0M384 548h0M412 508h0M377 495h0M351 526h0" stroke="#a00" stroke-width="6.6"/><path d="M302 576h0M294 582h0M376 612h0M326 596h0M393 564h0M305 588h0M394 561h0M343 573h0M334 525h0M321 557h0M340 620h0M299 591h0M306 578h0M297 593h0M365 570h0M376 570h0M331 617h0M339 593h0M361 603h0M337 614h0M352 629h0M344 591h0M335 635h0M347 626h0M425 549h0M381 560h0M302 590h0M350 567h0M334 614h0M327 603h0M347 609h0M307 555h0M361 566h0M357 626h0M325 628h0M371 602h0M320 567h0M314 611h0M351 632h0M383 564h0M349 593h0M334 638h0M311 564h0M415 543h0M326 591h0M295 570h0M388 579h0M345 599h0M335 617h0M340 544h0M296 567h0M356 599h0M323 625h0M310 578h0M303 596h0M336 551h0M345 570h0M311 558h0M315 623h0M339 599h0M316 608h0M397 575h0M317 626h0M334 591h0M391 573h0M372 588h0M358 582h0M413 529h0" stroke="#0ff" stroke-width="6.6"/><path d="M326 549h0M374 560h0M320 520h0M319 526h0M318 528h0M369 557h0M334 531h0M370 552h0M352 546h0M314 516h0M351 531h0M337 537h0M349 511h0" stroke="#f00" stroke-width="6.6"/><path d="M302 573h0M325 564h0M397 572h0M409 534h0M397 552h0M328 629h0M334 626h0M364 620h0M413 534h0M323 596h0M297 588h0M321 634h0M310 561h0M298 563h0M345 618h0M397 578h0M421 552h0M380 582h0M325 576h0M337 543h0M388 567h0M337 526h0M391 555h0M330 561h0M376 587h0M350 638h0M330 519h0M354 631h0M331 629h0M355 623h0M383 557h0M330 621h0M339 611h0M349 623h0M304 552h0M300 566h0M320 631h0M333 544h0M328 546h0M346 540h0M335 622h0M349 617h0M328 569h0M345 623h0M356 629h0M364 615h0M374 608h0M314 558h0" stroke="#5fa" stroke-width="6.6"/><path d="M335 547h0M421 549h0M399 570h0M382 599h0M349 564h0M412 532h0M389 553h0M327 555h0M359 611h0M300 556h0M350 620h0M404 540h0M360 614h0M315 629h0M406 522h0M347 537h0" stroke="#af5" stroke-width="6.6"/><path d="M280 618h0M335 664h0M334 668h0M326 676h0M321 653h0M332 658h0M422 537h0M339 664h0M338 652h0M335 653h0M323 661h0M335 640h0M313 674h0M291 570h0M282 603h0M326 667h0M328 670h0M308 682h0M284 600h0M324 655h0M290 635h0" stroke="#00a" stroke-width="6.6"/><path d="M412 544h0M290 614h0M361 584h0M293 621h0M282 632h0M290 576h0M386 576h0M371 591h0M305 624h0M286 572h0M293 603h0M336 578h0M285 591h0M337 567h0M308 629h0M320 596h0M312 629h0M301 594h0M283 593h0M288 611h0M327 584h0M284 629h0M288 587h0M316 650h0M356 587h0M364 591h0M385 591h0M368 608h0M286 597h0M366 582h0" stroke="#05f" stroke-width="6.6"/><path d="M422 543h0M329 659h0M285 605h0M327 662h0M299 632h0M316 661h0M421 531h0M321 664h0M318 641h0M320 662h0M323 667h0M417 528h0M315 659h0M424 539h0M422 555h0M418 531h0M308 677h0" stroke="#000080" stroke-width="6.6"/><path d="M371 572h0M352 510h0M325 546h0M347 520h0M324 540h0M348 517h0M323 543h0M352 528h0M314 537h0M410 553h0M372 551h0M395 537h0M349 529h0M319 540h0M314 541h0" stroke="#f50" stroke-width="6.6"/><path d="M408 525h0M356 617h0M407 535h0M331 529h0M327 526h0M397 542h0M401 543h0M405 549h0M341 526h0M356 529h0M357 548h0" stroke="#ff0" stroke-width="6.6"/><path d="M343 512l4 3M386 538l4 3M424 549l4 3M375 547l4 3M400 528l4 3M323 531l4 3M332 549l4 3M344 510l4 3M320 526l4 3M403 545l4 3M343 526l4 3M369 560l4 3" stroke="#ff2a00" stroke-width="2.4"/><path d="M369 592l4 3M304 595l4 3M327 581l4 3M427 531l4 3M330 543l4 3M384 579l4 3M324 629l4 3M290 613l4 3M326 594l4 3M364 591l4 3M415 552l4 3M313 576l4 3M335 629l4 3M339 555l4 3M314 588l4 3M340 576l4 3M334 622l4 3M344 594l4 3M368 585l4 3M339 586l4 3M355 627l4 3M372 588l4 3M361 582l4 3M338 548l4 3M326 620l4 3M303 565l4 3M331 560l4 3M394 550l4 3M345 625l4 3M347 622l4 3M353 605l4 3M373 581l4 3M327 618l4 3M327 586l4 3M374 562l4 3M322 573l4 3M302 587l4 3M331 618l4 3M347 574l4 3" stroke="#0ff" stroke-width="2.4"/><path d="M352 576l4 3M313 590l4 3M340 601l4 3M344 573l4 3M357 586l4 3M362 602l4 3M373 609l4 3M373 602l4 3M310 625l4 3M350 626l4 3M374 592l4 3M376 588l4 3M357 623l4 3M381 563l4 3M325 575l4 3M365 568l4 3M344 605l4 3M328 563l4 3M292 563l4 3M335 600l4 3M302 582l4 3M356 556l4 3M322 626l4 3M297 590l4 3M336 584l4 3M319 606l4 3M367 604l4 3" stroke="#0af" stroke-width="2.4"/><path d="M358 529l4 3M375 553l4 3M369 548l4 3M323 537l4 3M326 548l4 3M331 534l4 3M399 531l4 3M396 563l4 3M324 515l4 3" stroke="#f50" stroke-width="2.4"/><path d="M413 527l4 3M367 610l4 3M336 638l4 3M296 583l4 3M366 566l4 3M359 561l4 3M393 552l4 3M328 572l4 3M300 577l4 3M325 572l4 3M355 596l4 3M384 559l4 3M322 565l4 3M319 626l4 3M318 560l4 3M328 624l4 3M411 528l4 3M343 621l4 3M330 516l4 3" stroke="#80ff80" stroke-width="2.4"/><path d="M400 557l4 3M314 536l4 3M341 524l4 3M320 529l4 3M311 537l4 3M313 530l4 3" stroke="#ff8000" stroke-width="2.4"/><path d="M322 525l4 3M344 524l4 3M315 543l4 3M350 532l4 3M333 539l4 3M428 546l4 3M406 527l4 3" stroke="#fa0" stroke-width="2.4"/><path d="M418 536l4 3M386 547l4 3M349 512l4 3M383 544l4 3M350 542l4 3M367 555l4 3M388 549l4 3M313 521l4 3" stroke="#d50000" stroke-width="2.4"/><path d="M419 526l4 3M417 541l4 3M307 674l4 3M302 627l4 3M296 629l4 3M321 662l4 3M338 655l4 3M399 545l4 3M303 625l4 3M313 665l4 3M329 645l4 3M330 675l4 3M422 528l4 3M320 664l4 3M331 666l4 3M332 650l4 3" stroke="#000080" stroke-width="2.4"/><path d="M296 559l4 3M312 606l4 3M396 554l4 3M331 603l4 3M396 571l4 3M320 550l4 3M350 526l4 3M337 633l4 3M320 552l4 3M338 597l4 3M346 614l4 3M404 531l4 3M315 632l4 3M388 568l4 3M343 612l4 3M360 559l4 3M342 566l4 3M296 577l4 3M298 587l4 3M320 618l4 3M324 569l4 3M340 616l4 3M410 531l4 3M340 624l4 3M377 568l4 3M297 566l4 3M339 578l4 3M319 574l4 3M352 562l4 3M339 609l4 3M351 608l4 3M355 572l4 3M304 571l4 3M369 595l4 3M317 563l4 3M318 608l4 3" stroke="#5fa" stroke-width="2.4"/><path d="M380 545l4 3M376 551l4 3M317 540l4 3M317 517l4 3M339 532l4 3M369 540l4 3M347 508l4 3M398 539l4 3" stroke="#f00" stroke-width="2.4"/><path d="M321 588l4 3M281 603l4 3M341 651l4 3M383 590l4 3M293 610l4 3M362 586l4 3M306 622l4 3M324 659l4 3M321 582l4 3M311 668l4 3M278 621l4 3M332 641l4 3" stroke="#0000d5" stroke-width="2.4"/><path d="M363 515l4 3M320 534l4 3M378 549l4 3M318 536l4 3M367 524l4 3M352 507l4 3M369 546l4 3M363 509l4 3M356 510l4 3M358 515l4 3M374 486l4 3M317 546l4 3M372 487l4 3M378 535l4 3M355 533l4 3" stroke="#a00" stroke-width="2.4"/><path d="M376 574l4 3M308 574l4 3M307 597l4 3M329 598l4 3M281 611l4 3M289 583l4 3M287 616l4 3M284 620l4 3M315 677l4 3M308 610l4 3M400 543l4 3M287 587l4 3M312 571l4 3M370 589l4 3M302 613l4 3M290 575l4 3M295 600l4 3M334 585l4 3M327 604l4 3M392 569l4 3M425 533l4 3" stroke="#05f" stroke-width="2.4"/><path d="M296 591l4 3M363 576l4 3M326 520l4 3M324 561l4 3M330 592l4 3M356 601l4 3M413 533l4 3M322 562l4 3M349 582l4 3M306 576l4 3M351 624l4 3M379 588l4 3M387 585l4 3M338 574l4 3M424 535l4 3M332 625l4 3M369 614l4 3M375 578l4 3M301 598l4 3M297 603l4 3M332 597l4 3" stroke="#0080ff" stroke-width="2.4"/><path d="M353 612l4 3M364 614l4 3M420 532l4 3M413 535l4 3" stroke="#ffd500" stroke-width="2.4"/><path d="M407 543l4 3M384 525l4 3M348 521l4 3M378 487l4 3M389 520l4 3M391 486l4 3M370 514l4 3M380 554l4 3M354 505l4 3M373 525l4 3M365 499l4 3M357 485l4 3M395 511l4 3M394 504l4 3M368 487l4 3M349 505l4 3M392 517l4 3M394 492l4 3M382 489l4 3M382 521l4 3M412 488l4 3M364 507l4 3M398 513l4 3M383 541l4 3M414 494l4 3M384 511l4 3M367 542l4 3M363 530l4 3M361 540l4 3M359 498l4 3M344 518l4 3M373 519l4 3M399 497l4 3M362 496l4 3M367 510l4 3M403 507l4 3M389 497l4 3M387 507l4 3M367 504l4 3M371 530l4 3M379 527l4 3M383 529l4 3M396 486l4 3M368 507l4 3M427 544l4 3M402 496l4 3M381 500l4 3M356 542l4 3M363 518l4 3M354 488l4 3M384 527l4 3M366 527l4 3M352 522l4 3M390 504l4 3M357 499l4 3M397 503l4 3M394 529l4 3M370 521l4 3M379 501l4 3M378 532l4 3M375 508l4 3M398 507l4 3M386 493l4 3M373 502l4 3M360 542l4 3M377 505l4 3M359 491l4 3M376 490l4 3M386 523l4 3M361 494l4 3M381 486l4 3M378 509l4 3M355 497l4 3M357 540l4 3M376 531l4 3M385 485l4 3M366 497l4 3M401 489l4 3" stroke="#800000" stroke-width="2.4"/><path d="M297 572l4 3M313 567l4 3M370 552l4 3M334 530l4 3M355 621l4 3M345 617l4 3M334 556l4 3M385 564l4 3M324 529l4 3" stroke="#d5ff2a" stroke-width="2.4"/><path d="M288 632l4 3M300 623l4 3M310 647l4 3M321 610l4 3M287 573l4 3M287 611l4 3M281 609l4 3M302 590l4 3M348 553l4 3M361 594l4 3M335 646l4 3M297 610l4 3M337 564l4 3M359 576l4 3M338 649l4 3M361 566l4 3M315 680l4 3M327 578l4 3M334 663l4 3M293 617l4 3M325 642l4 3M289 615l4 3M303 620l4 3M283 576l4 3M279 627l4 3" stroke="#002aff" stroke-width="2.4"/><path d="M402 533l4 3M399 562l4 3M339 515l4 3" stroke="#ff0" stroke-width="2.4"/><path d="M279 613l4 3M348 590l4 3M325 668l4 3M322 608l4 3M320 649l4 3M295 622l4 3M318 677l4 3M425 524l4 3M340 647l4 3M288 592l4 3M322 671l4 3M329 671l4 3M294 624l4 3M317 593l4 3M332 564l4 3M305 615l4 3M319 591l4 3M298 616l4 3M283 631l4 3M315 651l4 3M365 589l4 3M284 629l4 3M333 654l4 3" stroke="#00f" stroke-width="2.4"/><path d="M322 600l4 3M393 560l4 3M335 529l4 3M313 630l4 3M346 608l4 3M391 557l4 3M341 522l4 3M323 591l4 3M314 613l4 3M326 636l4 3M318 599l4 3M293 586l4 3M330 539l4 3" stroke="#af5" stroke-width="2.4"/><path d="M284 613l4 3M296 606l4 3M333 671l4 3M327 641l4 3M321 679l4 3M291 625l4 3M321 639l4 3M286 627l4 3M424 527l4 3M325 657l4 3M418 551l4 3M330 677l4 3M325 651l4 3M306 677l4 3" stroke="#00a" stroke-width="2.4"/><path d="M313 621l4 3M357 594l4 3M307 628l4 3M349 612l4 3M342 537l4 3M320 557l4 3M341 553l4 3M323 594l4 3M328 630l4 3M374 563l4 3M334 632l4 3M376 559l4 3M348 596l4 3M425 541l4 3M371 604l4 3M332 635l4 3M358 567l4 3M342 634l4 3M348 627l4 3M318 578l4 3M327 609l4 3M306 599l4 3M340 584l4 3M354 598l4 3M387 553l4 3M342 628l4 3M392 539l4 3M317 556l4 3M388 551l4 3M325 613l4 3M354 614l4 3M318 622l4 3M325 587l4 3M304 586l4 3M324 615l4 3M316 624l4 3M348 598l4 3M354 629l4 3" stroke="#2bffd4" stroke-width="2.4"/><path d="M304 603l4 3M290 622l4 3M297 580l4 3M331 575l4 3M349 564l4 3M307 560l4 3M336 581l4 3M330 614l4 3M379 601l4 3M285 606l4 3M343 560l4 3M311 600l4 3M379 578l4 3M298 579l4 3M336 593l4 3M345 580l4 3M368 608l4 3M315 609l4 3M362 563l4 3M296 637l4 3M346 555l4 3M408 549l4 3M316 638l4 3M343 586l4 3M355 558l4 3M323 583l4 3M338 557l4 3M291 605l4 3M352 552l4 3M319 614l4 3M341 573l4 3M320 604l4 3" stroke="#00d4ff" stroke-width="2.4"/><path d="M419 549l4 3M336 612l4 3M386 556l4 3M339 541l4 3M318 570l4 3M404 528l4 3M328 546l4 3M403 548l4 3M353 539l4 3" stroke="#d5ff2a" stroke-width="2.4"/><path d="M376 576l4 3M338 628l4 3M374 595l4 3M324 589l4 3M344 558l4 3M294 593l4 3M405 521l4 3M427 529l4 3M335 578l4 3M334 562l4 3M300 562l4 3M384 586l4 3M304 555l4 3M346 624l4 3M350 557l4 3M323 577l4 3M343 606l4 3M352 567l4 3M369 583l4 3M334 554l4 3M338 571l4 3M372 611l4 3M352 631l4 3M382 566l4 3M370 567l4 3M283 624l4 3M371 596l4 3M294 570l4 3M317 637l4 3M331 580l4 3M332 587l4 3M369 606l4 3M336 552l4 3M341 631l4 3M416 523l4 3M361 602l4 3M308 558l4 3M321 633l4 3M340 562l4 3M348 630l4 3M362 555l4 3M328 615l4 3" stroke="#00d4ff" stroke-width="2.4"/><path d="M322 585l4 3M315 649l4 3M279 630l4 3M408 540l4 3M320 673l4 3M318 651l4 3M331 566l4 3M283 607l4 3M289 569l4 3M375 590l4 3M305 602l4 3M420 530l4 3M317 671l4 3M344 602l4 3M422 551l4 3M351 555l4 3M301 636l4 3M301 607l4 3M383 576l4 3M414 539l4 3M333 665l4 3M370 575l4 3M356 564l4 3M309 642l4 3M328 668l4 3M296 611l4 3M324 646l4 3M331 652l4 3" stroke="#002aff" stroke-width="2.4"/><path d="M340 518l4 3M400 537l4 3M332 526l4 3M336 538l4 3M333 611l4 3M389 560l4 3M390 558l4 3M326 525l4 3M398 559l4 3" stroke="#ff0" stroke-width="2.4"/><path d="M383 582l4 3M325 581l4 3M348 614l4 3M351 564l4 3M316 572l4 3M304 577l4 3M346 606l4 3M336 607l4 3M331 612l4 3M395 559l4 3M327 531l4 3M349 634l4 3M378 596l4 3M330 628l4 3M330 569l4 3M303 597l4 3M311 554l4 3M359 614l4 3M313 596l4 3M325 607l4 3M427 537l4 3M365 606l4 3M298 565l4 3M346 584l4 3M318 597l4 3M341 637l4 3M376 605l4 3M346 586l4 3M405 552l4 3M331 606l4 3" stroke="#0ff" stroke-width="2.4"/><path d="M317 654l4 3M360 587l4 3M335 644l4 3M323 624l4 3M281 626l4 3M321 589l4 3M354 565l4 3M280 634l4 3M321 642l4 3M293 600l4 3M322 677l4 3M416 543l4 3M330 654l4 3M342 588l4 3M361 571l4 3M289 600l4 3M292 635l4 3M312 643l4 3" stroke="#00f" stroke-width="2.4"/><path d="M351 610l4 3M312 560l4 3M309 563l4 3M292 579l4 3M351 622l4 3M322 617l4 3M294 584l4 3M374 586l4 3M394 544l4 3M310 550l4 3M311 637l4 3M335 590l4 3M341 539l4 3M374 607l4 3M385 570l4 3M302 567l4 3M336 636l4 3M311 585l4 3M392 563l4 3M344 565l4 3M352 616l4 3M401 549l4 3M336 598l4 3M291 588l4 3" stroke="#80ff80" stroke-width="2.4"/><path d="M334 548l4 3M397 532l4 3M408 534l4 3" stroke="#ffd500" stroke-width="2.4"/><path d="M355 529l4 3M377 543l4 3M373 548l4 3M376 539l4 3M372 551l4 3M395 533l4 3M337 519l4 3M403 556l4 3M404 523l4 3M394 535l4 3M350 511l4 3" stroke="#fa0" stroke-width="2.4"/><path d="M332 632l4 3M287 571l4 3M320 658l4 3M308 673l4 3M320 675l4 3M320 643l4 3M297 618l4 3M281 601l4 3M334 640l4 3M316 647l4 3M304 624l4 3" stroke="#0000d5" stroke-width="2.4"/><path d="M347 538l4 3M319 520l4 3M387 545l4 3" stroke="#ff8000" stroke-width="2.4"/><path d="M330 582l4 3M378 604l4 3M285 597l4 3M300 594l4 3M287 634l4 3M366 596l4 3M305 610l4 3M342 568l4 3M311 603l4 3M291 565l4 3M339 563l4 3M313 605l4 3M341 607l4 3M290 596l4 3M371 573l4 3M286 579l4 3M409 539l4 3M311 577l4 3M324 643l4 3M292 603l4 3M325 627l4 3M412 543l4 3M308 551l4 3M284 574l4 3M313 636l4 3M356 562l4 3M338 579l4 3M358 606l4 3M297 597l4 3" stroke="#0af" stroke-width="2.4"/><path d="M403 501l4 3M408 502l4 3M381 491l4 3M376 523l4 3M381 523l4 3M354 512l4 3M367 512l4 3M371 512l4 3M312 523l4 3M384 540l4 3M376 537l4 3M359 543l4 3M368 570l4 3M381 494l4 3M399 505l4 3M389 489l4 3" stroke="#a00" stroke-width="2.4"/><path d="M346 514l4 3M373 542l4 3M410 490l4 3M357 516l4 3M378 489l4 3M362 511l4 3M403 500l4 3M413 495l4 3M364 528l4 3M376 498l4 3M376 513l4 3M371 498l4 3M366 534l4 3M370 489l4 3M352 502l4 3M386 509l4 3M351 515l4 3M382 552l4 3M371 544l4 3M351 523l4 3M386 484l4 3M350 517l4 3M389 491l4 3M361 488l4 3M404 506l4 3M378 497l4 3M416 492l4 3M377 503l4 3M394 498l4 3M399 485l4 3M389 506l4 3M356 518l4 3M415 546l4 3M366 505l4 3M392 499l4 3M376 516l4 3M365 488l4 3M384 519l4 3M362 531l4 3M350 488l4 3M366 543l4 3M406 504l4 3M394 527l4 3M406 496l4 3M364 539l4 3M370 537l4 3M368 501l4 3M354 519l4 3M384 502l4 3M374 509l4 3M347 523l4 3M396 517l4 3M384 496l4 3M403 516l4 3M356 487l4 3M348 536l4 3M389 518l4 3M349 494l4 3M373 528l4 3M352 499l4 3M405 513l4 3M365 536l4 3M369 491l4 3M365 490l4 3M409 509l4 3M373 540l4 3M400 535l4 3M363 500l4 3M353 490l4 3M360 513l4 3M367 518l4 3M376 528l4 3M408 511l4 3M399 490l4 3M402 487l4 3M385 549l4 3M397 509l4 3M369 523l4 3" stroke="#800000" stroke-width="2.4"/><path d="M331 590l4 3M349 594l4 3M297 559l4 3M378 558l4 3M375 599l4 3M422 522l4 3M359 552l4 3M330 522l4 3M316 626l4 3M407 551l4 3M320 566l4 3M347 560l4 3M305 569l4 3M389 572l4 3M302 550l4 3M396 549l4 3M338 602l4 3M358 616l4 3M377 597l4 3M303 579l4 3M293 573l4 3M402 541l4 3M314 628l4 3M298 596l4 3M326 551l4 3M311 562l4 3" stroke="#5fa" stroke-width="2.4"/><path d="M282 622l4 3M356 604l4 3M296 620l4 3M376 582l4 3M292 611l4 3M379 585l4 3M290 607l4 3M368 588l4 3M300 575l4 3M286 635l4 3M300 599l4 3M289 585l4 3M288 577l4 3M352 599l4 3M410 522l4 3M305 633l4 3M378 572l4 3M364 597l4 3M332 601l4 3" stroke="#05f" stroke-width="2.4"/><path d="M347 567l4 3M359 604l4 3M363 609l4 3M304 574l4 3M335 575l4 3M421 536l4 3M283 590l4 3M316 595l4 3M379 593l4 3M284 588l4 3M318 620l4 3M385 578l4 3M356 554l4 3M388 566l4 3M350 603l4 3M358 592l4 3M284 600l4 3M384 571l4 3M377 566l4 3M326 597l4 3M291 636l4 3M362 593l4 3M283 592l4 3M300 586l4 3M353 590l4 3M315 603l4 3M416 537l4 3M340 546l4 3M308 621l4 3" stroke="#0080ff" stroke-width="2.4"/><path d="M389 541l4 3M390 547l4 3M317 539l4 3M425 547l4 3M343 505l4 3M374 554l4 3M375 545l4 3M322 547l4 3M316 531l4 3" stroke="#f00" stroke-width="2.4"/><path d="M411 545l4 3M423 543l4 3M318 582l4 3M295 630l4 3M291 627l4 3M330 643l4 3M311 615l4 3M335 659l4 3M328 661l4 3M286 624l4 3M335 661l4 3M361 578l4 3M294 632l4 3M342 649l4 3M334 677l4 3M297 633l4 3M316 663l4 3M291 619l4 3M410 536l4 3M315 657l4 3M290 630l4 3M311 671l4 3M421 553l4 3M324 652l4 3M316 661l4 3" stroke="#000080" stroke-width="2.4"/><path d="M318 562l4 3M312 568l4 3M300 569l4 3M323 621l4 3M304 548l4 3M372 565l4 3M397 570l4 3M313 581l4 3M336 604l4 3M352 593l4 3M318 576l4 3M377 581l4 3M349 620l4 3M399 523l4 3M342 580l4 3M308 591l4 3M317 601l4 3M338 550l4 3M343 618l4 3M389 575l4 3M311 622l4 3M387 582l4 3M362 618l4 3M356 610l4 3M321 601l4 3M314 573l4 3M340 599l4 3M344 555l4 3M417 527l4 3M328 569l4 3M365 560l4 3M291 590l4 3M327 566l4 3" stroke="#2bffd4" stroke-width="2.4"/><path d="M412 552l4 3M357 522l4 3M339 534l4 3M408 532l4 3M319 542l4 3" stroke="#f50" stroke-width="2.4"/><path d="M313 659l4 3M328 678l4 3M309 680l4 3M298 635l4 3M402 539l4 3M285 612l4 3M336 642l4 3M280 619l4 3M315 671l4 3M384 589l4 3M315 641l4 3M323 660l4 3M319 645l4 3M311 678l4 3" stroke="#00a" stroke-width="2.4"/><path d="M353 536l4 3M379 556l4 3M324 535l4 3M392 546l4 3" stroke="#ff2a00" stroke-width="2.4"/><path d="M370 569l4 3M364 554l4 3M315 533l4 3M325 546l4 3M366 549l4 3M373 556l4 3M316 523l4 3" stroke="#d50000" stroke-width="2.4"/><path d="M315 551l4 3M362 615l4 3M327 557l4 3M301 560l4 3M327 554l4 3M331 557l4 3M335 523l4 3M366 564l4 3M344 541l4 3M332 572l4 3M363 561l4 3M328 518l4 3M342 597l4 3" stroke="#af5" stroke-width="2.4"/><path d="M415 532l4 3M329 544l4 3M331 551l4 3M323 637l4 3M355 616l4 3M332 521l4 3M395 542l4 3M345 530l4 3M334 609l4 3" stroke="#d5ff2a" stroke-width="2.4"/><path d="M329 660l4 3M360 579l4 3M332 659l4 3M323 654l4 3M419 540l4 3M324 673l4 3M311 654l4 3M315 655l4 3M327 663l4 3M294 608l4 3M326 671l4 3M288 623l4 3M422 539l4 3M328 646l4 3M406 537l4 3M325 679l4 3M335 652l4 3M301 629l4 3" stroke="#000080" stroke-width="2.4"/><path d="M317 530l4 3M351 541l4 3M426 540l4 3M330 536l4 3" stroke="#ff2a00" stroke-width="2.4"/><path d="M307 615l4 3M297 628l4 3M310 596l4 3M286 566l4 3M338 657l4 3M328 601l4 3M379 564l4 3M314 642l4 3M310 608l4 3M295 616l4 3M324 669l4 3M283 584l4 3M320 656l4 3M309 612l4 3M300 632l4 3M319 666l4 3M312 667l4 3" stroke="#0000d5" stroke-width="2.4"/><path d="M366 557l4 3M414 547l4 3M378 541l4 3M355 526l4 3M321 518l4 3" stroke="#d50000" stroke-width="2.4"/><path d="M351 586l4 3M310 587l4 3M347 636l4 3M364 584l4 3M328 541l4 3M347 592l4 3M329 607l4 3M318 616l4 3M394 575l4 3M349 574l4 3M315 580l4 3M331 621l4 3M324 598l4 3M322 570l4 3M311 594l4 3M396 557l4 3M343 632l4 3M371 582l4 3M395 565l4 3M303 612l4 3M355 590l4 3M329 621l4 3M383 596l4 3M335 621l4 3M296 568l4 3M306 561l4 3M382 599l4 3M338 594l4 3M360 550l4 3M334 616l4 3M312 593l4 3" stroke="#0ff" stroke-width="2.4"/><path d="M344 609l4 3M327 542l4 3M310 556l4 3M355 619l4 3M366 612l4 3M317 630l4 3M307 636l4 3M345 576l4 3M296 575l4 3M352 530l4 3M313 553l4 3M328 524l4 3M387 562l4 3M305 553l4 3" stroke="#af5" stroke-width="2.4"/><path d="M326 625l4 3M304 556l4 3M351 569l4 3M351 600l4 3M356 588l4 3M286 604l4 3M391 554l4 3M328 584l4 3M356 625l4 3M375 570l4 3M286 581l4 3M309 573l4 3M309 639l4 3M381 583l4 3M370 598l4 3M307 605l4 3M416 529l4 3M351 633l4 3M350 571l4 3M396 540l4 3M368 561l4 3M317 553l4 3M311 646l4 3M409 547l4 3" stroke="#0080ff" stroke-width="2.4"/><path d="M338 542l4 3M427 523l4 3M325 568l4 3M337 521l4 3M337 536l4 3M333 515l4 3M337 544l4 3M388 543l4 3M408 526l4 3M350 617l4 3M354 534l4 3M405 544l4 3M346 540l4 3" stroke="#ff0" stroke-width="2.4"/><path d="M344 533l4 3M350 508l4 3M402 525l4 3M322 539l4 3M338 525l4 3M332 541l4 3M314 528l4 3M357 531l4 3M329 530l4 3M348 527l4 3" stroke="#ffd500" stroke-width="2.4"/><path d="M299 591l4 3M309 633l4 3M312 652l4 3M303 617l4 3M331 672l4 3M295 613l4 3M289 598l4 3M319 668l4 3M326 649l4 3M405 538l4 3M334 648l4 3M382 592l4 3M299 608l4 3" stroke="#00f" stroke-width="2.4"/><path d="M308 635l4 3M293 595l4 3M353 574l4 3M285 583l4 3M337 651l4 3M383 574l4 3M287 594l4 3M369 600l4 3M367 601l4 3M281 594l4 3M287 618l4 3M291 582l4 3M302 634l4 3M292 574l4 3M369 578l4 3M358 590l4 3" stroke="#002aff" stroke-width="2.4"/><path d="M393 506l4 3M410 499l4 3M379 547l4 3M315 525l4 3M365 514l4 3M379 525l4 3M324 543l4 3M331 528l4 3M391 493l4 3M373 494l4 3M402 511l4 3M358 537l4 3M361 528l4 3M376 520l4 3M372 505l4 3M343 514l4 3M375 493l4 3M318 545l4 3M410 501l4 3M398 515l4 3M395 513l4 3" stroke="#a00" stroke-width="2.4"/><path d="M333 570l4 3M303 559l4 3M332 594l4 3M293 578l4 3M397 547l4 3M330 636l4 3M295 562l4 3M361 574l4 3M373 600l4 3M309 589l4 3M299 571l4 3M301 584l4 3M379 570l4 3M368 580l4 3M325 559l4 3M319 629l4 3M329 561l4 3M343 595l4 3M326 528l4 3M357 599l4 3M357 583l4 3M322 579l4 3M338 625l4 3M339 618l4 3M347 559l4 3M341 613l4 3" stroke="#2bffd4" stroke-width="2.4"/><path d="M287 608l4 3M347 569l4 3M333 593l4 3M298 624l4 3M363 598l4 3M335 561l4 3M341 654l4 3M329 639l4 3M313 675l4 3M308 583l4 3M306 607l4 3M305 564l4 3M330 576l4 3M309 579l4 3M308 626l4 3M312 598l4 3M285 594l4 3M283 616l4 3M305 584l4 3M342 551l4 3M308 603l4 3M301 615l4 3M310 631l4 3M316 549l4 3M302 605l4 3M281 618l4 3M299 602l4 3M281 632l4 3M312 661l4 3M380 577l4 3" stroke="#05f" stroke-width="2.4"/><path d="M350 534l4 3M367 573l4 3M420 524l4 3M311 531l4 3M357 525l4 3M347 529l4 3M342 520l4 3M352 546l4 3M364 551l4 3M352 544l4 3M364 574l4 3" stroke="#f00" stroke-width="2.4"/><path d="M325 665l4 3M328 656l4 3M305 630l4 3M313 673l4 3M332 656l4 3M318 660l4 3M317 584l4 3M321 648l4 3M358 577l4 3M323 675l4 3M311 616l4 3" stroke="#00a" stroke-width="2.4"/><path d="M346 632l4 3M380 600l4 3M357 580l4 3M349 580l4 3M353 551l4 3M341 593l4 3M366 581l4 3M390 570l4 3M357 609l4 3M310 619l4 3M339 569l4 3M338 620l4 3M354 580l4 3M325 604l4 3M354 583l4 3M290 567l4 3M335 569l4 3M363 607l4 3M317 567l4 3M328 592l4 3M345 599l4 3M301 621l4 3M336 567l4 3M342 583l4 3M387 576l4 3M422 544l4 3M337 559l4 3M342 592l4 3M374 584l4 3M390 564l4 3M332 627l4 3M392 537l4 3M373 571l4 3M309 581l4 3M382 570l4 3M360 596l4 3" stroke="#0af" stroke-width="2.4"/><path d="M302 552l4 3M349 587l4 3M337 528l4 3M335 546l4 3M361 557l4 3M314 558l4 3M399 553l4 3M300 554l4 3M324 552l4 3M330 553l4 3M341 622l4 3M321 555l4 3M314 611l4 3M385 557l4 3M337 587l4 3M299 556l4 3M322 631l4 3M329 633l4 3M346 562l4 3" stroke="#80ff80" stroke-width="2.4"/><path d="M331 518l4 3M314 519l4 3M369 554l4 3M311 540l4 3M401 526l4 3M363 569l4 3" stroke="#f50" stroke-width="2.4"/><path d="M354 543l4 3M324 521l4 3M342 528l4 3M418 534l4 3M326 533l4 3M345 516l4 3" stroke="#fa0" stroke-width="2.4"/><path d="M353 559l4 3M346 637l4 3M349 605l4 3M343 534l4 3M287 601l4 3M357 571l4 3M316 587l4 3M359 598l4 3M316 565l4 3M396 574l4 3M359 619l4 3M315 635l4 3M339 632l4 3M420 546l4 3M351 578l4 3M306 593l4 3M384 566l4 3M384 594l4 3M315 620l4 3M413 524l4 3M365 582l4 3M399 550l4 3M320 595l4 3M333 579l4 3M358 568l4 3M307 565l4 3M320 612l4 3M353 585l4 3M319 635l4 3M316 618l4 3M359 621l4 3M345 570l4 3" stroke="#00d4ff" stroke-width="2.4"/><path d="M373 517l4 3M374 500l4 3M366 520l4 3M391 508l4 3M391 502l4 3M385 517l4 3M361 503l4 3M359 504l4 3M416 490l4 3M395 490l4 3M380 540l4 3M373 497l4 3M369 499l4 3M413 550l4 3M359 536l4 3M387 521l4 3M395 519l4 3M403 494l4 3M361 534l4 3M355 495l4 3M380 508l4 3M372 533l4 3M381 515l4 3M389 495l4 3M358 494l4 3M363 484l4 3M389 512l4 3M397 500l4 3M400 503l4 3M389 526l4 3M385 488l4 3M360 522l4 3M359 507l4 3M370 485l4 3M411 497l4 3M404 514l4 3M375 532l4 3M355 501l4 3M405 492l4 3M367 533l4 3M387 513l4 3M364 544l4 3M398 499l4 3M356 503l4 3M395 496l4 3M387 498l4 3M362 485l4 3M399 493l4 3M386 516l4 3M364 493l4 3M383 513l4 3M349 519l4 3M397 495l4 3M396 488l4 3M371 536l4 3M378 512l4 3M384 505l4 3M352 493l4 3M375 485l4 3M381 505l4 3M403 485l4 3M410 493l4 3M406 490l4 3M380 531l4 3M366 495l4 3M400 519l4 3M391 484l4 3M372 511l4 3M358 509l4 3M403 518l4 3M390 509l4 3M384 494l4 3M353 514l4 3M351 486l4 3M383 536l4 3M408 494l4 3M360 490l4 3M363 524l4 3M362 526l4 3M368 516l4 3M406 487l4 3M360 519l4 3M368 531l4 3M409 486l4 3M385 501l4 3M406 498l4 3M394 515l4 3M384 551l4 3M379 495l4 3M322 533l4 3M368 493l4 3M401 512l4 3M380 516l4 3M370 506l4 3M375 524l4 3M379 518l4 3M364 521l4 3M382 498l4 3" stroke="#800000" stroke-width="2.4"/><path d="M404 555l4 3M361 611l4 3M315 556l4 3M323 554l4 3M341 530l4 3M335 614l4 3M334 525l4 3M394 566l4 3M338 612l4 3M325 611l4 3M307 568l4 3M409 524l4 3M343 627l4 3M313 584l4 3M327 635l4 3M412 541l4 3M381 561l4 3" stroke="#5fa" stroke-width="2.4"/><path d="M321 542l4 3M339 503l4 3M371 558l4 3M334 533l4 3M318 522l4 3M322 522l4 3" stroke="#ff8000" stroke-width="2.4"/><path d="M383 695h0M391 697h0M393 681h0" stroke="#2bffd4" stroke-width="7"/><path d="M397 611h0M401 591h0M394 597h0M387 624h0" stroke="#f00" stroke-width="7"/><path d="M404 576h0M419 572h0" stroke="#ff8000" stroke-width="7"/><path d="M302 700h0M284 682h0M302 697h0M292 692h0M287 682h0" stroke="#0080ff" stroke-width="7"/><path d="M330 685h0" stroke="#05f" stroke-width="7"/><path d="M413 569h0" stroke="#f50" stroke-width="7"/><path d="M394 602h0" stroke="#ff2a00" stroke-width="7"/><path d="M387 690h0M316 685h0" stroke="#80ff80" stroke-width="7"/><path d="M419 570h0M412 573h0M404 582h0" stroke="#d50000" stroke-width="7"/><path d="M383 617h0M405 566h0M398 603h0M386 617h0M387 632h0M401 602h0M406 576h0M418 567h0M404 572h0M408 573h0M379 622h0M380 629h0M384 620h0" stroke="#800000" stroke-width="7"/><path d="M296 685h0M327 507h0M294 694h0M308 516h0M308 700h0M285 691h0" stroke="#00f" stroke-width="7"/><path d="M417 564h0M404 579h0M416 566h0M420 563h0" stroke="#a00" stroke-width="7"/><path d="M315 683h0M396 682h0M386 688h0M286 697h0" stroke="#00d4ff" stroke-width="7"/><path d="M389 694h0M391 685h0M306 686h0M390 682h0M297 688h0M306 691h0M305 688h0M387 696h0" stroke="#0af" stroke-width="7"/><path d="M302 676h0M291 694h0M328 688h0M281 676h0M296 679h0M298 699h0M306 679h0M316 513h0M289 698h0M295 683h0M397 685h0M297 677h0M295 700h0" stroke="#002aff" stroke-width="7"/><path d="M312 535h0M312 539h0M308 528h0M308 540h0M312 526h0" stroke="#0000d5" stroke-width="7"/><path d="M401 685h0M396 688h0" stroke="#5fa" stroke-width="7"/><path d="M310 519h0M339 511h0" stroke="#000080" stroke-width="7"/><path d="M400 688h0M318 688h0M389 688h0M318 682h0M291 687h0M314 688h0" stroke="#0ff" stroke-width="7"/><path d="M313 691h0" stroke="#af5" stroke-width="7"/><path d="M328 683h0M310 684h0M337 507h0M291 677h0M325 682h0" stroke="#00a" stroke-width="7"/><path d="M407 588h0M390 629h0" stroke="#f50" stroke-width="7"/><path d="M391 625h0M413 576h0M396 606h0M396 587h0M393 605h0M417 570h0M406 581h0" stroke="#a00" stroke-width="7"/><path d="M333 514h0M393 693h0M308 534h0M329 507h0" stroke="#00f" stroke-width="7"/><path d="M332 510h0M335 689h0M309 508h0M304 522h0M312 510h0M344 508h0M306 537h0" stroke="#000080" stroke-width="7"/><path d="M395 608h0M405 590h0M389 618h0M415 578h0M394 614h0M401 596h0M384 626h0M400 605h0M381 620h0M411 567h0M395 591h0" stroke="#800000" stroke-width="7"/><path d="M410 570h0M401 573h0" stroke="#ff2a00" stroke-width="7"/><path d="M298 693h0M306 519h0M313 508h0M308 522h0M318 510h0M342 511h0M291 681h0" stroke="#0000d5" stroke-width="7"/><path d="M383 623h0M404 585h0M387 620h0M408 585h0M414 564h0" stroke="#d50000" stroke-width="7"/><path d="M291 700h0M307 694h0M395 685h0M377 697h0M332 689h0M296 697h0" stroke="#0ff" stroke-width="7"/><path d="M379 689h0" stroke="#d5ff2a" stroke-width="7"/><path d="M378 691h0M286 679h0M289 690h0M297 682h0" stroke="#0af" stroke-width="7"/><path d="M284 677h0M303 679h0M397 691h0M285 688h0M304 682h0M300 680h0M305 701h0" stroke="#0080ff" stroke-width="7"/><path d="M384 685h0M392 689h0M282 685h0" stroke="#00d4ff" stroke-width="7"/><path d="M393 610h0M403 593h0M408 579h0M401 579h0" stroke="#f00" stroke-width="7"/><path d="M323 508h0M340 508h0M312 689h0M306 525h0" stroke="#002aff" stroke-width="7"/><path d="M281 682h0M309 526h0M320 508h0M289 679h0M333 684h0M336 511h0" stroke="#00a" stroke-width="7"/><path d="M383 688h0M399 683h0" stroke="#2bffd4" stroke-width="7"/><path d="M332 682h0M395 691h0M391 690h0" stroke="#80ff80" stroke-width="7"/><path d="M327 685h0M335 682h0M328 511h0M313 685h0M321 688h0M303 691h0" stroke="#05f" stroke-width="7"/><path d="M400 588h0M422 612h0M343 697h0" stroke="#ff2a00" stroke-width="7"/><path d="M416 494h0M363 686h0" stroke="#5fa" stroke-width="7"/><path d="M292 686h0M299 691h0M315 516h0M430 526h0M368 623h0M423 576h0M306 662h0M308 659h0M356 692h0" stroke="#0af" stroke-width="7"/><path d="M308 528h0M307 531h0M272 692h0" stroke="#ffd500" stroke-width="7"/><path d="M421 584h0M395 672h0" stroke="#0080ff" stroke-width="7"/><path d="M309 531h0M410 504h0M418 592h0M354 697h0" stroke="#00f" stroke-width="7"/><path d="M289 653h0" stroke="#d5ff2a" stroke-width="7"/><path d="M325 689h0M320 685h0M415 502h0M296 656h0" stroke="#0ff" stroke-width="7"/><path d="M284 694h0" stroke="#af5" stroke-width="7"/><path d="M360 641h0M344 688h0" stroke="#80ff80" stroke-width="7"/><path d="M411 617h0" stroke="#fa0" stroke-width="7"/><path d="M324 685h0M385 694h0M417 492h0" stroke="#2bffd4" stroke-width="7"/><path d="M398 609h0M400 576h0M397 591h0M388 613h0M426 554h0M429 558h0M427 601h0M416 605h0M420 619h0M350 689h0" stroke="#800000" stroke-width="7"/><path d="M313 536h0M394 616h0M277 689h0M302 683h0" stroke="#ff8000" stroke-width="7"/><path d="M317 507h0M336 500h0M349 498h0M428 516h0M429 520h0M349 666h0M360 695h0" stroke="#0000d5" stroke-width="7"/><path d="M318 514h0M427 575h0M301 660h0M298 662h0M276 679h0M273 684h0M369 698h0" stroke="#00d4ff" stroke-width="7"/><path d="M381 625h0M398 597h0" stroke="#f00" stroke-width="7"/><path d="M423 558h0" stroke="#a00" stroke-width="7"/><path d="M343 513h0M424 511h0M427 509h0M428 570h0M363 692h0M366 691h0" stroke="#00a" stroke-width="7"/><path d="M408 488h0M373 628h0M411 611h0M286 650h0M284 672h0" stroke="#ff0" stroke-width="7"/><path d="M422 606h0M428 614h0" stroke="#d50000" stroke-width="7"/><path d="M384 632h0M280 642h0" stroke="#f50" stroke-width="7"/><path d="M408 516h0M426 571h0" stroke="#002aff" stroke-width="7"/><path d="M381 696h0M301 688h0M322 511h0M294 676h0M411 509h0M418 599h0" stroke="#05f" stroke-width="7"/></g>
<use href="#bd" transform="translate(0.00,390.00) scale(1.0000,1.0000)"/>
<text class="t" x="146.2" y="501.7">48<tspan class="d" x="165.3" y="495.5" letter-spacing="0">° </tspan><tspan x="175.3" y="501.7">N</tspan></text>
<text class="t" x="146.2" y="520.7">46<tspan class="d" x="165.3" y="514.6" letter-spacing="0">° </tspan><tspan x="175.3" y="520.7">N</tspan></text>
<text class="t" x="146.2" y="537.7">44<tspan class="d" x="165.3" y="531.3" letter-spacing="0">° </tspan><tspan x="175.3" y="537.7">N</tspan></text>
<text class="t" x="146.2" y="555.4">42<tspan class="d" x="165.3" y="549.5" letter-spacing="0">° </tspan><tspan x="175.3" y="555.4">N</tspan></text>
<text class="t" x="146.2" y="572.3">40<tspan class="d" x="165.3" y="566.6" letter-spacing="0">° </tspan><tspan x="175.3" y="572.3">N</tspan></text>
<text class="t" x="146.2" y="587.7">38<tspan class="d" x="165.3" y="581.6" letter-spacing="0">° </tspan><tspan x="175.3" y="587.7">N</tspan></text>
<text class="t" x="146.2" y="603.7">36<tspan class="d" x="165.3" y="597.5" letter-spacing="0">° </tspan><tspan x="175.3" y="603.7">N</tspan></text>
<text class="t" x="146.2" y="618.7">34<tspan class="d" x="165.3" y="612.4" letter-spacing="0">° </tspan><tspan x="175.3" y="618.7">N</tspan></text>
<text class="t" x="146.2" y="634.7">32<tspan class="d" x="165.3" y="629.1" letter-spacing="0">° </tspan><tspan x="175.3" y="634.7">N</tspan></text>
<text class="t" x="146.2" y="649.7">30<tspan class="d" x="165.3" y="643.5" letter-spacing="0">° </tspan><tspan x="175.3" y="649.7">N</tspan></text>
<text class="t" x="146.2" y="662.3">28<tspan class="d" x="165.3" y="656.1" letter-spacing="0">° </tspan><tspan x="175.3" y="662.3">N</tspan></text>
<text class="t" x="146.2" y="676.6">26<tspan class="d" x="165.3" y="670.5" letter-spacing="0">° </tspan><tspan x="175.3" y="676.6">N</tspan></text>
<text class="t" x="146.2" y="691.7">24<tspan class="d" x="165.3" y="685.3" letter-spacing="0">° </tspan><tspan x="175.3" y="691.7">N</tspan></text>
<text class="t" x="146.2" y="703.7">22<tspan class="d" x="165.3" y="697.5" letter-spacing="0">° </tspan><tspan x="175.3" y="703.7">N</tspan></text>
<text class="t" x="215.3" y="467.0">100<tspan class="d" x="242.1" y="459.6">° </tspan><tspan x="252.4" y="467.0">W</tspan></text>
<text class="t" x="284.1" y="467.0">90<tspan class="d" x="302.3" y="459.6">° </tspan><tspan x="313.5" y="467.0">W</tspan></text>
<text class="t" x="348.0" y="467.0">80<tspan class="d" x="367.2" y="459.6">° </tspan><tspan x="377.5" y="467.0">W</tspan></text>
<text class="t" x="411.5" y="467.0">70<tspan class="d" x="429.7" y="459.6">° </tspan><tspan x="440.5" y="467.0">W</tspan></text>
<rect x="441.1" y="485.2" width="23.7" height="215.5" fill="url(#jet)"/>
<rect x="441.6" y="485.7" width="22.7" height="214.5" fill="none" stroke="#000" stroke-opacity="0.85" stroke-width="1"/>
<text class="c" x="473.0" y="492.7">2</text>
<text class="c" x="473.0" y="545.8">1</text>
<path d="M464.8 538.3h-3" stroke="#111" stroke-width="1"/>
<text class="c" x="473.0" y="599.4">0</text>
<path d="M464.8 591.9h-3" stroke="#111" stroke-width="1"/>
<text class="c" x="473.1" y="653.3">-<tspan dx="1.3">1</tspan></text>
<path d="M464.8 645.8h-3" stroke="#111" stroke-width="1"/>
<text class="c" x="473.1" y="706.4">-<tspan dx="1.3">2</tspan></text>
<path d="M464.8 698.9h-3" stroke="#111" stroke-width="1"/>
<text class="x" x="308.1" y="730.9" text-anchor="middle">SAT<tspan dx="0.8">-</tspan><tspan dx="1.4">RAP 850 hPa Temp (K)</tspan></text>
</g>
<g>
<rect x="616.5" y="486.5" width="234.0" height="213.0" fill="#fff" stroke="#1a1a1a" stroke-width="1" shape-rendering="crispEdges"/>
<g fill="none" stroke-linecap="round"><path d="M720 591h0M778 561h0M773 587h0M723 556h0M773 570h0M787 605h0M768 620h0M797 588h0M765 561h0M767 600h0M795 567h0M751 591h0M715 594h0M762 573h0M741 590h0M720 602h0M745 614h0M765 602h0M794 599h0M800 582h0M731 591h0M763 575h0M799 597h0M753 570h0M758 555h0M737 590h0M835 541h0M767 588h0M812 573h0M727 591h0M701 612h0M760 570h0M784 599h0M759 594h0M751 585h0M729 599h0M768 591h0M770 576h0M723 562h0M786 611h0M780 558h0M715 575h0M781 585h0M762 564h0M752 552h0M792 579h0M794 570h0M764 637h0M735 602h0M722 564h0M712 635h0M736 634h0M763 617h0M788 578h0M812 567h0M765 596h0M753 581h0M749 569h0M793 587h0M712 594h0M780 570h0M775 632h0M764 620h0M710 585h0M780 564h0M729 564h0M754 620h0M727 549h0M764 623h0M784 551h0M741 555h0M772 623h0M744 573h0M765 572h0M795 579h0M746 582h0M709 581h0M742 564h0M819 567h0M770 629h0M753 611h0M800 593h0M709 635h0M746 587h0M759 575h0M790 593h0M747 590h0M735 629h0M797 575h0M719 564h0M808 563h0M717 567h0M799 608h0M717 579h0M739 564h0M719 576h0M721 561h0M744 602h0M766 564h0M812 585h0M790 617h0M715 605h0M702 617h0M824 546h0M716 561h0M764 634h0M792 585h0M729 605h0M773 629h0M737 631h0M767 557h0M722 588h0M765 566h0M789 587h0M785 555h0M759 587h0" stroke="#2bffd4" stroke-width="6.6"/><path d="M744 579h0M806 567h0M787 617h0M773 611h0M786 541h0M715 600h0M719 558h0M792 608h0M707 597h0M777 558h0M788 608h0M775 596h0M819 543h0M783 576h0M770 623h0M771 554h0M803 581h0M746 558h0M719 676h0M742 588h0M770 600h0M806 584h0M725 576h0M773 552h0M714 602h0M750 599h0M844 547h0M786 620h0M761 608h0M744 567h0M800 576h0M729 576h0M756 558h0M727 573h0M778 555h0M774 540h0M725 570h0M716 569h0M711 683h0M801 600h0M760 605h0M775 555h0M763 629h0M767 570h0M780 594h0M776 552h0M807 570h0" stroke="#80ff80" stroke-width="6.6"/><path d="M821 611h0M831 582h0M851 576h0M802 525h0M828 563h0M787 505h0M789 519h0M778 495h0M790 493h0M826 626h0M846 626h0M846 591h0M796 561h0M798 507h0M775 507h0M740 679h0M809 513h0M843 567h0M793 564h0M800 552h0M806 529h0M807 511h0M801 507h0M828 581h0M783 493h0M729 659h0M798 513h0M786 523h0M807 487h0M848 575h0M800 498h0M822 615h0M780 517h0M827 593h0M850 579h0M829 590h0M841 569h0M844 558h0M736 682h0M798 510h0M829 614h0M790 504h0M785 508h0M803 549h0M806 513h0M828 492h0M780 493h0M781 508h0M849 596h0M783 505h0M788 508h0M835 599h0M793 535h0M766 522h0M797 517h0M794 552h0M839 591h0M835 490h0M786 525h0M801 546h0M738 685h0M814 486h0M842 555h0M831 564h0M795 520h0M836 602h0M848 599h0M798 537h0M809 490h0M726 670h0M830 588h0M758 526h0M801 517h0M837 593h0M787 528h0M793 505h0M847 555h0M822 496h0M815 513h0M798 531h0M802 490h0M783 487h0M838 557h0M763 522h0M797 505h0M818 611h0M810 516h0M779 505h0M801 493h0M799 549h0M809 526h0M845 623h0M826 514h0M736 676h0M846 566h0M738 667h0M797 498h0M778 508h0M728 671h0M799 525h0M804 546h0M799 490h0M799 519h0M794 516h0M834 605h0M815 520h0M846 572h0M843 596h0M795 514h0M801 505h0M804 487h0M839 555h0M809 502h0M806 517h0M764 520h0M827 629h0M836 585h0M844 599h0M776 498h0M818 594h0M824 499h0M832 602h0M824 622h0M831 594h0M836 590h0M846 597h0M778 514h0M787 493h0M825 597h0M789 525h0M825 620h0M787 563h0M790 523h0M778 502h0M795 501h0M801 496h0M820 626h0M775 502h0M799 543h0M812 519h0M805 548h0M806 507h0M818 502h0M794 498h0M786 502h0M781 501h0M848 569h0M822 591h0M835 581h0M762 505h0M790 517h0M797 552h0M822 597h0M811 522h0M830 499h0M832 596h0M833 590h0M765 526h0M805 626h0M793 510h0M759 522h0M825 502h0M795 525h0M790 564h0M819 490h0M805 526h0M736 670h0M781 496h0M792 549h0" stroke="#800000" stroke-width="6.6"/><path d="M740 517h0M816 579h0M843 608h0M819 578h0M824 600h0M822 507h0M814 570h0M824 605h0M737 661h0M820 505h0M743 535h0" stroke="#f50" stroke-width="6.6"/><path d="M724 626h0M702 629h0M744 638h0M728 632h0M712 611h0M816 549h0M707 608h0M756 671h0M709 605h0M701 623h0M824 563h0M812 560h0M824 552h0M750 670h0M817 558h0M751 626h0M706 629h0M702 635h0M804 558h0M717 680h0M717 632h0" stroke="#0080ff" stroke-width="6.6"/><path d="M765 655h0M727 643h0" stroke="#000080" stroke-width="6.6"/><path d="M712 653h0M839 603h0M830 555h0M850 585h0M743 676h0M827 576h0M817 617h0M813 615h0M766 510h0M837 613h0M830 490h0M824 505h0M842 561h0M848 582h0M850 614h0M826 602h0M826 608h0M824 487h0M808 540h0M730 655h0M836 572h0M832 558h0M831 618h0M718 668h0M831 612h0M812 620h0M829 495h0M834 612h0M794 546h0M735 685h0M786 558h0M811 629h0M725 658h0M721 668h0M821 511h0M836 561h0M841 563h0M834 576h0M807 628h0M821 587h0M734 668h0M814 617h0M848 558h0" stroke="#d50000" stroke-width="6.6"/><path d="M787 546h0M769 517h0M782 537h0M847 522h0M780 546h0M736 558h0M844 539h0M778 531h0M844 534h0M839 549h0M727 679h0M758 531h0M762 538h0M751 525h0M816 602h0M748 531h0M760 528h0M749 535h0M774 548h0M759 546h0M778 549h0" stroke="#ffd500" stroke-width="6.6"/><path d="M753 664h0M771 644h0M802 626h0M714 649h0M705 606h0M719 629h0M749 641h0M797 618h0M757 650h0M808 616h0M742 671h0M825 531h0M770 646h0M753 658h0M734 608h0" stroke="#05f" stroke-width="6.6"/><path d="M788 544h0M782 525h0M839 543h0M755 526h0M763 540h0M820 606h0M785 531h0M778 544h0M734 556h0M746 546h0M780 523h0M846 526h0M786 535h0M732 552h0M772 513h0M736 570h0M755 537h0M756 541h0M776 535h0M763 546h0M732 564h0M779 525h0M783 540h0M836 538h0M836 543h0" stroke="#d5ff2a" stroke-width="6.6"/><path d="M749 629h0M779 618h0M751 668h0M808 608h0M752 605h0M734 619h0M731 620h0M744 632h0M811 611h0M741 632h0M817 541h0M718 623h0M812 549h0M704 609h0M808 615h0M771 632h0M715 611h0M739 634h0M815 561h0M711 614h0M717 620h0M725 634h0M753 629h0M742 635h0M729 641h0M778 609h0M742 612h0M808 621h0" stroke="#0af" stroke-width="6.6"/><path d="M704 621h0M731 626h0M707 626h0M768 631h0M804 611h0M779 573h0M723 614h0M715 635h0M756 634h0M720 614h0M733 634h0M735 612h0M764 590h0M751 603h0M706 631h0M760 635h0M715 623h0M746 611h0M712 623h0M769 640h0M711 629h0M739 606h0M749 623h0M716 683h0M741 638h0M753 624h0M797 623h0M779 623h0M761 632h0M705 617h0M717 591h0M792 626h0M717 626h0M712 617h0M757 637h0M711 587h0M749 617h0M710 649h0M776 588h0M824 540h0M736 617h0M710 620h0M748 626h0M740 611h0M817 570h0" stroke="#00d4ff" stroke-width="6.6"/><path d="M849 609h0M817 599h0M736 659h0M828 611h0M722 658h0M843 585h0M743 517h0M820 585h0M827 505h0M827 557h0M735 664h0M712 670h0M825 590h0M716 665h0M816 609h0M718 664h0M822 578h0M732 664h0M819 519h0M733 688h0M829 609h0M750 522h0" stroke="#ff2a00" stroke-width="6.6"/><path d="M819 590h0M850 531h0M821 516h0M710 673h0M841 605h0M744 685h0M828 487h0M816 596h0M770 511h0M721 655h0M713 655h0M824 576h0M728 664h0M815 543h0M796 557h0M742 529h0M837 575h0M841 587h0M711 676h0" stroke="#f00" stroke-width="6.6"/><path d="M724 608h0M775 566h0M783 617h0M767 622h0M773 576h0M751 572h0M756 587h0M799 579h0M783 558h0M748 573h0M762 570h0M777 593h0M725 563h0M724 602h0M728 566h0M793 593h0M731 579h0M769 564h0M770 582h0M738 561h0M724 596h0M765 579h0M743 593h0M808 567h0M811 576h0M770 611h0M782 621h0M775 602h0M741 573h0M778 602h0M778 579h0M774 579h0M782 573h0M810 570h0M725 606h0M773 582h0M772 625h0M740 602h0M780 576h0M742 558h0M771 579h0M768 573h0M827 540h0M705 599h0M773 617h0M763 557h0M761 561h0M765 585h0M775 561h0M755 567h0M783 594h0M785 602h0M726 582h0M768 555h0M720 567h0M745 564h0M803 602h0M789 541h0M743 576h0M785 596h0M780 605h0M784 587h0M804 563h0M805 572h0M718 596h0M739 599h0M718 569h0M721 597h0M768 602h0M749 593h0M732 605h0M749 552h0M791 614h0M740 558h0M745 585h0M772 584h0M807 582h0M811 581h0M778 567h0M782 596h0M801 605h0M717 602h0M795 602h0M791 602h0M770 594h0M771 573h0M721 578h0M778 596h0M706 670h0M789 567h0M758 560h0M738 638h0M724 620h0M777 582h0" stroke="#5fa" stroke-width="6.6"/><path d="M797 594h0M748 614h0M756 628h0M773 640h0M738 602h0M797 628h0M774 572h0M711 646h0M727 602h0M761 626h0M778 585h0M719 599h0M817 551h0M760 629h0M777 629h0M752 587h0M781 555h0M730 597h0M758 607h0M759 623h0M766 635h0M746 576h0M718 588h0M712 605h0M716 564h0M760 564h0M756 617h0M748 578h0M710 632h0M778 625h0M726 587h0M732 582h0M762 620h0M761 637h0M759 599h0M786 591h0M729 587h0M716 584h0M738 584h0M751 638h0M782 626h0M731 584h0M763 599h0M757 594h0M806 561h0M707 579h0M713 620h0M783 611h0M746 617h0M729 623h0M753 576h0M717 609h0M786 599h0M708 623h0M750 588h0M738 566h0M768 638h0M703 614h0M737 572h0M736 622h0M796 585h0M783 581h0M738 579h0M776 611h0M745 608h0M711 625h0M742 605h0M792 567h0M713 572h0M753 600h0M717 638h0" stroke="#0ff" stroke-width="6.6"/><path d="M848 610h0M821 582h0M719 659h0M722 664h0M718 670h0M772 519h0M726 682h0M724 662h0M720 673h0M715 659h0M731 685h0M800 540h0M711 661h0M746 523h0M742 522h0M817 587h0M742 540h0" stroke="#ff8000" stroke-width="6.6"/><path d="M829 525h0M748 649h0M743 664h0M724 644h0M738 650h0M712 570h0M801 617h0M753 653h0M745 661h0M810 617h0M749 676h0M740 653h0M742 653h0M744 649h0" stroke="#00a" stroke-width="6.6"/><path d="M767 546h0M718 685h0M778 519h0M788 537h0M715 677h0M770 617h0M771 537h0M850 525h0M788 615h0M766 516h0M747 561h0M782 579h0M804 570h0M765 544h0M819 573h0M792 544h0M706 593h0M807 576h0M747 543h0M761 543h0M776 540h0M747 526h0M785 567h0M846 549h0M744 555h0M772 614h0M769 531h0M768 538h0M755 560h0M751 555h0M821 540h0M849 543h0M758 543h0M769 540h0M753 539h0M766 534h0" stroke="#af5" stroke-width="6.6"/><path d="M758 656h0M817 528h0M820 563h0M741 644h0M803 620h0M756 665h0M750 661h0M762 661h0M710 566h0M805 620h0M722 653h0M818 564h0M725 646h0M748 674h0M755 655h0M746 652h0M754 649h0" stroke="#0000d5" stroke-width="6.6"/><path d="M815 626h0M839 579h0M824 617h0M845 593h0M827 618h0M759 517h0M842 573h0M763 517h0M801 557h0M828 622h0M841 623h0M848 564h0M848 623h0M845 588h0M833 626h0M731 679h0M801 487h0M848 617h0M821 628h0M791 507h0M839 620h0M846 620h0M812 496h0M802 502h0M814 523h0M778 490h0M762 520h0M747 679h0M821 623h0M819 620h0M807 493h0M832 620h0M795 544h0M809 531h0M832 614h0M848 552h0M842 603h0M791 553h0M811 541h0M785 513h0M729 682h0M790 510h0M841 558h0M831 622h0M841 582h0M838 569h0M819 508h0M796 555h0M757 519h0M745 682h0M828 587h0M842 578h0M816 620h0" stroke="#a00" stroke-width="6.6"/><path d="M769 528h0M732 570h0M838 545h0M760 540h0M845 522h0M747 550h0M747 534h0M832 525h0M836 567h0M749 564h0M771 526h0M758 537h0M785 543h0M831 540h0M842 537h0M747 540h0M767 543h0M753 523h0M758 550h0M773 534h0M747 555h0M819 603h0M770 545h0M776 528h0M840 525h0M838 539h0M838 529h0M834 546h0M780 528h0M839 531h0M836 531h0M830 534h0M771 532h0M845 528h0M846 532h0M780 540h0M775 526h0" stroke="#ff0" stroke-width="6.6"/><path d="M847 537h0M779 535h0M818 606h0M822 608h0M741 549h0M756 528h0M832 531h0M761 550h0M802 537h0M707 661h0M725 676h0M829 548h0M741 525h0M755 549h0M792 573h0M833 567h0" stroke="#fa0" stroke-width="6.6"/><path d="M813 528h0M725 652h0M753 646h0M721 631h0M769 652h0M708 576h0M751 680h0M734 650h0M754 680h0M744 655h0M736 641h0M751 656h0M711 576h0M740 661h0M746 659h0" stroke="#00f" stroke-width="6.6"/><path d="M768 649h0M747 661h0M735 647h0M732 647h0M754 661h0M723 647h0M724 650h0M754 673h0M798 621h0M730 638h0M729 653h0M720 649h0M749 664h0M760 646h0M819 549h0M756 682h0M812 608h0M804 624h0M755 685h0" stroke="#002aff" stroke-width="6.6"/><path d="M817 575h0M708 664h0M727 685h0M744 525h0M774 532h0M723 684h0M744 531h0M836 549h0M763 534h0M819 608h0M753 528h0M768 514h0M749 529h0M834 535h0M822 543h0" stroke="#fa0" stroke-width="6.6"/><path d="M819 531h0M764 644h0M755 668h0M756 658h0M814 611h0M739 658h0M750 644h0M743 641h0M767 653h0M748 656h0M751 673h0M753 677h0M730 650h0M818 560h0M718 653h0M736 653h0M756 647h0M727 649h0M742 659h0M740 656h0" stroke="#00f" stroke-width="6.6"/><path d="M851 540h0M841 540h0M837 611h0M730 567h0M843 550h0M831 546h0M739 534h0M731 560h0M768 519h0M765 538h0M815 585h0M843 531h0M767 528h0M722 682h0M781 531h0M831 529h0M713 685h0M840 608h0M833 549h0M771 549h0M743 546h0M773 529h0M776 517h0M768 525h0M756 547h0M741 542h0M751 532h0" stroke="#ffd500" stroke-width="6.6"/><path d="M781 602h0M776 600h0M810 552h0M744 597h0M782 561h0M786 587h0M722 558h0M790 582h0M762 584h0M726 611h0M766 629h0M770 587h0M783 624h0M781 614h0M768 596h0M798 602h0M749 582h0M746 605h0M735 587h0M802 585h0M759 559h0M784 615h0M757 614h0M762 605h0M801 570h0M804 599h0M790 600h0M756 569h0M736 593h0M784 579h0M781 608h0M716 582h0M785 608h0M720 679h0M721 584h0M734 579h0M731 603h0M796 626h0M795 596h0M793 605h0M722 623h0M757 576h0M807 594h0M766 611h0M752 614h0M727 597h0M756 599h0M788 596h0M771 603h0M791 569h0M742 600h0M738 555h0M766 640h0M762 614h0M768 614h0M761 555h0M710 638h0M779 552h0M794 575h0M741 579h0M714 585h0M748 567h0M757 582h0M773 600h0M735 572h0M792 596h0M787 593h0M766 606h0M795 590h0M746 594h0M728 552h0M763 587h0M759 582h0M816 567h0M796 582h0M708 588h0M714 579h0M765 626h0M765 632h0M769 557h0M739 623h0M762 591h0M727 579h0M802 596h0M799 567h0M779 590h0M763 611h0M807 552h0M744 590h0M776 605h0M724 579h0M734 638h0M714 597h0M802 555h0M765 609h0M762 602h0M801 572h0M769 579h0M785 561h0M797 605h0M758 591h0M784 585h0M775 590h0M766 593h0M742 617h0M803 594h0M739 552h0M754 590h0M728 593h0M732 593h0" stroke="#2bffd4" stroke-width="6.6"/><path d="M747 665h0M749 605h0M758 597h0M729 629h0M778 620h0M743 552h0M755 637h0M710 591h0M751 632h0M711 581h0M708 617h0M807 611h0M754 632h0M704 635h0M754 625h0M702 606h0M809 561h0M813 551h0M776 617h0M811 564h0M761 597h0M713 591h0M739 593h0M721 626h0M756 623h0M740 596h0M758 632h0M792 590h0M741 620h0M715 617h0M753 635h0M705 623h0M747 609h0M720 608h0M775 621h0M737 607h0M737 619h0M729 611h0M732 641h0M732 623h0M740 608h0M741 614h0M737 614h0M707 620h0M737 626h0M788 585h0M753 617h0M780 629h0M707 615h0M714 637h0M777 623h0M799 626h0M746 623h0M762 593h0M757 620h0" stroke="#00d4ff" stroke-width="6.6"/><path d="M724 548h0M731 572h0M723 569h0M710 602h0M766 581h0M726 593h0M722 582h0M739 582h0M736 575h0M809 537h0M746 552h0M770 605h0M763 582h0M722 575h0M750 545h0M770 570h0M779 599h0M727 560h0M725 552h0M706 590h0M721 573h0M771 566h0M790 605h0M728 570h0M755 584h0M809 578h0M766 552h0M802 561h0M758 603h0M805 590h0" stroke="#80ff80" stroke-width="6.6"/><path d="M801 623h0M734 615h0M751 685h0M742 647h0M821 558h0M768 644h0M737 644h0M728 646h0M734 644h0M711 578h0M822 555h0M744 674h0M765 649h0M756 652h0M744 643h0M741 667h0M771 650h0M739 647h0M752 682h0M715 653h0M740 665h0M826 526h0M751 649h0M806 554h0M766 647h0M759 653h0M746 647h0" stroke="#002aff" stroke-width="6.6"/><path d="M820 535h0M823 534h0M822 532h0M763 653h0M730 643h0M749 652h0M817 546h0M822 537h0M815 532h0M820 537h0" stroke="#000080" stroke-width="6.6"/><path d="M729 635h0M728 625h0M823 549h0M722 635h0M713 631h0M744 668h0M806 614h0M704 626h0M815 555h0M726 628h0M732 628h0M807 558h0M794 623h0M714 608h0M732 617h0M722 617h0M750 608h0M716 614h0M739 670h0M727 608h0M730 609h0M746 635h0M748 643h0M809 555h0M719 634h0M752 670h0M734 626h0M751 620h0M781 611h0M730 632h0M770 634h0M814 564h0M709 611h0M713 614h0M821 547h0M708 629h0" stroke="#0af" stroke-width="6.6"/><path d="M718 673h0M824 516h0M731 674h0M825 511h0M797 540h0M846 608h0M713 661h0M717 662h0M712 659h0M790 576h0M814 582h0M740 537h0M826 507h0M707 673h0M818 581h0M744 519h0M821 576h0" stroke="#f50" stroke-width="6.6"/><path d="M787 576h0M809 632h0M713 673h0M739 528h0M821 599h0M721 661h0M708 659h0M734 661h0M726 664h0M744 680h0M709 671h0M715 671h0M848 534h0M819 514h0M723 655h0M717 656h0M710 656h0M822 513h0" stroke="#ff2a00" stroke-width="6.6"/><path d="M822 561h0M761 649h0M803 617h0M822 525h0M762 655h0M759 664h0M718 647h0M732 652h0M747 677h0M707 566h0M756 676h0M763 658h0M757 662h0M707 573h0" stroke="#0000d5" stroke-width="6.6"/><path d="M733 611h0M730 614h0M729 617h0M713 626h0M710 608h0M821 529h0M763 646h0M714 679h0M755 608h0M789 626h0M704 631h0M720 619h0M814 540h0M728 614h0M748 668h0M724 631h0M814 558h0M747 631h0M819 554h0M718 617h0M722 629h0M820 552h0M796 620h0M708 652h0M810 558h0" stroke="#0080ff" stroke-width="6.6"/><path d="M827 528h0M741 650h0M759 658h0M758 685h0M709 570h0M710 572h0M824 558h0" stroke="#00a" stroke-width="6.6"/><path d="M749 658h0M802 614h0M745 671h0M715 646h0M749 682h0M716 650h0M824 528h0M749 647h0M728 638h0M826 537h0M715 629h0" stroke="#05f" stroke-width="6.6"/><path d="M825 489h0M839 573h0M723 667h0M833 572h0M808 549h0M838 629h0M836 620h0M842 616h0M786 570h0M844 605h0M813 631h0M812 543h0M789 561h0M827 499h0M731 661h0M727 667h0M841 575h0M728 661h0M832 578h0M813 546h0M834 617h0M808 546h0M846 579h0M839 626h0M833 608h0M727 674h0M817 629h0M835 578h0M819 596h0M730 667h0M848 605h0M830 566h0M825 579h0M734 655h0M825 560h0" stroke="#d50000" stroke-width="6.6"/><path d="M751 537h0M841 535h0M709 600h0M848 540h0M744 561h0M755 554h0M823 572h0M766 540h0M839 537h0M786 537h0M747 537h0M775 542h0M793 612h0M777 523h0M769 566h0M792 537h0M804 575h0M724 679h0" stroke="#af5" stroke-width="6.6"/><path d="M790 498h0M792 514h0M849 590h0M784 511h0M775 490h0M814 628h0M817 517h0M813 502h0M803 544h0M789 531h0M806 544h0M797 522h0M801 564h0M803 517h0M837 596h0M840 596h0M738 679h0M800 534h0M799 561h0M812 489h0M798 555h0M784 499h0M787 510h0M848 588h0M831 629h0M804 510h0M790 529h0M821 498h0M792 560h0M781 490h0M830 600h0M795 537h0M803 535h0M812 507h0M830 501h0M797 493h0M792 519h0M737 674h0M794 522h0M804 629h0M810 510h0M805 531h0M798 487h0M842 600h0M814 505h0M818 492h0M805 502h0M819 614h0M850 621h0M813 498h0M803 522h0M817 499h0M803 499h0M792 531h0M742 682h0M789 495h0M816 591h0M810 623h0M755 520h0M776 505h0M793 559h0M841 593h0M785 496h0M845 616h0M830 578h0M799 495h0M839 566h0M773 493h0M817 511h0M838 600h0M844 552h0M780 499h0M796 490h0M781 519h0M810 493h0M850 573h0M793 493h0M824 593h0M791 501h0M747 685h0M790 534h0M801 510h0M739 676h0M796 532h0M794 528h0M845 569h0M837 588h0M809 495h0M845 576h0M740 674h0M838 582h0M816 490h0M739 683h0M783 523h0M823 490h0M821 493h0M795 495h0M788 513h0M788 501h0M805 520h0M817 623h0M796 534h0M761 525h0M848 594h0M849 603h0M792 495h0M804 505h0M787 488h0M821 594h0M810 487h0M830 626h0M797 528h0M792 489h0M832 585h0M808 520h0M780 511h0M805 489h0M818 487h0M732 682h0M846 561h0M807 522h0M809 626h0M843 620h0M815 507h0M829 584h0M829 620h0M819 496h0M807 505h0M776 493h0M801 532h0M740 685h0M800 528h0M802 519h0M815 614h0M811 505h0M847 602h0M811 499h0M821 618h0M780 487h0M838 564h0M834 623h0M792 526h0M814 511h0M829 596h0M795 549h0M821 487h0M809 508h0M814 493h0M788 490h0M829 561h0M790 487h0M789 549h0M850 567h0M834 594h0M787 499h0M787 551h0M812 514h0M834 587h0M814 623h0M708 675h0M843 626h0M822 620h0M816 501h0M794 488h0M802 513h0M775 496h0M785 490h0M733 680h0M823 625h0M829 573h0M831 570h0M798 501h0M840 614h0M803 529h0M777 488h0M785 519h0M814 517h0M800 522h0M825 493h0" stroke="#800000" stroke-width="6.6"/><path d="M786 516h0M810 546h0M817 504h0M847 615h0M842 590h0M714 667h0M804 540h0M831 576h0M727 656h0M804 493h0M807 498h0M832 490h0M826 496h0M826 614h0M838 616h0M733 671h0M781 513h0M834 629h0M836 627h0M784 517h0M828 599h0M807 623h0M756 517h0M811 529h0M734 673h0M831 493h0M795 507h0M812 626h0M850 625h0M847 584h0M824 612h0M724 673h0M797 564h0M831 605h0M823 502h0M832 561h0M805 496h0M825 629h0M773 499h0M796 546h0M837 623h0M834 563h0M768 508h0M808 544h0M788 556h0M827 511h0M815 496h0M830 602h0M790 558h0M844 564h0M840 585h0M813 525h0" stroke="#a00" stroke-width="6.6"/><path d="M770 523h0M838 605h0M741 532h0M849 537h0M745 537h0M740 540h0M737 655h0M838 534h0M746 528h0M777 547h0M741 519h0M822 584h0M836 609h0M814 605h0M711 665h0M824 581h0M739 522h0M843 526h0M729 676h0M759 534h0M850 549h0M815 573h0M774 537h0" stroke="#ff8000" stroke-width="6.6"/><path d="M752 548h0M844 612h0M779 537h0M754 532h0M745 543h0M832 542h0M753 558h0M757 534h0M841 612h0M847 528h0M744 549h0M814 575h0M773 547h0M773 517h0M764 550h0M773 522h0M783 528h0M848 546h0M822 602h0M720 685h0M768 550h0M775 519h0M834 569h0M769 534h0M763 528h0M784 534h0M751 560h0" stroke="#ff0" stroke-width="6.6"/><path d="M749 612h0M754 572h0M745 626h0M747 602h0M718 611h0M795 573h0M796 609h0M734 590h0M732 587h0M735 605h0M728 620h0M829 543h0M799 573h0M716 587h0M708 646h0M722 600h0M736 581h0M758 572h0M737 596h0M787 582h0M744 620h0M756 564h0M754 597h0M724 638h0M743 628h0M741 567h0M705 611h0M774 626h0M805 596h0M765 555h0M718 606h0M758 626h0M726 617h0M755 614h0M741 627h0M796 569h0M742 623h0M714 567h0M723 590h0M740 569h0M718 582h0M804 552h0M746 600h0M747 620h0M771 638h0M756 612h0M773 635h0M738 617h0M780 588h0M765 614h0M757 567h0M745 628h0M768 561h0M749 635h0M732 599h0M719 682h0M722 611h0M748 638h0M769 608h0M828 547h0M783 563h0M777 570h0M754 579h0M793 582h0M759 616h0M726 599h0M707 603h0M762 567h0M829 538h0M755 603h0M739 587h0M726 624h0M747 584h0M828 535h0M720 638h0M756 605h0M733 632h0M797 600h0" stroke="#0ff" stroke-width="6.6"/><path d="M740 560h0M773 564h0M741 585h0M758 585h0M771 561h0M790 611h0M722 605h0M727 584h0M723 585h0M746 569h0M736 600h0M780 581h0M817 535h0M771 609h0M775 615h0M784 570h0M752 579h0M749 575h0M788 602h0M760 553h0M758 578h0M760 612h0M774 638h0M809 590h0M767 618h0M775 608h0M712 599h0M842 543h0M782 590h0M803 590h0M734 585h0M724 567h0M801 579h0M742 569h0M729 581h0M770 552h0M762 579h0M743 581h0M763 552h0M809 585h0M799 591h0M772 596h0M799 585h0M767 585h0M707 584h0M747 596h0M812 556h0M751 596h0M801 567h0M773 594h0M723 572h0M776 564h0M788 590h0M810 587h0M774 605h0M801 587h0M776 635h0M772 620h0M723 593h0M777 575h0M734 597h0M710 596h0M809 573h0M766 575h0M771 591h0M807 588h0M783 605h0M781 567h0M739 576h0M768 625h0M732 576h0M816 537h0M778 614h0M803 588h0M751 566h0M708 594h0M753 564h0M774 584h0M846 543h0M726 558h0M729 557h0M739 629h0M797 611h0M841 545h0M728 555h0M755 552h0M812 578h0M773 559h0M717 573h0M753 594h0M719 594h0M826 543h0" stroke="#5fa" stroke-width="6.6"/><path d="M788 573h0M792 555h0M827 570h0M836 555h0M733 659h0M825 573h0M721 671h0M825 585h0M833 554h0M785 572h0M824 588h0M840 560h0M843 614h0M826 555h0M834 559h0M844 581h0M711 668h0M827 606h0" stroke="#f00" stroke-width="6.6"/><path d="M834 528h0M836 526h0M732 558h0M749 540h0M755 522h0M805 537h0M753 546h0M734 561h0M736 552h0M723 677h0M829 531h0M841 528h0M749 558h0M736 563h0M805 579h0M772 543h0M765 531h0M762 531h0M732 676h0M734 567h0M751 544h0M832 537h0M782 543h0M731 554h0M754 543h0M774 513h0M794 540h0M753 535h0" stroke="#d5ff2a" stroke-width="6.6"/><path d="M719 648l4 3M710 566l4 3" stroke="#00a" stroke-width="2.4"/><path d="M744 554l4 3M764 512l4 3M772 546l4 3M746 558l4 3M752 537l4 3M830 530l4 3M745 538l4 3M817 603l4 3M749 546l4 3M782 594l4 3M769 512l4 3M778 554l4 3M743 570l4 3M712 683l4 3M782 534l4 3M762 568l4 3M777 539l4 3M719 562l4 3M767 529l4 3M763 583l4 3M739 561l4 3M771 555l4 3M774 554l4 3" stroke="#af5" stroke-width="2.4"/><path d="M808 630l4 3M825 506l4 3M828 488l4 3M711 661l4 3M803 630l4 3M729 652l4 3M725 672l4 3M715 656l4 3M827 605l4 3M835 616l4 3M814 583l4 3M801 540l4 3M834 556l4 3M732 654l4 3M824 614l4 3" stroke="#f00" stroke-width="2.4"/><path d="M770 550l4 3M756 531l4 3M822 587l4 3M749 523l4 3M840 525l4 3M775 514l4 3M771 615l4 3M742 541l4 3M777 518l4 3M753 543l4 3M712 680l4 3M783 532l4 3" stroke="#ff0" stroke-width="2.4"/><path d="M708 588l4 3M774 597l4 3M790 537l4 3M714 593l4 3M733 600l4 3M796 575l4 3M777 565l4 3M712 671l4 3M840 540l4 3M734 592l4 3M720 580l4 3M803 575l4 3M712 596l4 3M750 544l4 3M818 541l4 3M773 575l4 3M769 561l4 3M730 573l4 3M754 579l4 3M796 599l4 3M723 576l4 3M723 552l4 3M846 610l4 3M800 573l4 3M748 580l4 3M766 579l4 3M807 584l4 3M710 584l4 3M724 602l4 3M775 529l4 3M751 588l4 3M779 592l4 3M754 558l4 3" stroke="#80ff80" stroke-width="2.4"/><path d="M847 608l4 3M821 575l4 3M741 681l4 3M763 545l4 3M841 609l4 3M760 502l4 3M748 526l4 3M771 512l4 3M743 547l4 3M706 664l4 3M845 601l4 3" stroke="#fa0" stroke-width="2.4"/><path d="M726 679l4 3M823 602l4 3M845 581l4 3M819 599l4 3M835 522l4 3M837 583l4 3M760 523l4 3M725 663l4 3M712 659l4 3M812 579l4 3M844 560l4 3M817 517l4 3M842 562l4 3M720 679l4 3" stroke="#ff2a00" stroke-width="2.4"/><path d="M836 539l4 3M706 635l4 3M771 594l4 3M747 611l4 3M766 623l4 3M749 601l4 3M747 587l4 3M808 570l4 3M771 632l4 3M770 626l4 3M753 619l4 3M729 581l4 3M796 608l4 3M706 626l4 3M721 577l4 3M803 584l4 3M756 569l4 3M788 611l4 3M742 590l4 3M769 637l4 3M761 563l4 3M739 597l4 3M776 550l4 3M793 605l4 3M714 600l4 3M769 558l4 3M759 626l4 3M778 614l4 3M767 592l4 3M757 561l4 3M769 590l4 3M733 598l4 3M805 594l4 3M778 600l4 3M727 601l4 3M784 608l4 3M741 574l4 3M783 555l4 3M751 635l4 3M767 569l4 3M755 571l4 3M720 602l4 3M738 607l4 3M810 583l4 3M790 563l4 3M726 592l4 3M747 620l4 3M788 541l4 3M739 576l4 3M725 586l4 3M756 614l4 3M829 531l4 3" stroke="#2bffd4" stroke-width="2.4"/><path d="M767 555l4 3M745 583l4 3M767 586l4 3M772 603l4 3M744 609l4 3M745 615l4 3M755 616l4 3M781 550l4 3M746 576l4 3M743 579l4 3M758 582l4 3M769 633l4 3M778 617l4 3M803 607l4 3M766 631l4 3M721 591l4 3M735 588l4 3M781 573l4 3M707 581l4 3M782 571l4 3M758 597l4 3M725 618l4 3M716 620l4 3M739 593l4 3M759 609l4 3M721 623l4 3M787 537l4 3M742 595l4 3M794 585l4 3M800 587l4 3M789 591l4 3M724 588l4 3M816 567l4 3M726 633l4 3M714 678l4 3M746 581l4 3M733 586l4 3M739 591l4 3M756 593l4 3M788 578l4 3M749 578l4 3M710 620l4 3M816 565l4 3M788 594l4 3M808 560l4 3M761 562l4 3M801 600l4 3M773 622l4 3M740 621l4 3M756 583l4 3M762 585l4 3M758 622l4 3M711 582l4 3M726 584l4 3M723 582l4 3M763 553l4 3M754 562l4 3M781 559l4 3M706 629l4 3M700 613l4 3M773 570l4 3M732 594l4 3M766 625l4 3" stroke="#0ff" stroke-width="2.4"/><path d="M834 627l4 3M802 514l4 3M736 678l4 3M826 590l4 3M791 521l4 3M843 550l4 3M803 504l4 3M806 526l4 3M811 497l4 3M836 598l4 3M814 506l4 3M789 499l4 3M818 610l4 3M822 495l4 3M828 574l4 3M791 514l4 3M835 554l4 3M736 680l4 3M792 529l4 3M784 492l4 3M810 625l4 3M834 581l4 3M843 614l4 3M707 673l4 3M763 519l4 3M803 506l4 3M847 617l4 3M773 487l4 3M707 671l4 3M826 581l4 3M840 594l4 3M830 601l4 3M798 497l4 3M823 596l4 3M812 539l4 3M847 587l4 3M796 487l4 3M830 598l4 3M848 577l4 3M806 503l4 3M806 500l4 3M809 514l4 3M794 509l4 3M793 519l4 3M823 610l4 3M776 512l4 3M827 611l4 3M785 485l4 3M784 487l4 3M846 624l4 3M800 525l4 3M832 559l4 3M729 658l4 3M831 585l4 3M738 677l4 3M816 611l4 3M759 519l4 3M800 518l4 3M775 497l4 3M830 492l4 3M822 589l4 3M799 527l4 3M813 509l4 3M780 500l4 3M773 492l4 3M776 504l4 3M800 504l4 3M828 556l4 3M773 484l4 3M793 488l4 3M774 505l4 3M810 512l4 3M815 621l4 3M826 613l4 3M806 509l4 3M782 502l4 3M812 487l4 3M844 566l4 3M783 508l4 3M818 624l4 3M841 570l4 3M837 589l4 3M841 616l4 3M804 519l4 3M782 488l4 3M788 519l4 3M799 533l4 3M774 499l4 3M791 553l4 3M816 513l4 3M808 499l4 3M779 491l4 3M829 494l4 3M777 485l4 3M761 518l4 3M784 518l4 3M804 512l4 3M847 562l4 3M797 536l4 3M844 589l4 3M830 625l4 3M771 489l4 3M836 560l4 3M708 654l4 3M802 546l4 3" stroke="#800000" stroke-width="2.4"/><path d="M748 677l4 3M751 657l4 3M748 669l4 3M755 684l4 3M707 575l4 3M768 644l4 3M718 629l4 3M729 613l4 3M759 640l4 3M819 556l4 3" stroke="#002aff" stroke-width="2.4"/><path d="M719 656l4 3M823 556l4 3M786 575l4 3M767 507l4 3M831 605l4 3M785 530l4 3M716 676l4 3M820 529l4 3M815 581l4 3M829 523l4 3M731 662l4 3M719 654l4 3M740 520l4 3M842 523l4 3" stroke="#f50" stroke-width="2.4"/><path d="M746 667l4 3M729 637l4 3M775 612l4 3M714 632l4 3M733 644l4 3M719 616l4 3M702 620l4 3M730 619l4 3M715 644l4 3M714 610l4 3M740 614l4 3M817 548l4 3M707 604l4 3M753 665l4 3M811 564l4 3M711 612l4 3M745 652l4 3M714 647l4 3M730 625l4 3" stroke="#0080ff" stroke-width="2.4"/><path d="M807 518l4 3M805 485l4 3M839 597l4 3M797 554l4 3M824 500l4 3M730 656l4 3M786 491l4 3M845 572l4 3M791 560l4 3M797 484l4 3M727 654l4 3M789 501l4 3M840 623l4 3M824 562l4 3M805 490l4 3M801 502l4 3M848 621l4 3M835 625l4 3M796 559l4 3M823 627l4 3M803 538l4 3M804 533l4 3M707 656l4 3" stroke="#a00" stroke-width="2.4"/><path d="M713 649l4 3M803 613l4 3M740 649l4 3M716 643l4 3M750 663l4 3M727 648l4 3M806 618l4 3M734 607l4 3M750 651l4 3M754 671l4 3M764 643l4 3M722 630l4 3M752 649l4 3" stroke="#05f" stroke-width="2.4"/><path d="M745 552l4 3M739 559l4 3M838 535l4 3M770 579l4 3M748 595l4 3M840 542l4 3M766 524l4 3M711 636l4 3M772 526l4 3M774 521l4 3M727 676l4 3M848 529l4 3M796 538l4 3M703 592l4 3M848 540l4 3" stroke="#d5ff2a" stroke-width="2.4"/><path d="M754 647l4 3M733 583l4 3M789 577l4 3M736 605l4 3M812 557l4 3M820 536l4 3M746 630l4 3M703 610l4 3M741 664l4 3M791 621l4 3M703 618l4 3M724 634l4 3M814 561l4 3M764 603l4 3M716 637l4 3M745 612l4 3M753 603l4 3M768 650l4 3M738 632l4 3M805 609l4 3M766 608l4 3M807 556l4 3M716 561l4 3M710 630l4 3M813 554l4 3M751 605l4 3" stroke="#0af" stroke-width="2.4"/><path d="M738 532l4 3M739 547l4 3M711 675l4 3M768 515l4 3M826 492l4 3M821 514l4 3M835 608l4 3M819 507l4 3M742 535l4 3M733 675l4 3M731 685l4 3M776 532l4 3M832 568l4 3M737 523l4 3" stroke="#ff8000" stroke-width="2.4"/><path d="M749 531l4 3M833 567l4 3M747 527l4 3M740 683l4 3M719 673l4 3M765 549l4 3M759 548l4 3M814 606l4 3M794 540l4 3M733 560l4 3M847 525l4 3M767 546l4 3" stroke="#ffd500" stroke-width="2.4"/><path d="M802 621l4 3M745 673l4 3M708 573l4 3M765 648l4 3M797 623l4 3M751 660l4 3M763 651l4 3M756 661l4 3M716 651l4 3M815 527l4 3" stroke="#00f" stroke-width="2.4"/><path d="M709 570l4 3M816 533l4 3M814 529l4 3M740 658l4 3M748 647l4 3M815 544l4 3M737 661l4 3M817 531l4 3" stroke="#000080" stroke-width="2.4"/><path d="M702 611l4 3M748 572l4 3M788 581l4 3M808 605l4 3M795 570l4 3M712 620l4 3M754 593l4 3M789 585l4 3M768 607l4 3M742 593l4 3M779 624l4 3M801 562l4 3M726 625l4 3M726 595l4 3M748 632l4 3M722 612l4 3M750 582l4 3M792 598l4 3M705 612l4 3M762 539l4 3M731 679l4 3M746 590l4 3M752 666l4 3M710 615l4 3M798 589l4 3M723 605l4 3M760 572l4 3M817 557l4 3M763 551l4 3M728 620l4 3M785 582l4 3M759 612l4 3M748 635l4 3M721 600l4 3M708 619l4 3M800 550l4 3M760 594l4 3M770 605l4 3M722 627l4 3M710 590l4 3" stroke="#00d4ff" stroke-width="2.4"/><path d="M835 576l4 3M786 552l4 3M839 611l4 3M827 495l4 3M824 606l4 3M718 658l4 3M833 557l4 3M815 598l4 3M717 675l4 3M833 621l4 3M738 670l4 3M817 580l4 3M837 615l4 3M756 514l4 3M785 562l4 3M839 557l4 3M834 571l4 3M785 554l4 3M835 619l4 3M837 575l4 3M828 571l4 3" stroke="#d50000" stroke-width="2.4"/><path d="M801 617l4 3M798 620l4 3M752 675l4 3M730 651l4 3M740 666l4 3M801 623l4 3" stroke="#0000d5" stroke-width="2.4"/><path d="M781 591l4 3M780 576l4 3M725 555l4 3M804 611l4 3M771 563l4 3M776 595l4 3M704 585l4 3M726 547l4 3M775 603l4 3M728 589l4 3M779 621l4 3M775 552l4 3M806 587l4 3M799 579l4 3M746 567l4 3M711 598l4 3M738 570l4 3M754 624l4 3M803 590l4 3M713 594l4 3M806 577l4 3M718 573l4 3M718 589l4 3M720 571l4 3M754 550l4 3M770 556l4 3M808 568l4 3M805 551l4 3M724 556l4 3M807 576l4 3M795 564l4 3M777 573l4 3M797 574l4 3M736 572l4 3M741 564l4 3M793 597l4 3M714 572l4 3M740 581l4 3M723 567l4 3M763 566l4 3M703 599l4 3M802 585l4 3M766 570l4 3M750 576l4 3M793 602l4 3M769 576l4 3M728 591l4 3M735 603l4 3M776 610l4 3M805 571l4 3M761 630l4 3M782 565l4 3M802 569l4 3M728 582l4 3M785 613l4 3M773 536l4 3" stroke="#5fa" stroke-width="2.4"/><path d="M709 568l4 3M728 645l4 3M764 650l4 3M741 673l4 3M722 644l4 3M819 553l4 3M745 675l4 3M756 652l4 3M752 672l4 3M819 562l4 3M749 676l4 3M718 649l4 3M720 645l4 3" stroke="#0000d5" stroke-width="2.4"/><path d="M704 630l4 3M717 605l4 3M710 624l4 3M703 624l4 3M748 623l4 3M751 622l4 3M732 622l4 3M700 622l4 3M812 562l4 3M738 564l4 3M819 545l4 3M767 638l4 3M800 611l4 3M807 616l4 3M749 608l4 3M713 617l4 3M742 633l4 3M748 603l4 3M799 625l4 3M745 636l4 3M821 551l4 3M702 632l4 3M737 615l4 3M704 614l4 3M823 541l4 3M732 609l4 3M705 623l4 3M700 605l4 3M747 628l4 3M755 646l4 3M758 619l4 3" stroke="#0af" stroke-width="2.4"/><path d="M793 620l4 3M742 647l4 3M747 657l4 3M819 559l4 3M708 648l4 3M755 663l4 3M823 533l4 3M750 645l4 3M804 619l4 3M805 557l4 3" stroke="#002aff" stroke-width="2.4"/><path d="M760 624l4 3M716 608l4 3M723 599l4 3M757 599l4 3M767 600l4 3M795 624l4 3M730 633l4 3M761 608l4 3M748 565l4 3M705 596l4 3M750 599l4 3M759 617l4 3M743 616l4 3M804 597l4 3M781 611l4 3M712 628l4 3M720 608l4 3M719 587l4 3M769 611l4 3M774 628l4 3M761 599l4 3M761 578l4 3M792 590l4 3M726 639l4 3M774 568l4 3M750 636l4 3M749 586l4 3M722 635l4 3M746 598l4 3M737 624l4 3M713 565l4 3M714 624l4 3M764 618l4 3M801 595l4 3M732 577l4 3M760 603l4 3M737 618l4 3M716 599l4 3M766 602l4 3M718 583l4 3M715 586l4 3M759 580l4 3M763 634l4 3M735 636l4 3M713 563l4 3M728 623l4 3M755 585l4 3M721 553l4 3M724 597l4 3M758 565l4 3" stroke="#0ff" stroke-width="2.4"/><path d="M734 621l4 3M785 599l4 3M744 600l4 3M760 632l4 3M770 588l4 3M722 607l4 3M804 552l4 3M775 566l4 3M798 584l4 3M787 606l4 3M786 568l4 3M777 555l4 3M800 570l4 3M765 558l4 3M752 574l4 3M798 597l4 3M740 606l4 3M837 538l4 3M751 534l4 3M764 612l4 3M800 602l4 3M752 565l4 3M737 586l4 3M722 570l4 3M822 543l4 3M770 566l4 3M844 528l4 3M769 614l4 3M759 574l4 3M805 588l4 3M769 553l4 3M756 552l4 3M787 595l4 3M787 612l4 3M767 583l4 3M719 596l4 3M760 555l4 3M736 580l4 3" stroke="#5fa" stroke-width="2.4"/><path d="M737 653l4 3M758 642l4 3M738 655l4 3M826 529l4 3M799 619l4 3M822 549l4 3" stroke="#00a" stroke-width="2.4"/><path d="M796 578l4 3M763 542l4 3M773 636l4 3M769 541l4 3M777 579l4 3M719 558l4 3M832 542l4 3M749 541l4 3M841 538l4 3M791 607l4 3M759 588l4 3M764 575l4 3M707 595l4 3M805 565l4 3M757 590l4 3M773 561l4 3M797 605l4 3M716 577l4 3M771 624l4 3M776 581l4 3M786 592l4 3M767 539l4 3M735 567l4 3M723 572l4 3M714 580l4 3M781 567l4 3M843 537l4 3M729 603l4 3M735 550l4 3M755 539l4 3M732 632l4 3M723 550l4 3M747 550l4 3M767 577l4 3" stroke="#80ff80" stroke-width="2.4"/><path d="M825 508l4 3M799 540l4 3M807 522l4 3M823 487l4 3M782 525l4 3M787 503l4 3M803 498l4 3M805 488l4 3M800 487l4 3M811 627l4 3M795 518l4 3M726 670l4 3M825 586l4 3M794 495l4 3M780 489l4 3M848 583l4 3M722 682l4 3M840 601l4 3M803 500l4 3M818 601l4 3M827 628l4 3M723 653l4 3M832 603l4 3M838 619l4 3M827 602l4 3M842 593l4 3M793 490l4 3M762 522l4 3M812 584l4 3M760 525l4 3M790 546l4 3M813 575l4 3M835 623l4 3M830 616l4 3M775 488l4 3M841 607l4 3M789 531l4 3M843 597l4 3M772 495l4 3M840 580l4 3" stroke="#a00" stroke-width="2.4"/><path d="M782 602l4 3M750 553l4 3M753 587l4 3M784 592l4 3M835 531l4 3M772 515l4 3M773 524l4 3M764 529l4 3M817 526l4 3M772 518l4 3M785 539l4 3M749 555l4 3M741 566l4 3M778 603l4 3M732 562l4 3M774 545l4 3M834 564l4 3M763 627l4 3M773 539l4 3M765 542l4 3M767 537l4 3M738 599l4 3M842 530l4 3M843 543l4 3M841 546l4 3M763 614l4 3" stroke="#af5" stroke-width="2.4"/><path d="M739 531l4 3M824 554l4 3M824 577l4 3M755 516l4 3M744 517l4 3M818 578l4 3M844 557l4 3M815 518l4 3M823 571l4 3M727 659l4 3M825 569l4 3M740 537l4 3M846 585l4 3" stroke="#f00" stroke-width="2.4"/><path d="M819 484l4 3M783 569l4 3M788 512l4 3M785 498l4 3M819 590l4 3M798 551l4 3M834 578l4 3M829 586l4 3M765 526l4 3M789 495l4 3M722 667l4 3M816 588l4 3M795 502l4 3M843 569l4 3M802 523l4 3M780 515l4 3M784 506l4 3M809 505l4 3M813 515l4 3M806 624l4 3M832 582l4 3M731 671l4 3M794 511l4 3M830 575l4 3M795 507l4 3M797 516l4 3M794 534l4 3M723 665l4 3M828 589l4 3M827 490l4 3M818 492l4 3M807 515l4 3M816 505l4 3M802 491l4 3M823 593l4 3M734 668l4 3M777 496l4 3M841 598l4 3M782 519l4 3M821 489l4 3M806 523l4 3M808 507l4 3M733 681l4 3M798 520l4 3M710 667l4 3M802 532l4 3M828 626l4 3M845 619l4 3M789 525l4 3M729 673l4 3M801 548l4 3M792 528l4 3M803 520l4 3M772 501l4 3M812 502l4 3M807 484l4 3M815 490l4 3M807 492l4 3M810 520l4 3M755 522l4 3M797 522l4 3M804 526l4 3M847 554l4 3M813 499l4 3M758 505l4 3M790 487l4 3M789 533l4 3M827 559l4 3M835 593l4 3M786 497l4 3M833 489l4 3M811 509l4 3M792 507l4 3M804 510l4 3M796 499l4 3M818 486l4 3M814 630l4 3M826 561l4 3M826 599l4 3M842 590l4 3M827 596l4 3M800 496l4 3M820 597l4 3M781 495l4 3M788 520l4 3M798 489l4 3M797 490l4 3M792 559l4 3M808 623l4 3M844 620l4 3M844 604l4 3M824 608l4 3M837 613l4 3M713 666l4 3M819 498l4 3M813 491l4 3M833 589l4 3M822 624l4 3M746 680l4 3M799 512l4 3M793 556l4 3M779 506l4 3M785 524l4 3M811 573l4 3M848 592l4 3M796 492l4 3M777 502l4 3M840 563l4 3M784 494l4 3M777 510l4 3M827 579l4 3M798 514l4 3M820 491l4 3" stroke="#800000" stroke-width="2.4"/><path d="M829 541l4 3M721 684l4 3M807 546l4 3M847 600l4 3M781 544l4 3M714 669l4 3M722 661l4 3" stroke="#ff8000" stroke-width="2.4"/><path d="M747 672l4 3M817 543l4 3M806 549l4 3M705 576l4 3M826 538l4 3M711 575l4 3M821 558l4 3M737 663l4 3M809 550l4 3M741 643l4 3M746 645l4 3" stroke="#00f" stroke-width="2.4"/><path d="M778 585l4 3M712 642l4 3M761 616l4 3M781 597l4 3M764 560l4 3M797 590l4 3M736 578l4 3M757 612l4 3M757 604l4 3M750 585l4 3M810 581l4 3M719 566l4 3M770 619l4 3M759 556l4 3M755 608l4 3M752 612l4 3M795 601l4 3M772 609l4 3M722 583l4 3M773 599l4 3M723 590l4 3M767 615l4 3M710 601l4 3M716 597l4 3M799 604l4 3M733 629l4 3M716 585l4 3M751 614l4 3M723 558l4 3M734 596l4 3M765 593l4 3M742 604l4 3M773 579l4 3M805 580l4 3M718 580l4 3M761 593l4 3M729 574l4 3M708 584l4 3M761 622l4 3M733 612l4 3M716 622l4 3M770 571l4 3M741 627l4 3M764 587l4 3M772 600l4 3M726 599l4 3M704 601l4 3M767 562l4 3M773 639l4 3M775 560l4 3M748 597l4 3" stroke="#2bffd4" stroke-width="2.4"/><path d="M750 530l4 3M836 600l4 3M841 532l4 3M769 544l4 3M727 685l4 3M835 542l4 3M743 534l4 3M716 660l4 3M742 527l4 3M757 529l4 3" stroke="#fa0" stroke-width="2.4"/><path d="M766 519l4 3M764 505l4 3M811 616l4 3M757 527l4 3M708 663l4 3M769 522l4 3M828 565l4 3M821 583l4 3M814 601l4 3M792 544l4 3M824 502l4 3M733 658l4 3M822 603l4 3" stroke="#ff2a00" stroke-width="2.4"/><path d="M757 644l4 3M759 657l4 3M761 653l4 3M825 531l4 3M741 652l4 3M739 660l4 3" stroke="#000080" stroke-width="2.4"/><path d="M728 682l4 3M738 516l4 3M826 552l4 3M787 572l4 3M729 681l4 3M729 663l4 3M818 584l4 3M724 656l4 3M760 546l4 3M739 522l4 3M818 509l4 3M819 538l4 3M740 675l4 3M819 516l4 3M760 534l4 3" stroke="#f50" stroke-width="2.4"/><path d="M811 549l4 3M808 608l4 3M705 605l4 3M803 558l4 3M712 606l4 3M776 587l4 3M790 623l4 3M709 617l4 3M746 605l4 3M709 631l4 3M714 616l4 3M720 631l4 3M708 625l4 3M755 678l4 3M759 654l4 3M719 627l4 3M706 649l4 3M753 679l4 3" stroke="#0080ff" stroke-width="2.4"/><path d="M732 616l4 3M759 649l4 3M730 610l4 3M737 647l4 3M753 656l4 3M810 613l4 3M738 631l4 3M756 629l4 3M749 655l4 3M751 668l4 3M755 631l4 3M710 644l4 3" stroke="#05f" stroke-width="2.4"/><path d="M809 545l4 3M810 543l4 3M832 551l4 3M829 578l4 3M727 668l4 3M846 565l4 3M812 542l4 3M796 555l4 3M838 567l4 3M846 557l4 3M788 558l4 3M844 574l4 3M843 585l4 3M819 530l4 3M825 629l4 3M833 574l4 3M833 572l4 3" stroke="#d50000" stroke-width="2.4"/><path d="M829 534l4 3M763 536l4 3M766 516l4 3M812 609l4 3M790 600l4 3M777 524l4 3M788 604l4 3M724 565l4 3M803 535l4 3M780 535l4 3M765 535l4 3M838 526l4 3M759 536l4 3M774 519l4 3M745 530l4 3" stroke="#d5ff2a" stroke-width="2.4"/><path d="M831 536l4 3M782 542l4 3M835 527l4 3M816 571l4 3M767 506l4 3M771 519l4 3M730 555l4 3M731 550l4 3M777 516l4 3M781 530l4 3M829 526l4 3M770 534l4 3M744 677l4 3M751 562l4 3M771 540l4 3M824 522l4 3M776 541l4 3M733 554l4 3M757 543l4 3M816 604l4 3" stroke="#ff0" stroke-width="2.4"/><path d="M814 569l4 3M729 566l4 3M766 533l4 3M731 677l4 3M849 524l4 3M767 522l4 3M844 549l4 3M753 521l4 3M742 679l4 3M728 675l4 3M835 525l4 3M743 539l4 3M710 669l4 3M740 528l4 3M755 548l4 3" stroke="#ffd500" stroke-width="2.4"/><path d="M756 577l4 3M719 556l4 3M713 626l4 3M708 610l4 3M743 587l4 3M727 631l4 3M744 592l4 3M791 584l4 3M764 595l4 3M753 572l4 3M736 565l4 3M719 625l4 3M753 596l4 3M711 607l4 3M735 634l4 3M735 610l4 3M782 557l4 3M712 587l4 3M769 628l4 3M734 582l4 3M733 638l4 3M708 634l4 3M766 616l4 3M760 601l4 3M723 621l4 3M762 637l4 3M714 634l4 3M703 615l4 3M766 639l4 3M700 627l4 3M756 554l4 3M798 626l4 3M749 609l4 3" stroke="#00d4ff" stroke-width="2.4"/><path d="M708 593l4 3M790 540l4 3M737 557l4 3M779 584l4 3M776 558l4 3M716 578l4 3M705 591l4 3M746 543l4 3M760 569l4 3M783 616l4 3M780 552l4 3M781 599l4 3M777 594l4 3M741 572l4 3M744 577l4 3M799 596l4 3M726 563l4 3M750 538l4 3M760 541l4 3M778 577l4 3M735 591l4 3M750 593l4 3M734 575l4 3M804 573l4 3M790 614l4 3M752 560l4 3M755 599l4 3M773 585l4 3M727 553l4 3M782 617l4 3M737 549l4 3M718 604l4 3M772 593l4 3M755 602l4 3M775 583l4 3M716 590l4 3M783 609l4 3M743 562l4 3M757 558l4 3M720 677l4 3M762 591l4 3M726 570l4 3M782 580l4 3M803 581l4 3M721 560l4 3M842 545l4 3M798 566l4 3M828 543l4 3M769 567l4 3M815 550l4 3" stroke="#5fa" stroke-width="2.4"/><path d="M733 652l4 3M758 660l4 3M723 650l4 3M757 650l4 3M742 671l4 3M725 649l4 3M746 682l4 3M745 661l4 3" stroke="#00f" stroke-width="2.4"/><path d="M742 518l4 3M843 582l4 3M831 570l4 3M718 666l4 3M837 620l4 3M745 523l4 3M834 610l4 3M790 569l4 3M734 673l4 3M817 511l4 3M789 547l4 3M830 555l4 3M735 656l4 3M746 521l4 3M823 504l4 3M813 614l4 3M820 606l4 3M839 605l4 3M722 659l4 3" stroke="#f00" stroke-width="2.4"/><path d="M820 577l4 3M835 602l4 3M733 661l4 3M840 534l4 3M713 658l4 3M839 559l4 3M819 608l4 3M839 603l4 3M837 606l4 3M720 663l4 3M737 526l4 3" stroke="#ff2a00" stroke-width="2.4"/><path d="M796 544l4 3M801 493l4 3M791 523l4 3M817 618l4 3M776 486l4 3M798 529l4 3M819 622l4 3M786 514l4 3M848 624l4 3M810 488l4 3M791 491l4 3M793 525l4 3M817 502l4 3M787 506l4 3M796 561l4 3M825 592l4 3M790 486l4 3M845 595l4 3M787 526l4 3M840 572l4 3M763 514l4 3M795 524l4 3M784 501l4 3M831 591l4 3M732 683l4 3M818 500l4 3M823 616l4 3M787 489l4 3M821 614l4 3M736 672l4 3M782 510l4 3M827 576l4 3M793 536l4 3M795 532l4 3M837 592l4 3M809 491l4 3M839 586l4 3M811 503l4 3M798 557l4 3M710 652l4 3M846 594l4 3M842 622l4 3M790 508l4 3M805 625l4 3M814 613l4 3M783 515l4 3M833 595l4 3M777 508l4 3M779 497l4 3M774 491l4 3M812 622l4 3M839 588l4 3M793 551l4 3M817 494l4 3M814 589l4 3M832 597l4 3M811 518l4 3M787 529l4 3M843 605l4 3M795 549l4 3M823 619l4 3M811 619l4 3M838 552l4 3M821 621l4 3M816 625l4 3M801 508l4 3M800 510l4 3M825 623l4 3M843 521l4 3M842 553l4 3M848 615l4 3M724 680l4 3M830 593l4 3M816 496l4 3M815 498l4 3M797 505l4 3M812 517l4 3M834 587l4 3M845 578l4 3M789 557l4 3M817 488l4 3M795 501l4 3M803 529l4 3M715 667l4 3M835 585l4 3M802 517l4 3M814 486l4 3M829 595l4 3M735 665l4 3M807 495l4 3M757 520l4 3M704 674l4 3M781 512l4 3M834 562l4 3M810 620l4 3M830 621l4 3M786 522l4 3M804 544l4 3M796 530l4 3M711 673l4 3M833 612l4 3M821 612l4 3M761 516l4 3M778 493l4 3M811 495l4 3M799 543l4 3M831 562l4 3M781 503l4 3M840 551l4 3M791 494l4 3M812 493l4 3M818 593l4 3" stroke="#800000" stroke-width="2.4"/><path d="M845 526l4 3M778 563l4 3M802 577l4 3M765 581l4 3M777 527l4 3M745 569l4 3M768 622l4 3M769 581l4 3M788 601l4 3M728 577l4 3M771 618l4 3M748 548l4 3M746 542l4 3M762 530l4 3" stroke="#af5" stroke-width="2.4"/><path d="M784 585l4 3M752 629l4 3M717 635l4 3M738 668l4 3M775 618l4 3M775 588l4 3M747 640l4 3M727 607l4 3M748 617l4 3M731 647l4 3M758 636l4 3M747 666l4 3M757 628l4 3M705 619l4 3M744 663l4 3M816 559l4 3" stroke="#0af" stroke-width="2.4"/><path d="M822 513l4 3M842 578l4 3M814 546l4 3M821 581l4 3M760 532l4 3M842 577l4 3M713 663l4 3M743 526l4 3M821 629l4 3M717 683l4 3M719 665l4 3" stroke="#f50" stroke-width="2.4"/><path d="M756 537l4 3M779 537l4 3M776 535l4 3M779 521l4 3M747 536l4 3M780 523l4 3M801 553l4 3M752 551l4 3M848 538l4 3M824 510l4 3M838 544l4 3M748 535l4 3M776 544l4 3M755 524l4 3M750 521l4 3M729 561l4 3M744 532l4 3M728 568l4 3M758 542l4 3M846 548l4 3M723 673l4 3M833 529l4 3M771 531l4 3M812 576l4 3M735 559l4 3M754 533l4 3" stroke="#ff0" stroke-width="2.4"/><path d="M776 624l4 3M807 613l4 3M715 629l4 3M747 625l4 3M810 558l4 3M720 610l4 3M727 605l4 3M824 548l4 3M756 654l4 3M727 613l4 3M744 637l4 3M827 544l4 3M734 646l4 3M719 633l4 3M713 611l4 3M751 654l4 3M743 668l4 3M774 620l4 3M740 635l4 3M719 618l4 3M749 664l4 3M740 612l4 3" stroke="#0080ff" stroke-width="2.4"/><path d="M716 654l4 3M844 612l4 3M792 513l4 3M799 535l4 3M789 510l4 3M839 625l4 3M847 570l4 3M804 543l4 3M821 496l4 3M790 554l4 3M836 569l4 3M796 546l4 3M805 497l4 3M827 498l4 3M808 528l4 3M792 498l4 3M815 596l4 3M848 568l4 3M830 610l4 3M792 542l4 3M840 555l4 3M803 627l4 3M802 485l4 3M786 559l4 3M789 516l4 3M814 627l4 3M786 545l4 3M832 614l4 3M792 504l4 3M793 495l4 3M813 525l4 3M826 584l4 3" stroke="#a00" stroke-width="2.4"/><path d="M838 530l4 3M738 539l4 3M756 546l4 3M737 517l4 3M820 505l4 3M740 545l4 3M725 661l4 3M845 533l4 3M751 528l4 3M819 569l4 3M789 570l4 3" stroke="#ff8000" stroke-width="2.4"/><path d="M706 666l4 3M738 541l4 3M829 564l4 3M848 531l4 3M780 527l4 3M704 670l4 3M720 669l4 3M745 684l4 3M831 538l4 3M844 535l4 3M766 548l4 3M814 592l4 3M779 532l4 3" stroke="#ffd500" stroke-width="2.4"/><path d="M731 564l4 3M741 543l4 3M769 535l4 3M822 573l4 3M814 539l4 3M847 545l4 3M730 558l4 3M748 556l4 3M827 567l4 3M835 547l4 3M717 680l4 3M834 532l4 3M831 547l4 3M840 549l4 3M774 530l4 3M739 554l4 3M728 551l4 3M765 509l4 3M732 568l4 3M732 602l4 3M752 526l4 3" stroke="#d5ff2a" stroke-width="2.4"/><path d="M750 685l4 3M735 651l4 3M751 683l4 3M709 576l4 3M826 536l4 3M818 563l4 3M818 546l4 3M744 647l4 3M709 645l4 3M736 650l4 3M761 647l4 3M803 616l4 3M788 624l4 3M800 556l4 3M747 651l4 3" stroke="#002aff" stroke-width="2.4"/><path d="M764 641l4 3M812 547l4 3M724 643l4 3M768 647l4 3M731 640l4 3M706 566l4 3M741 656l4 3" stroke="#0000d5" stroke-width="2.4"/><path d="M748 649l4 3M821 534l4 3M823 524l4 3M734 642l4 3M823 539l4 3M808 553l4 3M728 643l4 3M752 644l4 3M746 659l4 3" stroke="#00a" stroke-width="2.4"/><path d="M725 655l4 3M839 565l4 3M839 617l4 3M729 667l4 3M817 586l4 3M731 669l4 3M824 599l4 3M787 549l4 3M706 658l4 3M754 518l4 3M806 540l4 3M838 581l4 3M812 630l4 3M828 618l4 3M824 493l4 3M807 537l4 3M809 629l4 3M825 485l4 3M839 574l4 3M827 620l4 3M812 611l4 3M831 608l4 3M815 619l4 3M817 594l4 3M819 616l4 3M826 621l4 3" stroke="#d50000" stroke-width="2.4"/><path d="M715 662l4 3M823 578l4 3M849 544l4 3M753 541l4 3M745 546l4 3M733 552l4 3M771 549l4 3M812 570l4 3M768 531l4 3M783 540l4 3" stroke="#fa0" stroke-width="2.4"/><path d="M704 608l4 3M724 620l4 3M744 602l4 3M784 579l4 3M741 618l4 3M742 624l4 3M837 546l4 3M738 584l4 3M832 535l4 3M756 574l4 3M792 573l4 3M805 563l4 3M740 550l4 3M744 586l4 3M734 627l4 3M737 639l4 3M719 564l4 3M798 568l4 3M795 609l4 3M810 566l4 3M714 603l4 3M778 571l4 3M743 631l4 3M726 561l4 3M754 611l4 3M761 639l4 3M760 587l4 3M740 582l4 3M752 598l4 3M804 567l4 3M722 676l4 3M753 681l4 3M773 631l4 3M731 588l4 3M729 629l4 3M737 594l4 3M794 571l4 3M764 564l4 3M751 620l4 3M793 579l4 3M741 549l4 3M775 591l4 3M783 586l4 3M716 567l4 3" stroke="#0ff" stroke-width="2.4"/><path d="M789 564l4 3M751 591l4 3M705 583l4 3M791 575l4 3M738 601l4 3M716 614l4 3M725 626l4 3M771 586l4 3M707 589l4 3M787 566l4 3M798 581l4 3M735 620l4 3M756 607l4 3M787 597l4 3M801 560l4 3M769 573l4 3M738 622l4 3M766 557l4 3M788 588l4 3M746 622l4 3M726 578l4 3M781 613l4 3M740 628l4 3M793 588l4 3M780 581l4 3M802 592l4 3M718 560l4 3M779 606l4 3M782 588l4 3M774 605l4 3M756 566l4 3M770 597l4 3M796 585l4 3M779 569l4 3M708 602l4 3M755 623l4 3M779 560l4 3M750 570l4 3M746 573l4 3M735 573l4 3M803 598l4 3M717 574l4 3M720 585l4 3M795 595l4 3M794 565l4 3M831 544l4 3M776 575l4 3M783 563l4 3M764 598l4 3M765 610l4 3M793 611l4 3M753 564l4 3M730 578l4 3M792 567l4 3M737 626l4 3M748 564l4 3M786 589l4 3" stroke="#2bffd4" stroke-width="2.4"/><path d="M792 581l4 3M742 609l4 3M776 627l4 3M709 591l4 3M750 631l4 3M749 615l4 3M799 612l4 3M725 609l4 3M729 595l4 3M794 626l4 3M701 625l4 3M765 573l4 3M709 579l4 3M744 624l4 3M845 540l4 3M807 561l4 3M785 576l4 3M737 609l4 3M815 553l4 3M728 635l4 3M754 634l4 3M759 635l4 3M795 592l4 3M740 637l4 3M753 627l4 3M745 607l4 3M769 630l4 3M764 589l4 3M710 609l4 3M724 611l4 3M728 596l4 3M774 608l4 3M764 633l4 3M778 608l4 3M762 620l4 3M764 606l4 3M730 626l4 3" stroke="#00d4ff" stroke-width="2.4"/><path d="M755 640l4 3M730 642l4 3M822 527l4 3M815 535l4 3" stroke="#000080" stroke-width="2.4"/><path d="M731 570l4 3M784 602l4 3M780 604l4 3M800 565l4 3M816 574l4 3M754 581l4 3M725 571l4 3M781 620l4 3M719 671l4 3M712 573l4 3M725 580l4 3M762 576l4 3M738 555l4 3M770 528l4 3M741 557l4 3M743 556l4 3M714 570l4 3M788 535l4 3M762 628l4 3M790 609l4 3M768 598l4 3M773 614l4 3M809 574l4 3M720 593l4 3M725 548l4 3M751 568l4 3M754 557l4 3M746 561l4 3M758 550l4 3M739 568l4 3" stroke="#80ff80" stroke-width="2.4"/><path d="M718 612l4 3M721 614l4 3M763 645l4 3M726 615l4 3M747 643l4 3M827 528l4 3M711 650l4 3M702 635l4 3M732 614l4 3M744 655l4 3M739 645l4 3" stroke="#05f" stroke-width="2.4"/><path d="M708 694h0M696 661h0M694 647h0M700 668h0" stroke="#ff0" stroke-width="7"/><path d="M756 688h0M763 511h0M812 690h0" stroke="#002aff" stroke-width="7"/><path d="M704 697h0" stroke="#ffd500" stroke-width="7"/><path d="M807 689h0M805 684h0M803 694h0" stroke="#00d4ff" stroke-width="7"/><path d="M837 501h0M783 694h0M736 510h0M798 697h0M818 682h0M788 692h0M758 697h0" stroke="#0080ff" stroke-width="7"/><path d="M847 511h0" stroke="#80ff80" stroke-width="7"/><path d="M703 674h0" stroke="#ff2a00" stroke-width="7"/><path d="M738 537h0M737 525h0" stroke="#800000" stroke-width="7"/><path d="M737 543h0M704 662h0" stroke="#f00" stroke-width="7"/><path d="M702 646h0" stroke="#ff8000" stroke-width="7"/><path d="M835 495h0" stroke="#af5" stroke-width="7"/><path d="M695 676h0M707 685h0M764 691h0M745 694h0M758 691h0M727 532h0M753 688h0M774 690h0M764 513h0M721 691h0" stroke="#00f" stroke-width="7"/><path d="M810 687h0M820 688h0" stroke="#2bffd4" stroke-width="7"/><path d="M707 649h0M710 698h0M702 693h0M706 664h0M707 656h0M708 701h0M697 667h0" stroke="#fa0" stroke-width="7"/><path d="M700 649h0M698 670h0" stroke="#f50" stroke-width="7"/><path d="M693 696h0" stroke="#a00" stroke-width="7"/><path d="M787 700h0M730 516h0M729 540h0M773 694h0M732 528h0M786 691h0M754 691h0M703 679h0M746 689h0M754 697h0M742 510h0M731 525h0M739 700h0M697 685h0M730 532h0" stroke="#0000d5" stroke-width="7"/><path d="M714 691h0M766 695h0M746 510h0" stroke="#05f" stroke-width="7"/><path d="M735 537h0" stroke="#d50000" stroke-width="7"/><path d="M748 697h0M775 696h0M727 543h0M759 700h0M770 688h0M766 699h0M693 679h0M834 505h0M737 697h0" stroke="#000080" stroke-width="7"/><path d="M846 520h0" stroke="#5fa" stroke-width="7"/><path d="M807 693h0M848 517h0M850 514h0M809 697h0M838 493h0" stroke="#0af" stroke-width="7"/><path d="M845 517h0M751 514h0M850 519h0" stroke="#0ff" stroke-width="7"/><path d="M729 534h0M759 694h0M770 694h0M786 694h0M784 698h0M749 695h0M813 685h0M779 694h0M727 537h0" stroke="#00a" stroke-width="7"/><path d="M805 691h0" stroke="#0ff" stroke-width="7"/><path d="M696 649h0" stroke="#f50" stroke-width="7"/><path d="M734 531h0M736 528h0M737 532h0" stroke="#800000" stroke-width="7"/><path d="M734 697h0M816 685h0M819 685h0" stroke="#05f" stroke-width="7"/><path d="M700 685h0M761 507h0M833 513h0M718 700h0M700 679h0M786 688h0M722 694h0M778 691h0M751 508h0" stroke="#00a" stroke-width="7"/><path d="M699 656h0M702 658h0M695 699h0" stroke="#ffd500" stroke-width="7"/><path d="M702 677h0M739 511h0M790 689h0M762 691h0M755 507h0M714 697h0M707 679h0M793 699h0M703 684h0M716 697h0M792 691h0M750 700h0M745 696h0M763 700h0M793 688h0M761 514h0M773 700h0M761 697h0M735 508h0" stroke="#000080" stroke-width="7"/><path d="M697 691h0M707 697h0M692 700h0M696 697h0M692 694h0M693 667h0" stroke="#fa0" stroke-width="7"/><path d="M736 534h0" stroke="#f00" stroke-width="7"/><path d="M744 691h0M730 537h0M740 513h0M778 697h0M776 700h0" stroke="#00f" stroke-width="7"/><path d="M752 698h0M729 522h0M720 697h0M737 513h0M741 691h0M705 682h0M781 696h0M783 700h0M777 694h0" stroke="#0000d5" stroke-width="7"/><path d="M849 508h0M822 685h0M800 688h0M813 682h0M814 688h0M821 682h0" stroke="#00d4ff" stroke-width="7"/><path d="M704 653h0M694 694h0" stroke="#ff0" stroke-width="7"/><path d="M830 511h0" stroke="#af5" stroke-width="7"/><path d="M792 697h0M839 496h0M734 514h0M832 496h0M744 514h0" stroke="#0080ff" stroke-width="7"/><path d="M696 673h0M695 659h0M699 665h0" stroke="#d5ff2a" stroke-width="7"/><path d="M701 691h0" stroke="#ff2a00" stroke-width="7"/><path d="M804 688h0M831 516h0M749 510h0M756 510h0" stroke="#0af" stroke-width="7"/><path d="M734 543h0" stroke="#d50000" stroke-width="7"/><path d="M730 528h0M780 699h0M698 676h0M806 697h0" stroke="#002aff" stroke-width="7"/><path d="M818 688h0" stroke="#2bffd4" stroke-width="7"/><path d="M690 697h0M693 674h0M710 692h0" stroke="#ff8000" stroke-width="7"/><path d="M801 691h0M847 508h0M832 508h0" stroke="#5fa" stroke-width="7"/><path d="M736 539h0M826 682h0M824 695h0" stroke="#800000" stroke-width="7"/><path d="M800 695h0" stroke="#05f" stroke-width="7"/><path d="M798 692h0" stroke="#80ff80" stroke-width="7"/><path d="M732 540h0M750 688h0M705 676h0M784 688h0M752 700h0M791 630h0M819 635h0M781 640h0M770 666h0M764 672h0" stroke="#00a" stroke-width="7"/><path d="M707 667h0M690 691h0" stroke="#ff8000" stroke-width="7"/><path d="M777 688h0M838 498h0M759 511h0M738 691h0M731 543h0M752 511h0M752 691h0M727 519h0M743 688h0M816 691h0" stroke="#002aff" stroke-width="7"/><path d="M736 699h0M781 691h0M811 694h0" stroke="#0080ff" stroke-width="7"/><path d="M831 504h0M829 514h0M849 497h0" stroke="#2bffd4" stroke-width="7"/><path d="M732 523h0M830 507h0M695 683h0M736 694h0M741 697h0M718 694h0M791 694h0M757 500h0M769 494h0M803 638h0M808 637h0M827 632h0" stroke="#0000d5" stroke-width="7"/><path d="M802 697h0M834 493h0" stroke="#5fa" stroke-width="7"/><path d="M819 691h0M823 679h0" stroke="#0ff" stroke-width="7"/><path d="M814 693h0M803 685h0M843 520h0M851 522h0M777 691h0" stroke="#0af" stroke-width="7"/><path d="M702 700h0M703 691h0M695 664h0M702 664h0M759 666h0M761 678h0" stroke="#ff0" stroke-width="7"/><path d="M706 659h0M694 649h0M703 655h0M760 503h0M796 631h0" stroke="#fa0" stroke-width="7"/><path d="M846 514h0M748 514h0M729 528h0M835 630h0M839 629h0" stroke="#00d4ff" stroke-width="7"/><path d="M743 694h0M746 700h0M728 700h0M698 683h0M724 691h0M748 691h0M726 694h0M753 694h0M789 696h0M739 688h0M763 688h0" stroke="#000080" stroke-width="7"/><path d="M706 695h0M705 700h0M698 700h0M701 696h0M706 646h0" stroke="#f50" stroke-width="7"/><path d="M745 698h0" stroke="#af5" stroke-width="7"/><path d="M814 673h0M800 698h0" stroke="#f00" stroke-width="7"/><path d="M698 694h0" stroke="#ffd500" stroke-width="7"/><path d="M744 508h0M715 693h0M727 525h0M741 508h0" stroke="#00f" stroke-width="7"/></g>
<use href="#bd" transform="translate(421.00,390.00) scale(1.0000,1.0000)"/>
<text class="t" x="567.2" y="501.7">48<tspan class="d" x="586.3" y="495.5" letter-spacing="0">° </tspan><tspan x="596.3" y="501.7">N</tspan></text>
<text class="t" x="567.2" y="520.7">46<tspan class="d" x="586.3" y="514.6" letter-spacing="0">° </tspan><tspan x="596.3" y="520.7">N</tspan></text>
<text class="t" x="567.2" y="537.7">44<tspan class="d" x="586.3" y="531.3" letter-spacing="0">° </tspan><tspan x="596.3" y="537.7">N</tspan></text>
<text class="t" x="567.2" y="555.4">42<tspan class="d" x="586.3" y="549.5" letter-spacing="0">° </tspan><tspan x="596.3" y="555.4">N</tspan></text>
<text class="t" x="567.2" y="572.3">40<tspan class="d" x="586.3" y="566.6" letter-spacing="0">° </tspan><tspan x="596.3" y="572.3">N</tspan></text>
<text class="t" x="567.2" y="587.7">38<tspan class="d" x="586.3" y="581.6" letter-spacing="0">° </tspan><tspan x="596.3" y="587.7">N</tspan></text>
<text class="t" x="567.2" y="603.7">36<tspan class="d" x="586.3" y="597.5" letter-spacing="0">° </tspan><tspan x="596.3" y="603.7">N</tspan></text>
<text class="t" x="567.2" y="618.7">34<tspan class="d" x="586.3" y="612.4" letter-spacing="0">° </tspan><tspan x="596.3" y="618.7">N</tspan></text>
<text class="t" x="567.2" y="634.7">32<tspan class="d" x="586.3" y="629.1" letter-spacing="0">° </tspan><tspan x="596.3" y="634.7">N</tspan></text>
<text class="t" x="567.2" y="649.7">30<tspan class="d" x="586.3" y="643.5" letter-spacing="0">° </tspan><tspan x="596.3" y="649.7">N</tspan></text>
<text class="t" x="567.2" y="662.3">28<tspan class="d" x="586.3" y="656.1" letter-spacing="0">° </tspan><tspan x="596.3" y="662.3">N</tspan></text>
<text class="t" x="567.2" y="676.6">26<tspan class="d" x="586.3" y="670.5" letter-spacing="0">° </tspan><tspan x="596.3" y="676.6">N</tspan></text>
<text class="t" x="567.2" y="691.7">24<tspan class="d" x="586.3" y="685.3" letter-spacing="0">° </tspan><tspan x="596.3" y="691.7">N</tspan></text>
<text class="t" x="567.2" y="703.7">22<tspan class="d" x="586.3" y="697.5" letter-spacing="0">° </tspan><tspan x="596.3" y="703.7">N</tspan></text>
<text class="t" x="636.3" y="467.0">100<tspan class="d" x="663.1" y="459.6">° </tspan><tspan x="673.4" y="467.0">W</tspan></text>
<text class="t" x="705.1" y="467.0">90<tspan class="d" x="723.3" y="459.6">° </tspan><tspan x="734.5" y="467.0">W</tspan></text>
<text class="t" x="769.0" y="467.0">80<tspan class="d" x="788.2" y="459.6">° </tspan><tspan x="798.5" y="467.0">W</tspan></text>
<text class="t" x="832.5" y="467.0">70<tspan class="d" x="850.7" y="459.6">° </tspan><tspan x="861.5" y="467.0">W</tspan></text>
<rect x="862.1" y="485.2" width="23.7" height="215.5" fill="url(#jet)"/>
<rect x="862.6" y="485.7" width="22.7" height="214.5" fill="none" stroke="#000" stroke-opacity="0.85" stroke-width="1"/>
<text class="c" x="894.0" y="492.7">2</text>
<text class="c" x="894.0" y="545.8">1</text>
<path d="M885.8 538.3h-3" stroke="#111" stroke-width="1"/>
<text class="c" x="894.0" y="599.4">0</text>
<path d="M885.8 591.9h-3" stroke="#111" stroke-width="1"/>
<text class="c" x="894.1" y="653.3">-<tspan dx="1.3">1</tspan></text>
<path d="M885.8 645.8h-3" stroke="#111" stroke-width="1"/>
<text class="c" x="894.1" y="706.4">-<tspan dx="1.3">2</tspan></text>
<path d="M885.8 698.9h-3" stroke="#111" stroke-width="1"/>
<text class="x" x="729.1" y="730.9" text-anchor="middle">SAT<tspan dx="0.8">-</tspan><tspan dx="1.4">RAP 700 hPa Temp (K)</tspan></text>
</g>
<g>
<rect x="1037.5" y="484.5" width="235.0" height="216.0" fill="#fff" stroke="#1a1a1a" stroke-width="1" shape-rendering="crispEdges"/>
<g fill="none" stroke-linecap="round"><path d="M1247 623h0M1260 606h0M1254 576h0M1191 634h0M1218 594h0M1184 630h0M1206 599h0M1188 617h0M1231 584h0M1256 588h0M1204 620h0M1264 509h0M1250 539h0M1118 656h0M1246 600h0M1239 575h0M1205 618h0M1119 653h0M1256 599h0M1217 596h0M1136 664h0M1259 593h0M1235 542h0M1149 656h0M1163 655h0M1268 561h0M1229 539h0M1202 581h0M1218 599h0M1138 668h0M1122 648h0M1218 581h0M1237 578h0M1195 616h0M1248 577h0M1201 610h0M1260 610h0M1202 576h0M1238 590h0M1236 605h0M1183 620h0M1223 601h0M1139 656h0M1187 609h0" stroke="#80ff80" stroke-width="6.6"/><path d="M1207 621h0M1262 614h0M1243 617h0M1253 623h0M1266 618h0M1161 664h0M1177 671h0M1170 647h0M1163 675h0M1166 674h0M1215 617h0M1190 650h0M1157 665h0M1179 668h0M1268 555h0M1124 645h0M1239 622h0M1157 647h0M1153 662h0" stroke="#0af" stroke-width="6.6"/><path d="M1178 516h0M1202 545h0M1186 494h0M1256 539h0M1182 551h0M1224 525h0M1179 554h0M1252 527h0M1243 516h0M1175 554h0M1185 569h0M1218 486h0M1188 551h0M1237 488h0M1186 536h0M1156 560h0M1139 617h0M1145 561h0M1229 510h0M1135 591h0M1253 533h0M1143 629h0M1168 540h0M1272 531h0M1124 626h0M1171 552h0M1122 618h0M1151 604h0M1204 506h0M1222 515h0M1227 518h0M1147 563h0M1149 579h0M1125 638h0M1165 564h0M1215 527h0M1173 524h0M1137 617h0M1160 557h0M1183 525h0M1153 623h0M1178 569h0M1181 533h0M1180 521h0M1195 515h0M1155 578h0M1219 498h0M1171 521h0M1197 518h0M1272 603h0M1164 594h0M1214 488h0M1235 512h0M1188 498h0M1243 498h0M1260 491h0M1200 506h0M1211 512h0M1191 575h0M1153 605h0M1181 527h0M1169 531h0M1236 503h0M1184 540h0M1233 509h0M1133 581h0M1235 522h0M1171 562h0M1223 542h0M1151 587h0M1142 590h0M1174 516h0M1212 509h0M1154 580h0M1174 521h0M1146 620h0M1188 521h0M1198 491h0M1156 590h0M1221 531h0M1221 541h0M1189 543h0M1195 498h0M1265 548h0M1134 599h0M1195 641h0M1241 483h0M1201 489h0M1143 587h0M1191 503h0M1263 545h0M1184 515h0M1174 551h0M1253 539h0M1127 596h0M1212 521h0M1222 509h0M1136 584h0M1251 518h0M1212 534h0M1163 537h0M1149 632h0M1156 620h0M1142 585h0M1202 558h0M1150 624h0M1169 554h0M1147 634h0M1156 566h0M1224 519h0M1212 527h0M1240 503h0M1134 625h0M1271 534h0M1154 558h0M1187 567h0M1159 621h0M1230 617h0" stroke="#f00" stroke-width="6.6"/><path d="M1213 621h0M1163 669h0M1193 656h0M1172 668h0M1221 627h0M1179 662h0M1192 653h0M1188 647h0M1267 556h0M1165 665h0M1167 647h0M1222 611h0" stroke="#0080ff" stroke-width="6.6"/><path d="M1221 488h0M1230 524h0M1265 524h0M1200 512h0M1272 524h0M1230 507h0M1162 548h0M1166 531h0M1148 554h0M1140 569h0M1135 566h0M1158 551h0M1176 560h0M1220 495h0M1224 494h0M1202 522h0M1191 527h0M1231 501h0M1139 596h0M1244 513h0M1215 491h0M1247 500h0M1189 524h0M1272 542h0M1246 504h0M1235 506h0M1202 539h0M1259 542h0M1247 506h0M1217 494h0M1133 563h0" stroke="#800000" stroke-width="6.6"/><path d="M1221 602h0M1200 608h0M1166 656h0M1125 674h0M1182 632h0M1248 596h0M1262 608h0M1130 671h0M1222 599h0M1190 620h0M1272 566h0M1233 587h0M1198 612h0M1254 617h0M1235 596h0M1121 673h0M1142 673h0M1250 623h0M1202 593h0M1261 512h0M1248 615h0M1165 650h0M1245 602h0M1247 606h0M1143 671h0M1192 623h0M1158 653h0M1126 671h0M1230 542h0M1239 604h0M1123 660h0M1252 578h0M1203 614h0M1151 664h0" stroke="#5fa" stroke-width="6.6"/><path d="M1185 653h0M1215 629h0M1173 673h0M1217 626h0M1157 641h0M1186 656h0M1176 673h0M1210 626h0M1179 673h0" stroke="#00f" stroke-width="6.6"/><path d="M1198 593h0M1172 627h0M1246 534h0M1175 548h0M1188 659h0M1258 507h0M1267 599h0M1225 582h0M1219 575h0M1260 575h0M1226 540h0M1241 596h0M1270 582h0M1252 531h0M1219 551h0M1167 630h0M1165 632h0M1171 593h0M1197 627h0M1157 593h0M1187 572h0M1157 623h0M1247 530h0M1218 579h0M1231 548h0M1181 660h0M1163 638h0M1242 584h0M1136 671h0M1212 605h0M1259 509h0M1130 659h0M1251 524h0M1215 546h0M1227 549h0M1228 551h0M1245 542h0M1265 506h0M1207 608h0M1217 548h0M1233 557h0M1253 594h0M1184 563h0M1252 572h0M1214 566h0M1271 488h0M1243 533h0M1171 606h0M1170 608h0M1248 572h0M1222 569h0M1210 602h0M1242 599h0M1266 512h0M1188 605h0M1195 552h0M1216 555h0M1229 558h0M1157 635h0M1220 608h0M1270 612h0M1210 573h0M1199 599h0M1187 596h0M1157 599h0M1164 635h0M1144 647h0M1216 611h0M1252 542h0" stroke="#ffd500" stroke-width="6.6"/><path d="M1177 599h0M1175 594h0M1169 621h0M1174 582h0M1162 632h0M1229 485h0M1176 585h0M1227 555h0M1192 539h0M1163 614h0M1143 623h0M1173 614h0M1163 617h0M1209 551h0M1166 638h0M1190 560h0M1196 603h0M1211 614h0M1246 563h0M1144 599h0M1161 605h0M1182 588h0M1135 573h0M1202 676h0M1273 594h0M1210 566h0M1272 596h0M1249 581h0M1275 584h0M1189 554h0M1157 618h0M1174 618h0M1159 613h0M1186 662h0M1195 582h0M1131 572h0M1133 575h0M1162 609h0M1206 491h0M1258 519h0M1148 593h0M1174 545h0M1239 570h0M1183 662h0M1202 569h0M1239 527h0M1242 587h0M1136 633h0M1234 561h0M1192 588h0M1211 497h0M1138 577h0M1162 602h0M1176 595h0M1195 587h0M1197 662h0M1195 563h0M1226 569h0M1191 677h0M1255 518h0M1194 668h0M1196 536h0M1265 489h0M1147 599h0" stroke="#ff8000" stroke-width="6.6"/><path d="M1228 569h0M1238 596h0M1125 661h0M1240 548h0M1182 612h0M1178 617h0M1136 647h0M1182 608h0M1211 575h0M1142 662h0M1217 573h0M1222 576h0M1253 606h0M1123 665h0M1165 640h0M1242 557h0M1246 587h0M1126 647h0M1126 665h0M1150 653h0M1187 631h0M1204 602h0M1253 588h0M1144 664h0M1184 641h0M1262 518h0M1213 596h0M1270 599h0M1265 590h0M1269 564h0M1216 585h0M1235 572h0M1187 601h0M1243 563h0M1216 570h0M1132 662h0M1188 628h0M1209 605h0M1188 587h0M1239 551h0M1136 658h0M1138 674h0M1241 590h0M1244 589h0M1212 558h0M1262 596h0M1241 573h0M1229 575h0M1275 560h0M1236 557h0M1180 608h0M1135 650h0M1267 605h0M1181 581h0" stroke="#ff0" stroke-width="6.6"/><path d="M1191 510h0M1160 570h0M1179 530h0M1182 540h0M1253 485h0M1130 581h0M1263 521h0M1226 521h0M1242 503h0M1206 507h0M1145 633h0M1219 492h0M1161 516h0M1178 563h0M1125 632h0M1190 668h0M1152 554h0M1264 542h0M1131 620h0M1213 513h0M1189 488h0M1228 620h0M1223 507h0M1179 566h0M1203 524h0M1167 533h0M1229 491h0M1201 536h0M1137 569h0M1148 638h0M1142 567h0M1233 503h0M1136 587h0M1175 563h0M1245 497h0M1188 516h0M1203 554h0M1252 546h0M1198 521h0M1189 518h0M1127 582h0M1271 540h0M1152 548h0M1225 504h0M1168 569h0M1221 524h0M1202 551h0M1242 485h0M1138 584h0M1190 513h0M1198 515h0M1131 584h0M1204 527h0M1222 491h0M1259 537h0M1246 510h0M1216 503h0M1230 504h0M1156 555h0" stroke="#a00" stroke-width="6.6"/><path d="M1260 563h0M1184 658h0M1212 581h0M1198 677h0M1190 597h0M1195 605h0M1266 581h0M1267 515h0M1168 635h0M1196 668h0M1224 548h0M1257 564h0M1210 560h0M1259 500h0M1190 591h0M1233 569h0M1161 630h0M1197 591h0M1262 506h0M1145 661h0M1211 599h0M1207 560h0M1171 612h0M1258 566h0M1240 598h0M1214 543h0M1209 503h0M1274 582h0M1194 599h0M1182 668h0M1177 633h0M1173 596h0M1232 563h0M1162 578h0M1191 557h0M1231 537h0M1172 608h0M1184 560h0M1236 533h0M1188 576h0M1183 572h0M1192 552h0M1255 567h0M1169 637h0M1228 566h0M1198 606h0M1173 637h0M1230 545h0M1244 554h0M1186 590h0M1244 524h0M1179 578h0M1196 584h0M1212 552h0M1231 578h0M1179 614h0M1222 539h0M1247 590h0M1214 548h0M1223 580h0M1211 608h0M1254 609h0M1256 557h0M1165 614h0M1226 563h0M1192 563h0M1272 590h0M1158 627h0M1208 564h0" stroke="#fa0" stroke-width="6.6"/><path d="M1184 644h0M1170 674h0M1166 661h0M1173 643h0M1171 666h0M1164 671h0M1118 644h0M1169 662h0M1180 656h0" stroke="#002aff" stroke-width="6.6"/><path d="M1241 609h0M1203 596h0M1179 638h0M1217 566h0M1236 587h0M1177 629h0M1180 632h0M1262 585h0M1257 614h0M1250 618h0M1255 584h0M1123 671h0M1252 602h0M1154 672h0M1266 623h0M1241 603h0M1260 587h0M1263 558h0M1275 621h0M1200 626h0M1134 644h0M1182 638h0M1150 647h0M1129 641h0M1270 623h0M1272 620h0M1220 596h0M1173 656h0" stroke="#2bffd4" stroke-width="6.6"/><path d="M1128 656h0M1190 608h0M1156 656h0M1241 537h0M1164 654h0M1263 498h0M1141 656h0M1258 590h0M1205 605h0M1205 611h0M1262 602h0M1219 570h0M1194 623h0M1270 575h0M1265 578h0M1263 587h0M1195 677h0M1178 611h0M1207 615h0M1264 566h0M1206 573h0M1239 587h0M1202 588h0M1194 609h0M1248 548h0M1234 584h0M1232 581h0M1252 536h0M1145 650h0M1126 658h0M1268 584h0M1122 650h0M1246 576h0M1184 581h0M1196 638h0M1183 614h0M1134 665h0M1133 659h0M1197 633h0M1212 570h0M1251 595h0M1185 617h0M1194 635h0M1121 655h0M1171 630h0M1227 591h0M1143 654h0M1255 578h0M1266 587h0" stroke="#af5" stroke-width="6.6"/><path d="M1263 594h0M1240 533h0M1183 536h0M1179 596h0M1275 608h0M1202 485h0M1189 640h0M1172 518h0M1160 581h0M1202 563h0M1169 590h0M1187 554h0M1148 590h0M1136 612h0M1144 616h0M1264 596h0M1197 554h0M1209 533h0M1249 587h0M1194 602h0M1210 501h0M1204 566h0M1166 627h0M1169 536h0M1132 608h0M1130 623h0M1172 585h0M1255 537h0M1138 602h0M1128 608h0M1228 533h0M1149 572h0M1157 581h0M1236 569h0M1255 495h0M1147 605h0M1231 488h0M1204 494h0M1172 542h0M1173 590h0M1274 599h0M1181 665h0M1256 497h0M1152 638h0M1192 582h0M1145 590h0M1244 566h0M1223 617h0M1184 491h0M1177 614h0M1198 569h0M1129 572h0M1195 533h0M1142 620h0M1123 635h0M1187 557h0M1143 606h0M1147 587h0M1189 567h0M1178 593h0M1209 485h0M1271 605h0M1222 557h0M1178 545h0M1266 593h0M1256 569h0M1164 606h0M1195 539h0M1181 557h0M1171 600h0M1181 570h0M1272 608h0M1198 551h0M1198 587h0M1167 516h0M1218 557h0" stroke="#f50" stroke-width="6.6"/><path d="M1238 620h0M1146 677h0M1174 671h0M1174 653h0M1164 677h0M1154 665h0M1149 644h0M1186 644h0M1170 668h0M1183 650h0M1160 647h0M1168 665h0" stroke="#05f" stroke-width="6.6"/><path d="M1212 629h0M1144 677h0" stroke="#000080" stroke-width="6.6"/><path d="M1232 623h0M1270 617h0M1176 662h0M1237 608h0M1205 622h0M1268 615h0M1234 590h0M1159 661h0M1152 668h0M1142 645h0M1159 645h0M1239 617h0M1234 620h0M1173 650h0M1209 617h0M1154 676h0" stroke="#00d4ff" stroke-width="6.6"/><path d="M1179 626h0M1260 599h0M1234 626h0M1247 617h0M1268 620h0M1156 674h0M1138 643h0M1152 674h0M1185 623h0M1254 619h0M1236 593h0M1151 677h0M1156 662h0M1265 560h0M1203 625h0M1270 558h0" stroke="#0ff" stroke-width="6.6"/><path d="M1264 599h0M1147 647h0M1145 655h0M1172 548h0M1208 587h0M1219 588h0M1140 647h0M1187 626h0M1215 599h0M1229 593h0M1188 599h0M1264 584h0M1178 623h0M1211 548h0M1274 612h0M1213 563h0M1231 591h0M1186 585h0M1207 603h0M1189 584h0M1225 575h0M1267 564h0M1220 579h0M1254 572h0M1203 573h0M1235 551h0M1223 572h0M1138 650h0M1159 639h0M1128 675h0M1208 581h0M1227 596h0M1125 667h0M1268 489h0M1234 578h0M1260 503h0M1213 602h0M1214 591h0M1174 640h0M1257 593h0M1222 587h0M1265 572h0M1216 592h0M1255 590h0M1262 500h0M1191 618h0M1250 575h0M1214 607h0M1210 554h0M1236 540h0M1121 662h0M1244 578h0M1213 578h0M1136 654h0M1254 582h0M1220 567h0M1205 575h0M1129 665h0M1217 608h0M1245 548h0M1273 563h0M1168 654h0M1246 539h0M1272 561h0M1240 581h0M1209 575h0M1187 614h0M1224 536h0M1216 605h0" stroke="#d5ff2a" stroke-width="6.6"/><path d="M1233 516h0M1204 537h0M1195 521h0M1174 612h0M1255 543h0M1163 530h0M1273 546h0M1253 510h0M1174 539h0M1236 485h0M1168 563h0M1237 507h0M1154 629h0M1243 521h0M1133 629h0M1152 578h0M1169 573h0M1177 566h0M1266 545h0M1252 483h0M1249 503h0M1130 569h0M1200 531h0M1143 582h0M1154 564h0M1210 488h0M1140 582h0M1234 524h0M1196 488h0M1145 572h0M1210 494h0M1219 522h0M1218 503h0M1262 536h0M1237 495h0M1147 623h0M1193 512h0M1222 527h0M1163 543h0M1199 668h0M1252 512h0M1139 566h0M1151 557h0M1224 513h0M1224 615h0M1153 587h0M1249 491h0M1249 515h0M1256 527h0M1164 527h0M1220 513h0M1144 557h0M1171 516h0M1132 615h0M1136 629h0M1136 599h0M1152 566h0M1157 557h0M1194 485h0M1159 554h0M1205 545h0M1152 608h0M1149 560h0M1143 569h0M1215 532h0M1202 509h0M1138 572h0M1230 521h0M1203 518h0M1139 560h0M1262 548h0M1252 521h0M1230 519h0M1239 509h0M1195 575h0M1219 527h0M1165 566h0M1209 522h0M1140 563h0M1249 569h0M1166 549h0M1130 630h0M1205 485h0M1167 527h0M1241 506h0M1129 584h0M1149 626h0M1151 560h0M1192 491h0M1142 554h0M1242 489h0" stroke="#d50000" stroke-width="6.6"/><path d="M1170 582h0M1171 533h0M1176 530h0M1261 489h0M1125 614h0M1147 612h0M1147 580h0M1205 557h0M1257 530h0M1268 531h0M1131 639h0M1209 498h0M1202 497h0M1165 590h0M1183 518h0M1271 584h0M1138 608h0M1123 610h0M1188 563h0M1153 632h0M1135 620h0M1210 524h0M1203 560h0M1217 531h0M1273 587h0M1172 530h0M1139 621h0M1186 518h0M1162 590h0M1183 596h0M1144 611h0M1135 602h0M1230 512h0M1169 602h0M1273 605h0M1161 611h0M1200 500h0M1257 491h0M1157 604h0M1157 630h0M1243 509h0M1125 620h0M1193 674h0M1139 626h0M1173 578h0M1184 665h0M1222 534h0M1149 615h0M1132 590h0M1128 590h0M1176 590h0M1247 516h0M1266 534h0M1164 539h0M1193 543h0M1225 557h0M1169 577h0M1254 488h0M1165 584h0M1139 636h0M1184 551h0M1140 623h0M1142 579h0M1193 578h0M1147 570h0M1162 518h0M1211 519h0M1140 611h0M1152 596h0M1193 572h0M1214 537h0M1140 604h0M1195 527h0M1223 530h0M1219 534h0M1147 617h0M1204 513h0M1171 557h0M1155 572h0M1134 593h0M1138 632h0M1232 617h0M1179 518h0M1248 560h0M1172 536h0M1215 515h0M1206 500h0M1234 488h0M1135 608h0M1167 581h0M1207 494h0M1128 614h0M1154 599h0M1243 492h0M1232 491h0M1127 599h0M1130 593h0M1194 536h0M1129 639h0M1176 573h0M1187 534h0M1197 525h0M1139 614h0M1127 587h0" stroke="#ff2a00" stroke-width="6.6"/><path d="M1219 623h0M1156 643h0M1187 653h0" stroke="#00f" stroke-width="6.6"/><path d="M1153 659h0M1181 634h0M1141 641h0M1263 617h0M1174 665h0M1245 620h0M1164 647h0M1193 644h0M1146 641h0M1162 650h0M1238 626h0M1274 617h0M1179 650h0M1132 644h0M1212 618h0M1260 623h0M1238 614h0M1181 653h0M1240 615h0M1263 623h0M1145 644h0M1152 650h0" stroke="#00d4ff" stroke-width="6.6"/><path d="M1261 621h0M1146 674h0M1230 623h0M1244 615h0M1243 604h0M1129 651h0M1186 621h0M1160 659h0M1130 653h0M1161 677h0M1181 648h0M1169 656h0M1201 622h0M1183 626h0" stroke="#2bffd4" stroke-width="6.6"/><path d="M1269 542h0M1161 551h0M1132 566h0M1237 512h0M1256 546h0M1202 527h0M1247 485h0M1221 506h0M1164 551h0M1247 513h0M1217 489h0M1188 677h0M1200 519h0M1225 498h0M1201 516h0M1161 575h0M1201 671h0M1244 506h0M1138 591h0M1211 543h0M1227 500h0M1238 518h0M1249 485h0M1207 542h0M1252 492h0M1206 521h0M1150 551h0M1154 551h0M1263 539h0M1178 539h0M1189 674h0M1255 548h0M1162 554h0M1241 525h0M1156 548h0M1193 524h0M1159 549h0M1147 551h0M1149 548h0M1227 494h0M1141 587h0M1187 510h0M1191 671h0M1214 501h0M1145 554h0M1229 497h0M1230 494h0M1191 665h0" stroke="#800000" stroke-width="6.6"/><path d="M1257 575h0M1126 653h0M1206 584h0M1236 576h0M1140 665h0M1204 590h0M1231 627h0M1264 612h0M1255 614h0M1236 581h0M1188 624h0M1260 617h0M1120 658h0M1119 672h0M1132 667h0M1258 584h0M1200 620h0M1202 599h0M1198 635h0M1240 611h0M1181 623h0M1141 669h0M1153 656h0M1153 653h0M1248 621h0M1155 651h0M1265 620h0" stroke="#5fa" stroke-width="6.6"/><path d="M1165 542h0M1161 588h0M1230 515h0M1179 573h0M1227 560h0M1204 548h0M1132 632h0M1136 614h0M1240 501h0M1271 545h0M1233 485h0M1187 570h0M1208 510h0M1236 564h0M1178 557h0M1174 557h0M1129 578h0M1205 510h0M1208 545h0M1190 548h0M1153 575h0M1152 590h0M1205 515h0M1126 634h0M1184 545h0M1166 572h0M1152 585h0M1142 639h0M1168 552h0M1131 596h0M1157 563h0M1268 524h0M1214 524h0M1195 545h0M1149 584h0M1201 504h0M1133 623h0M1179 560h0M1236 491h0M1188 491h0M1274 539h0M1263 528h0M1265 531h0M1164 516h0M1199 533h0M1130 599h0M1255 530h0M1179 548h0M1190 500h0M1184 534h0M1227 530h0M1178 551h0M1166 597h0M1135 596h0M1136 593h0M1126 605h0M1159 608h0M1186 674h0M1169 524h0M1194 531h0M1242 513h0M1151 563h0M1197 542h0M1255 524h0M1210 530h0M1198 509h0M1152 620h0M1186 542h0M1197 530h0M1248 494h0M1191 545h0M1202 665h0M1150 576h0M1171 540h0M1163 557h0M1207 512h0M1200 542h0M1142 613h0M1137 623h0M1145 638h0M1173 560h0M1269 536h0M1132 626h0M1220 501h0M1265 536h0M1260 527h0M1214 507h0M1169 585h0M1246 492h0M1251 506h0M1161 617h0M1243 569h0M1210 536h0M1155 585h0M1228 488h0M1239 516h0M1203 488h0M1249 510h0M1253 503h0M1174 569h0M1212 491h0M1139 576h0M1173 572h0M1194 569h0M1193 567h0M1217 512h0M1251 566h0M1128 626h0M1244 489h0M1259 524h0M1167 599h0M1158 566h0M1223 498h0M1273 528h0M1178 587h0" stroke="#f00" stroke-width="6.6"/><path d="M1225 551h0M1218 563h0M1190 603h0M1256 605h0M1140 671h0M1238 554h0M1227 537h0M1264 575h0M1226 533h0M1233 545h0M1179 620h0M1195 630h0M1261 566h0M1159 656h0M1193 615h0M1243 545h0M1247 569h0M1260 570h0M1202 605h0M1268 578h0M1257 612h0M1200 573h0M1256 504h0M1171 546h0M1213 560h0M1157 658h0M1226 593h0M1263 570h0M1236 599h0M1244 530h0M1230 573h0M1209 557h0M1147 665h0M1235 536h0M1191 600h0M1248 536h0M1239 539h0M1225 586h0M1261 572h0M1134 648h0M1170 632h0M1238 584h0M1243 612h0M1149 662h0M1259 581h0M1243 552h0M1216 587h0M1254 506h0M1198 575h0M1251 548h0M1260 516h0M1133 671h0M1204 608h0M1150 660h0M1172 618h0M1228 583h0M1188 634h0M1197 578h0M1207 589h0M1129 663h0M1180 584h0M1185 588h0M1244 561h0M1229 582h0" stroke="#ff0" stroke-width="6.6"/><path d="M1251 488h0M1195 510h0M1136 563h0M1236 509h0M1207 518h0M1267 539h0M1232 522h0M1193 548h0M1262 543h0M1171 575h0M1222 503h0M1165 569h0M1141 593h0M1234 518h0M1174 527h0M1176 542h0M1173 566h0M1147 557h0M1141 573h0M1248 488h0M1250 521h0M1212 539h0M1223 488h0M1232 527h0M1123 629h0M1230 614h0M1155 609h0M1198 672h0M1176 536h0M1163 566h0M1227 614h0M1258 548h0M1221 614h0M1268 548h0M1198 486h0M1178 521h0M1200 524h0M1228 525h0M1188 671h0M1260 539h0M1145 566h0M1192 522h0M1211 503h0M1206 524h0M1207 488h0M1158 569h0M1191 516h0M1216 510h0M1179 536h0M1164 575h0M1209 539h0M1234 495h0M1224 501h0M1158 572h0M1154 569h0" stroke="#a00" stroke-width="6.6"/><path d="M1174 677h0M1177 676h0" stroke="#000080" stroke-width="6.6"/><path d="M1159 650h0M1174 659h0M1178 664h0M1222 623h0M1175 668h0M1172 662h0M1163 644h0M1174 647h0M1133 677h0M1211 620h0" stroke="#0af" stroke-width="6.6"/><path d="M1175 657h0M1189 644h0M1213 614h0M1258 620h0M1213 623h0M1257 623h0M1161 671h0M1157 671h0M1159 668h0M1265 614h0M1156 669h0M1183 656h0M1165 643h0M1225 625h0M1136 641h0M1158 674h0M1167 659h0M1216 623h0M1241 620h0M1170 659h0M1167 642h0" stroke="#0080ff" stroke-width="6.6"/><path d="M1152 644h0" stroke="#00a" stroke-width="6.6"/><path d="M1244 536h0M1190 632h0M1270 587h0M1210 579h0M1215 575h0M1186 578h0M1132 650h0M1220 572h0M1271 578h0M1264 563h0M1247 557h0M1185 575h0M1238 548h0M1190 626h0M1184 670h0M1197 572h0M1184 498h0M1246 527h0M1159 602h0M1169 548h0M1166 579h0M1173 632h0M1250 551h0M1242 582h0M1186 668h0M1219 539h0M1182 674h0M1214 555h0M1256 509h0M1201 585h0M1248 524h0M1255 513h0M1191 641h0M1182 585h0M1193 632h0M1167 611h0M1209 612h0M1176 578h0M1120 666h0M1197 596h0M1195 557h0M1251 561h0M1270 593h0M1239 546h0M1164 521h0M1258 609h0M1250 533h0M1161 600h0M1193 555h0M1169 614h0M1221 536h0M1188 582h0M1224 578h0M1178 604h0M1194 593h0M1238 536h0M1245 611h0M1216 558h0M1224 584h0M1212 611h0M1235 545h0M1261 560h0M1253 611h0M1242 540h0M1147 659h0M1149 668h0M1181 677h0M1234 555h0M1190 614h0M1269 572h0M1188 593h0M1224 566h0M1227 579h0M1219 611h0M1246 551h0M1223 563h0" stroke="#ffd500" stroke-width="6.6"/><path d="M1244 572h0M1136 674h0M1118 650h0M1184 636h0M1195 612h0M1242 575h0M1257 581h0M1122 668h0M1258 602h0M1206 593h0M1228 625h0M1237 602h0M1201 618h0M1200 596h0M1250 605h0M1210 590h0M1176 626h0M1139 662h0M1267 569h0M1145 667h0M1206 570h0M1209 594h0M1271 569h0M1183 578h0M1260 557h0M1257 512h0M1140 659h0M1184 611h0M1200 590h0M1249 545h0M1229 587h0M1269 589h0M1253 598h0M1211 593h0M1131 655h0M1196 608h0M1204 585h0M1251 614h0M1212 587h0M1125 650h0M1140 653h0" stroke="#af5" stroke-width="6.6"/><path d="M1214 626h0M1151 641h0M1220 620h0M1170 677h0M1184 647h0" stroke="#0000d5" stroke-width="6.6"/><path d="M1164 659h0M1256 617h0M1169 649h0M1178 635h0M1271 572h0M1199 616h0M1274 623h0M1230 621h0M1197 614h0M1252 620h0M1243 623h0M1171 653h0M1178 646h0M1181 629h0M1150 671h0" stroke="#0ff" stroke-width="6.6"/><path d="M1237 560h0M1166 560h0M1149 566h0M1160 623h0M1226 485h0M1191 570h0M1226 510h0M1272 537h0M1188 503h0M1219 515h0M1184 527h0M1205 533h0M1144 576h0M1182 602h0M1184 485h0M1145 584h0M1130 605h0M1184 521h0M1195 503h0M1169 542h0M1159 584h0M1209 569h0M1198 497h0M1228 506h0M1209 515h0M1177 527h0M1130 575h0M1168 558h0M1270 521h0M1154 611h0M1234 500h0M1133 635h0M1136 635h0M1240 519h0M1272 548h0M1148 602h0M1163 620h0M1227 512h0M1239 564h0M1171 569h0M1131 602h0M1249 563h0M1197 500h0M1176 518h0M1151 602h0M1216 485h0M1155 596h0M1217 537h0M1248 553h0M1175 533h0M1203 500h0M1205 503h0M1154 616h0M1123 623h0M1163 626h0M1125 602h0M1214 494h0M1145 627h0M1244 584h0M1124 609h0M1164 545h0M1201 491h0M1126 616h0M1127 623h0M1234 614h0M1263 533h0M1212 486h0M1193 495h0M1187 530h0M1128 620h0M1182 545h0M1212 515h0M1160 563h0M1190 537h0M1141 633h0M1207 536h0M1140 628h0M1130 612h0M1214 519h0M1208 491h0M1181 599h0M1167 593h0M1152 572h0M1146 614h0M1158 560h0M1261 530h0M1133 611h0M1163 596h0M1166 518h0M1187 500h0M1152 626h0M1207 530h0M1198 503h0M1162 561h0M1183 530h0M1151 617h0M1261 524h0M1252 590h0M1212 546h0M1216 521h0M1239 497h0M1189 494h0M1169 596h0M1154 593h0M1144 564h0M1198 665h0M1247 518h0M1223 485h0M1157 576h0M1173 603h0M1184 676h0" stroke="#ff2a00" stroke-width="6.6"/><path d="M1145 609h0M1256 485h0M1171 587h0M1268 602h0M1217 542h0M1207 554h0M1168 618h0M1230 530h0M1239 558h0M1255 500h0M1165 587h0M1164 599h0M1253 569h0M1169 560h0M1146 578h0M1193 662h0M1250 527h0M1177 581h0M1181 575h0M1167 605h0M1193 626h0M1193 560h0M1253 497h0M1263 486h0M1263 515h0M1196 674h0M1176 638h0M1170 626h0M1138 638h0M1165 629h0M1136 575h0M1236 528h0M1193 590h0M1255 596h0M1237 530h0M1233 533h0M1181 593h0M1148 608h0M1187 560h0M1181 562h0M1192 534h0M1154 634h0M1241 530h0M1157 611h0M1275 601h0M1159 596h0M1185 593h0M1175 623h0M1176 602h0M1183 590h0M1234 531h0M1185 503h0M1231 555h0" stroke="#ff8000" stroke-width="6.6"/><path d="M1272 615h0M1200 578h0M1217 602h0M1258 578h0M1149 674h0M1225 596h0M1200 614h0M1268 566h0M1248 542h0M1188 611h0M1225 598h0M1123 653h0M1258 572h0M1198 624h0M1251 608h0M1219 604h0M1128 668h0M1135 668h0M1267 610h0M1125 656h0M1205 581h0M1192 611h0M1128 644h0M1117 668h0M1193 639h0M1273 569h0M1146 670h0M1248 602h0M1193 620h0M1272 554h0M1254 602h0M1120 648h0M1119 674h0M1131 674h0M1196 620h0M1249 599h0M1190 637h0M1191 659h0M1161 653h0" stroke="#80ff80" stroke-width="6.6"/><path d="M1186 650h0M1219 618h0M1169 645h0M1141 677h0M1225 623h0M1171 672h0M1180 645h0M1168 671h0M1165 668h0M1122 644h0M1222 629h0M1133 641h0M1176 650h0M1218 628h0" stroke="#002aff" stroke-width="6.6"/><path d="M1235 497h0M1156 614h0M1151 629h0M1188 528h0M1197 512h0M1164 533h0M1237 566h0M1222 521h0M1205 497h0M1225 618h0M1178 575h0M1150 582h0M1215 498h0M1204 530h0M1240 495h0M1188 665h0M1193 500h0M1163 572h0M1190 530h0M1126 629h0M1204 542h0M1166 555h0M1221 519h0M1149 619h0M1214 530h0M1142 560h0M1226 527h0M1239 492h0M1130 635h0M1249 497h0M1251 500h0M1260 521h0M1204 552h0M1147 630h0M1150 635h0M1179 524h0M1260 545h0M1239 485h0M1194 518h0M1208 527h0M1143 635h0M1226 516h0M1193 488h0M1170 566h0M1133 569h0M1198 545h0M1217 501h0M1192 497h0M1140 599h0M1144 551h0M1137 557h0M1184 542h0M1187 545h0M1135 560h0M1155 626h0M1130 587h0M1247 522h0M1233 497h0M1240 521h0M1198 527h0M1217 507h0M1229 527h0M1226 491h0M1204 539h0M1183 549h0M1186 488h0M1129 632h0M1200 554h0M1176 524h0M1218 510h0M1172 554h0M1224 620h0M1133 587h0M1145 548h0M1180 542h0M1211 506h0M1237 524h0M1192 485h0M1141 597h0M1186 524h0M1129 617h0M1241 567h0M1178 533h0M1166 620h0M1270 527h0M1155 631h0M1251 495h0M1260 533h0M1188 485h0M1253 515h0M1235 516h0M1171 528h0M1128 603h0M1201 533h0M1166 537h0M1133 616h0M1217 525h0M1267 527h0M1140 558h0M1273 534h0M1187 549h0" stroke="#d50000" stroke-width="6.6"/><path d="M1205 563h0M1189 506h0M1176 620h0M1221 554h0M1127 593h0M1261 495h0M1195 671h0M1160 534h0M1135 579h0M1131 578h0M1194 506h0M1256 533h0M1198 539h0M1135 638h0M1150 594h0M1190 573h0M1158 577h0M1137 582h0M1181 516h0M1217 518h0M1180 590h0M1188 539h0M1170 519h0M1145 602h0M1245 518h0M1198 558h0M1127 611h0M1258 494h0M1141 602h0M1151 611h0M1206 565h0M1163 585h0M1125 595h0M1274 551h0M1244 494h0M1197 566h0M1181 672h0M1183 555h0M1195 491h0M1159 632h0M1196 507h0M1144 594h0M1163 623h0M1268 597h0M1151 599h0M1147 575h0M1215 551h0M1165 602h0M1185 605h0M1189 662h0M1200 661h0M1149 595h0M1167 546h0M1142 608h0M1200 560h0M1165 525h0M1153 614h0M1161 593h0M1134 606h0M1183 566h0M1158 587h0M1244 500h0M1144 641h0M1156 637h0M1238 501h0M1168 623h0M1234 566h0M1168 587h0M1168 521h0M1174 587h0M1190 579h0M1155 602h0M1200 494h0M1150 570h0M1174 599h0" stroke="#f50" stroke-width="6.6"/><path d="M1217 620h0M1209 624h0M1162 663h0M1175 644h0M1236 623h0M1236 618h0M1160 642h0M1190 656h0M1167 677h0M1178 653h0M1154 647h0M1217 614h0M1192 646h0M1178 659h0" stroke="#05f" stroke-width="6.6"/><path d="M1171 635h0M1198 563h0M1248 567h0M1241 542h0M1199 567h0M1193 583h0M1230 566h0M1165 581h0M1264 582h0M1224 554h0M1222 546h0M1168 576h0M1241 554h0M1214 572h0M1274 575h0M1185 557h0M1159 590h0M1195 664h0M1174 635h0M1174 605h0M1219 545h0M1206 548h0M1248 584h0M1258 488h0M1268 518h0M1137 605h0M1196 494h0M1252 585h0M1160 635h0M1171 623h0M1145 595h0M1228 542h0M1162 524h0M1172 620h0M1179 602h0M1221 560h0M1225 545h0M1207 578h0M1163 611h0M1259 560h0M1192 606h0M1182 605h0M1246 581h0M1215 563h0M1229 564h0M1198 629h0M1241 560h0M1192 630h0M1239 593h0M1253 564h0M1142 626h0M1196 561h0M1191 593h0M1257 515h0M1174 576h0M1238 542h0M1184 599h0M1200 675h0M1243 528h0M1194 596h0M1200 602h0M1216 539h0M1176 608h0M1260 486h0M1267 574h0M1243 593h0M1224 560h0M1231 561h0" stroke="#fa0" stroke-width="6.6"/><path d="M1205 587h0M1244 597h0M1248 609h0M1264 605h0M1148 653h0M1207 596h0M1241 626h0M1263 503h0M1202 629h0M1246 593h0M1210 596h0M1209 599h0M1221 590h0M1246 545h0M1149 650h0M1265 609h0M1264 500h0M1268 608h0M1181 618h0M1265 602h0M1211 584h0M1165 608h0M1136 655h0M1262 579h0M1249 593h0M1213 584h0M1199 581h0M1234 549h0M1227 572h0M1220 549h0M1175 629h0M1223 590h0M1261 590h0M1215 581h0M1186 638h0M1255 560h0M1232 575h0M1118 661h0M1260 497h0M1233 551h0M1129 646h0M1223 551h0M1154 640h0M1233 540h0M1222 605h0M1273 558h0M1222 593h0M1142 651h0M1204 578h0M1237 572h0M1241 578h0M1245 608h0M1217 590h0M1217 560h0M1133 653h0M1136 662h0M1249 612h0M1259 596h0M1143 660h0M1220 584h0" stroke="#d5ff2a" stroke-width="6.6"/><path d="M1152 671l4 3M1213 560l4 3M1218 538l4 3M1201 667l4 3M1156 604l4 3M1238 588l4 3M1200 672l4 3M1174 581l4 3M1267 610l4 3M1192 580l4 3M1152 612l4 3M1176 524l4 3M1270 563l4 3M1163 578l4 3M1254 512l4 3M1246 538l4 3M1254 504l4 3M1173 614l4 3M1227 586l4 3M1199 564l4 3M1240 537l4 3M1173 596l4 3M1271 607l4 3M1261 495l4 3M1234 570l4 3M1166 606l4 3M1265 488l4 3M1208 599l4 3M1238 527l4 3M1246 609l4 3M1145 664l4 3M1225 511l4 3M1180 581l4 3M1259 508l4 3M1172 608l4 3M1166 583l4 3M1224 566l4 3M1158 516l4 3" stroke="#fa0" stroke-width="2.4"/><path d="M1187 654l4 3M1213 613l4 3M1172 651l4 3M1122 652l4 3M1259 621l4 3M1268 555l4 3M1255 618l4 3M1149 646l4 3" stroke="#0af" stroke-width="2.4"/><path d="M1243 504l4 3M1239 483l4 3M1170 572l4 3M1165 524l4 3M1218 521l4 3M1187 508l4 3M1175 557l4 3M1214 494l4 3M1199 547l4 3M1197 542l4 3M1134 585l4 3M1146 550l4 3M1242 520l4 3M1210 526l4 3M1213 499l4 3M1165 521l4 3M1261 541l4 3M1165 531l4 3M1197 525l4 3M1136 592l4 3M1235 507l4 3M1145 558l4 3M1253 599l4 3M1162 574l4 3M1242 582l4 3M1145 619l4 3M1203 521l4 3M1176 538l4 3M1207 489l4 3M1201 537l4 3M1245 491l4 3M1250 489l4 3M1234 509l4 3M1198 540l4 3M1228 499l4 3M1186 674l4 3M1193 677l4 3M1159 572l4 3" stroke="#800000" stroke-width="2.4"/><path d="M1149 676l4 3M1196 623l4 3M1242 536l4 3M1150 650l4 3M1261 610l4 3M1247 545l4 3M1263 560l4 3M1256 612l4 3M1185 652l4 3M1243 612l4 3" stroke="#0ff" stroke-width="2.4"/><path d="M1234 614l4 3M1131 675l4 3M1258 513l4 3M1253 614l4 3M1124 641l4 3M1238 619l4 3M1264 607l4 3M1265 605l4 3M1216 603l4 3M1167 659l4 3M1185 620l4 3M1244 618l4 3M1212 589l4 3M1249 602l4 3M1216 601l4 3M1208 621l4 3M1254 574l4 3M1253 505l4 3M1255 571l4 3M1118 646l4 3" stroke="#2bffd4" stroke-width="2.4"/><path d="M1185 498l4 3M1262 530l4 3M1162 543l4 3M1135 562l4 3M1182 556l4 3M1261 486l4 3M1192 504l4 3M1233 523l4 3M1171 528l4 3M1125 633l4 3M1238 486l4 3M1180 543l4 3M1150 583l4 3M1223 509l4 3M1247 498l4 3M1250 539l4 3M1133 588l4 3M1157 550l4 3M1171 555l4 3M1238 532l4 3M1196 487l4 3M1239 531l4 3M1180 535l4 3M1252 532l4 3M1175 572l4 3M1176 561l4 3M1245 494l4 3M1206 505l4 3M1185 496l4 3M1206 523l4 3M1197 495l4 3M1184 527l4 3M1218 491l4 3M1159 563l4 3M1229 514l4 3M1164 526l4 3M1211 485l4 3M1201 484l4 3M1186 525l4 3M1253 538l4 3M1215 509l4 3M1177 536l4 3M1202 488l4 3M1187 523l4 3M1177 559l4 3M1234 483l4 3M1207 529l4 3M1148 560l4 3M1159 569l4 3M1148 637l4 3M1150 574l4 3M1223 499l4 3M1224 615l4 3M1251 548l4 3M1155 577l4 3M1226 497l4 3M1151 557l4 3M1138 567l4 3M1129 625l4 3M1256 532l4 3" stroke="#d50000" stroke-width="2.4"/><path d="M1178 551l4 3M1183 576l4 3M1244 574l4 3M1259 498l4 3M1273 620l4 3M1228 591l4 3M1264 578l4 3M1173 605l4 3M1246 532l4 3M1246 579l4 3M1162 635l4 3M1264 568l4 3M1256 517l4 3M1165 602l4 3M1251 486l4 3M1229 546l4 3M1159 624l4 3M1238 603l4 3M1132 668l4 3M1120 662l4 3M1217 552l4 3M1212 544l4 3M1217 587l4 3M1176 541l4 3M1220 556l4 3M1251 507l4 3M1214 605l4 3M1259 574l4 3M1266 603l4 3M1254 559l4 3M1164 581l4 3M1265 597l4 3M1188 608l4 3M1225 534l4 3M1227 533l4 3M1168 587l4 3M1155 613l4 3M1231 544l4 3M1234 594l4 3M1222 564l4 3M1226 596l4 3M1243 559l4 3M1242 608l4 3M1157 603l4 3" stroke="#ffd500" stroke-width="2.4"/><path d="M1219 526l4 3M1205 484l4 3M1225 612l4 3M1139 629l4 3M1221 501l4 3M1218 555l4 3M1131 586l4 3M1246 483l4 3M1195 668l4 3M1250 518l4 3M1199 515l4 3M1196 512l4 3M1241 508l4 3M1194 523l4 3M1219 513l4 3M1189 571l4 3M1145 626l4 3M1225 528l4 3M1172 535l4 3M1220 505l4 3M1238 489l4 3M1136 616l4 3M1181 539l4 3M1196 527l4 3M1163 557l4 3M1157 619l4 3M1156 558l4 3M1193 569l4 3M1197 493l4 3M1270 609l4 3M1138 614l4 3M1270 530l4 3M1134 581l4 3M1167 534l4 3M1167 552l4 3M1183 514l4 3M1164 572l4 3M1169 573l4 3M1139 575l4 3M1233 487l4 3M1229 508l4 3M1231 615l4 3M1165 539l4 3M1159 553l4 3M1194 485l4 3M1271 549l4 3" stroke="#a00" stroke-width="2.4"/><path d="M1171 656l4 3M1253 623l4 3M1122 642l4 3M1244 557l4 3M1242 614l4 3M1157 675l4 3M1178 647l4 3M1177 664l4 3M1168 669l4 3" stroke="#00d4ff" stroke-width="2.4"/><path d="M1167 642l4 3M1170 641l4 3M1181 647l4 3M1151 641l4 3M1269 623l4 3M1204 620l4 3" stroke="#00f" stroke-width="2.4"/><path d="M1187 625l4 3M1123 634l4 3M1241 593l4 3M1146 602l4 3M1238 555l4 3M1189 586l4 3M1131 598l4 3M1143 609l4 3M1218 607l4 3M1171 593l4 3M1194 507l4 3M1187 593l4 3M1168 634l4 3M1192 547l4 3M1242 529l4 3M1177 553l4 3M1165 593l4 3M1127 574l4 3M1187 556l4 3M1140 603l4 3M1178 531l4 3M1173 603l4 3M1230 576l4 3M1194 672l4 3M1165 600l4 3M1194 539l4 3M1222 538l4 3M1171 583l4 3M1211 555l4 3M1186 502l4 3M1205 569l4 3M1144 628l4 3M1190 590l4 3M1230 527l4 3M1247 586l4 3M1237 511l4 3M1198 604l4 3M1239 540l4 3M1244 587l4 3M1194 601l4 3M1208 535l4 3M1215 558l4 3M1251 484l4 3M1159 607l4 3M1256 511l4 3" stroke="#ff8000" stroke-width="2.4"/><path d="M1159 586l4 3M1189 562l4 3M1170 516l4 3M1174 563l4 3M1153 634l4 3M1239 524l4 3M1177 591l4 3M1200 553l4 3M1147 578l4 3M1135 604l4 3M1161 581l4 3M1191 575l4 3M1130 634l4 3M1154 598l4 3M1181 516l4 3M1163 595l4 3M1195 506l4 3M1219 498l4 3M1261 527l4 3M1147 609l4 3M1170 585l4 3M1172 637l4 3M1241 523l4 3M1170 549l4 3M1202 490l4 3M1127 588l4 3M1214 541l4 3M1244 581l4 3M1215 564l4 3M1147 592l4 3M1179 584l4 3M1201 496l4 3M1196 498l4 3M1165 515l4 3M1237 496l4 3M1272 596l4 3M1192 495l4 3M1259 531l4 3M1166 568l4 3M1268 570l4 3M1219 545l4 3M1187 564l4 3" stroke="#f50" stroke-width="2.4"/><path d="M1196 629l4 3M1261 503l4 3M1221 589l4 3M1248 536l4 3M1222 587l4 3M1254 496l4 3M1262 585l4 3M1270 568l4 3M1126 660l4 3M1195 559l4 3M1198 627l4 3M1227 620l4 3M1183 561l4 3M1138 667l4 3M1210 587l4 3M1273 578l4 3M1123 664l4 3M1209 571l4 3M1268 485l4 3M1233 566l4 3M1250 533l4 3M1226 579l4 3M1233 563l4 3M1138 652l4 3M1148 648l4 3M1269 594l4 3M1262 501l4 3M1212 562l4 3M1200 591l4 3M1205 609l4 3M1252 584l4 3M1247 560l4 3M1244 534l4 3M1198 586l4 3M1219 597l4 3" stroke="#ff0" stroke-width="2.4"/><path d="M1164 642l4 3M1190 645l4 3M1216 618l4 3M1150 644l4 3M1157 666l4 3M1157 672l4 3M1159 648l4 3M1176 655l4 3M1162 661l4 3" stroke="#05f" stroke-width="2.4"/><path d="M1178 607l4 3M1143 653l4 3M1232 534l4 3M1261 567l4 3M1229 570l4 3M1191 634l4 3M1258 582l4 3M1179 669l4 3M1218 561l4 3M1191 614l4 3M1116 674l4 3M1256 587l4 3M1261 588l4 3M1136 668l4 3M1186 632l4 3M1131 670l4 3M1180 613l4 3M1202 599l4 3M1136 663l4 3" stroke="#af5" stroke-width="2.4"/><path d="M1178 670l4 3M1155 668l4 3" stroke="#00a" stroke-width="2.4"/><path d="M1207 605l4 3M1239 570l4 3M1264 593l4 3M1181 626l4 3M1253 591l4 3M1234 602l4 3M1195 593l4 3M1182 577l4 3M1125 671l4 3M1222 562l4 3M1238 547l4 3M1181 609l4 3M1137 654l4 3M1161 605l4 3M1248 607l4 3M1195 575l4 3M1211 602l4 3M1244 595l4 3M1137 645l4 3M1126 651l4 3M1220 559l4 3M1248 621l4 3M1218 546l4 3M1261 573l4 3M1210 578l4 3M1218 535l4 3M1271 581l4 3M1198 625l4 3M1270 600l4 3M1191 637l4 3M1268 572l4 3M1139 673l4 3M1247 577l4 3M1201 569l4 3M1159 630l4 3M1145 651l4 3M1224 583l4 3M1263 508l4 3M1223 594l4 3M1212 609l4 3M1141 639l4 3" stroke="#d5ff2a" stroke-width="2.4"/><path d="M1224 621l4 3M1181 649l4 3M1217 624l4 3" stroke="#0000d5" stroke-width="2.4"/><path d="M1211 623l4 3M1145 642l4 3M1160 671l4 3M1184 643l4 3M1216 626l4 3M1167 645l4 3" stroke="#0080ff" stroke-width="2.4"/><path d="M1160 645l4 3M1180 643l4 3M1175 643l4 3M1173 676l4 3" stroke="#000080" stroke-width="2.4"/><path d="M1216 620l4 3M1224 623l4 3M1174 659l4 3M1222 625l4 3M1171 654l4 3M1129 641l4 3" stroke="#002aff" stroke-width="2.4"/><path d="M1245 593l4 3M1237 572l4 3M1238 590l4 3M1139 650l4 3M1126 654l4 3M1244 555l4 3M1205 603l4 3M1215 581l4 3M1203 590l4 3M1200 623l4 3M1263 601l4 3M1247 522l4 3M1259 589l4 3M1202 612l4 3M1260 599l4 3M1192 632l4 3M1214 599l4 3M1242 620l4 3M1139 643l4 3M1204 571l4 3M1128 673l4 3M1266 565l4 3M1259 568l4 3M1253 616l4 3M1250 596l4 3M1148 639l4 3M1272 558l4 3M1189 629l4 3M1236 574l4 3" stroke="#80ff80" stroke-width="2.4"/><path d="M1179 630l4 3M1149 670l4 3M1258 600l4 3M1221 601l4 3M1207 576l4 3M1268 564l4 3M1243 550l4 3M1256 595l4 3M1203 572l4 3M1198 572l4 3M1143 668l4 3M1157 660l4 3M1197 618l4 3M1153 669l4 3M1130 671l4 3M1195 608l4 3M1211 594l4 3M1270 614l4 3" stroke="#5fa" stroke-width="2.4"/><path d="M1211 517l4 3M1226 521l4 3M1139 606l4 3M1194 531l4 3M1232 525l4 3M1250 542l4 3M1125 592l4 3M1143 592l4 3M1240 583l4 3M1227 563l4 3M1138 559l4 3M1218 529l4 3M1218 499l4 3M1143 584l4 3M1185 676l4 3M1230 505l4 3M1227 612l4 3M1255 565l4 3M1174 519l4 3M1269 539l4 3M1191 537l4 3M1180 604l4 3M1184 530l4 3M1211 533l4 3M1126 636l4 3M1122 605l4 3M1181 659l4 3M1154 624l4 3M1236 543l4 3M1129 616l4 3M1185 489l4 3M1185 504l4 3M1181 550l4 3M1167 543l4 3M1170 560l4 3M1235 489l4 3M1153 625l4 3M1170 556l4 3M1235 521l4 3M1164 534l4 3M1184 553l4 3M1207 538l4 3M1263 540l4 3M1141 572l4 3M1121 637l4 3M1188 530l4 3M1185 518l4 3M1232 510l4 3M1161 561l4 3M1254 536l4 3M1243 510l4 3M1133 605l4 3M1140 586l4 3M1215 504l4 3M1148 555l4 3M1220 510l4 3M1144 605l4 3M1175 526l4 3M1133 619l4 3" stroke="#f00" stroke-width="2.4"/><path d="M1253 489l4 3M1237 558l4 3M1190 560l4 3M1147 633l4 3M1186 548l4 3M1216 533l4 3M1170 524l4 3M1191 559l4 3M1180 517l4 3M1144 598l4 3M1142 614l4 3M1134 579l4 3M1189 591l4 3M1142 599l4 3M1266 574l4 3M1193 501l4 3M1125 607l4 3M1211 501l4 3M1134 556l4 3M1186 566l4 3M1188 670l4 3M1180 520l4 3M1197 502l4 3M1137 607l4 3M1185 550l4 3M1153 617l4 3M1146 634l4 3M1220 618l4 3M1145 582l4 3M1182 603l4 3M1190 551l4 3M1188 491l4 3M1136 623l4 3M1237 567l4 3M1123 617l4 3M1215 511l4 3M1194 499l4 3M1224 522l4 3M1178 589l4 3M1150 599l4 3M1140 558l4 3M1148 575l4 3M1228 510l4 3M1222 517l4 3M1140 625l4 3M1168 550l4 3M1243 489l4 3M1144 630l4 3M1198 555l4 3M1160 535l4 3M1165 592l4 3M1179 526l4 3M1222 616l4 3M1155 621l4 3M1182 593l4 3M1250 586l4 3M1224 559l4 3M1182 523l4 3M1187 499l4 3M1212 536l4 3M1204 495l4 3M1177 600l4 3M1184 567l4 3M1144 636l4 3M1245 500l4 3M1151 635l4 3M1186 534l4 3" stroke="#ff2a00" stroke-width="2.4"/><path d="M1235 607l4 3M1260 604l4 3M1181 655l4 3M1180 634l4 3M1252 570l4 3M1189 647l4 3M1239 577l4 3M1235 617l4 3M1163 659l4 3" stroke="#0af" stroke-width="2.4"/><path d="M1201 505l4 3M1141 584l4 3M1125 622l4 3M1135 594l4 3M1269 523l4 3M1208 565l4 3M1191 540l4 3M1227 501l4 3M1236 498l4 3M1133 613l4 3M1255 543l4 3M1205 493l4 3M1143 622l4 3M1191 535l4 3M1230 492l4 3M1146 594l4 3M1188 521l4 3M1260 488l4 3M1184 535l4 3M1166 574l4 3M1124 601l4 3M1128 601l4 3M1248 511l4 3M1139 580l4 3M1188 489l4 3M1218 483l4 3M1154 608l4 3M1122 628l4 3M1249 497l4 3M1129 578l4 3M1206 516l4 3M1200 507l4 3M1227 492l4 3M1227 556l4 3M1131 571l4 3M1162 589l4 3M1140 633l4 3M1168 526l4 3M1267 524l4 3M1216 487l4 3M1155 566l4 3M1151 551l4 3M1213 506l4 3M1221 487l4 3M1167 560l4 3M1137 599l4 3M1192 532l4 3M1234 500l4 3M1176 549l4 3M1186 542l4 3M1256 540l4 3M1265 527l4 3" stroke="#f00" stroke-width="2.4"/><path d="M1135 673l4 3M1218 576l4 3M1211 570l4 3M1123 650l4 3M1199 602l4 3M1235 551l4 3M1252 592l4 3M1221 569l4 3M1225 590l4 3M1194 631l4 3M1246 603l4 3M1215 588l4 3M1187 664l4 3M1227 542l4 3M1186 628l4 3M1134 657l4 3M1198 589l4 3M1121 654l4 3M1135 655l4 3M1191 610l4 3M1233 549l4 3M1177 577l4 3M1215 573l4 3M1121 666l4 3M1262 570l4 3M1238 535l4 3M1196 580l4 3M1201 583l4 3M1182 580l4 3M1115 658l4 3M1125 662l4 3M1198 595l4 3M1128 667l4 3" stroke="#af5" stroke-width="2.4"/><path d="M1151 665l4 3M1160 669l4 3M1118 672l4 3M1173 667l4 3M1178 662l4 3" stroke="#0080ff" stroke-width="2.4"/><path d="M1190 653l4 3M1151 658l4 3M1139 675l4 3M1177 641l4 3M1186 656l4 3" stroke="#002aff" stroke-width="2.4"/><path d="M1194 609l4 3M1163 619l4 3M1189 676l4 3M1236 536l4 3M1181 673l4 3M1208 603l4 3M1247 574l4 3M1137 671l4 3M1208 588l4 3M1224 543l4 3M1196 597l4 3M1237 613l4 3M1236 554l4 3M1132 662l4 3M1167 581l4 3M1148 671l4 3M1264 485l4 3M1233 542l4 3M1269 587l4 3M1257 579l4 3M1183 583l4 3M1234 578l4 3M1268 596l4 3M1190 584l4 3M1180 619l4 3M1164 610l4 3M1129 663l4 3M1240 554l4 3M1198 578l4 3M1216 580l4 3M1207 512l4 3M1134 649l4 3M1210 611l4 3M1258 562l4 3M1156 582l4 3M1256 563l4 3M1266 487l4 3M1176 608l4 3M1212 606l4 3M1169 620l4 3M1115 669l4 3M1170 615l4 3M1271 583l4 3M1171 546l4 3M1183 630l4 3" stroke="#ff0" stroke-width="2.4"/><path d="M1210 564l4 3M1128 598l4 3M1217 584l4 3M1221 542l4 3M1169 617l4 3M1254 498l4 3M1257 494l4 3M1251 610l4 3M1249 610l4 3M1157 594l4 3M1188 599l4 3M1268 602l4 3M1162 629l4 3M1156 636l4 3M1204 501l4 3M1163 633l4 3M1175 516l4 3M1185 598l4 3M1237 581l4 3M1263 584l4 3M1161 614l4 3M1156 596l4 3M1184 623l4 3M1143 662l4 3M1131 652l4 3M1178 598l4 3M1196 535l4 3M1204 562l4 3M1263 563l4 3M1146 658l4 3M1171 622l4 3M1182 562l4 3M1256 486l4 3M1215 563l4 3M1190 665l4 3" stroke="#fa0" stroke-width="2.4"/><path d="M1160 599l4 3M1195 555l4 3M1200 545l4 3M1173 574l4 3M1168 558l4 3M1235 567l4 3M1199 501l4 3M1135 635l4 3M1189 498l4 3M1166 577l4 3M1187 604l4 3M1160 529l4 3M1271 537l4 3M1180 674l4 3M1245 523l4 3M1147 569l4 3M1200 498l4 3M1177 515l4 3M1161 591l4 3M1182 572l4 3M1207 596l4 3M1216 531l4 3M1166 612l4 3M1195 567l4 3M1254 583l4 3M1185 571l4 3M1184 666l4 3M1214 610l4 3M1217 540l4 3M1200 492l4 3M1130 594l4 3M1216 609l4 3M1215 549l4 3M1212 553l4 3M1227 565l4 3M1170 632l4 3M1152 569l4 3M1142 638l4 3M1268 578l4 3M1257 556l4 3M1133 572l4 3M1270 589l4 3M1242 527l4 3" stroke="#ff8000" stroke-width="2.4"/><path d="M1168 602l4 3M1173 612l4 3M1184 590l4 3M1196 504l4 3M1130 608l4 3M1212 547l4 3M1122 625l4 3M1157 588l4 3M1141 570l4 3M1159 584l4 3M1227 547l4 3M1244 525l4 3M1162 566l4 3M1134 596l4 3M1138 637l4 3M1192 594l4 3M1163 587l4 3M1150 589l4 3M1231 489l4 3M1202 511l4 3M1250 562l4 3M1168 518l4 3M1176 602l4 3M1178 522l4 3M1247 530l4 3M1132 651l4 3M1184 670l4 3M1146 611l4 3M1199 509l4 3M1239 597l4 3M1243 519l4 3M1165 625l4 3M1173 619l4 3M1232 556l4 3M1166 589l4 3M1186 532l4 3M1204 532l4 3M1207 567l4 3M1250 503l4 3M1176 588l4 3M1152 619l4 3M1213 520l4 3M1250 565l4 3M1181 588l4 3M1171 523l4 3M1160 622l4 3M1240 568l4 3M1230 529l4 3" stroke="#f50" stroke-width="2.4"/><path d="M1149 660l4 3M1186 618l4 3M1228 540l4 3M1218 593l4 3M1203 611l4 3M1265 614l4 3M1249 574l4 3M1173 661l4 3M1167 654l4 3M1168 651l4 3M1135 640l4 3M1119 655l4 3M1133 643l4 3M1235 577l4 3M1243 604l4 3M1272 564l4 3M1257 616l4 3M1221 595l4 3" stroke="#2bffd4" stroke-width="2.4"/><path d="M1203 617l4 3" stroke="#00a" stroke-width="2.4"/><path d="M1230 620l4 3M1264 616l4 3M1140 642l4 3M1262 618l4 3M1154 664l4 3M1251 580l4 3M1166 655l4 3M1207 622l4 3M1181 632l4 3M1238 611l4 3" stroke="#00d4ff" stroke-width="2.4"/><path d="M1248 604l4 3M1271 613l4 3M1195 613l4 3M1248 619l4 3M1240 609l4 3M1265 558l4 3M1257 593l4 3M1178 636l4 3M1201 577l4 3M1200 669l4 3M1175 625l4 3M1249 582l4 3M1126 646l4 3M1185 635l4 3M1125 648l4 3M1200 615l4 3M1185 606l4 3M1145 675l4 3M1198 569l4 3M1161 652l4 3M1208 557l4 3M1179 628l4 3M1155 653l4 3" stroke="#5fa" stroke-width="2.4"/><path d="M1222 584l4 3M1133 674l4 3M1225 587l4 3M1242 599l4 3M1222 600l4 3M1189 606l4 3M1257 584l4 3M1235 609l4 3M1140 657l4 3M1192 626l4 3M1115 653l4 3M1206 559l4 3M1175 628l4 3M1217 595l4 3M1247 600l4 3M1261 620l4 3M1177 615l4 3M1120 645l4 3M1246 547l4 3M1142 670l4 3M1191 619l4 3M1265 576l4 3M1176 631l4 3M1144 645l4 3M1122 672l4 3M1230 538l4 3M1142 664l4 3M1122 675l4 3M1266 589l4 3M1200 609l4 3M1172 630l4 3M1151 674l4 3" stroke="#80ff80" stroke-width="2.4"/><path d="M1210 619l4 3M1255 604l4 3M1155 644l4 3M1172 669l4 3" stroke="#05f" stroke-width="2.4"/><path d="M1257 577l4 3M1219 583l4 3M1182 625l4 3M1165 632l4 3M1191 582l4 3M1189 615l4 3M1122 660l4 3M1206 590l4 3M1234 599l4 3M1198 565l4 3M1224 552l4 3M1160 637l4 3M1240 552l4 3M1207 550l4 3M1240 601l4 3M1221 549l4 3M1116 665l4 3M1186 580l4 3M1220 580l4 3M1165 585l4 3M1185 556l4 3M1248 592l4 3M1204 588l4 3M1269 547l4 3M1270 560l4 3M1244 589l4 3M1158 626l4 3M1131 638l4 3M1231 583l4 3M1184 661l4 3M1226 582l4 3M1154 600l4 3" stroke="#ffd500" stroke-width="2.4"/><path d="M1140 554l4 3M1188 516l4 3M1198 557l4 3M1173 565l4 3M1266 542l4 3M1242 497l4 3M1143 624l4 3M1125 631l4 3M1132 592l4 3M1237 520l4 3M1131 600l4 3M1137 590l4 3M1187 547l4 3M1147 624l4 3M1223 513l4 3M1256 519l4 3M1236 514l4 3M1201 528l4 3M1182 499l4 3M1213 482l4 3M1144 566l4 3M1232 519l4 3M1127 612l4 3M1136 577l4 3M1139 627l4 3M1209 495l4 3M1182 484l4 3M1243 487l4 3M1190 543l4 3M1251 588l4 3M1133 558l4 3M1187 517l4 3M1147 618l4 3M1234 561l4 3M1182 525l4 3M1232 495l4 3M1185 486l4 3M1139 636l4 3M1127 580l4 3M1152 564l4 3M1237 518l4 3M1144 561l4 3M1214 488l4 3M1210 540l4 3M1240 493l4 3M1224 490l4 3M1223 530l4 3M1244 610l4 3M1265 529l4 3M1211 506l4 3" stroke="#d50000" stroke-width="2.4"/><path d="M1213 621l4 3M1153 640l4 3M1173 643l4 3" stroke="#0000d5" stroke-width="2.4"/><path d="M1153 648l4 3M1214 628l4 3M1232 618l4 3M1178 659l4 3" stroke="#00f" stroke-width="2.4"/><path d="M1264 537l4 3M1231 521l4 3M1252 546l4 3M1212 513l4 3M1217 522l4 3M1193 571l4 3M1210 488l4 3M1133 622l4 3M1216 525l4 3M1209 528l4 3M1135 627l4 3M1265 545l4 3M1158 565l4 3M1163 531l4 3M1221 493l4 3M1242 491l4 3M1203 564l4 3M1243 481l4 3M1262 547l4 3M1157 556l4 3M1154 562l4 3M1221 484l4 3M1231 504l4 3M1250 510l4 3M1140 590l4 3M1260 520l4 3M1230 523l4 3M1183 543l4 3M1227 524l4 3M1254 544l4 3M1252 523l4 3M1217 484l4 3M1132 560l4 3M1219 506l4 3M1186 511l4 3M1230 497l4 3M1248 491l4 3M1142 552l4 3M1239 504l4 3" stroke="#800000" stroke-width="2.4"/><path d="M1207 614l4 3M1230 535l4 3M1192 675l4 3M1140 671l4 3M1208 582l4 3M1220 533l4 3M1255 589l4 3M1205 586l4 3M1179 576l4 3M1205 595l4 3M1232 580l4 3M1246 570l4 3M1190 604l4 3M1182 586l4 3M1141 648l4 3M1219 599l4 3M1187 596l4 3M1216 571l4 3M1206 607l4 3M1262 509l4 3M1206 578l4 3M1213 583l4 3M1233 532l4 3M1220 550l4 3M1182 607l4 3M1120 668l4 3M1217 577l4 3M1230 553l4 3M1247 589l4 3M1189 598l4 3M1166 639l4 3M1254 606l4 3M1198 610l4 3M1253 607l4 3M1228 578l4 3M1235 586l4 3M1231 559l4 3M1213 542l4 3M1232 551l4 3M1131 644l4 3M1131 655l4 3M1257 591l4 3M1239 594l4 3" stroke="#d5ff2a" stroke-width="2.4"/><path d="M1186 651l4 3M1175 657l4 3" stroke="#000080" stroke-width="2.4"/><path d="M1137 569l4 3M1138 611l4 3M1251 516l4 3M1239 510l4 3M1144 590l4 3M1211 515l4 3M1124 624l4 3M1239 517l4 3M1190 504l4 3M1153 602l4 3M1121 621l4 3M1206 500l4 3M1225 482l4 3M1273 535l4 3M1149 613l4 3M1236 504l4 3M1221 612l4 3M1136 633l4 3M1151 566l4 3M1197 534l4 3M1247 551l4 3M1177 593l4 3M1173 528l4 3M1258 524l4 3M1146 597l4 3M1194 537l4 3M1132 589l4 3M1173 551l4 3M1202 541l4 3M1190 529l4 3M1213 552l4 3M1208 534l4 3M1132 636l4 3M1191 511l4 3M1124 609l4 3M1143 562l4 3M1138 631l4 3M1264 582l4 3M1153 593l4 3M1155 575l4 3M1272 543l4 3M1189 545l4 3M1148 616l4 3M1184 573l4 3M1146 565l4 3M1171 514l4 3M1194 490l4 3M1255 502l4 3M1222 555l4 3M1258 492l4 3M1172 575l4 3M1213 522l4 3M1165 545l4 3M1126 599l4 3M1124 594l4 3M1125 584l4 3M1249 548l4 3M1265 536l4 3M1240 586l4 3M1260 543l4 3M1140 563l4 3" stroke="#ff2a00" stroke-width="2.4"/><path d="M1254 620l4 3M1267 621l4 3M1145 649l4 3M1165 663l4 3M1159 665l4 3M1163 674l4 3M1258 606l4 3M1172 628l4 3M1230 623l4 3M1183 616l4 3M1166 676l4 3M1192 643l4 3M1242 623l4 3M1246 617l4 3M1262 556l4 3M1271 566l4 3" stroke="#0ff" stroke-width="2.4"/><path d="M1127 629l4 3M1136 554l4 3M1258 539l4 3M1252 528l4 3M1183 531l4 3M1191 487l4 3M1269 532l4 3M1243 568l4 3M1227 527l4 3M1234 486l4 3M1150 568l4 3M1243 565l4 3M1210 503l4 3M1211 524l4 3M1152 604l4 3M1184 520l4 3M1162 559l4 3M1196 530l4 3M1132 566l4 3M1206 490l4 3M1142 547l4 3M1136 584l4 3M1130 576l4 3M1173 568l4 3M1260 535l4 3M1189 484l4 3M1152 547l4 3M1222 500l4 3M1204 539l4 3M1132 616l4 3M1261 533l4 3M1258 547l4 3M1190 496l4 3M1131 583l4 3M1196 521l4 3M1272 527l4 3M1238 564l4 3M1203 485l4 3M1248 504l4 3M1150 628l4 3M1211 509l4 3M1155 568l4 3M1142 602l4 3M1126 577l4 3M1203 549l4 3M1255 533l4 3M1185 658l4 3M1152 587l4 3M1162 551l4 3M1198 517l4 3M1228 484l4 3" stroke="#a00" stroke-width="2.4"/><path d="M1273 602l4 3M1188 623l4 3M1169 579l4 3M1153 585l4 3M1270 545l4 3M1195 514l4 3M1139 565l4 3M1192 515l4 3M1124 616l4 3M1201 513l4 3M1128 595l4 3M1122 611l4 3M1225 488l4 3M1175 610l4 3M1179 572l4 3M1149 590l4 3M1205 531l4 3M1262 595l4 3M1129 610l4 3M1193 557l4 3M1161 544l4 3M1137 622l4 3M1257 501l4 3M1231 574l4 3M1173 635l4 3M1134 611l4 3M1271 598l4 3M1258 490l4 3M1146 586l4 3M1195 552l4 3M1164 517l4 3M1180 532l4 3M1167 596l4 3M1181 594l4 3M1194 586l4 3M1195 489l4 3M1243 496l4 3M1192 657l4 3M1161 522l4 3M1141 579l4 3M1156 611l4 3M1271 604l4 3M1263 516l4 3M1131 632l4 3M1159 600l4 3M1161 567l4 3M1154 639l4 3M1235 530l4 3M1203 503l4 3M1149 608l4 3M1140 621l4 3M1189 513l4 3M1247 528l4 3M1182 569l4 3M1246 516l4 3M1128 636l4 3M1173 599l4 3M1143 607l4 3M1199 663l4 3M1201 677l4 3M1173 521l4 3M1191 564l4 3M1200 661l4 3M1197 659l4 3" stroke="#f50" stroke-width="2.4"/><path d="M1223 547l4 3M1152 610l4 3M1169 626l4 3M1144 659l4 3M1212 600l4 3M1197 583l4 3M1184 582l4 3M1241 562l4 3M1244 563l4 3M1232 540l4 3M1223 579l4 3M1185 588l4 3M1206 560l4 3M1182 599l4 3M1175 595l4 3M1155 583l4 3M1222 573l4 3M1171 625l4 3M1173 591l4 3M1209 595l4 3M1162 626l4 3M1225 549l4 3M1131 647l4 3M1212 577l4 3M1165 622l4 3M1260 581l4 3M1236 546l4 3M1127 659l4 3M1166 621l4 3M1180 558l4 3M1172 543l4 3M1186 613l4 3M1174 542l4 3" stroke="#ffd500" stroke-width="2.4"/><path d="M1223 532l4 3M1223 553l4 3M1168 610l4 3M1149 630l4 3M1190 566l4 3M1192 597l4 3M1183 554l4 3M1265 600l4 3M1170 609l4 3M1191 668l4 3M1128 604l4 3M1153 631l4 3M1155 606l4 3M1244 517l4 3M1209 543l4 3M1156 630l4 3M1170 600l4 3M1207 518l4 3M1233 517l4 3M1188 507l4 3M1196 591l4 3M1187 640l4 3M1145 579l4 3M1212 492l4 3M1223 545l4 3M1248 513l4 3M1182 671l4 3M1155 615l4 3M1155 589l4 3M1132 660l4 3M1136 609l4 3M1159 522l4 3M1209 493l4 3M1255 525l4 3M1132 607l4 3M1191 587l4 3M1263 546l4 3M1171 578l4 3M1188 602l4 3M1247 562l4 3M1215 557l4 3" stroke="#ff8000" stroke-width="2.4"/><path d="M1235 591l4 3M1170 647l4 3M1170 650l4 3M1222 610l4 3M1183 654l4 3M1128 644l4 3" stroke="#0080ff" stroke-width="2.4"/><path d="M1209 581l4 3M1241 543l4 3M1245 540l4 3M1259 504l4 3M1245 549l4 3M1189 632l4 3M1161 654l4 3M1199 616l4 3M1219 591l4 3M1229 561l4 3M1194 624l4 3M1212 592l4 3M1205 600l4 3M1142 655l4 3M1220 603l4 3M1200 585l4 3M1118 657l4 3M1193 664l4 3M1203 582l4 3M1230 591l4 3M1126 674l4 3M1205 592l4 3M1201 574l4 3M1196 660l4 3M1188 661l4 3" stroke="#80ff80" stroke-width="2.4"/><path d="M1147 642l4 3M1218 616l4 3M1187 649l4 3M1174 650l4 3M1179 645l4 3" stroke="#002aff" stroke-width="2.4"/><path d="M1246 614l4 3M1197 621l4 3M1178 622l4 3M1129 657l4 3M1234 538l4 3M1159 632l4 3M1164 657l4 3M1123 655l4 3M1257 602l4 3M1246 623l4 3M1266 611l4 3M1234 588l4 3M1229 571l4 3M1178 623l4 3M1263 554l4 3M1240 624l4 3M1149 667l4 3M1142 646l4 3M1187 666l4 3M1238 605l4 3" stroke="#5fa" stroke-width="2.4"/><path d="M1259 537l4 3M1218 508l4 3M1138 582l4 3M1164 555l4 3M1143 632l4 3M1204 524l4 3M1174 559l4 3M1202 557l4 3M1163 519l4 3M1211 538l4 3M1141 610l4 3M1216 516l4 3M1267 533l4 3M1135 564l4 3M1147 572l4 3M1162 548l4 3M1213 490l4 3M1207 498l4 3M1179 665l4 3M1158 574l4 3M1169 593l4 3M1228 616l4 3M1229 517l4 3M1155 554l4 3M1127 615l4 3M1193 510l4 3M1182 665l4 3M1153 579l4 3M1251 492l4 3M1225 557l4 3M1156 561l4 3M1179 595l4 3M1193 486l4 3M1155 551l4 3M1196 544l4 3M1148 546l4 3M1213 528l4 3M1144 587l4 3M1176 556l4 3M1147 601l4 3M1197 510l4 3M1250 494l4 3M1137 553l4 3M1150 606l4 3M1206 555l4 3M1126 581l4 3M1163 528l4 3M1183 490l4 3M1144 572l4 3M1226 502l4 3M1142 617l4 3" stroke="#d50000" stroke-width="2.4"/><path d="M1158 635l4 3M1166 636l4 3M1232 612l4 3M1150 597l4 3M1261 559l4 3M1159 610l4 3M1271 572l4 3M1160 578l4 3M1248 583l4 3M1151 595l4 3M1192 492l4 3M1167 630l4 3M1260 528l4 3M1249 520l4 3M1175 633l4 3M1173 583l4 3M1215 547l4 3M1191 603l4 3M1159 638l4 3M1260 596l4 3M1159 592l4 3M1212 574l4 3M1135 601l4 3M1195 599l4 3M1188 616l4 3M1184 559l4 3M1240 545l4 3M1168 628l4 3M1230 567l4 3M1253 561l4 3M1162 603l4 3M1200 562l4 3M1168 605l4 3M1214 567l4 3M1162 598l4 3M1224 574l4 3M1159 656l4 3M1269 591l4 3M1155 592l4 3M1210 550l4 3M1232 502l4 3M1253 500l4 3M1187 579l4 3M1195 585l4 3M1202 606l4 3M1223 591l4 3" stroke="#fa0" stroke-width="2.4"/><path d="M1177 672l4 3M1211 617l4 3M1175 674l4 3M1130 641l4 3M1205 616l4 3M1155 646l4 3M1213 615l4 3M1162 667l4 3" stroke="#0000d5" stroke-width="2.4"/><path d="M1171 569l4 3M1152 572l4 3M1199 485l4 3M1222 491l4 3M1205 508l4 3M1135 617l4 3M1203 534l4 3M1182 537l4 3M1212 530l4 3M1144 545l4 3M1183 545l4 3M1132 568l4 3M1186 493l4 3M1262 564l4 3M1223 524l4 3M1121 630l4 3M1149 559l4 3M1271 528l4 3M1121 613l4 3M1201 521l4 3M1221 525l4 3M1167 528l4 3M1209 504l4 3M1246 509l4 3M1215 526l4 3M1271 521l4 3M1152 555l4 3M1166 554l4 3M1187 485l4 3M1173 533l4 3M1181 542l4 3M1245 486l4 3M1190 519l4 3M1186 671l4 3M1263 522l4 3M1124 604l4 3M1135 571l4 3" stroke="#a00" stroke-width="2.4"/><path d="M1267 619l4 3" stroke="#00a" stroke-width="2.4"/><path d="M1187 643l4 3M1268 553l4 3M1221 627l4 3M1160 662l4 3M1179 651l4 3M1161 643l4 3M1218 614l4 3" stroke="#05f" stroke-width="2.4"/><path d="M1144 569l4 3M1203 567l4 3M1202 525l4 3M1194 560l4 3M1151 620l4 3M1149 552l4 3M1170 563l4 3M1128 627l4 3M1217 514l4 3M1223 506l4 3M1225 517l4 3M1197 673l4 3M1141 593l4 3M1234 514l4 3M1146 562l4 3M1254 528l4 3M1160 546l4 3M1242 515l4 3M1140 619l4 3M1171 539l4 3M1138 597l4 3M1228 617l4 3M1148 584l4 3M1193 524l4 3M1126 605l4 3M1193 562l4 3M1216 502l4 3M1187 537l4 3M1255 557l4 3M1144 575l4 3M1164 547l4 3M1142 576l4 3M1224 483l4 3M1219 565l4 3M1168 541l4 3M1192 519l4 3M1207 521l4 3M1241 511l4 3M1191 550l4 3M1151 549l4 3M1201 559l4 3M1176 585l4 3M1132 630l4 3M1256 488l4 3M1190 568l4 3M1145 613l4 3M1128 619l4 3M1180 566l4 3M1269 541l4 3M1198 549l4 3M1213 496l4 3M1181 662l4 3M1164 564l4 3M1258 544l4 3M1122 620l4 3M1238 501l4 3M1204 509l4 3" stroke="#f00" stroke-width="2.4"/><path d="M1114 666l4 3M1250 577l4 3M1243 591l4 3M1213 569l4 3M1236 599l4 3M1192 673l4 3M1159 580l4 3M1148 663l4 3M1164 608l4 3M1146 655l4 3M1267 580l4 3M1258 559l4 3M1257 609l4 3M1118 651l4 3M1241 605l4 3M1192 618l4 3M1265 591l4 3M1190 621l4 3M1228 531l4 3M1182 601l4 3M1201 621l4 3M1185 638l4 3M1234 547l4 3M1199 599l4 3M1222 541l4 3M1260 511l4 3M1244 572l4 3M1162 650l4 3M1238 579l4 3M1257 571l4 3M1254 597l4 3M1133 665l4 3M1146 672l4 3M1256 610l4 3M1175 619l4 3M1129 650l4 3M1146 667l4 3M1114 661l4 3M1206 584l4 3M1209 613l4 3M1251 514l4 3M1207 553l4 3" stroke="#d5ff2a" stroke-width="2.4"/><path d="M1147 548l4 3M1243 502l4 3M1131 623l4 3M1151 580l4 3M1261 524l4 3M1182 547l4 3M1226 495l4 3M1197 667l4 3M1187 540l4 3M1200 530l4 3M1238 495l4 3M1159 548l4 3M1161 553l4 3M1218 488l4 3M1227 486l4 3M1127 620l4 3M1147 557l4 3M1149 623l4 3M1144 552l4 3M1197 519l4 3M1252 525l4 3M1198 666l4 3M1172 537l4 3M1189 578l4 3M1224 504l4 3M1217 493l4 3M1165 571l4 3M1221 519l4 3M1236 560l4 3M1191 526l4 3M1216 518l4 3M1199 538l4 3M1133 628l4 3M1242 506l4 3M1242 483l4 3M1199 523l4 3M1247 507l4 3M1210 511l4 3M1198 531l4 3M1136 560l4 3M1220 495l4 3" stroke="#800000" stroke-width="2.4"/><path d="M1118 648l4 3M1164 648l4 3M1243 542l4 3M1258 614l4 3M1200 594l4 3M1242 597l4 3M1128 648l4 3M1157 657l4 3M1236 622l4 3M1119 670l4 3M1248 543l4 3M1255 581l4 3M1136 639l4 3M1169 658l4 3M1252 602l4 3M1194 662l4 3M1229 625l4 3" stroke="#2bffd4" stroke-width="2.4"/><path d="M1170 670l4 3M1169 672l4 3M1163 665l4 3" stroke="#000080" stroke-width="2.4"/><path d="M1184 646l4 3M1219 620l4 3M1219 623l4 3M1166 670l4 3M1165 671l4 3" stroke="#00f" stroke-width="2.4"/><path d="M1266 557l4 3M1157 644l4 3M1219 629l4 3M1172 646l4 3M1161 675l4 3M1153 654l4 3M1233 589l4 3M1233 611l4 3M1233 625l4 3" stroke="#0af" stroke-width="2.4"/><path d="M1263 514l4 3M1204 579l4 3M1249 536l4 3M1261 602l4 3M1203 597l4 3M1165 617l4 3M1236 583l4 3M1219 605l4 3M1214 596l4 3M1196 606l4 3M1181 618l4 3M1150 652l4 3M1251 594l4 3M1126 670l4 3M1225 537l4 3M1134 663l4 3M1263 568l4 3M1250 617l4 3M1230 584l4 3M1237 549l4 3M1181 611l4 3M1254 568l4 3M1128 665l4 3M1184 614l4 3M1140 665l4 3M1250 571l4 3M1140 659l4 3M1139 661l4 3M1121 657l4 3" stroke="#af5" stroke-width="2.4"/><path d="M1270 621l4 3M1185 629l4 3M1170 665l4 3M1171 662l4 3M1167 675l4 3M1197 611l4 3M1253 576l4 3M1241 616l4 3M1211 625l4 3M1169 667l4 3M1235 623l4 3M1239 617l4 3" stroke="#0ff" stroke-width="2.4"/><path d="M1196 573l4 3M1212 585l4 3M1136 648l4 3M1270 577l4 3M1229 554l4 3M1239 542l4 3M1191 629l4 3M1258 516l4 3M1148 653l4 3M1226 573l4 3M1166 615l4 3M1177 579l4 3M1118 663l4 3M1209 574l4 3M1219 573l4 3M1259 496l4 3M1168 532l4 3M1196 676l4 3M1157 651l4 3M1249 558l4 3M1256 509l4 3M1193 615l4 3M1224 568l4 3M1186 610l4 3M1233 554l4 3M1248 599l4 3M1232 571l4 3M1218 570l4 3M1219 567l4 3M1177 617l4 3M1160 575l4 3M1271 575l4 3M1223 576l4 3M1203 604l4 3M1272 594l4 3M1246 568l4 3M1261 579l4 3" stroke="#ff0" stroke-width="2.4"/><path d="M1260 613l4 3M1263 609l4 3M1167 662l4 3M1249 613l4 3M1151 656l4 3M1174 665l4 3M1177 652l4 3M1157 649l4 3M1175 648l4 3M1241 575l4 3M1269 617l4 3M1154 662l4 3M1164 646l4 3" stroke="#00d4ff" stroke-width="2.4"/><path d="M1214 534l4 3M1138 577l4 3M1171 532l4 3M1159 618l4 3M1230 512l4 3M1239 562l4 3M1222 514l4 3M1248 566l4 3M1126 590l4 3M1132 575l4 3M1211 483l4 3M1236 528l4 3M1164 540l4 3M1167 537l4 3M1129 587l4 3M1161 612l4 3M1166 562l4 3M1178 569l4 3M1152 627l4 3M1262 518l4 3M1159 615l4 3M1251 556l4 3M1253 521l4 3M1180 565l4 3M1269 585l4 3M1168 566l4 3M1204 518l4 3M1168 564l4 3M1201 551l4 3M1157 628l4 3M1187 587l4 3M1128 571l4 3M1251 501l4 3M1234 492l4 3M1191 572l4 3M1250 527l4 3M1178 528l4 3M1167 519l4 3M1172 553l4 3M1174 589l4 3M1168 599l4 3M1239 499l4 3M1232 493l4 3M1177 571l4 3M1196 550l4 3M1193 577l4 3M1206 515l4 3M1230 483l4 3M1140 595l4 3M1191 660l4 3M1162 621l4 3M1189 553l4 3M1252 491l4 3M1203 556l4 3M1176 532l4 3" stroke="#ff2a00" stroke-width="2.4"/><path d="M1184 695h0M1180 691h0M1173 512h0M1223 691h0M1265 494h0M1271 494h0M1218 697h0M1138 698h0" stroke="#0af" stroke-width="7"/><path d="M1113 700h0M1231 692h0M1231 686h0M1127 677h0" stroke="#2bffd4" stroke-width="7"/><path d="M1119 701h0M1155 542h0M1123 689h0" stroke="#ffd500" stroke-width="7"/><path d="M1153 528h0M1114 691h0" stroke="#d5ff2a" stroke-width="7"/><path d="M1125 680h0M1207 692h0M1176 686h0M1188 688h0M1264 627h0M1159 687h0M1267 510h0M1271 518h0M1205 684h0M1157 695h0M1273 503h0M1148 537h0" stroke="#0080ff" stroke-width="7"/><path d="M1134 689h0M1251 627h0M1143 695h0M1168 701h0M1173 691h0M1153 536h0M1198 700h0M1259 635h0M1179 679h0M1166 680h0M1160 684h0" stroke="#0000d5" stroke-width="7"/><path d="M1171 683h0M1137 677h0M1152 687h0M1154 509h0M1178 689h0M1156 679h0M1154 522h0M1246 696h0M1161 700h0M1225 629h0M1230 697h0M1243 684h0M1249 695h0M1120 677h0M1233 701h0" stroke="#002aff" stroke-width="7"/><path d="M1253 689h0M1245 693h0M1152 680h0M1180 697h0" stroke="#00f" stroke-width="7"/><path d="M1153 531h0M1214 686h0M1211 692h0M1267 629h0M1251 686h0M1208 689h0M1250 635h0" stroke="#00a" stroke-width="7"/><path d="M1125 691h0M1115 698h0M1131 698h0" stroke="#ff0" stroke-width="7"/><path d="M1179 506h0M1156 536h0M1142 687h0M1273 516h0M1206 680h0M1226 701h0" stroke="#0ff" stroke-width="7"/><path d="M1133 702h0" stroke="#ff8000" stroke-width="7"/><path d="M1128 680h0M1117 677h0M1236 689h0M1212 695h0M1262 632h0M1211 698h0M1166 512h0M1191 701h0M1216 695h0M1198 683h0M1191 695h0M1181 683h0M1214 692h0M1154 689h0M1186 512h0M1194 701h0M1138 680h0M1149 685h0M1168 683h0M1158 509h0M1128 685h0M1135 686h0M1145 692h0M1219 689h0M1127 682h0M1257 626h0M1276 497h0" stroke="#000080" stroke-width="7"/><path d="M1275 513h0" stroke="#800000" stroke-width="7"/><path d="M1275 518h0M1217 680h0M1116 701h0M1119 683h0" stroke="#80ff80" stroke-width="7"/><path d="M1117 692h0" stroke="#f50" stroke-width="7"/><path d="M1162 506h0M1141 689h0M1114 686h0M1181 695h0" stroke="#00d4ff" stroke-width="7"/><path d="M1123 683h0M1273 491h0M1256 635h0M1268 501h0M1144 701h0M1186 506h0M1131 677h0M1178 509h0M1137 701h0" stroke="#05f" stroke-width="7"/><path d="M1274 510h0M1171 689h0M1154 503h0M1156 530h0M1199 688h0M1232 690h0M1183 507h0M1152 512h0" stroke="#5fa" stroke-width="7"/><path d="M1275 500h0" stroke="#fa0" stroke-width="7"/><path d="M1262 626h0M1276 494h0M1160 509h0M1118 679h0M1266 636h0M1231 631h0M1153 701h0M1272 506h0M1271 500h0M1183 513h0M1162 692h0M1156 691h0" stroke="#00a" stroke-width="7"/><path d="M1202 689h0M1153 539h0M1159 542h0M1219 696h0" stroke="#0ff" stroke-width="7"/><path d="M1131 686h0M1186 687h0M1244 686h0M1274 497h0M1229 629h0M1234 638h0" stroke="#0080ff" stroke-width="7"/><path d="M1266 498h0M1122 698h0" stroke="#ff2a00" stroke-width="7"/><path d="M1123 695h0M1123 701h0" stroke="#80ff80" stroke-width="7"/><path d="M1208 702h0M1236 701h0M1168 689h0M1133 683h0M1136 689h0M1150 540h0M1192 688h0M1241 686h0" stroke="#002aff" stroke-width="7"/><path d="M1113 689h0" stroke="#ffd500" stroke-width="7"/><path d="M1198 695h0" stroke="#ff0" stroke-width="7"/><path d="M1157 701h0M1159 518h0M1163 509h0M1176 506h0M1210 680h0M1125 685h0M1160 689h0" stroke="#00d4ff" stroke-width="7"/><path d="M1249 689h0M1211 686h0M1174 509h0M1275 507h0M1185 690h0M1156 506h0M1178 683h0" stroke="#5fa" stroke-width="7"/><path d="M1270 509h0" stroke="#fa0" stroke-width="7"/><path d="M1152 518h0" stroke="#ff8000" stroke-width="7"/><path d="M1183 680h0M1176 698h0M1152 698h0M1245 698h0M1156 686h0M1255 626h0M1193 692h0M1248 692h0M1224 686h0M1202 682h0M1231 638h0M1225 694h0M1237 692h0M1206 685h0M1140 701h0M1224 639h0M1165 688h0M1256 629h0M1226 689h0" stroke="#00f" stroke-width="7"/><path d="M1155 512h0M1166 506h0M1201 680h0M1148 699h0M1180 686h0" stroke="#2bffd4" stroke-width="7"/><path d="M1140 683h0M1146 686h0M1181 701h0M1163 686h0" stroke="#05f" stroke-width="7"/><path d="M1169 512h0M1177 692h0M1267 503h0" stroke="#af5" stroke-width="7"/><path d="M1271 512h0" stroke="#f00" stroke-width="7"/><path d="M1270 491h0M1130 689h0" stroke="#f50" stroke-width="7"/><path d="M1183 693h0M1233 635h0M1219 700h0M1226 635h0M1251 697h0M1209 695h0M1169 692h0M1205 701h0M1263 635h0" stroke="#0000d5" stroke-width="7"/><path d="M1245 631h0M1201 692h0M1121 679h0M1243 635h0M1185 682h0M1196 699h0M1259 629h0M1228 701h0M1157 533h0M1208 683h0M1194 694h0M1239 694h0M1122 686h0M1239 630h0M1239 634h0M1150 689h0M1242 695h0M1186 679h0M1150 695h0M1164 701h0M1145 697h0M1157 678h0" stroke="#000080" stroke-width="7"/><path d="M1115 695h0M1118 687h0M1189 701h0M1122 693h0" stroke="#d5ff2a" stroke-width="7"/><path d="M1185 510h0M1205 695h0M1122 677h0M1159 692h0M1205 689h0M1149 530h0M1160 696h0M1147 689h0M1158 516h0M1159 530h0" stroke="#0af" stroke-width="7"/><path d="M1204 686h0M1166 698h0" stroke="#2bffd4" stroke-width="7"/><path d="M1113 696h0M1187 695h0M1268 494h0M1157 521h0M1224 700h0" stroke="#ff0" stroke-width="7"/><path d="M1276 504h0" stroke="#fa0" stroke-width="7"/><path d="M1208 693h0" stroke="#ff8000" stroke-width="7"/><path d="M1151 522h0M1157 527h0M1126 701h0" stroke="#af5" stroke-width="7"/><path d="M1164 683h0M1212 690h0M1162 679h0M1207 698h0M1150 533h0M1195 684h0M1230 681h0" stroke="#0080ff" stroke-width="7"/><path d="M1193 698h0M1120 688h0M1166 686h0M1134 679h0" stroke="#00d4ff" stroke-width="7"/><path d="M1171 695h0M1169 680h0M1155 525h0M1229 635h0M1226 642h0M1157 539h0M1154 515h0M1145 681h0M1227 685h0M1254 635h0M1246 636h0M1172 698h0" stroke="#00f" stroke-width="7"/><path d="M1139 692h0M1235 635h0M1174 701h0M1151 516h0M1221 691h0M1162 512h0M1176 497h0M1199 657h0M1212 658h0M1204 640h0M1248 665h0M1211 667h0" stroke="#0000d5" stroke-width="7"/><path d="M1131 692h0M1130 695h0M1267 491h0M1127 694h0M1129 701h0M1128 698h0M1206 695h0" stroke="#d5ff2a" stroke-width="7"/><path d="M1170 509h0M1239 690h0M1152 524h0M1239 701h0M1150 683h0" stroke="#5fa" stroke-width="7"/><path d="M1224 631h0M1163 698h0M1174 683h0M1196 692h0M1183 686h0M1270 630h0M1215 700h0M1144 683h0M1217 692h0M1248 633h0M1166 692h0M1203 692h0M1243 628h0M1154 533h0M1252 629h0M1269 498h0M1212 683h0" stroke="#000080" stroke-width="7"/><path d="M1268 626h0M1153 542h0M1252 638h0M1238 685h0M1213 682h0" stroke="#0af" stroke-width="7"/><path d="M1269 506h0" stroke="#800000" stroke-width="7"/><path d="M1202 701h0M1176 512h0M1222 700h0M1229 640h0M1239 684h0M1147 683h0M1194 689h0M1181 510h0M1152 506h0M1158 522h0" stroke="#002aff" stroke-width="7"/><path d="M1196 684h0M1173 696h0" stroke="#ffd500" stroke-width="7"/><path d="M1224 698h0M1170 498h0M1199 695h0M1249 681h0" stroke="#80ff80" stroke-width="7"/><path d="M1248 686h0M1149 542h0M1222 689h0M1237 638h0M1114 681h0M1173 680h0M1169 687h0M1165 493h0M1153 506h0M1201 659h0M1212 659h0M1218 676h0M1231 673h0M1239 675h0M1245 669h0M1249 665h0" stroke="#00a" stroke-width="7"/><path d="M1142 698h0M1159 698h0M1237 632h0M1157 682h0M1175 689h0M1236 696h0M1170 701h0M1174 694h0" stroke="#05f" stroke-width="7"/><path d="M1176 680h0M1142 680h0M1193 681h0M1172 507h0M1150 527h0M1178 699h0M1213 700h0" stroke="#0ff" stroke-width="7"/></g>
<use href="#bd" transform="translate(840.76,387.17) scale(1.0056,1.0127)"/>
<text class="t" x="988.4" y="501.7" letter-spacing="-0.9">48<tspan class="d" x="1006.8" y="495.5" letter-spacing="0">° </tspan><tspan x="1017.3" y="501.7">N</tspan></text>
<text class="t" x="988.4" y="520.7" letter-spacing="-0.9">46<tspan class="d" x="1006.8" y="514.6" letter-spacing="0">° </tspan><tspan x="1017.3" y="520.7">N</tspan></text>
<text class="t" x="988.4" y="537.7" letter-spacing="-0.9">44<tspan class="d" x="1006.8" y="531.3" letter-spacing="0">° </tspan><tspan x="1017.3" y="537.7">N</tspan></text>
<text class="t" x="988.4" y="555.4" letter-spacing="-0.9">42<tspan class="d" x="1006.8" y="549.5" letter-spacing="0">° </tspan><tspan x="1017.3" y="555.4">N</tspan></text>
<text class="t" x="988.4" y="571.4" letter-spacing="-0.9">40<tspan class="d" x="1006.8" y="566.6" letter-spacing="0">° </tspan><tspan x="1017.3" y="571.4">N</tspan></text>
<text class="t" x="988.4" y="587.7" letter-spacing="-0.9">38<tspan class="d" x="1006.8" y="581.1" letter-spacing="0">° </tspan><tspan x="1017.3" y="587.7">N</tspan></text>
<text class="t" x="988.4" y="603.7" letter-spacing="-0.9">36<tspan class="d" x="1006.8" y="597.5" letter-spacing="0">° </tspan><tspan x="1017.3" y="603.7">N</tspan></text>
<text class="t" x="988.4" y="618.7" letter-spacing="-0.9">34<tspan class="d" x="1006.8" y="612.4" letter-spacing="0">° </tspan><tspan x="1017.3" y="618.7">N</tspan></text>
<text class="t" x="988.4" y="634.7" letter-spacing="-0.9">32<tspan class="d" x="1006.8" y="629.1" letter-spacing="0">° </tspan><tspan x="1017.3" y="634.7">N</tspan></text>
<text class="t" x="988.4" y="649.7" letter-spacing="-0.9">30<tspan class="d" x="1006.8" y="643.5" letter-spacing="0">° </tspan><tspan x="1017.3" y="649.7">N</tspan></text>
<text class="t" x="988.4" y="664.3" letter-spacing="-0.9">28<tspan class="d" x="1006.8" y="658.1" letter-spacing="0">° </tspan><tspan x="1017.3" y="664.3">N</tspan></text>
<text class="t" x="988.4" y="678.3" letter-spacing="-0.9">26<tspan class="d" x="1006.8" y="672.4" letter-spacing="0">° </tspan><tspan x="1017.3" y="678.3">N</tspan></text>
<text class="t" x="988.4" y="691.7" letter-spacing="-0.9">24<tspan class="d" x="1006.8" y="685.1" letter-spacing="0">° </tspan><tspan x="1017.3" y="691.7">N</tspan></text>
<text class="t" x="988.4" y="705.0" letter-spacing="-0.9">22<tspan class="d" x="1006.8" y="699.7" letter-spacing="0">° </tspan><tspan x="1017.3" y="705.0">N</tspan></text>
<text class="t" x="1059.3" y="464.4">100<tspan class="d" x="1086.1" y="457.8">° </tspan><tspan x="1096.4" y="464.4">W</tspan></text>
<text class="t" x="1127.4" y="464.4">90<tspan class="d" x="1145.6" y="457.8">° </tspan><tspan x="1156.8" y="464.4">W</tspan></text>
<text class="t" x="1190.2" y="464.4">80<tspan class="d" x="1209.4" y="457.8">° </tspan><tspan x="1219.7" y="464.4">W</tspan></text>
<text class="t" x="1255.5" y="464.4">70<tspan class="d" x="1273.7" y="457.8">° </tspan><tspan x="1284.5" y="464.4">W</tspan></text>
<rect x="1285.3" y="485.2" width="23.7" height="215.5" fill="url(#jet)"/>
<rect x="1285.8" y="485.7" width="22.7" height="214.5" fill="none" stroke="#000" stroke-opacity="0.85" stroke-width="1"/>
<text class="c" x="1317.2" y="492.7">2</text>
<text class="c" x="1317.2" y="545.8">1</text>
<path d="M1309.0 538.3h-3" stroke="#111" stroke-width="1"/>
<text class="c" x="1317.2" y="599.4">0</text>
<path d="M1309.0 591.9h-3" stroke="#111" stroke-width="1"/>
<text class="c" x="1317.3" y="653.3">-<tspan dx="1.3">1</tspan></text>
<path d="M1309.0 645.8h-3" stroke="#111" stroke-width="1"/>
<text class="c" x="1317.3" y="706.4">-<tspan dx="1.3">2</tspan></text>
<path d="M1309.0 698.9h-3" stroke="#111" stroke-width="1"/>
<text class="x" x="1150.4" y="731.5" text-anchor="middle">SAT<tspan dx="0.8">-</tspan><tspan dx="1.4">RAP 500 hPa Temp (K)</tspan></text>
</g>
</svg></body></html>
